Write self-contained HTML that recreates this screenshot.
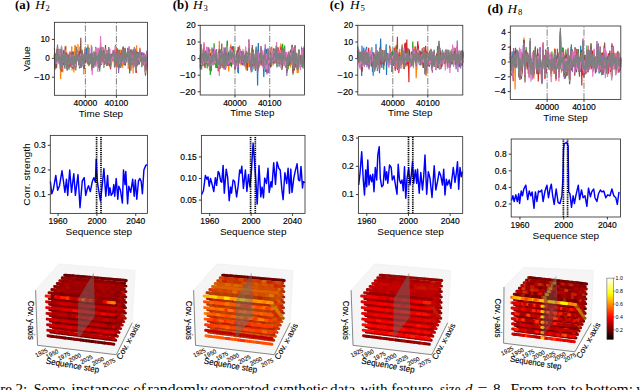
<!DOCTYPE html>
<html><head><meta charset="utf-8"><style>
html,body{margin:0;padding:0;background:#fff;width:640px;height:390px;overflow:hidden}
svg{display:block}
</style></head><body>
<svg width="640" height="390" viewBox="0 0 640 390">
<text x="15" y="9" font-family="Liberation Serif" font-size="12.8" font-weight="bold">(a)</text>
<text x="35.2" y="9" font-family="Liberation Serif" font-size="13.3" font-style="italic">H</text>
<text x="45.6" y="10.7" font-family="Liberation Serif" font-size="8.6">2</text>
<text x="172.8" y="9" font-family="Liberation Serif" font-size="12.8" font-weight="bold">(b)</text>
<text x="193" y="9" font-family="Liberation Serif" font-size="13.3" font-style="italic">H</text>
<text x="203.4" y="10.7" font-family="Liberation Serif" font-size="8.6">3</text>
<text x="329.8" y="9" font-family="Liberation Serif" font-size="12.8" font-weight="bold">(c)</text>
<text x="350" y="9" font-family="Liberation Serif" font-size="13.3" font-style="italic">H</text>
<text x="360.4" y="10.7" font-family="Liberation Serif" font-size="8.6">5</text>
<text x="487.4" y="12.8" font-family="Liberation Serif" font-size="12.8" font-weight="bold">(d)</text>
<text x="507.6" y="12.8" font-family="Liberation Serif" font-size="13.3" font-style="italic">H</text>
<text x="518" y="14.5" font-family="Liberation Serif" font-size="8.6">8</text>
<line x1="51.9" y1="77.2" x2="54.4" y2="77.2" stroke="#222" stroke-width="0.9"/>
<text x="49.8" y="80" font-size="8.2" font-family="Liberation Sans" text-anchor="end" textLength="15.62" lengthAdjust="spacingAndGlyphs" stroke="#000" stroke-width="0.15">−10</text>
<line x1="51.9" y1="58.3" x2="54.4" y2="58.3" stroke="#222" stroke-width="0.9"/>
<text x="49.8" y="61.1" font-size="8.2" font-family="Liberation Sans" text-anchor="end" textLength="4.57" lengthAdjust="spacingAndGlyphs" stroke="#000" stroke-width="0.15">0</text>
<line x1="51.9" y1="39.4" x2="54.4" y2="39.4" stroke="#222" stroke-width="0.9"/>
<text x="49.8" y="42.2" font-size="8.2" font-family="Liberation Sans" text-anchor="end" textLength="9.34" lengthAdjust="spacingAndGlyphs" stroke="#000" stroke-width="0.15">10</text>
<line x1="85.4" y1="95.3" x2="85.4" y2="22.3" stroke="#6a6a6a" stroke-width="0.85" stroke-dasharray="6.4 1.6 1 1.6"/>
<line x1="116.4" y1="95.3" x2="116.4" y2="22.3" stroke="#6a6a6a" stroke-width="0.85" stroke-dasharray="6.4 1.6 1 1.6"/>
<g fill="none" stroke-width="1.2" stroke-linejoin="miter">
<polyline stroke="#1f77b4" points="54.4,56.9 54.7,55.0 55.0,55.0 55.3,65.3 55.6,61.0 55.9,62.9 56.3,53.8 56.6,62.6 56.9,53.6 57.2,55.1 57.5,50.0 57.8,56.4 58.1,57.6 58.4,56.7 58.7,63.4 59.0,51.3 59.4,59.9 59.7,49.6 60.0,55.2 60.3,54.5 60.6,70.0 60.9,70.8 61.2,60.1 61.5,47.2 61.8,70.3 62.1,63.7 62.5,62.1 62.8,64.2 63.1,59.4 63.4,62.2 63.7,50.6 64.0,63.2 64.3,53.5 64.6,61.7 64.9,58.9 65.2,50.7 65.6,57.9 65.9,58.7 66.2,63.4 66.5,53.8 66.8,54.5 67.1,61.6 67.4,69.7 67.7,61.8 68.0,67.1 68.3,66.8 68.7,54.6 69.0,59.9 69.3,61.2 69.6,52.3 69.9,64.1 70.2,57.5 70.5,53.4 70.8,59.5 71.1,65.8 71.5,58.0 71.8,53.7 72.1,66.7 72.4,61.7 72.7,61.2 73.0,52.7 73.3,68.6 73.6,60.4 73.9,63.2 74.2,64.2 74.5,55.8 74.9,61.4 75.2,63.1 75.5,59.4 75.8,66.5 76.1,52.1 76.4,51.8 76.7,58.5 77.0,59.1 77.3,57.1 77.7,57.2 78.0,56.1 78.3,59.6 78.6,61.2 78.9,64.1 79.2,56.5 79.5,68.4 79.8,64.2 80.1,58.3 80.4,54.4 80.8,57.2 81.1,68.0 81.4,58.4 81.7,55.5 82.0,51.9 82.3,52.6 82.6,57.0 82.9,57.7 83.2,64.3 83.5,64.0 83.8,63.8 84.2,64.0 84.5,63.5 84.8,54.6 85.1,49.1 85.4,53.8 85.7,59.4 86.0,58.5 86.3,47.7 86.6,55.5 86.9,57.8 87.3,59.5 87.6,59.3 87.9,51.6 88.2,53.1 88.5,64.4 88.8,52.4 89.1,65.0 89.4,58.5 89.7,60.4 90.0,57.9 90.4,61.3 90.7,60.3 91.0,57.4 91.3,56.3 91.6,63.9 91.9,55.4 92.2,69.2 92.5,62.5 92.8,60.8 93.2,55.6 93.5,62.5 93.8,65.5 94.1,53.7 94.4,62.0 94.7,55.2 95.0,55.2 95.3,61.8 95.6,46.9 95.9,53.6 96.2,59.0 96.6,54.2 96.9,57.7 97.2,56.8 97.5,57.3 97.8,60.3 98.1,62.4 98.4,54.1 98.7,67.7 99.0,61.6 99.3,53.7 99.7,66.7 100.0,56.8 100.3,50.2 100.6,46.5 100.9,50.9 101.2,58.8 101.5,63.8 101.8,52.2 102.1,56.8 102.4,50.0 102.8,52.9 103.1,61.2 103.4,59.3 103.7,67.4 104.0,57.6 104.3,54.5 104.6,59.8 104.9,54.8 105.2,54.6 105.5,48.6 105.9,63.9 106.2,56.7 106.5,58.4 106.8,59.0 107.1,53.2 107.4,51.9 107.7,63.0 108.0,61.1 108.3,62.1 108.7,48.9 109.0,59.5 109.3,59.9 109.6,62.8 109.9,54.0 110.2,63.2 110.5,66.7 110.8,59.9 111.1,53.9 111.4,60.4 111.8,60.1 112.1,57.7 112.4,53.4 112.7,52.8 113.0,54.3 113.3,53.0 113.6,54.2 113.9,60.0 114.2,57.5 114.5,67.1 114.8,64.8 115.2,53.9 115.5,50.7 115.8,60.1 116.1,64.7 116.4,62.0 116.7,59.2 117.0,55.3 117.3,67.2 117.6,51.7 117.9,58.7 118.3,56.6 118.6,65.9 118.9,61.3 119.2,50.1 119.5,56.7 119.8,60.8 120.1,56.9 120.4,59.2 120.7,66.3 121.1,59.3 121.4,50.4 121.7,56.9 122.0,54.0 122.3,55.6 122.6,59.5 122.9,59.9 123.2,46.5 123.5,56.3 123.8,53.1 124.2,65.2 124.5,52.3 124.8,53.2 125.1,49.2 125.4,65.7 125.7,58.3 126.0,57.0 126.3,62.4 126.6,60.5 126.9,60.8 127.2,57.6 127.6,59.9 127.9,47.7 128.2,53.9 128.5,58.5 128.8,60.4 129.1,49.9 129.4,59.8 129.7,73.6 130.0,60.9 130.3,54.2 130.7,60.7 131.0,56.0 131.3,65.0 131.6,59.9 131.9,56.9 132.2,55.3 132.5,57.0 132.8,57.0 133.1,61.5 133.4,50.3 133.8,64.3 134.1,58.6 134.4,48.7 134.7,54.1 135.0,54.4 135.3,51.4 135.6,55.7 135.9,58.4 136.2,67.7 136.6,60.9 136.9,51.7 137.2,58.6 137.5,60.6 137.8,59.1 138.1,60.1 138.4,55.3 138.7,59.2 139.0,56.5 139.3,61.8 139.7,53.6 140.0,58.5 140.3,58.3 140.6,57.1 140.9,57.1 141.2,54.8 141.5,59.3 141.8,67.3 142.1,59.8 142.4,61.5 142.8,57.3 143.1,63.3 143.4,62.5 143.7,56.8 144.0,63.2 144.3,57.6 144.6,54.6 144.9,55.2 145.2,58.1 145.5,72.0 145.8,58.6 146.2,57.9 146.5,63.7 146.8,57.2 147.1,57.9 147.4,63.1"/>
<polyline stroke="#ff7f0e" points="54.4,48.0 54.7,52.3 55.0,70.0 55.3,65.9 55.6,55.2 55.9,63.7 56.3,56.4 56.6,59.9 56.9,49.6 57.2,51.9 57.5,54.0 57.8,57.6 58.1,51.1 58.4,56.6 58.7,57.8 59.0,52.2 59.4,64.2 59.7,59.2 60.0,69.3 60.3,60.3 60.6,78.9 60.9,69.6 61.2,54.0 61.5,49.1 61.8,64.5 62.1,60.1 62.5,56.0 62.8,72.2 63.1,58.5 63.4,56.6 63.7,53.9 64.0,61.8 64.3,61.3 64.6,63.8 64.9,54.7 65.2,57.9 65.6,64.8 65.9,45.7 66.2,62.1 66.5,58.2 66.8,66.4 67.1,68.0 67.4,70.0 67.7,56.2 68.0,54.7 68.3,59.9 68.7,61.3 69.0,59.1 69.3,63.0 69.6,56.8 69.9,67.9 70.2,63.5 70.5,51.4 70.8,59.0 71.1,65.1 71.5,53.7 71.8,46.2 72.1,70.4 72.4,61.6 72.7,60.5 73.0,58.8 73.3,59.5 73.6,60.1 73.9,72.5 74.2,60.7 74.5,59.7 74.9,45.1 75.2,53.0 75.5,66.7 75.8,45.8 76.1,51.8 76.4,58.8 76.7,61.1 77.0,60.5 77.3,56.8 77.7,60.4 78.0,44.0 78.3,58.1 78.6,55.1 78.9,63.2 79.2,55.7 79.5,66.8 79.8,46.4 80.1,60.4 80.4,58.6 80.8,63.9 81.1,64.8 81.4,60.6 81.7,54.4 82.0,49.3 82.3,60.9 82.6,61.2 82.9,57.2 83.2,62.8 83.5,55.6 83.8,74.5 84.2,62.5 84.5,58.2 84.8,55.3 85.1,47.0 85.4,59.7 85.7,60.2 86.0,59.4 86.3,58.9 86.6,58.7 86.9,59.9 87.3,58.6 87.6,60.7 87.9,44.3 88.2,52.7 88.5,66.2 88.8,56.0 89.1,66.1 89.4,57.6 89.7,62.6 90.0,53.7 90.4,61.8 90.7,55.6 91.0,55.1 91.3,55.8 91.6,66.6 91.9,54.9 92.2,66.0 92.5,63.1 92.8,61.6 93.2,58.8 93.5,59.4 93.8,61.4 94.1,54.1 94.4,57.7 94.7,53.5 95.0,53.6 95.3,60.9 95.6,47.6 95.9,52.9 96.2,61.3 96.6,56.5 96.9,59.5 97.2,56.9 97.5,56.6 97.8,59.7 98.1,65.9 98.4,54.6 98.7,65.9 99.0,59.6 99.3,52.9 99.7,62.9 100.0,54.3 100.3,55.0 100.6,47.6 100.9,51.8 101.2,59.3 101.5,63.1 101.8,53.2 102.1,52.2 102.4,52.5 102.8,50.0 103.1,58.6 103.4,60.4 103.7,67.5 104.0,55.9 104.3,53.3 104.6,62.1 104.9,57.5 105.2,54.1 105.5,52.8 105.9,61.6 106.2,59.1 106.5,62.6 106.8,65.6 107.1,56.2 107.4,50.9 107.7,63.1 108.0,60.7 108.3,65.9 108.7,52.2 109.0,57.7 109.3,60.5 109.6,58.9 109.9,54.6 110.2,57.4 110.5,69.2 110.8,58.7 111.1,55.2 111.4,60.9 111.8,63.0 112.1,57.2 112.4,56.3 112.7,52.9 113.0,52.7 113.3,53.1 113.6,57.3 113.9,52.8 114.2,61.2 114.5,58.3 114.8,65.7 115.2,52.7 115.5,48.7 115.8,60.2 116.1,61.3 116.4,62.5 116.7,68.2 117.0,48.0 117.3,62.1 117.6,53.7 117.9,58.4 118.3,52.0 118.6,63.8 118.9,61.0 119.2,50.5 119.5,50.7 119.8,61.8 120.1,49.6 120.4,63.8 120.7,66.5 121.1,51.2 121.4,51.0 121.7,60.8 122.0,49.4 122.3,57.8 122.6,67.7 122.9,59.0 123.2,46.8 123.5,58.1 123.8,53.3 124.2,59.0 124.5,52.6 124.8,49.5 125.1,47.7 125.4,61.1 125.7,60.1 126.0,58.2 126.3,54.0 126.6,58.5 126.9,56.5 127.2,59.8 127.6,54.0 127.9,52.1 128.2,68.9 128.5,62.1 128.8,60.5 129.1,51.3 129.4,49.8 129.7,66.9 130.0,55.0 130.3,50.7 130.7,63.4 131.0,70.7 131.3,67.9 131.6,59.3 131.9,60.5 132.2,64.4 132.5,60.5 132.8,52.3 133.1,73.6 133.4,51.5 133.8,65.2 134.1,61.6 134.4,63.9 134.7,55.3 135.0,55.6 135.3,52.9 135.6,51.2 135.9,58.5 136.2,72.8 136.6,45.3 136.9,60.8 137.2,59.3 137.5,66.1 137.8,56.8 138.1,54.7 138.4,54.4 138.7,58.7 139.0,53.8 139.3,56.8 139.7,49.3 140.0,47.8 140.3,52.8 140.6,60.8 140.9,53.1 141.2,59.2 141.5,52.1 141.8,58.6 142.1,64.1 142.4,63.7 142.8,60.7 143.1,65.9 143.4,61.6 143.7,61.4 144.0,54.3 144.3,57.1 144.6,54.0 144.9,63.4 145.2,55.7 145.5,69.6 145.8,54.3 146.2,61.9 146.5,69.9 146.8,59.3 147.1,54.8 147.4,59.2"/>
<polyline stroke="#2ca02c" points="54.4,57.1 54.7,53.6 55.0,54.2 55.3,67.6 55.6,55.6 55.9,58.2 56.3,58.0 56.6,65.0 56.9,49.1 57.2,55.4 57.5,48.4 57.8,53.5 58.1,55.3 58.4,59.1 58.7,61.6 59.0,49.8 59.4,59.6 59.7,54.4 60.0,59.6 60.3,57.1 60.6,68.2 60.9,69.5 61.2,57.7 61.5,47.3 61.8,67.4 62.1,60.2 62.5,55.7 62.8,61.2 63.1,60.9 63.4,58.5 63.7,50.8 64.0,58.3 64.3,57.0 64.6,64.5 64.9,53.5 65.2,51.3 65.6,57.5 65.9,63.2 66.2,63.4 66.5,57.7 66.8,57.6 67.1,57.1 67.4,67.5 67.7,61.1 68.0,66.3 68.3,64.2 68.7,55.1 69.0,69.8 69.3,58.3 69.6,52.9 69.9,60.1 70.2,59.0 70.5,57.1 70.8,59.8 71.1,66.5 71.5,62.1 71.8,57.9 72.1,67.9 72.4,58.4 72.7,63.1 73.0,57.3 73.3,66.5 73.6,59.6 73.9,64.5 74.2,66.7 74.5,56.1 74.9,60.1 75.2,57.0 75.5,61.9 75.8,70.4 76.1,53.6 76.4,54.9 76.7,56.5 77.0,61.2 77.3,54.4 77.7,55.3 78.0,61.2 78.3,54.3 78.6,62.7 78.9,61.3 79.2,58.6 79.5,61.7 79.8,59.4 80.1,52.2 80.4,53.7 80.8,55.6 81.1,61.8 81.4,56.7 81.7,56.9 82.0,50.2 82.3,54.4 82.6,60.1 82.9,60.7 83.2,67.3 83.5,58.3 83.8,62.7 84.2,69.0 84.5,62.7 84.8,59.0 85.1,51.4 85.4,58.7 85.7,60.5 86.0,57.9 86.3,53.5 86.6,55.7 86.9,60.2 87.3,62.9 87.6,61.2 87.9,46.6 88.2,56.0 88.5,63.6 88.8,58.4 89.1,64.9 89.4,52.4 89.7,63.1 90.0,54.3 90.4,55.4 90.7,62.0 91.0,58.3 91.3,55.7 91.6,64.8 91.9,53.2 92.2,70.2 92.5,66.1 92.8,59.6 93.2,56.2 93.5,58.2 93.8,61.1 94.1,53.6 94.4,62.0 94.7,57.8 95.0,56.0 95.3,61.2 95.6,53.8 95.9,55.3 96.2,53.6 96.6,59.4 96.9,57.8 97.2,51.4 97.5,55.8 97.8,57.5 98.1,64.9 98.4,50.4 98.7,66.6 99.0,57.3 99.3,55.7 99.7,71.6 100.0,57.7 100.3,53.5 100.6,53.4 100.9,53.6 101.2,58.2 101.5,64.2 101.8,51.8 102.1,54.4 102.4,50.6 102.8,47.1 103.1,59.4 103.4,60.1 103.7,62.2 104.0,56.7 104.3,53.0 104.6,61.0 104.9,56.2 105.2,50.0 105.5,48.7 105.9,58.8 106.2,58.1 106.5,61.3 106.8,65.9 107.1,63.7 107.4,55.9 107.7,56.9 108.0,61.7 108.3,60.7 108.7,47.1 109.0,60.7 109.3,64.7 109.6,58.5 109.9,54.8 110.2,61.8 110.5,67.8 110.8,55.7 111.1,58.4 111.4,55.9 111.8,57.5 112.1,59.2 112.4,54.5 112.7,55.9 113.0,60.6 113.3,55.8 113.6,50.3 113.9,53.8 114.2,62.1 114.5,54.0 114.8,63.8 115.2,51.7 115.5,48.8 115.8,59.7 116.1,59.3 116.4,58.2 116.7,58.2 117.0,55.4 117.3,63.8 117.6,48.6 117.9,51.8 118.3,57.0 118.6,67.9 118.9,60.3 119.2,49.9 119.5,58.3 119.8,67.7 120.1,63.6 120.4,58.2 120.7,61.8 121.1,64.0 121.4,55.5 121.7,55.2 122.0,53.7 122.3,54.1 122.6,63.0 122.9,56.0 123.2,48.5 123.5,57.7 123.8,53.4 124.2,60.4 124.5,52.8 124.8,53.1 125.1,48.8 125.4,61.6 125.7,59.7 126.0,58.1 126.3,62.8 126.6,60.8 126.9,57.4 127.2,59.0 127.6,54.7 127.9,51.9 128.2,58.5 128.5,56.3 128.8,64.2 129.1,52.1 129.4,63.4 129.7,70.9 130.0,54.5 130.3,53.9 130.7,62.4 131.0,52.6 131.3,66.0 131.6,64.4 131.9,59.8 132.2,61.2 132.5,57.4 132.8,52.0 133.1,59.3 133.4,49.6 133.8,67.6 134.1,57.7 134.4,48.0 134.7,63.6 135.0,55.1 135.3,54.1 135.6,57.2 135.9,60.0 136.2,72.6 136.6,63.5 136.9,53.6 137.2,54.9 137.5,60.4 137.8,55.4 138.1,61.3 138.4,52.6 138.7,62.0 139.0,57.3 139.3,58.9 139.7,50.5 140.0,60.1 140.3,56.2 140.6,56.6 140.9,58.3 141.2,57.0 141.5,63.5 141.8,55.4 142.1,62.9 142.4,59.8 142.8,56.7 143.1,63.6 143.4,63.8 143.7,52.9 144.0,63.3 144.3,59.8 144.6,56.9 144.9,59.1 145.2,60.7 145.5,75.8 145.8,57.9 146.2,56.0 146.5,65.3 146.8,56.0 147.1,60.3 147.4,61.4"/>
<polyline stroke="#d62728" points="54.4,55.8 54.7,55.0 55.0,54.9 55.3,66.7 55.6,62.5 55.9,64.8 56.3,59.7 56.6,62.0 56.9,52.0 57.2,54.9 57.5,48.9 57.8,54.5 58.1,49.3 58.4,58.2 58.7,61.5 59.0,51.4 59.4,54.1 59.7,57.1 60.0,60.5 60.3,56.7 60.6,63.0 60.9,67.2 61.2,54.3 61.5,50.9 61.8,71.7 62.1,58.6 62.5,57.8 62.8,60.6 63.1,56.9 63.4,64.8 63.7,52.1 64.0,60.0 64.3,60.4 64.6,64.3 64.9,56.4 65.2,50.9 65.6,53.1 65.9,57.4 66.2,59.8 66.5,56.1 66.8,55.0 67.1,60.0 67.4,68.6 67.7,63.3 68.0,65.5 68.3,59.8 68.7,59.2 69.0,61.9 69.3,59.7 69.6,56.1 69.9,61.6 70.2,57.8 70.5,53.4 70.8,62.5 71.1,66.4 71.5,55.5 71.8,52.7 72.1,65.6 72.4,59.9 72.7,64.3 73.0,51.5 73.3,67.9 73.6,59.6 73.9,65.1 74.2,64.5 74.5,58.2 74.9,60.4 75.2,57.4 75.5,64.0 75.8,66.7 76.1,54.3 76.4,51.0 76.7,59.0 77.0,60.8 77.3,51.8 77.7,56.3 78.0,59.3 78.3,56.2 78.6,59.9 78.9,61.9 79.2,51.0 79.5,61.6 79.8,60.6 80.1,55.5 80.4,53.7 80.8,56.4 81.1,64.1 81.4,54.9 81.7,56.3 82.0,51.8 82.3,57.0 82.6,58.9 82.9,60.2 83.2,61.0 83.5,56.8 83.8,60.1 84.2,67.3 84.5,60.2 84.8,52.2 85.1,51.9 85.4,62.3 85.7,60.5 86.0,57.0 86.3,59.5 86.6,61.4 86.9,58.5 87.3,58.4 87.6,58.1 87.9,48.7 88.2,57.2 88.5,63.8 88.8,51.3 89.1,61.7 89.4,58.7 89.7,59.3 90.0,54.9 90.4,63.4 90.7,62.4 91.0,56.3 91.3,54.8 91.6,65.0 91.9,53.0 92.2,70.9 92.5,66.9 92.8,61.5 93.2,58.8 93.5,60.9 93.8,57.0 94.1,54.6 94.4,59.5 94.7,60.8 95.0,56.0 95.3,59.0 95.6,48.8 95.9,51.8 96.2,60.1 96.6,61.5 96.9,56.0 97.2,57.2 97.5,55.7 97.8,63.8 98.1,59.6 98.4,51.5 98.7,60.0 99.0,61.1 99.3,52.7 99.7,66.5 100.0,54.3 100.3,50.7 100.6,49.1 100.9,48.0 101.2,59.2 101.5,63.0 101.8,52.2 102.1,52.1 102.4,50.2 102.8,49.5 103.1,59.5 103.4,61.3 103.7,64.6 104.0,55.2 104.3,56.6 104.6,61.6 104.9,56.1 105.2,55.0 105.5,45.0 105.9,62.1 106.2,56.7 106.5,62.1 106.8,57.9 107.1,50.1 107.4,54.6 107.7,62.6 108.0,58.6 108.3,63.9 108.7,49.7 109.0,63.1 109.3,62.5 109.6,66.1 109.9,54.7 110.2,55.4 110.5,69.2 110.8,59.1 111.1,58.5 111.4,61.3 111.8,60.3 112.1,59.5 112.4,54.4 112.7,51.5 113.0,52.6 113.3,53.7 113.6,57.0 113.9,54.9 114.2,59.5 114.5,55.9 114.8,67.3 115.2,57.7 115.5,48.4 115.8,59.6 116.1,63.1 116.4,56.7 116.7,62.3 117.0,49.4 117.3,65.6 117.6,50.2 117.9,52.2 118.3,53.7 118.6,70.0 118.9,61.4 119.2,53.0 119.5,62.5 119.8,62.2 120.1,53.0 120.4,55.1 120.7,67.7 121.1,55.9 121.4,55.4 121.7,51.3 122.0,51.0 122.3,55.7 122.6,62.8 122.9,61.0 123.2,52.8 123.5,55.5 123.8,51.7 124.2,64.7 124.5,54.7 124.8,58.6 125.1,48.9 125.4,60.5 125.7,62.2 126.0,57.1 126.3,56.2 126.6,59.5 126.9,59.2 127.2,55.8 127.6,55.4 127.9,50.3 128.2,56.4 128.5,52.9 128.8,61.7 129.1,51.0 129.4,61.7 129.7,65.8 130.0,54.3 130.3,55.4 130.7,61.2 131.0,50.8 131.3,68.0 131.6,61.4 131.9,58.4 132.2,58.5 132.5,58.3 132.8,56.2 133.1,55.9 133.4,49.6 133.8,66.5 134.1,55.2 134.4,51.8 134.7,56.5 135.0,51.3 135.3,51.5 135.6,54.8 135.9,61.7 136.2,72.9 136.6,61.0 136.9,54.3 137.2,54.9 137.5,64.6 137.8,56.7 138.1,59.2 138.4,55.6 138.7,62.4 139.0,53.4 139.3,64.5 139.7,50.1 140.0,53.4 140.3,61.7 140.6,55.5 140.9,59.2 141.2,52.7 141.5,62.5 141.8,60.4 142.1,58.8 142.4,63.6 142.8,54.3 143.1,61.4 143.4,58.9 143.7,54.3 144.0,63.1 144.3,58.0 144.6,62.0 144.9,55.5 145.2,58.9 145.5,73.5 145.8,58.7 146.2,54.8 146.5,64.2 146.8,57.8 147.1,59.4 147.4,64.0"/>
<polyline stroke="#9467bd" points="54.4,56.2 54.7,56.5 55.0,56.2 55.3,66.4 55.6,61.0 55.9,64.4 56.3,59.2 56.6,60.0 56.9,53.2 57.2,55.1 57.5,46.9 57.8,53.2 58.1,57.9 58.4,59.8 58.7,58.0 59.0,48.8 59.4,57.9 59.7,53.9 60.0,58.7 60.3,53.6 60.6,62.1 60.9,64.8 61.2,54.7 61.5,47.2 61.8,66.3 62.1,63.1 62.5,60.7 62.8,62.4 63.1,55.9 63.4,62.8 63.7,49.7 64.0,63.2 64.3,59.4 64.6,65.1 64.9,58.4 65.2,50.9 65.6,54.1 65.9,60.3 66.2,64.8 66.5,56.3 66.8,57.1 67.1,58.3 67.4,71.1 67.7,63.3 68.0,59.5 68.3,59.8 68.7,56.4 69.0,67.8 69.3,57.6 69.6,51.7 69.9,62.4 70.2,58.0 70.5,57.8 70.8,61.5 71.1,61.0 71.5,56.7 71.8,53.9 72.1,67.3 72.4,62.3 72.7,59.9 73.0,52.1 73.3,66.5 73.6,59.4 73.9,60.9 74.2,65.6 74.5,56.5 74.9,61.3 75.2,57.6 75.5,63.3 75.8,68.1 76.1,56.1 76.4,53.9 76.7,55.0 77.0,58.2 77.3,50.8 77.7,51.1 78.0,59.8 78.3,55.3 78.6,58.7 78.9,63.1 79.2,60.0 79.5,64.5 79.8,56.3 80.1,55.5 80.4,56.3 80.8,57.8 81.1,67.9 81.4,58.7 81.7,57.6 82.0,52.7 82.3,54.5 82.6,59.5 82.9,60.0 83.2,63.9 83.5,65.6 83.8,64.0 84.2,66.9 84.5,60.7 84.8,55.6 85.1,49.3 85.4,58.8 85.7,60.2 86.0,55.1 86.3,58.0 86.6,56.9 86.9,57.8 87.3,61.2 87.6,58.1 87.9,50.1 88.2,51.9 88.5,64.0 88.8,52.6 89.1,55.8 89.4,52.8 89.7,60.2 90.0,58.7 90.4,59.2 90.7,60.4 91.0,56.1 91.3,56.7 91.6,66.2 91.9,54.0 92.2,69.9 92.5,68.4 92.8,57.3 93.2,59.0 93.5,60.7 93.8,60.1 94.1,56.6 94.4,55.3 94.7,55.1 95.0,52.2 95.3,66.6 95.6,48.7 95.9,54.9 96.2,59.8 96.6,55.1 96.9,56.4 97.2,53.6 97.5,53.7 97.8,63.6 98.1,62.0 98.4,51.8 98.7,65.3 99.0,63.8 99.3,56.5 99.7,68.7 100.0,53.3 100.3,54.1 100.6,45.9 100.9,57.3 101.2,57.7 101.5,61.3 101.8,53.4 102.1,53.5 102.4,52.0 102.8,53.0 103.1,60.7 103.4,59.9 103.7,63.6 104.0,56.2 104.3,56.0 104.6,62.9 104.9,55.2 105.2,55.1 105.5,53.2 105.9,59.0 106.2,58.7 106.5,60.8 106.8,60.7 107.1,55.8 107.4,52.3 107.7,60.0 108.0,60.7 108.3,59.2 108.7,49.0 109.0,61.8 109.3,58.1 109.6,62.8 109.9,59.2 110.2,58.7 110.5,67.8 110.8,61.6 111.1,59.6 111.4,57.2 111.8,59.7 112.1,55.6 112.4,56.5 112.7,54.7 113.0,51.9 113.3,53.8 113.6,53.7 113.9,54.6 114.2,58.3 114.5,60.3 114.8,64.3 115.2,55.2 115.5,44.8 115.8,60.9 116.1,59.9 116.4,54.3 116.7,61.0 117.0,53.1 117.3,66.8 117.6,50.1 117.9,54.8 118.3,54.5 118.6,73.3 118.9,55.0 119.2,50.9 119.5,56.5 119.8,61.4 120.1,55.1 120.4,57.2 120.7,62.2 121.1,57.1 121.4,52.6 121.7,54.2 122.0,52.4 122.3,58.4 122.6,60.0 122.9,60.6 123.2,46.9 123.5,58.3 123.8,58.1 124.2,63.5 124.5,52.3 124.8,57.3 125.1,48.1 125.4,60.6 125.7,60.9 126.0,60.8 126.3,59.8 126.6,59.3 126.9,58.1 127.2,56.9 127.6,57.2 127.9,51.6 128.2,57.2 128.5,54.0 128.8,63.5 129.1,46.5 129.4,64.0 129.7,70.3 130.0,58.4 130.3,54.0 130.7,62.4 131.0,49.4 131.3,66.2 131.6,66.5 131.9,61.0 132.2,57.7 132.5,59.9 132.8,59.7 133.1,60.7 133.4,53.9 133.8,62.3 134.1,56.3 134.4,47.1 134.7,61.7 135.0,55.4 135.3,48.9 135.6,58.2 135.9,59.6 136.2,70.3 136.6,62.2 136.9,51.5 137.2,58.3 137.5,62.9 137.8,58.4 138.1,58.6 138.4,52.1 138.7,64.5 139.0,59.6 139.3,58.9 139.7,49.9 140.0,56.9 140.3,57.0 140.6,53.4 140.9,58.5 141.2,57.7 141.5,60.0 141.8,58.8 142.1,61.4 142.4,62.9 142.8,52.0 143.1,63.0 143.4,62.6 143.7,55.3 144.0,61.7 144.3,56.6 144.6,55.6 144.9,61.2 145.2,58.0 145.5,72.3 145.8,59.5 146.2,57.6 146.5,61.5 146.8,50.5 147.1,56.6 147.4,61.1"/>
<polyline stroke="#8c564b" points="54.4,56.1 54.7,53.2 55.0,55.7 55.3,68.6 55.6,60.6 55.9,61.0 56.3,56.8 56.6,68.3 56.9,53.7 57.2,54.6 57.5,50.1 57.8,54.2 58.1,54.7 58.4,57.8 58.7,60.9 59.0,50.8 59.4,57.0 59.7,56.1 60.0,58.8 60.3,55.3 60.6,66.3 60.9,69.7 61.2,52.3 61.5,49.6 61.8,67.6 62.1,60.3 62.5,57.9 62.8,60.1 63.1,62.7 63.4,64.7 63.7,51.1 64.0,56.8 64.3,56.2 64.6,63.7 64.9,55.1 65.2,46.2 65.6,53.6 65.9,58.3 66.2,65.7 66.5,55.5 66.8,52.6 67.1,59.4 67.4,68.2 67.7,64.2 68.0,63.8 68.3,61.2 68.7,56.1 69.0,66.5 69.3,58.4 69.6,56.4 69.9,58.3 70.2,60.5 70.5,56.0 70.8,62.5 71.1,63.5 71.5,59.3 71.8,53.7 72.1,63.1 72.4,59.5 72.7,59.1 73.0,51.4 73.3,68.9 73.6,58.1 73.9,63.3 74.2,63.2 74.5,57.1 74.9,62.3 75.2,58.8 75.5,62.6 75.8,65.2 76.1,54.8 76.4,54.7 76.7,59.0 77.0,58.2 77.3,52.6 77.7,58.3 78.0,56.6 78.3,58.0 78.6,63.9 78.9,63.6 79.2,57.8 79.5,62.9 79.8,55.8 80.1,56.3 80.4,55.1 80.8,37.8 81.1,65.6 81.4,62.8 81.7,51.8 82.0,53.5 82.3,51.6 82.6,57.2 82.9,58.0 83.2,63.5 83.5,56.8 83.8,63.5 84.2,68.9 84.5,63.7 84.8,55.9 85.1,53.5 85.4,55.7 85.7,60.9 86.0,58.7 86.3,53.1 86.6,58.2 86.9,56.0 87.3,59.1 87.6,57.6 87.9,50.1 88.2,51.8 88.5,59.2 88.8,54.7 89.1,63.6 89.4,58.1 89.7,62.1 90.0,54.1 90.4,58.1 90.7,60.0 91.0,57.8 91.3,55.1 91.6,66.7 91.9,54.6 92.2,66.3 92.5,63.1 92.8,60.4 93.2,56.5 93.5,61.2 93.8,67.9 94.1,54.4 94.4,56.8 94.7,56.1 95.0,54.2 95.3,61.1 95.6,51.2 95.9,51.2 96.2,60.7 96.6,58.9 96.9,57.9 97.2,54.0 97.5,57.9 97.8,59.9 98.1,64.9 98.4,57.8 98.7,68.3 99.0,61.6 99.3,49.2 99.7,65.7 100.0,52.7 100.3,56.6 100.6,43.3 100.9,55.2 101.2,54.7 101.5,65.0 101.8,51.1 102.1,55.8 102.4,50.6 102.8,50.4 103.1,54.4 103.4,58.0 103.7,63.8 104.0,56.8 104.3,52.7 104.6,65.0 104.9,61.2 105.2,51.0 105.5,51.3 105.9,59.0 106.2,57.1 106.5,59.9 106.8,66.0 107.1,55.2 107.4,56.0 107.7,56.6 108.0,60.1 108.3,61.9 108.7,49.7 109.0,62.1 109.3,63.7 109.6,61.4 109.9,57.8 110.2,61.0 110.5,64.6 110.8,56.1 111.1,56.5 111.4,60.4 111.8,58.9 112.1,58.0 112.4,59.1 112.7,56.7 113.0,55.5 113.3,50.4 113.6,58.1 113.9,54.8 114.2,59.4 114.5,58.0 114.8,65.0 115.2,53.2 115.5,49.2 115.8,58.1 116.1,64.3 116.4,57.4 116.7,59.4 117.0,53.4 117.3,64.6 117.6,52.0 117.9,51.5 118.3,53.7 118.6,66.9 118.9,58.2 119.2,52.2 119.5,56.1 119.8,63.4 120.1,58.4 120.4,56.5 120.7,65.9 121.1,58.0 121.4,53.2 121.7,51.6 122.0,54.4 122.3,57.0 122.6,59.4 122.9,55.1 123.2,47.4 123.5,57.0 123.8,53.5 124.2,59.2 124.5,55.0 124.8,56.7 125.1,48.9 125.4,58.2 125.7,55.4 126.0,56.4 126.3,55.8 126.6,61.0 126.9,56.7 127.2,56.9 127.6,54.2 127.9,48.5 128.2,56.2 128.5,52.6 128.8,61.2 129.1,49.1 129.4,62.3 129.7,70.3 130.0,54.3 130.3,55.1 130.7,66.1 131.0,49.2 131.3,65.9 131.6,66.2 131.9,58.9 132.2,61.2 132.5,62.0 132.8,51.1 133.1,63.3 133.4,51.0 133.8,61.7 134.1,56.9 134.4,49.9 134.7,56.8 135.0,51.6 135.3,52.0 135.6,57.5 135.9,62.4 136.2,69.0 136.6,59.8 136.9,51.5 137.2,58.1 137.5,64.9 137.8,59.6 138.1,55.0 138.4,57.5 138.7,61.9 139.0,54.0 139.3,58.1 139.7,50.1 140.0,55.6 140.3,59.8 140.6,52.5 140.9,59.0 141.2,57.2 141.5,60.7 141.8,56.0 142.1,59.8 142.4,61.9 142.8,57.7 143.1,60.6 143.4,58.3 143.7,57.3 144.0,64.4 144.3,58.5 144.6,56.8 144.9,58.0 145.2,59.7 145.5,74.4 145.8,57.6 146.2,60.2 146.5,61.3 146.8,56.0 147.1,64.4 147.4,67.0"/>
<polyline stroke="#e377c2" points="54.4,55.6 54.7,58.1 55.0,55.2 55.3,62.9 55.6,59.6 55.9,62.7 56.3,58.4 56.6,63.7 56.9,54.8 57.2,55.7 57.5,46.5 57.8,56.0 58.1,53.4 58.4,57.9 58.7,62.1 59.0,49.7 59.4,56.8 59.7,56.3 60.0,56.9 60.3,53.1 60.6,64.8 60.9,63.8 61.2,54.3 61.5,45.6 61.8,69.2 62.1,59.9 62.5,55.3 62.8,61.9 63.1,58.1 63.4,62.5 63.7,53.7 64.0,58.0 64.3,58.4 64.6,64.2 64.9,56.4 65.2,49.8 65.6,55.8 65.9,57.8 66.2,63.6 66.5,56.1 66.8,56.0 67.1,59.6 67.4,71.0 67.7,61.9 68.0,61.8 68.3,64.7 68.7,58.7 69.0,64.8 69.3,57.8 69.6,51.5 69.9,61.6 70.2,56.9 70.5,54.0 70.8,62.4 71.1,63.1 71.5,56.0 71.8,55.8 72.1,67.0 72.4,57.3 72.7,60.9 73.0,54.6 73.3,67.0 73.6,58.8 73.9,67.5 74.2,62.3 74.5,57.6 74.9,64.4 75.2,60.5 75.5,63.6 75.8,66.4 76.1,56.3 76.4,51.2 76.7,60.1 77.0,60.1 77.3,50.7 77.7,59.6 78.0,60.4 78.3,57.2 78.6,61.7 78.9,61.4 79.2,58.4 79.5,63.4 79.8,58.3 80.1,58.4 80.4,54.5 80.8,55.1 81.1,64.2 81.4,61.2 81.7,54.9 82.0,54.7 82.3,55.3 82.6,59.5 82.9,59.6 83.2,65.7 83.5,60.4 83.8,62.9 84.2,65.0 84.5,60.7 84.8,55.6 85.1,50.9 85.4,54.6 85.7,56.9 86.0,56.3 86.3,57.8 86.6,58.0 86.9,58.0 87.3,63.8 87.6,50.4 87.9,50.2 88.2,54.4 88.5,62.5 88.8,52.8 89.1,60.9 89.4,47.8 89.7,61.6 90.0,59.8 90.4,55.5 90.7,56.4 91.0,62.5 91.3,44.7 91.6,68.1 91.9,55.0 92.2,74.9 92.5,69.5 92.8,60.5 93.2,55.8 93.5,59.5 93.8,51.3 94.1,60.0 94.4,52.9 94.7,62.0 95.0,58.8 95.3,56.0 95.6,48.3 95.9,65.8 96.2,66.5 96.6,58.7 96.9,47.7 97.2,49.7 97.5,56.9 97.8,72.0 98.1,60.3 98.4,47.8 98.7,62.6 99.0,63.3 99.3,49.6 99.7,59.7 100.0,48.9 100.3,46.8 100.6,36.0 100.9,52.0 101.2,61.4 101.5,64.3 101.8,52.7 102.1,52.6 102.4,48.4 102.8,54.5 103.1,57.7 103.4,60.2 103.7,68.0 104.0,54.5 104.3,55.8 104.6,60.6 104.9,56.6 105.2,52.4 105.5,48.7 105.9,64.2 106.2,58.9 106.5,56.5 106.8,61.8 107.1,49.8 107.4,53.4 107.7,59.9 108.0,51.9 108.3,63.2 108.7,57.4 109.0,62.7 109.3,62.6 109.6,61.1 109.9,48.5 110.2,63.8 110.5,62.0 110.8,58.0 111.1,63.6 111.4,60.9 111.8,60.6 112.1,57.7 112.4,54.6 112.7,50.2 113.0,58.6 113.3,55.9 113.6,54.0 113.9,59.5 114.2,61.8 114.5,55.1 114.8,64.9 115.2,45.9 115.5,49.5 115.8,59.9 116.1,59.5 116.4,54.3 116.7,60.8 117.0,53.7 117.3,64.2 117.6,51.8 117.9,51.0 118.3,55.7 118.6,64.0 118.9,58.6 119.2,53.7 119.5,55.9 119.8,64.3 120.1,59.9 120.4,58.4 120.7,62.6 121.1,57.5 121.4,52.9 121.7,54.8 122.0,51.5 122.3,58.1 122.6,63.5 122.9,57.9 123.2,49.6 123.5,54.0 123.8,56.1 124.2,63.5 124.5,53.0 124.8,58.9 125.1,52.8 125.4,61.2 125.7,56.3 126.0,62.4 126.3,62.2 126.6,61.6 126.9,59.8 127.2,57.0 127.6,59.1 127.9,49.4 128.2,53.9 128.5,58.1 128.8,62.2 129.1,46.2 129.4,62.5 129.7,66.0 130.0,57.2 130.3,57.5 130.7,65.0 131.0,52.3 131.3,67.9 131.6,65.3 131.9,57.7 132.2,60.7 132.5,61.2 132.8,54.8 133.1,59.1 133.4,50.9 133.8,67.6 134.1,55.5 134.4,48.4 134.7,57.7 135.0,53.2 135.3,51.1 135.6,58.3 135.9,59.4 136.2,70.4 136.6,62.4 136.9,54.8 137.2,59.2 137.5,60.8 137.8,57.8 138.1,55.9 138.4,56.3 138.7,59.6 139.0,56.9 139.3,62.0 139.7,47.7 140.0,53.1 140.3,58.0 140.6,57.2 140.9,56.1 141.2,56.8 141.5,60.0 141.8,56.8 142.1,63.7 142.4,58.2 142.8,55.2 143.1,63.0 143.4,61.7 143.7,56.9 144.0,64.9 144.3,60.3 144.6,55.2 144.9,55.4 145.2,59.9 145.5,72.9 145.8,56.3 146.2,58.5 146.5,63.6 146.8,54.2 147.1,59.5 147.4,64.9"/>
<polyline stroke="#7f7f7f" points="54.4,55.4 54.7,58.4 55.0,55.1 55.3,64.3 55.6,58.8 55.9,61.5 56.3,53.5 56.6,62.1 56.9,53.2 57.2,53.7 57.5,44.5 57.8,52.2 58.1,53.2 58.4,61.0 58.7,59.2 59.0,53.5 59.4,58.3 59.7,56.7 60.0,58.2 60.3,56.4 60.6,69.5 60.9,65.3 61.2,52.0 61.5,48.9 61.8,67.8 62.1,62.1 62.5,55.0 62.8,55.6 63.1,61.7 63.4,60.7 63.7,54.0 64.0,58.6 64.3,58.1 64.6,68.4 64.9,54.2 65.2,52.4 65.6,53.9 65.9,56.8 66.2,68.9 66.5,56.3 66.8,57.0 67.1,58.8 67.4,70.0 67.7,59.7 68.0,61.8 68.3,59.4 68.7,57.2 69.0,65.2 69.3,61.8 69.6,52.8 69.9,58.8 70.2,61.2 70.5,58.2 70.8,59.3 71.1,66.2 71.5,57.8 71.8,53.7 72.1,63.3 72.4,58.4 72.7,64.9 73.0,55.5 73.3,63.8 73.6,60.7 73.9,69.4 74.2,63.7 74.5,58.4 74.9,58.5 75.2,61.1 75.5,63.3 75.8,63.3 76.1,57.2 76.4,47.0 76.7,61.2 77.0,59.3 77.3,54.6 77.7,57.0 78.0,58.4 78.3,57.6 78.6,62.2 78.9,65.2 79.2,60.8 79.5,65.4 79.8,56.0 80.1,56.1 80.4,57.3 80.8,56.9 81.1,65.2 81.4,56.7 81.7,53.8 82.0,51.7 82.3,54.8 82.6,61.8 82.9,63.3 83.2,63.2 83.5,64.3 83.8,53.4 84.2,64.7 84.5,61.9 84.8,53.0 85.1,52.2 85.4,53.4 85.7,59.1 86.0,54.7 86.3,54.8 86.6,57.7 86.9,58.9 87.3,59.4 87.6,64.1 87.9,47.6 88.2,53.1 88.5,64.6 88.8,54.5 89.1,59.1 89.4,57.2 89.7,58.5 90.0,53.3 90.4,63.0 90.7,60.6 91.0,56.3 91.3,53.5 91.6,68.4 91.9,46.5 92.2,68.5 92.5,66.5 92.8,61.1 93.2,58.0 93.5,58.5 93.8,63.9 94.1,52.0 94.4,58.3 94.7,56.6 95.0,51.9 95.3,64.4 95.6,52.0 95.9,53.3 96.2,61.0 96.6,60.0 96.9,57.0 97.2,55.7 97.5,58.0 97.8,58.5 98.1,63.7 98.4,53.3 98.7,67.9 99.0,59.5 99.3,49.9 99.7,65.4 100.0,56.0 100.3,50.3 100.6,47.6 100.9,52.7 101.2,58.3 101.5,61.4 101.8,51.5 102.1,50.3 102.4,51.8 102.8,54.7 103.1,56.8 103.4,59.2 103.7,62.3 104.0,58.3 104.3,51.2 104.6,58.9 104.9,56.8 105.2,54.8 105.5,54.0 105.9,63.9 106.2,59.9 106.5,64.3 106.8,65.6 107.1,52.9 107.4,55.6 107.7,57.2 108.0,60.9 108.3,61.2 108.7,47.0 109.0,60.9 109.3,60.8 109.6,60.4 109.9,54.0 110.2,63.0 110.5,66.3 110.8,56.8 111.1,58.9 111.4,56.0 111.8,55.5 112.1,56.3 112.4,55.6 112.7,52.9 113.0,54.8 113.3,55.2 113.6,55.5 113.9,54.2 114.2,58.5 114.5,59.0 114.8,67.6 115.2,54.5 115.5,51.6 115.8,61.4 116.1,59.5 116.4,54.9 116.7,60.0 117.0,54.1 117.3,66.5 117.6,50.5 117.9,51.2 118.3,56.1 118.6,67.9 118.9,61.9 119.2,52.4 119.5,56.5 119.8,58.5 120.1,57.1 120.4,60.7 120.7,67.2 121.1,61.6 121.4,54.1 121.7,52.0 122.0,52.3 122.3,56.5 122.6,61.4 122.9,57.7 123.2,49.0 123.5,59.3 123.8,50.0 124.2,64.4 124.5,56.4 124.8,57.2 125.1,48.7 125.4,58.1 125.7,59.5 126.0,59.3 126.3,61.1 126.6,56.8 126.9,51.8 127.2,57.4 127.6,57.3 127.9,48.7 128.2,50.5 128.5,57.7 128.8,63.3 129.1,51.4 129.4,66.8 129.7,66.7 130.0,55.7 130.3,58.9 130.7,65.2 131.0,51.7 131.3,63.7 131.6,65.5 131.9,58.4 132.2,60.9 132.5,59.4 132.8,57.9 133.1,61.2 133.4,49.2 133.8,65.9 134.1,54.7 134.4,50.4 134.7,57.0 135.0,54.4 135.3,48.5 135.6,59.6 135.9,61.2 136.2,69.7 136.6,66.0 136.9,51.3 137.2,60.0 137.5,63.6 137.8,58.4 138.1,53.8 138.4,57.1 138.7,57.1 139.0,56.3 139.3,57.2 139.7,49.6 140.0,54.6 140.3,60.8 140.6,55.6 140.9,58.3 141.2,61.6 141.5,57.3 141.8,61.4 142.1,58.1 142.4,58.2 142.8,56.4 143.1,64.9 143.4,60.4 143.7,56.7 144.0,62.0 144.3,59.2 144.6,59.1 144.9,55.3 145.2,59.8 145.5,70.6 145.8,58.9 146.2,57.1 146.5,60.9 146.8,56.6 147.1,59.7 147.4,64.2"/>
</g>
<rect x="54.4" y="22.3" width="93" height="73" fill="none" stroke="#333" stroke-width="0.85"/>
<line x1="85.4" y1="95.3" x2="85.4" y2="97.8" stroke="#222" stroke-width="0.9"/>
<text x="85.4" y="106.3" font-size="8.2" font-family="Liberation Sans" text-anchor="middle" textLength="23.65" lengthAdjust="spacingAndGlyphs" stroke="#000" stroke-width="0.15">40000</text>
<line x1="116.4" y1="95.3" x2="116.4" y2="97.8" stroke="#222" stroke-width="0.9"/>
<text x="116.4" y="106.3" font-size="8.2" font-family="Liberation Sans" text-anchor="middle" textLength="23.65" lengthAdjust="spacingAndGlyphs" stroke="#000" stroke-width="0.15">40100</text>
<text x="100.9" y="116.6" font-size="9.1" font-family="Liberation Sans" text-anchor="middle" textLength="44.4" lengthAdjust="spacingAndGlyphs">Time Step</text>
<line x1="197.7" y1="91.8" x2="200.2" y2="91.8" stroke="#222" stroke-width="0.9"/>
<text x="195.6" y="94.6" font-size="8.2" font-family="Liberation Sans" text-anchor="end" textLength="15.62" lengthAdjust="spacingAndGlyphs" stroke="#000" stroke-width="0.15">−20</text>
<line x1="197.7" y1="75.2" x2="200.2" y2="75.2" stroke="#222" stroke-width="0.9"/>
<text x="195.6" y="78" font-size="8.2" font-family="Liberation Sans" text-anchor="end" textLength="15.62" lengthAdjust="spacingAndGlyphs" stroke="#000" stroke-width="0.15">−10</text>
<line x1="197.7" y1="58.6" x2="200.2" y2="58.6" stroke="#222" stroke-width="0.9"/>
<text x="195.6" y="61.4" font-size="8.2" font-family="Liberation Sans" text-anchor="end" textLength="4.57" lengthAdjust="spacingAndGlyphs" stroke="#000" stroke-width="0.15">0</text>
<line x1="197.7" y1="42" x2="200.2" y2="42" stroke="#222" stroke-width="0.9"/>
<text x="195.6" y="44.8" font-size="8.2" font-family="Liberation Sans" text-anchor="end" textLength="9.34" lengthAdjust="spacingAndGlyphs" stroke="#000" stroke-width="0.15">10</text>
<line x1="197.7" y1="25.4" x2="200.2" y2="25.4" stroke="#222" stroke-width="0.9"/>
<text x="195.6" y="28.2" font-size="8.2" font-family="Liberation Sans" text-anchor="end" textLength="9.34" lengthAdjust="spacingAndGlyphs" stroke="#000" stroke-width="0.15">20</text>
<line x1="234.97" y1="95" x2="234.97" y2="25.3" stroke="#6a6a6a" stroke-width="0.85" stroke-dasharray="6.4 1.6 1 1.6"/>
<line x1="269.73" y1="95" x2="269.73" y2="25.3" stroke="#6a6a6a" stroke-width="0.85" stroke-dasharray="6.4 1.6 1 1.6"/>
<g fill="none" stroke-width="1.2" stroke-linejoin="miter">
<polyline stroke="#1f77b4" points="200.2,59.1 200.5,64.8 200.9,47.8 201.2,56.4 201.6,62.5 201.9,58.0 202.3,61.1 202.6,55.2 203.0,66.2 203.3,52.7 203.7,56.2 204.0,51.1 204.4,56.7 204.7,51.9 205.1,57.7 205.4,53.5 205.8,61.0 206.1,53.9 206.5,60.3 206.8,52.2 207.2,59.7 207.5,54.6 207.8,57.5 208.2,57.2 208.5,52.8 208.9,52.8 209.2,55.6 209.6,62.5 209.9,56.6 210.3,60.9 210.6,65.4 211.0,56.3 211.3,66.1 211.7,56.5 212.0,47.6 212.4,54.7 212.7,64.6 213.1,64.7 213.4,49.8 213.8,63.6 214.1,51.1 214.5,61.8 214.8,55.9 215.1,56.0 215.5,57.8 215.8,62.3 216.2,51.4 216.5,54.1 216.9,60.9 217.2,60.5 217.6,65.7 217.9,65.4 218.3,64.0 218.6,55.9 219.0,65.1 219.3,50.1 219.7,62.5 220.0,65.9 220.4,58.3 220.7,61.1 221.1,53.4 221.4,59.9 221.8,52.9 222.1,67.9 222.5,60.6 222.8,62.7 223.1,60.1 223.5,64.6 223.8,57.4 224.2,66.6 224.5,52.2 224.9,54.0 225.2,53.5 225.6,67.3 225.9,53.8 226.3,61.5 226.6,59.7 227.0,58.6 227.3,40.6 227.7,60.0 228.0,61.2 228.4,51.7 228.7,65.7 229.1,60.2 229.4,59.0 229.8,59.6 230.1,60.4 230.4,51.5 230.8,49.2 231.1,53.8 231.5,61.0 231.8,55.9 232.2,46.1 232.5,50.7 232.9,55.1 233.2,62.4 233.6,53.7 233.9,55.1 234.3,63.1 234.6,54.8 235.0,69.8 235.3,62.3 235.7,64.6 236.0,62.3 236.4,62.2 236.7,62.0 237.1,62.3 237.4,51.4 237.7,63.2 238.1,62.0 238.4,73.6 238.8,49.4 239.1,58.4 239.5,58.3 239.8,49.7 240.2,56.4 240.5,61.5 240.9,62.3 241.2,57.5 241.6,59.1 241.9,58.8 242.3,54.5 242.6,60.3 243.0,55.7 243.3,63.3 243.7,64.5 244.0,60.4 244.4,64.5 244.7,61.1 245.0,66.4 245.4,58.9 245.7,50.7 246.1,69.1 246.4,52.6 246.8,55.2 247.1,55.2 247.5,70.8 247.8,55.5 248.2,60.8 248.5,50.6 248.9,47.2 249.2,52.3 249.6,61.7 249.9,56.7 250.3,57.7 250.6,64.7 251.0,59.8 251.3,69.9 251.7,55.7 252.0,71.7 252.3,55.7 252.7,62.8 253.0,57.8 253.4,64.7 253.7,64.2 254.1,55.5 254.4,55.8 254.8,56.5 255.1,55.6 255.5,70.9 255.8,50.4 256.2,46.5 256.5,63.7 256.9,57.5 257.2,59.5 257.6,85.4 257.9,56.8 258.3,43.0 258.6,52.4 259.0,63.2 259.3,60.4 259.7,66.1 260.0,55.4 260.3,55.3 260.7,54.7 261.0,57.4 261.4,54.2 261.7,56.0 262.1,64.3 262.4,58.5 262.8,59.3 263.1,63.4 263.5,67.6 263.8,77.1 264.2,65.7 264.5,56.9 264.9,57.6 265.2,48.2 265.6,56.2 265.9,72.0 266.3,56.6 266.6,48.9 267.0,58.1 267.3,64.8 267.6,60.6 268.0,48.2 268.3,63.3 268.7,51.8 269.0,60.3 269.4,60.6 269.7,56.5 270.1,56.7 270.4,58.8 270.8,65.3 271.1,52.3 271.5,66.4 271.8,53.7 272.2,58.2 272.5,61.7 272.9,61.2 273.2,60.0 273.6,48.2 273.9,63.9 274.3,61.4 274.6,60.3 274.9,49.2 275.3,63.1 275.6,53.5 276.0,55.2 276.3,48.9 276.7,52.7 277.0,64.8 277.4,54.0 277.7,59.6 278.1,55.0 278.4,57.6 278.8,59.6 279.1,66.7 279.5,55.7 279.8,58.3 280.2,60.5 280.5,56.8 280.9,45.6 281.2,63.2 281.6,55.6 281.9,68.5 282.2,57.0 282.6,52.6 282.9,66.0 283.3,53.6 283.6,51.6 284.0,55.8 284.3,58.4 284.7,54.4 285.0,65.6 285.4,59.6 285.7,64.2 286.1,67.4 286.4,58.1 286.8,68.1 287.1,69.1 287.5,66.9 287.8,58.1 288.2,59.6 288.5,61.2 288.9,62.0 289.2,58.8 289.6,61.7 289.9,56.7 290.2,54.8 290.6,53.9 290.9,59.8 291.3,56.6 291.6,64.2 292.0,48.5 292.3,54.9 292.7,52.0 293.0,64.8 293.4,57.0 293.7,51.6 294.1,55.2 294.4,66.4 294.8,53.6 295.1,47.0 295.5,57.3 295.8,64.7 296.2,66.6 296.5,55.4 296.9,56.8 297.2,66.3 297.5,68.1 297.9,59.1 298.2,66.1 298.6,57.2 298.9,51.5 299.3,55.4 299.6,58.2 300.0,60.4 300.3,55.3 300.7,62.4 301.0,60.8 301.4,67.0 301.7,48.2 302.1,48.9 302.4,62.4 302.8,54.0 303.1,60.9 303.5,62.5 303.8,50.0 304.2,58.3 304.5,55.2"/>
<polyline stroke="#ff7f0e" points="200.2,68.2 200.5,65.4 200.9,55.2 201.2,44.4 201.6,66.8 201.9,59.7 202.3,63.5 202.6,53.6 203.0,61.3 203.3,48.0 203.7,55.6 204.0,47.9 204.4,49.9 204.7,67.4 205.1,50.6 205.4,60.4 205.8,57.5 206.1,55.0 206.5,62.9 206.8,52.6 207.2,63.3 207.5,57.4 207.8,55.9 208.2,62.6 208.5,47.3 208.9,57.0 209.2,63.4 209.6,70.4 209.9,57.6 210.3,56.7 210.6,66.6 211.0,49.1 211.3,66.2 211.7,59.4 212.0,50.4 212.4,56.8 212.7,63.8 213.1,55.3 213.4,51.6 213.8,55.6 214.1,48.3 214.5,60.5 214.8,56.2 215.1,58.9 215.5,61.1 215.8,53.1 216.2,62.1 216.5,49.7 216.9,67.7 217.2,59.2 217.6,60.2 217.9,57.8 218.3,65.7 218.6,59.9 219.0,66.8 219.3,40.9 219.7,63.3 220.0,63.4 220.4,52.9 220.7,55.9 221.1,53.8 221.4,63.1 221.8,50.9 222.1,65.6 222.5,55.7 222.8,68.0 223.1,66.4 223.5,68.6 223.8,47.3 224.2,63.5 224.5,58.9 224.9,55.7 225.2,57.7 225.6,64.9 225.9,54.3 226.3,67.2 226.6,53.9 227.0,58.2 227.3,44.5 227.7,58.2 228.0,58.7 228.4,58.7 228.7,71.6 229.1,61.4 229.4,64.4 229.8,58.5 230.1,60.7 230.4,60.0 230.8,44.3 231.1,52.4 231.5,61.0 231.8,57.5 232.2,47.0 232.5,53.4 232.9,59.5 233.2,61.6 233.6,50.0 233.9,57.3 234.3,60.5 234.6,59.9 235.0,62.8 235.3,69.1 235.7,57.3 236.0,58.1 236.4,63.0 236.7,57.7 237.1,64.2 237.4,52.9 237.7,57.8 238.1,51.2 238.4,61.5 238.8,52.1 239.1,59.7 239.5,45.4 239.8,50.6 240.2,61.0 240.5,60.3 240.9,65.2 241.2,52.2 241.6,60.4 241.9,56.5 242.3,54.4 242.6,63.8 243.0,52.5 243.3,62.2 243.7,58.7 244.0,56.6 244.4,61.7 244.7,63.8 245.0,60.1 245.4,56.3 245.7,52.7 246.1,70.6 246.4,59.8 246.8,57.4 247.1,57.9 247.5,53.4 247.8,55.3 248.2,67.5 248.5,58.8 248.9,39.1 249.2,59.1 249.6,55.1 249.9,60.1 250.3,53.6 250.6,53.0 251.0,69.0 251.3,71.7 251.7,57.0 252.0,53.3 252.3,49.8 252.7,58.0 253.0,49.1 253.4,57.6 253.7,69.5 254.1,63.2 254.4,58.7 254.8,56.8 255.1,57.9 255.5,69.9 255.8,54.0 256.2,57.8 256.5,63.3 256.9,54.9 257.2,56.9 257.6,69.3 257.9,56.8 258.3,57.6 258.6,59.8 259.0,68.0 259.3,60.0 259.7,61.4 260.0,59.9 260.3,64.9 260.7,50.6 261.0,57.1 261.4,56.3 261.7,51.1 262.1,56.0 262.4,54.9 262.8,64.8 263.1,61.9 263.5,62.4 263.8,63.0 264.2,59.8 264.5,59.1 264.9,53.3 265.2,50.9 265.6,56.7 265.9,68.2 266.3,56.9 266.6,55.3 267.0,67.6 267.3,61.2 267.6,58.0 268.0,51.8 268.3,49.3 268.7,65.6 269.0,60.6 269.4,59.0 269.7,53.3 270.1,62.3 270.4,61.9 270.8,57.7 271.1,58.0 271.5,51.4 271.8,46.5 272.2,60.2 272.5,59.1 272.9,57.9 273.2,65.4 273.6,53.7 273.9,55.3 274.3,62.7 274.6,60.4 274.9,51.7 275.3,59.1 275.6,56.5 276.0,52.8 276.3,45.6 276.7,53.4 277.0,66.6 277.4,47.4 277.7,64.3 278.1,60.4 278.4,57.5 278.8,50.6 279.1,51.9 279.5,55.7 279.8,58.9 280.2,46.0 280.5,53.8 280.9,43.4 281.2,63.8 281.6,59.9 281.9,64.1 282.2,60.4 282.6,44.6 282.9,53.9 283.3,51.8 283.6,49.5 284.0,64.5 284.3,51.9 284.7,57.9 285.0,59.4 285.4,65.2 285.7,67.6 286.1,64.7 286.4,56.9 286.8,68.1 287.1,69.9 287.5,68.8 287.8,61.9 288.2,59.6 288.5,57.2 288.9,51.1 289.2,62.4 289.6,58.4 289.9,52.4 290.2,61.5 290.6,67.5 290.9,62.1 291.3,55.5 291.6,55.5 292.0,49.7 292.3,47.3 292.7,50.6 293.0,65.2 293.4,56.0 293.7,47.2 294.1,58.0 294.4,59.7 294.8,65.3 295.1,54.2 295.5,50.3 295.8,67.8 296.2,58.7 296.5,56.6 296.9,62.5 297.2,73.1 297.5,69.9 297.9,56.1 298.2,73.1 298.6,51.2 298.9,60.2 299.3,56.8 299.6,67.3 300.0,59.2 300.3,57.2 300.7,62.6 301.0,57.3 301.4,64.0 301.7,51.6 302.1,51.7 302.4,57.6 302.8,63.9 303.1,53.6 303.5,62.2 303.8,46.2 304.2,50.8 304.5,58.8"/>
<polyline stroke="#2ca02c" points="200.2,64.2 200.5,69.4 200.9,45.9 201.2,61.1 201.6,66.6 201.9,58.4 202.3,56.2 202.6,60.8 203.0,58.7 203.3,55.2 203.7,55.1 204.0,50.5 204.4,65.4 204.7,59.7 205.1,51.3 205.4,54.4 205.8,62.3 206.1,53.3 206.5,52.8 206.8,57.6 207.2,68.5 207.5,55.3 207.8,65.8 208.2,54.9 208.5,50.2 208.9,49.3 209.2,66.0 209.6,63.9 209.9,59.2 210.3,74.9 210.6,65.6 211.0,53.0 211.3,71.6 211.7,60.2 212.0,55.2 212.4,52.3 212.7,57.6 213.1,60.1 213.4,49.1 213.8,54.1 214.1,43.3 214.5,54.2 214.8,64.7 215.1,49.8 215.5,59.0 215.8,68.1 216.2,56.9 216.5,54.1 216.9,67.8 217.2,63.8 217.6,68.1 217.9,66.0 218.3,62.6 218.6,59.7 219.0,53.8 219.3,56.1 219.7,57.2 220.0,68.7 220.4,49.7 220.7,62.9 221.1,54.9 221.4,60.2 221.8,51.2 222.1,54.0 222.5,54.4 222.8,60.7 223.1,55.9 223.5,64.3 223.8,53.4 224.2,67.1 224.5,56.7 224.9,55.0 225.2,47.3 225.6,62.9 225.9,62.1 226.3,56.3 226.6,65.6 227.0,63.0 227.3,41.7 227.7,59.3 228.0,63.8 228.4,59.3 228.7,61.8 229.1,59.4 229.4,64.8 229.8,63.4 230.1,66.0 230.4,53.8 230.8,47.8 231.1,56.6 231.5,67.2 231.8,60.2 232.2,54.2 232.5,50.6 232.9,52.9 233.2,64.6 233.6,46.3 233.9,51.4 234.3,52.5 234.6,59.6 235.0,62.9 235.3,60.4 235.7,60.8 236.0,62.4 236.4,58.0 236.7,64.2 237.1,57.4 237.4,51.8 237.7,60.7 238.1,66.8 238.4,59.8 238.8,50.7 239.1,62.0 239.5,54.5 239.8,52.2 240.2,63.4 240.5,55.5 240.9,60.3 241.2,56.7 241.6,51.1 241.9,53.9 242.3,61.0 242.6,61.5 243.0,51.0 243.3,62.5 243.7,63.8 244.0,58.0 244.4,65.8 244.7,60.8 245.0,66.0 245.4,55.7 245.7,54.0 246.1,63.1 246.4,54.3 246.8,60.7 247.1,63.4 247.5,65.1 247.8,56.8 248.2,56.7 248.5,53.0 248.9,50.6 249.2,51.3 249.6,58.1 249.9,65.9 250.3,62.2 250.6,61.9 251.0,56.6 251.3,65.8 251.7,53.9 252.0,61.3 252.3,51.2 252.7,65.1 253.0,50.6 253.4,60.4 253.7,62.1 254.1,53.9 254.4,60.4 254.8,60.8 255.1,59.6 255.5,69.8 255.8,52.9 256.2,55.7 256.5,61.9 256.9,54.7 257.2,64.8 257.6,67.6 257.9,54.0 258.3,60.0 258.6,56.8 259.0,61.2 259.3,61.5 259.7,60.4 260.0,53.0 260.3,58.0 260.7,57.4 261.0,52.2 261.4,56.0 261.7,57.3 262.1,53.6 262.4,55.2 262.8,64.0 263.1,65.7 263.5,61.2 263.8,67.5 264.2,55.0 264.5,52.8 264.9,55.1 265.2,55.8 265.6,61.3 265.9,65.5 266.3,59.1 266.6,59.2 267.0,66.0 267.3,65.6 267.6,65.0 268.0,53.8 268.3,55.5 268.7,60.9 269.0,57.8 269.4,63.4 269.7,58.1 270.1,56.6 270.4,56.9 270.8,57.6 271.1,54.6 271.5,54.1 271.8,54.4 272.2,58.5 272.5,60.2 272.9,50.8 273.2,57.1 273.6,50.5 273.9,55.8 274.3,58.7 274.6,54.8 274.9,55.7 275.3,61.4 275.6,49.0 276.0,54.0 276.3,52.8 276.7,47.4 277.0,67.6 277.4,54.8 277.7,62.4 278.1,60.7 278.4,57.0 278.8,53.1 279.1,58.3 279.5,56.9 279.8,55.9 280.2,53.4 280.5,60.8 280.9,58.0 281.2,55.0 281.6,58.1 281.9,62.3 282.2,53.6 282.6,43.7 282.9,61.5 283.3,56.4 283.6,51.5 284.0,55.8 284.3,54.1 284.7,45.5 285.0,58.5 285.4,59.8 285.7,60.2 286.1,58.1 286.4,51.9 286.8,73.1 287.1,60.6 287.5,66.4 287.8,56.9 288.2,69.2 288.5,59.6 288.9,59.0 289.2,65.9 289.6,62.4 289.9,62.3 290.2,57.2 290.6,49.6 290.9,59.1 291.3,55.0 291.6,59.6 292.0,49.1 292.3,54.2 292.7,57.3 293.0,74.7 293.4,52.5 293.7,51.6 294.1,57.7 294.4,61.3 294.8,51.2 295.1,48.5 295.5,64.7 295.8,67.3 296.2,57.2 296.5,54.2 296.9,59.0 297.2,69.2 297.5,65.8 297.9,56.7 298.2,62.6 298.6,61.3 298.9,57.2 299.3,56.9 299.6,61.4 300.0,64.8 300.3,61.9 300.7,55.0 301.0,64.9 301.4,55.7 301.7,54.9 302.1,55.1 302.4,67.4 302.8,53.4 303.1,64.4 303.5,61.8 303.8,50.4 304.2,56.6 304.5,52.0"/>
<polyline stroke="#d62728" points="200.2,54.9 200.5,63.0 200.9,44.1 201.2,61.2 201.6,66.0 201.9,62.6 202.3,60.9 202.6,57.0 203.0,57.8 203.3,52.5 203.7,64.3 204.0,43.5 204.4,60.2 204.7,57.5 205.1,52.0 205.4,53.9 205.8,64.2 206.1,54.3 206.5,60.0 206.8,50.4 207.2,63.0 207.5,61.0 207.8,63.1 208.2,63.4 208.5,49.5 208.9,50.2 209.2,60.3 209.6,65.4 209.9,55.2 210.3,56.7 210.6,57.4 211.0,53.0 211.3,63.8 211.7,58.1 212.0,55.7 212.4,55.0 212.7,62.3 213.1,59.9 213.4,50.4 213.8,58.8 214.1,53.2 214.5,59.7 214.8,60.3 215.1,60.2 215.5,53.9 215.8,61.2 216.2,56.5 216.5,51.8 216.9,60.0 217.2,61.5 217.6,57.5 217.9,61.0 218.3,71.6 218.6,61.9 219.0,63.7 219.3,49.0 219.7,56.2 220.0,65.7 220.4,56.2 220.7,56.4 221.1,58.3 221.4,58.9 221.8,52.2 222.1,57.8 222.5,56.0 222.8,57.4 223.1,65.1 223.5,62.8 223.8,54.4 224.2,68.3 224.5,58.4 224.9,54.2 225.2,58.6 225.6,67.2 225.9,53.1 226.3,64.2 226.6,60.3 227.0,63.5 227.3,52.3 227.7,65.9 228.0,60.0 228.4,61.2 228.7,65.1 229.1,59.0 229.4,60.8 229.8,57.9 230.1,57.0 230.4,53.0 230.8,47.1 231.1,51.4 231.5,65.3 231.8,59.0 232.2,46.7 232.5,52.2 232.9,54.3 233.2,56.8 233.6,54.4 233.9,57.4 234.3,60.3 234.6,59.8 235.0,62.9 235.3,63.4 235.7,64.0 236.0,57.2 236.4,56.9 236.7,64.1 237.1,52.6 237.4,50.1 237.7,63.8 238.1,46.7 238.4,62.1 238.8,51.6 239.1,61.5 239.5,49.5 239.8,55.4 240.2,58.6 240.5,52.1 240.9,56.0 241.2,59.2 241.6,60.0 241.9,59.3 242.3,54.3 242.6,64.6 243.0,51.0 243.3,63.8 243.7,61.5 244.0,59.7 244.4,65.6 244.7,61.7 245.0,65.1 245.4,49.9 245.7,59.4 246.1,62.1 246.4,51.4 246.8,57.6 247.1,67.3 247.5,58.8 247.8,59.6 248.2,55.7 248.5,56.6 248.9,45.0 249.2,56.2 249.6,57.5 249.9,67.2 250.3,59.2 250.6,57.9 251.0,60.8 251.3,64.7 251.7,55.9 252.0,65.5 252.3,47.4 252.7,56.1 253.0,52.5 253.4,52.1 253.7,65.1 254.1,58.2 254.4,63.9 254.8,63.0 255.1,62.7 255.5,64.6 255.8,53.8 256.2,51.5 256.5,59.7 256.9,52.5 257.2,61.7 257.6,70.5 257.9,60.6 258.3,69.2 258.6,64.7 259.0,59.3 259.3,59.6 259.7,62.0 260.0,55.0 260.3,55.8 260.7,56.4 261.0,46.1 261.4,54.7 261.7,59.1 262.1,61.0 262.4,56.2 262.8,60.0 263.1,64.6 263.5,58.6 263.8,67.7 264.2,58.5 264.5,55.0 264.9,65.5 265.2,54.4 265.6,63.3 265.9,67.0 266.3,60.8 266.6,59.2 267.0,72.9 267.3,64.4 267.6,65.8 268.0,48.9 268.3,59.2 268.7,67.2 269.0,63.1 269.4,55.9 269.7,53.5 270.1,54.7 270.4,62.9 270.8,66.7 271.1,47.6 271.5,57.2 271.8,56.1 272.2,56.5 272.5,55.9 272.9,57.3 273.2,62.6 273.6,53.1 273.9,52.9 274.3,57.3 274.6,58.3 274.9,50.8 275.3,58.6 275.6,55.0 276.0,55.5 276.3,51.5 276.7,49.7 277.0,63.2 277.4,53.6 277.7,62.6 278.1,47.3 278.4,58.1 278.8,56.2 279.1,60.7 279.5,55.5 279.8,58.0 280.2,56.6 280.5,56.4 280.9,47.2 281.2,61.1 281.6,59.6 281.9,68.2 282.2,57.0 282.6,53.6 282.9,64.1 283.3,53.2 283.6,50.1 284.0,54.5 284.3,59.6 284.7,52.9 285.0,58.9 285.4,64.4 285.7,56.9 286.1,60.4 286.4,53.4 286.8,69.1 287.1,70.8 287.5,61.8 287.8,58.9 288.2,56.1 288.5,59.0 288.9,56.7 289.2,61.8 289.6,61.8 289.9,54.7 290.2,62.6 290.6,63.2 290.9,55.6 291.3,53.1 291.6,59.0 292.0,51.0 292.3,48.8 292.7,53.9 293.0,72.9 293.4,56.8 293.7,55.2 294.1,54.3 294.4,70.5 294.8,63.7 295.1,47.0 295.5,58.4 295.8,61.8 296.2,59.4 296.5,53.2 296.9,58.1 297.2,64.8 297.5,68.5 297.9,59.3 298.2,65.4 298.6,56.1 298.9,49.4 299.3,56.5 299.6,56.8 300.0,56.7 300.3,57.7 300.7,60.0 301.0,57.8 301.4,57.7 301.7,48.2 302.1,53.6 302.4,59.6 302.8,57.8 303.1,60.5 303.5,60.9 303.8,52.5 304.2,55.8 304.5,56.6"/>
<polyline stroke="#9467bd" points="200.2,57.2 200.5,64.4 200.9,48.3 201.2,64.7 201.6,69.6 201.9,57.8 202.3,59.2 202.6,54.8 203.0,59.0 203.3,49.5 203.7,53.3 204.0,45.9 204.4,52.9 204.7,55.2 205.1,50.4 205.4,53.0 205.8,62.8 206.1,57.6 206.5,61.8 206.8,55.7 207.2,64.5 207.5,58.4 207.8,62.9 208.2,56.6 208.5,53.4 208.9,47.5 209.2,66.7 209.6,61.3 209.9,55.7 210.3,62.5 210.6,63.5 211.0,56.9 211.3,61.4 211.7,55.2 212.0,56.5 212.4,61.2 212.7,63.7 213.1,60.8 213.4,51.6 213.8,58.8 214.1,57.7 214.5,57.5 214.8,62.1 215.1,57.6 215.5,62.4 215.8,59.1 216.2,51.4 216.5,54.8 216.9,57.3 217.2,60.4 217.6,57.7 217.9,63.5 218.3,66.8 218.6,57.8 219.0,64.9 219.3,48.8 219.7,64.0 220.0,66.1 220.4,57.2 220.7,59.6 221.1,49.1 221.4,55.0 221.8,52.7 222.1,59.0 222.5,62.4 222.8,60.0 223.1,59.1 223.5,67.2 223.8,60.3 224.2,69.7 224.5,48.3 224.9,54.6 225.2,52.2 225.6,69.8 225.9,57.5 226.3,60.4 226.6,61.0 227.0,58.7 227.3,51.2 227.7,60.6 228.0,56.3 228.4,57.5 228.7,65.0 229.1,62.9 229.4,59.2 229.8,57.4 230.1,62.2 230.4,51.9 230.8,50.3 231.1,53.8 231.5,60.7 231.8,51.6 232.2,54.8 232.5,52.9 232.9,54.9 233.2,62.9 233.6,53.0 233.9,55.2 234.3,59.0 234.6,59.8 235.0,62.6 235.3,62.6 235.7,60.2 236.0,58.3 236.4,62.5 236.7,57.1 237.1,58.1 237.4,58.0 237.7,72.2 238.1,57.2 238.4,67.0 238.8,49.4 239.1,58.5 239.5,48.5 239.8,52.5 240.2,57.5 240.5,49.7 240.9,57.9 241.2,52.0 241.6,56.6 241.9,64.8 242.3,60.3 242.6,65.5 243.0,59.3 243.3,61.9 243.7,62.9 244.0,58.8 244.4,54.7 244.7,63.0 245.0,59.2 245.4,55.0 245.7,52.9 246.1,57.8 246.4,54.4 246.8,59.7 247.1,53.9 247.5,63.7 247.8,54.0 248.2,54.7 248.5,51.1 248.9,39.8 249.2,56.8 249.6,55.2 249.9,65.6 250.3,62.9 250.6,68.2 251.0,58.2 251.3,72.5 251.7,59.4 252.0,57.6 252.3,48.1 252.7,63.0 253.0,56.4 253.4,59.7 253.7,66.3 254.1,61.8 254.4,59.3 254.8,58.0 255.1,57.5 255.5,70.2 255.8,59.7 256.2,51.5 256.5,59.4 256.9,49.6 257.2,60.5 257.6,74.0 257.9,62.7 258.3,68.5 258.6,51.5 259.0,57.9 259.3,63.7 259.7,64.4 260.0,62.8 260.3,57.6 260.7,60.5 261.0,49.7 261.4,65.4 261.7,54.4 262.1,65.7 262.4,59.8 262.8,59.4 263.1,64.3 263.5,68.8 263.8,63.5 264.2,50.2 264.5,62.1 264.9,60.2 265.2,44.2 265.6,60.8 265.9,66.9 266.3,57.8 266.6,53.9 267.0,74.6 267.3,65.0 267.6,59.8 268.0,51.9 268.3,73.3 268.7,66.1 269.0,61.2 269.4,64.1 269.7,57.7 270.1,57.9 270.4,59.5 270.8,64.9 271.1,51.3 271.5,55.7 271.8,55.6 272.2,61.6 272.5,57.5 272.9,56.1 273.2,63.8 273.6,51.4 273.9,51.8 274.3,56.8 274.6,57.6 274.9,50.7 275.3,61.8 275.6,55.4 276.0,52.9 276.3,51.9 276.7,55.5 277.0,60.4 277.4,58.6 277.7,60.2 278.1,55.5 278.4,64.0 278.8,52.2 279.1,60.7 279.5,59.0 279.8,56.7 280.2,50.2 280.5,57.1 280.9,49.3 281.2,63.7 281.6,54.1 281.9,63.0 282.2,52.5 282.6,54.8 282.9,52.7 283.3,58.9 283.6,48.2 284.0,58.2 284.3,52.9 284.7,54.7 285.0,63.5 285.4,67.1 285.7,58.0 286.1,63.1 286.4,54.0 286.8,76.1 287.1,67.7 287.5,66.6 287.8,57.3 288.2,52.0 288.5,58.9 288.9,61.6 289.2,60.2 289.6,59.8 289.9,56.7 290.2,60.0 290.6,59.0 290.9,53.0 291.3,53.8 291.6,58.0 292.0,47.8 292.3,44.9 292.7,54.5 293.0,65.5 293.4,55.4 293.7,49.8 294.1,55.4 294.4,59.4 294.8,58.9 295.1,46.1 295.5,63.1 295.8,59.9 296.2,59.6 296.5,57.0 296.9,58.4 297.2,67.5 297.5,67.6 297.9,62.2 298.2,68.3 298.6,53.0 298.9,50.5 299.3,55.8 299.6,53.6 300.0,60.1 300.3,63.1 300.7,60.9 301.0,64.9 301.4,62.8 301.7,53.2 302.1,50.0 302.4,62.0 302.8,52.3 303.1,58.5 303.5,61.3 303.8,48.9 304.2,57.0 304.5,50.6"/>
<polyline stroke="#8c564b" points="200.2,58.7 200.5,57.6 200.9,49.1 201.2,65.7 201.6,63.1 201.9,59.4 202.3,56.9 202.6,54.2 203.0,59.4 203.3,55.0 203.7,53.0 204.0,48.4 204.4,53.5 204.7,56.6 205.1,68.0 205.4,52.8 205.8,63.8 206.1,52.3 206.5,59.0 206.8,46.7 207.2,59.4 207.5,57.5 207.8,61.2 208.2,57.2 208.5,53.4 208.9,60.3 209.2,62.4 209.6,63.4 209.9,61.0 210.3,56.8 210.6,62.2 211.0,53.6 211.3,64.7 211.7,55.1 212.0,53.8 212.4,59.3 212.7,62.6 213.1,60.1 213.4,49.4 213.8,56.6 214.1,49.7 214.5,59.2 214.8,53.2 215.1,55.0 215.5,57.0 215.8,55.9 216.2,54.0 216.5,56.4 216.9,62.5 217.2,60.5 217.6,63.2 217.9,61.7 218.3,66.9 218.6,57.5 219.0,62.7 219.3,51.6 219.7,62.3 220.0,67.5 220.4,55.0 220.7,59.8 221.1,55.5 221.4,59.7 221.8,43.4 222.1,66.0 222.5,59.1 222.8,57.8 223.1,60.0 223.5,66.2 223.8,59.0 224.2,65.3 224.5,60.0 224.9,53.1 225.2,58.1 225.6,63.0 225.9,58.8 226.3,64.9 226.6,53.9 227.0,59.4 227.3,51.5 227.7,55.8 228.0,56.8 228.4,56.8 228.7,61.8 229.1,60.1 229.4,58.5 229.8,57.2 230.1,55.7 230.4,46.8 230.8,52.6 231.1,52.6 231.5,57.9 231.8,50.4 232.2,55.5 232.5,51.2 232.9,63.0 233.2,60.5 233.6,53.3 233.9,57.8 234.3,59.2 234.6,58.8 235.0,68.9 235.3,65.7 235.7,63.2 236.0,57.0 236.4,52.9 236.7,62.8 237.1,65.6 237.4,50.4 237.7,65.7 238.1,62.5 238.4,61.8 238.8,47.1 239.1,58.1 239.5,55.0 239.8,56.0 240.2,62.2 240.5,54.5 240.9,61.7 241.2,58.3 241.6,60.5 241.9,58.8 242.3,62.5 242.6,64.7 243.0,57.8 243.3,58.5 243.7,63.4 244.0,61.0 244.4,64.1 244.7,62.3 245.0,63.6 245.4,56.1 245.7,54.3 246.1,61.9 246.4,50.9 246.8,58.0 247.1,63.6 247.5,62.2 247.8,54.7 248.2,58.6 248.5,58.6 248.9,44.8 249.2,50.9 249.6,55.9 249.9,65.5 250.3,61.2 250.6,65.6 251.0,59.5 251.3,66.9 251.7,58.3 252.0,61.5 252.3,45.1 252.7,56.8 253.0,50.2 253.4,59.1 253.7,58.3 254.1,60.1 254.4,62.1 254.8,59.8 255.1,61.3 255.5,63.9 255.8,55.1 256.2,59.1 256.5,58.1 256.9,55.6 257.2,62.8 257.6,71.3 257.9,64.0 258.3,66.5 258.6,56.5 259.0,60.4 259.3,60.4 259.7,57.4 260.0,58.9 260.3,54.7 260.7,63.7 261.0,52.8 261.4,54.2 261.7,59.5 262.1,59.2 262.4,52.0 262.8,58.3 263.1,63.5 263.5,65.9 263.8,63.3 264.2,59.0 264.5,57.0 264.9,58.0 265.2,54.0 265.6,63.1 265.9,72.1 266.3,58.5 266.6,56.3 267.0,67.1 267.3,61.5 267.6,66.6 268.0,51.9 268.3,52.5 268.7,56.4 269.0,63.5 269.4,59.2 269.7,57.6 270.1,59.2 270.4,67.0 270.8,66.7 271.1,52.0 271.5,59.9 271.8,58.3 272.2,62.2 272.5,60.5 272.9,62.2 273.2,55.8 273.6,55.6 273.9,53.8 274.3,56.3 274.6,57.5 274.9,52.0 275.3,62.4 275.6,58.0 276.0,55.2 276.3,53.5 276.7,54.1 277.0,59.4 277.4,53.8 277.7,59.4 278.1,53.0 278.4,60.3 278.8,58.0 279.1,59.4 279.5,63.1 279.8,53.6 280.2,58.7 280.5,56.5 280.9,51.7 281.2,67.7 281.6,58.6 281.9,70.0 282.2,63.3 282.6,51.0 282.9,61.3 283.3,58.7 283.6,48.7 284.0,59.4 284.3,54.2 284.7,55.2 285.0,63.9 285.4,64.6 285.7,58.8 286.1,63.1 286.4,55.9 286.8,70.4 287.1,66.2 287.5,66.3 287.8,58.4 288.2,58.3 288.5,59.9 288.9,57.7 289.2,60.1 289.6,55.0 289.9,62.0 290.2,56.9 290.6,50.4 290.9,57.6 291.3,57.8 291.6,58.8 292.0,44.7 292.3,54.3 292.7,54.2 293.0,70.3 293.4,58.2 293.7,51.7 294.1,59.3 294.4,67.9 294.8,58.2 295.1,45.1 295.5,56.7 295.8,60.5 296.2,56.8 296.5,57.8 296.9,61.8 297.2,61.7 297.5,66.3 297.9,56.7 298.2,68.6 298.6,52.3 298.9,51.8 299.3,57.1 299.6,57.4 300.0,56.5 300.3,62.6 300.7,62.3 301.0,63.3 301.4,63.3 301.7,49.6 302.1,53.1 302.4,55.7 302.8,58.1 303.1,61.6 303.5,56.7 303.8,55.7 304.2,54.0 304.5,55.9"/>
<polyline stroke="#e377c2" points="200.2,59.4 200.5,58.6 200.9,44.2 201.2,59.7 201.6,65.0 201.9,60.6 202.3,56.6 202.6,54.7 203.0,61.4 203.3,54.3 203.7,64.2 204.0,42.0 204.4,55.1 204.7,52.7 205.1,54.9 205.4,53.7 205.8,63.3 206.1,56.7 206.5,61.9 206.8,47.5 207.2,51.1 207.5,59.8 207.8,63.3 208.2,55.3 208.5,60.1 208.9,51.8 209.2,62.1 209.6,66.2 209.9,57.7 210.3,56.3 210.6,60.0 211.0,57.6 211.3,65.4 211.7,56.2 212.0,51.5 212.4,55.0 212.7,65.1 213.1,61.3 213.4,55.1 213.8,56.4 214.1,55.2 214.5,48.0 214.8,62.2 215.1,63.4 215.5,60.8 215.8,58.6 216.2,55.3 216.5,55.5 216.9,59.0 217.2,55.5 217.6,60.8 217.9,62.8 218.3,66.8 218.6,53.7 219.0,64.9 219.3,76.0 219.7,60.0 220.0,57.7 220.4,59.5 220.7,53.2 221.1,56.6 221.4,62.9 221.8,50.2 222.1,61.3 222.5,56.8 222.8,64.7 223.1,57.3 223.5,64.7 223.8,60.3 224.2,66.0 224.5,56.5 224.9,57.1 225.2,57.5 225.6,67.5 225.9,59.3 226.3,62.0 226.6,55.9 227.0,65.2 227.3,46.3 227.7,60.0 228.0,61.2 228.4,57.2 228.7,63.6 229.1,58.8 229.4,59.1 229.8,62.1 230.1,60.3 230.4,48.5 230.8,48.2 231.1,56.9 231.5,62.8 231.8,52.9 232.2,49.6 232.5,53.8 232.9,58.0 233.2,64.1 233.6,52.4 233.9,55.9 234.3,57.8 234.6,57.7 235.0,66.8 235.3,60.1 235.7,64.3 236.0,57.6 236.4,60.4 236.7,61.2 237.1,68.2 237.4,54.9 237.7,64.5 238.1,53.3 238.4,61.4 238.8,52.1 239.1,60.4 239.5,50.7 239.8,50.0 240.2,63.6 240.5,53.6 240.9,60.3 241.2,56.3 241.6,55.4 241.9,59.6 242.3,54.2 242.6,63.1 243.0,48.9 243.3,60.2 243.7,63.8 244.0,64.8 244.4,64.1 244.7,61.7 245.0,66.7 245.4,61.8 245.7,46.5 246.1,58.1 246.4,60.4 246.8,60.6 247.1,61.2 247.5,62.9 247.8,54.0 248.2,61.2 248.5,58.0 248.9,42.0 249.2,54.3 249.6,60.2 249.9,58.3 250.3,65.4 250.6,54.5 251.0,63.0 251.3,68.1 251.7,53.5 252.0,64.6 252.3,52.2 252.7,58.9 253.0,53.5 253.4,55.3 253.7,58.9 254.1,58.4 254.4,62.7 254.8,54.9 255.1,56.0 255.5,63.9 255.8,53.2 256.2,58.1 256.5,62.4 256.9,54.2 257.2,66.9 257.6,70.2 257.9,51.8 258.3,64.1 258.6,63.0 259.0,61.5 259.3,59.3 259.7,64.4 260.0,57.9 260.3,55.6 260.7,58.5 261.0,47.7 261.4,58.6 261.7,58.1 262.1,49.7 262.4,55.7 262.8,62.1 263.1,68.0 263.5,58.8 263.8,68.1 264.2,64.2 264.5,64.0 264.9,57.5 265.2,52.8 265.6,60.3 265.9,69.5 266.3,66.7 266.6,53.5 267.0,65.9 267.3,69.4 267.6,57.2 268.0,49.1 268.3,52.9 268.7,63.5 269.0,62.2 269.4,61.6 269.7,54.9 270.1,55.2 270.4,62.3 270.8,62.2 271.1,54.6 271.5,54.0 271.8,48.2 272.2,54.2 272.5,61.9 272.9,59.3 273.2,57.7 273.6,57.1 273.9,50.7 274.3,60.9 274.6,49.2 274.9,56.1 275.3,59.3 275.6,50.2 276.0,58.5 276.3,50.5 276.7,42.0 277.0,64.9 277.4,53.2 277.7,64.3 278.1,50.8 278.4,61.5 278.8,54.4 279.1,62.7 279.5,55.6 279.8,58.1 280.2,56.0 280.5,50.0 280.9,55.6 281.2,68.6 281.6,59.9 281.9,61.3 282.2,61.0 282.6,51.8 282.9,63.8 283.3,52.8 283.6,47.9 284.0,56.6 284.3,53.3 284.7,55.9 285.0,65.2 285.4,65.3 285.7,59.4 286.1,60.7 286.4,52.0 286.8,63.5 287.1,63.2 287.5,64.7 287.8,59.0 288.2,60.4 288.5,58.3 288.9,58.1 289.2,55.9 289.6,60.4 289.9,57.1 290.2,61.7 290.6,52.8 290.9,57.0 291.3,63.0 291.6,64.8 292.0,50.4 292.3,47.4 292.7,54.9 293.0,65.8 293.4,53.7 293.7,55.2 294.1,57.4 294.4,63.3 294.8,59.9 295.1,47.5 295.5,53.7 295.8,63.5 296.2,57.7 296.5,55.6 296.9,53.3 297.2,66.8 297.5,69.4 297.9,56.3 298.2,68.0 298.6,54.5 298.9,53.3 299.3,52.4 299.6,58.1 300.0,63.1 300.3,70.1 300.7,61.9 301.0,66.5 301.4,65.0 301.7,52.2 302.1,48.5 302.4,53.3 302.8,60.9 303.1,52.7 303.5,54.7 303.8,56.5 304.2,53.4 304.5,51.9"/>
<polyline stroke="#7f7f7f" points="200.2,59.3 200.5,55.8 200.9,44.6 201.2,55.8 201.6,60.6 201.9,63.3 202.3,53.6 202.6,57.1 203.0,58.3 203.3,49.4 203.7,61.7 204.0,51.9 204.4,58.3 204.7,61.7 205.1,55.0 205.4,50.9 205.8,55.0 206.1,51.7 206.5,64.0 206.8,53.3 207.2,59.2 207.5,56.6 207.8,61.1 208.2,56.7 208.5,53.2 208.9,55.2 209.2,57.9 209.6,63.3 209.9,60.0 210.3,67.6 210.6,63.7 211.0,56.6 211.3,63.9 211.7,56.4 212.0,55.4 212.4,58.2 212.7,62.3 213.1,54.8 213.4,52.6 213.8,56.0 214.1,55.1 214.5,58.7 214.8,53.7 215.1,61.4 215.5,60.4 215.8,54.3 216.2,51.5 216.5,49.1 216.9,61.5 217.2,63.7 217.6,63.7 217.9,58.7 218.3,64.9 218.6,63.9 219.0,64.0 219.3,53.0 219.7,58.9 220.0,69.3 220.4,56.4 220.7,54.3 221.1,58.0 221.4,58.1 221.8,51.1 222.1,63.2 222.5,55.0 222.8,61.0 223.1,60.2 223.5,67.5 223.8,53.3 224.2,68.1 224.5,60.3 224.9,52.6 225.2,56.4 225.6,66.0 225.9,55.7 226.3,64.9 226.6,57.9 227.0,62.5 227.3,53.2 227.7,60.0 228.0,55.8 228.4,58.2 228.7,62.0 229.1,60.4 229.4,59.9 229.8,54.8 230.1,59.0 230.4,50.3 230.8,56.4 231.1,52.7 231.5,60.3 231.8,56.5 232.2,51.6 232.5,54.3 232.9,57.1 233.2,57.3 233.6,53.9 233.9,57.1 234.3,60.9 234.6,56.8 235.0,63.5 235.3,65.6 235.7,64.9 236.0,60.6 236.4,60.5 236.7,63.8 237.1,53.9 237.4,53.1 237.7,62.6 238.1,61.5 238.4,60.2 238.8,53.6 239.1,63.5 239.5,51.8 239.8,55.6 240.2,57.8 240.5,57.4 240.9,59.9 241.2,57.8 241.6,56.0 241.9,53.4 242.3,60.8 242.6,62.2 243.0,51.8 243.3,59.3 243.7,64.1 244.0,63.4 244.4,63.8 244.7,60.4 245.0,62.8 245.4,52.8 245.7,58.1 246.1,63.0 246.4,51.6 246.8,57.4 247.1,56.4 247.5,62.9 247.8,61.9 248.2,57.7 248.5,53.9 248.9,48.0 249.2,52.1 249.6,54.3 249.9,59.6 250.3,66.0 250.6,59.9 251.0,61.5 251.3,70.4 251.7,54.5 252.0,63.3 252.3,51.7 252.7,61.2 253.0,52.2 253.4,51.0 253.7,62.0 254.1,56.3 254.4,63.0 254.8,57.1 255.1,59.5 255.5,66.8 255.8,51.3 256.2,53.8 256.5,62.6 256.9,49.4 257.2,58.3 257.6,70.5 257.9,60.6 258.3,64.6 258.6,61.1 259.0,63.0 259.3,62.0 259.7,63.5 260.0,53.7 260.3,60.0 260.7,59.5 261.0,47.9 261.4,57.1 261.7,56.5 262.1,54.9 262.4,58.8 262.8,58.3 263.1,64.9 263.5,65.7 263.8,66.8 264.2,57.4 264.5,58.5 264.9,56.6 265.2,50.1 265.6,54.4 265.9,64.9 266.3,62.2 266.6,59.4 267.0,64.6 267.3,61.6 267.6,60.0 268.0,49.4 268.3,53.7 268.7,59.5 269.0,59.4 269.4,57.4 269.7,59.0 270.1,61.5 270.4,62.8 270.8,60.8 271.1,53.3 271.5,66.1 271.8,59.1 272.2,57.8 272.5,60.2 272.9,57.2 273.2,59.9 273.6,55.4 273.9,54.0 274.3,55.1 274.6,56.2 274.9,48.5 275.3,63.4 275.6,60.3 276.0,55.2 276.3,45.9 276.7,48.5 277.0,66.1 277.4,51.8 277.7,58.4 278.1,58.7 278.4,57.1 278.8,53.4 279.1,63.5 279.5,53.7 279.8,59.4 280.2,56.1 280.5,53.6 280.9,53.3 281.2,65.0 281.6,55.8 281.9,65.2 282.2,61.6 282.6,52.6 282.9,60.9 283.3,54.2 283.6,48.9 284.0,56.5 284.3,58.8 284.7,55.2 285.0,57.7 285.4,60.8 285.7,58.0 286.1,60.3 286.4,56.9 286.8,69.9 287.1,62.8 287.5,69.2 287.8,54.4 288.2,57.1 288.5,63.3 288.9,59.9 289.2,54.3 289.6,61.5 289.9,54.9 290.2,55.8 290.6,57.4 290.9,63.6 291.3,60.6 291.6,59.9 292.0,52.6 292.3,51.9 292.7,53.3 293.0,69.2 293.4,54.7 293.7,53.1 294.1,57.7 294.4,68.8 294.8,58.2 295.1,49.1 295.5,59.8 295.8,63.8 296.2,56.9 296.5,52.7 296.9,58.5 297.2,58.9 297.5,70.6 297.9,62.0 298.2,69.5 298.6,50.1 298.9,54.1 299.3,58.6 299.6,59.3 300.0,59.6 300.3,62.4 300.7,63.5 301.0,62.7 301.4,64.7 301.7,56.3 302.1,55.7 302.4,63.2 302.8,55.7 303.1,68.6 303.5,61.2 303.8,48.1 304.2,53.9 304.5,55.5"/>
</g>
<rect x="200.2" y="25.3" width="104.3" height="69.7" fill="none" stroke="#333" stroke-width="0.85"/>
<line x1="234.97" y1="95" x2="234.97" y2="97.5" stroke="#222" stroke-width="0.9"/>
<text x="234.97" y="106" font-size="8.2" font-family="Liberation Sans" text-anchor="middle" textLength="23.65" lengthAdjust="spacingAndGlyphs" stroke="#000" stroke-width="0.15">40000</text>
<line x1="269.73" y1="95" x2="269.73" y2="97.5" stroke="#222" stroke-width="0.9"/>
<text x="269.73" y="106" font-size="8.2" font-family="Liberation Sans" text-anchor="middle" textLength="23.65" lengthAdjust="spacingAndGlyphs" stroke="#000" stroke-width="0.15">40100</text>
<text x="252.35" y="116.3" font-size="9.1" font-family="Liberation Sans" text-anchor="middle" textLength="44.4" lengthAdjust="spacingAndGlyphs">Time Step</text>
<line x1="355.3" y1="91.8" x2="357.8" y2="91.8" stroke="#222" stroke-width="0.9"/>
<text x="353.2" y="94.6" font-size="8.2" font-family="Liberation Sans" text-anchor="end" textLength="15.62" lengthAdjust="spacingAndGlyphs" stroke="#000" stroke-width="0.15">−20</text>
<line x1="355.3" y1="75.2" x2="357.8" y2="75.2" stroke="#222" stroke-width="0.9"/>
<text x="353.2" y="78" font-size="8.2" font-family="Liberation Sans" text-anchor="end" textLength="15.62" lengthAdjust="spacingAndGlyphs" stroke="#000" stroke-width="0.15">−10</text>
<line x1="355.3" y1="58.6" x2="357.8" y2="58.6" stroke="#222" stroke-width="0.9"/>
<text x="353.2" y="61.4" font-size="8.2" font-family="Liberation Sans" text-anchor="end" textLength="4.57" lengthAdjust="spacingAndGlyphs" stroke="#000" stroke-width="0.15">0</text>
<line x1="355.3" y1="42" x2="357.8" y2="42" stroke="#222" stroke-width="0.9"/>
<text x="353.2" y="44.8" font-size="8.2" font-family="Liberation Sans" text-anchor="end" textLength="9.34" lengthAdjust="spacingAndGlyphs" stroke="#000" stroke-width="0.15">10</text>
<line x1="355.3" y1="25.4" x2="357.8" y2="25.4" stroke="#222" stroke-width="0.9"/>
<text x="353.2" y="28.2" font-size="8.2" font-family="Liberation Sans" text-anchor="end" textLength="9.34" lengthAdjust="spacingAndGlyphs" stroke="#000" stroke-width="0.15">20</text>
<line x1="392.8" y1="95" x2="392.8" y2="25.3" stroke="#6a6a6a" stroke-width="0.85" stroke-dasharray="6.4 1.6 1 1.6"/>
<line x1="427.8" y1="95" x2="427.8" y2="25.3" stroke="#6a6a6a" stroke-width="0.85" stroke-dasharray="6.4 1.6 1 1.6"/>
<g fill="none" stroke-width="1.2" stroke-linejoin="miter">
<polyline stroke="#1f77b4" points="357.8,46.2 358.2,51.3 358.5,50.8 358.9,54.2 359.2,59.1 359.6,56.1 359.9,67.5 360.2,54.9 360.6,58.9 360.9,53.8 361.3,63.5 361.7,75.9 362.0,45.7 362.4,59.3 362.7,54.4 363.1,55.4 363.4,59.4 363.8,47.6 364.1,52.1 364.4,60.8 364.8,64.9 365.2,61.9 365.5,56.3 365.9,48.7 366.2,49.9 366.6,46.8 366.9,57.3 367.2,65.2 367.6,56.9 367.9,52.5 368.3,53.4 368.7,52.3 369.0,59.3 369.4,61.6 369.7,52.3 370.1,63.0 370.4,62.1 370.8,53.0 371.1,66.3 371.4,56.1 371.8,47.2 372.2,64.6 372.5,71.6 372.9,52.3 373.2,75.7 373.6,59.7 373.9,58.4 374.2,54.3 374.6,58.6 374.9,69.6 375.3,55.4 375.7,66.6 376.0,44.1 376.4,55.8 376.7,58.3 377.1,51.5 377.4,63.9 377.8,58.3 378.1,56.3 378.4,58.2 378.8,52.5 379.2,53.8 379.5,73.3 379.9,61.7 380.2,56.5 380.6,38.5 380.9,49.8 381.2,59.6 381.6,62.8 381.9,67.9 382.3,55.4 382.7,62.3 383.0,55.1 383.4,59.4 383.7,64.0 384.1,62.5 384.4,61.0 384.8,56.1 385.1,58.4 385.4,61.5 385.8,52.3 386.2,44.3 386.5,75.0 386.9,57.8 387.2,57.8 387.6,58.8 387.9,55.0 388.2,61.0 388.6,66.3 388.9,55.0 389.3,61.6 389.7,45.6 390.0,64.9 390.4,50.9 390.7,51.9 391.1,59.7 391.4,51.8 391.8,72.0 392.1,67.4 392.4,55.2 392.8,61.9 393.2,61.3 393.5,59.1 393.9,60.2 394.2,58.9 394.6,65.1 394.9,51.7 395.2,64.9 395.6,53.1 395.9,60.9 396.3,53.6 396.7,58.6 397.0,56.6 397.4,52.9 397.7,60.0 398.1,70.2 398.4,60.9 398.8,70.9 399.1,59.3 399.4,64.9 399.8,55.7 400.2,62.7 400.5,57.3 400.9,62.9 401.2,57.6 401.6,59.4 401.9,56.5 402.2,51.1 402.6,56.7 402.9,56.5 403.3,60.2 403.7,59.5 404.0,54.0 404.4,66.9 404.7,58.3 405.1,53.2 405.4,56.5 405.8,60.1 406.1,61.2 406.4,53.5 406.8,52.8 407.2,57.1 407.5,62.7 407.9,51.4 408.2,64.5 408.6,57.8 408.9,55.8 409.2,59.3 409.6,56.6 409.9,67.4 410.3,58.3 410.7,54.8 411.0,62.4 411.4,56.9 411.7,65.9 412.1,63.3 412.4,59.6 412.8,49.2 413.1,56.1 413.4,61.4 413.8,50.5 414.2,56.2 414.5,54.9 414.9,55.8 415.2,56.5 415.6,52.7 415.9,58.7 416.2,61.4 416.6,60.1 416.9,59.5 417.3,55.4 417.7,49.6 418.0,55.4 418.4,48.1 418.7,58.9 419.1,53.0 419.4,64.8 419.8,58.1 420.1,57.7 420.4,60.2 420.8,63.0 421.2,58.0 421.5,51.8 421.9,53.8 422.2,64.8 422.6,56.1 422.9,59.4 423.2,61.5 423.6,52.5 424.0,55.8 424.3,59.7 424.6,62.2 425.0,71.3 425.4,59.1 425.7,50.9 426.1,74.7 426.4,72.4 426.8,59.2 427.1,55.1 427.5,56.5 427.8,55.7 428.1,61.0 428.5,63.5 428.9,56.9 429.2,63.1 429.6,52.8 429.9,55.1 430.2,64.3 430.6,62.6 431.0,55.4 431.3,58.3 431.6,65.2 432.0,63.1 432.4,62.9 432.7,53.9 433.1,62.9 433.4,58.6 433.8,61.6 434.1,49.7 434.5,63.8 434.8,56.7 435.1,60.0 435.5,59.8 435.9,65.9 436.2,55.5 436.6,58.9 436.9,56.6 437.2,56.2 437.6,63.1 438.0,63.0 438.3,52.4 438.6,66.1 439.0,45.6 439.4,56.6 439.7,64.1 440.1,54.7 440.4,59.8 440.8,57.9 441.1,63.1 441.5,60.7 441.8,64.0 442.1,58.2 442.5,54.6 442.9,59.3 443.2,58.0 443.6,56.8 443.9,57.9 444.2,59.5 444.6,55.1 445.0,56.3 445.3,62.9 445.6,55.1 446.0,51.1 446.4,55.8 446.7,55.0 447.1,56.6 447.4,63.1 447.8,50.7 448.1,54.5 448.5,63.7 448.8,59.1 449.1,57.4 449.5,56.4 449.9,63.5 450.2,59.7 450.6,64.0 450.9,57.9 451.2,54.6 451.6,51.0 452.0,64.8 452.3,60.8 452.6,59.4 453.0,53.7 453.4,64.2 453.7,59.3 454.1,54.6 454.4,60.2 454.8,60.0 455.1,61.7 455.5,59.4 455.8,47.9 456.1,69.3 456.5,58.3 456.9,60.3 457.2,63.4 457.6,54.6 457.9,66.6 458.2,61.4 458.6,60.3 459.0,52.4 459.3,55.5 459.6,67.2 460.0,59.6 460.4,59.3 460.7,56.2 461.1,59.1 461.4,51.3 461.8,57.6 462.1,62.6 462.5,50.3 462.8,54.0"/>
<polyline stroke="#ff7f0e" points="357.8,55.5 358.2,53.3 358.5,57.2 358.9,51.8 359.2,61.6 359.6,59.6 359.9,64.4 360.2,63.2 360.6,55.5 360.9,52.9 361.3,59.3 361.7,61.3 362.0,56.3 362.4,64.4 362.7,58.5 363.1,54.6 363.4,52.9 363.8,52.1 364.1,60.8 364.4,64.6 364.8,62.7 365.2,55.5 365.5,60.2 365.9,53.3 366.2,54.6 366.6,54.4 366.9,60.5 367.2,58.7 367.6,61.8 367.9,54.1 368.3,59.8 368.7,56.0 369.0,67.6 369.4,60.2 369.7,64.5 370.1,56.8 370.4,59.4 370.8,61.0 371.1,55.4 371.4,48.4 371.8,61.2 372.2,62.0 372.5,64.5 372.9,58.2 373.2,64.2 373.6,67.1 373.9,56.5 374.2,63.6 374.6,66.9 374.9,57.6 375.3,63.8 375.7,57.7 376.0,56.2 376.4,63.8 376.7,66.2 377.1,57.2 377.4,66.2 377.8,60.9 378.1,62.6 378.4,64.0 378.8,53.1 379.2,59.6 379.5,67.1 379.9,56.1 380.2,57.5 380.6,58.4 380.9,52.9 381.2,52.3 381.6,59.9 381.9,60.5 382.3,58.1 382.7,52.4 383.0,59.1 383.4,61.9 383.7,65.4 384.1,54.8 384.4,59.7 384.8,55.9 385.1,54.7 385.4,58.7 385.8,60.8 386.2,59.0 386.5,61.5 386.9,57.2 387.2,57.0 387.6,53.4 387.9,61.3 388.2,55.6 388.6,59.4 388.9,63.7 389.3,58.5 389.7,54.4 390.0,58.0 390.4,47.0 390.7,55.4 391.1,52.9 391.4,56.0 391.8,64.2 392.1,64.1 392.4,52.2 392.8,62.2 393.2,61.7 393.5,55.3 393.9,63.7 394.2,56.3 394.6,65.9 394.9,46.6 395.2,65.6 395.6,46.7 395.9,61.3 396.3,57.2 396.7,51.3 397.0,60.7 397.4,55.3 397.7,66.6 398.1,60.6 398.4,71.8 398.8,70.0 399.1,64.6 399.4,56.2 399.8,48.9 400.2,63.2 400.5,53.5 400.9,64.0 401.2,52.5 401.6,60.5 401.9,58.8 402.2,44.2 402.6,54.1 402.9,53.9 403.3,67.8 403.7,68.9 404.0,51.3 404.4,68.5 404.7,59.7 405.1,60.1 405.4,53.5 405.8,66.9 406.1,59.1 406.4,56.1 406.8,56.9 407.2,65.9 407.5,63.4 407.9,56.0 408.2,54.7 408.6,70.1 408.9,49.7 409.2,64.5 409.6,61.9 409.9,64.4 410.3,58.3 410.7,57.9 411.0,61.1 411.4,58.5 411.7,55.3 412.1,56.1 412.4,52.6 412.8,54.2 413.1,51.3 413.4,68.3 413.8,57.0 414.2,58.3 414.5,46.4 414.9,59.7 415.2,53.5 415.6,57.8 415.9,65.5 416.2,78.3 416.6,65.5 416.9,70.1 417.3,49.7 417.7,44.7 418.0,48.9 418.4,57.4 418.7,55.2 419.1,50.5 419.4,62.9 419.8,58.8 420.1,53.2 420.4,62.4 420.8,57.0 421.2,58.9 421.5,55.5 421.9,58.5 422.2,59.3 422.6,51.1 422.9,47.8 423.2,63.2 423.6,60.4 424.0,56.8 424.3,54.1 424.6,51.4 425.0,68.8 425.4,54.7 425.7,56.5 426.1,75.9 426.4,69.7 426.8,60.6 427.1,50.3 427.5,49.8 427.8,55.3 428.1,61.8 428.5,65.5 428.9,52.8 429.2,66.1 429.6,55.4 429.9,52.9 430.2,61.9 430.6,59.7 431.0,49.5 431.3,60.3 431.6,65.7 432.0,62.4 432.4,64.6 432.7,51.4 433.1,61.3 433.4,63.5 433.8,55.3 434.1,52.4 434.5,66.7 434.8,58.3 435.1,59.1 435.5,56.4 435.9,63.4 436.2,61.0 436.6,59.5 436.9,57.1 437.2,58.0 437.6,61.1 438.0,65.5 438.3,55.5 438.6,66.0 439.0,48.2 439.4,62.2 439.7,66.9 440.1,51.7 440.4,58.3 440.8,62.5 441.1,63.3 441.5,58.9 441.8,66.0 442.1,55.5 442.5,55.2 442.9,64.1 443.2,62.2 443.6,55.9 443.9,54.8 444.2,53.8 444.6,61.5 445.0,57.3 445.3,66.4 445.6,54.3 446.0,54.0 446.4,51.7 446.7,51.9 447.1,57.5 447.4,63.4 447.8,52.0 448.1,56.0 448.5,61.9 448.8,62.1 449.1,50.1 449.5,57.4 449.9,63.7 450.2,65.5 450.6,63.5 450.9,57.5 451.2,53.9 451.6,55.4 452.0,57.1 452.3,55.4 452.6,62.3 453.0,52.2 453.4,57.2 453.7,59.6 454.1,51.8 454.4,59.5 454.8,59.6 455.1,62.2 455.5,59.9 455.8,51.4 456.1,60.9 456.5,53.6 456.9,61.3 457.2,63.4 457.6,53.4 457.9,61.9 458.2,59.8 458.6,58.4 459.0,53.9 459.3,56.2 459.6,64.3 460.0,60.3 460.4,56.6 460.7,60.5 461.1,55.8 461.4,55.8 461.8,52.3 462.1,65.6 462.5,53.0 462.8,57.4"/>
<polyline stroke="#2ca02c" points="357.8,57.4 358.2,52.9 358.5,54.4 358.9,53.8 359.2,62.6 359.6,65.1 359.9,60.5 360.2,63.9 360.6,53.0 360.9,59.2 361.3,63.0 361.7,63.2 362.0,56.5 362.4,62.0 362.7,58.9 363.1,56.2 363.4,54.1 363.8,52.9 364.1,54.1 364.4,62.0 364.8,62.1 365.2,55.7 365.5,57.0 365.9,53.1 366.2,55.0 366.6,54.0 366.9,61.6 367.2,64.4 367.6,61.3 367.9,58.6 368.3,63.5 368.7,54.4 369.0,64.8 369.4,57.8 369.7,62.3 370.1,55.1 370.4,55.2 370.8,59.7 371.1,54.5 371.4,54.0 371.8,60.0 372.2,60.5 372.5,60.8 372.9,64.8 373.2,65.0 373.6,65.4 373.9,56.1 374.2,62.5 374.6,71.6 374.9,57.5 375.3,61.4 375.7,56.2 376.0,54.5 376.4,66.1 376.7,66.7 377.1,56.1 377.4,71.1 377.8,63.3 378.1,63.5 378.4,59.3 378.8,54.6 379.2,58.1 379.5,64.4 379.9,51.8 380.2,53.3 380.6,60.2 380.9,49.9 381.2,58.2 381.6,59.2 381.9,63.0 382.3,64.1 382.7,50.1 383.0,55.9 383.4,56.3 383.7,69.8 384.1,57.3 384.4,61.0 384.8,56.0 385.1,56.7 385.4,54.4 385.8,58.5 386.2,56.5 386.5,60.0 386.9,56.3 387.2,59.7 387.6,53.1 387.9,60.9 388.2,59.3 388.6,62.3 388.9,61.6 389.3,54.8 389.7,54.5 390.0,62.8 390.4,53.1 390.7,61.9 391.1,57.2 391.4,58.8 391.8,66.5 392.1,68.6 392.4,50.8 392.8,62.4 393.2,59.3 393.5,52.9 393.9,60.6 394.2,57.7 394.6,64.7 394.9,54.3 395.2,68.5 395.6,57.8 395.9,59.1 396.3,45.1 396.7,56.9 397.0,53.4 397.4,55.6 397.7,61.9 398.1,69.9 398.4,61.2 398.8,55.1 399.1,58.6 399.4,64.8 399.8,55.3 400.2,61.5 400.5,62.0 400.9,64.9 401.2,55.8 401.6,56.1 401.9,53.9 402.2,48.2 402.6,55.3 402.9,53.0 403.3,58.7 403.7,63.0 404.0,50.7 404.4,63.6 404.7,56.2 405.1,57.3 405.4,52.6 405.8,56.6 406.1,57.9 406.4,63.1 406.8,56.9 407.2,57.2 407.5,58.7 407.9,50.8 408.2,54.0 408.6,61.0 408.9,58.5 409.2,60.9 409.6,58.2 409.9,66.3 410.3,59.1 410.7,64.1 411.0,63.1 411.4,62.5 411.7,59.8 412.1,59.4 412.4,58.1 412.8,41.6 413.1,56.0 413.4,64.9 413.8,56.2 414.2,59.1 414.5,55.5 414.9,58.6 415.2,51.5 415.6,54.7 415.9,62.5 416.2,59.1 416.6,56.7 416.9,55.6 417.3,54.4 417.7,49.3 418.0,56.9 418.4,52.4 418.7,62.3 419.1,54.7 419.4,64.3 419.8,63.0 420.1,50.6 420.4,60.3 420.8,61.4 421.2,56.2 421.5,53.3 421.9,52.9 422.2,60.7 422.6,53.1 422.9,57.3 423.2,67.7 423.6,50.7 424.0,53.6 424.3,56.7 424.6,59.4 425.0,69.2 425.4,58.3 425.7,52.5 426.1,68.6 426.4,69.9 426.8,61.9 427.1,55.2 427.5,59.1 427.8,57.0 428.1,66.0 428.5,64.8 428.9,53.4 429.2,62.1 429.6,51.2 429.9,54.6 430.2,62.1 430.6,61.9 431.0,52.4 431.3,56.0 431.6,64.7 432.0,60.9 432.4,68.8 432.7,53.6 433.1,66.2 433.4,60.7 433.8,57.2 434.1,51.8 434.5,63.4 434.8,56.3 435.1,60.9 435.5,60.7 435.9,64.8 436.2,56.7 436.6,53.5 436.9,59.3 437.2,55.1 437.6,46.0 438.0,65.3 438.3,57.6 438.6,66.5 439.0,43.9 439.4,56.7 439.7,59.9 440.1,54.5 440.4,61.4 440.8,57.5 441.1,68.9 441.5,56.3 441.8,65.5 442.1,55.4 442.5,49.7 442.9,55.5 443.2,61.3 443.6,56.6 443.9,54.6 444.2,57.8 444.6,56.6 445.0,54.9 445.3,63.8 445.6,52.0 446.0,52.0 446.4,56.3 446.7,54.0 447.1,54.5 447.4,61.2 447.8,50.9 448.1,49.7 448.5,63.3 448.8,61.0 449.1,58.3 449.5,56.0 449.9,65.7 450.2,64.7 450.6,63.7 450.9,50.5 451.2,55.7 451.6,60.1 452.0,60.1 452.3,58.1 452.6,59.3 453.0,54.0 453.4,53.6 453.7,60.3 454.1,51.1 454.4,59.8 454.8,60.3 455.1,61.9 455.5,58.7 455.8,54.4 456.1,60.4 456.5,58.2 456.9,66.0 457.2,57.3 457.6,51.7 457.9,61.7 458.2,57.3 458.6,63.6 459.0,52.0 459.3,55.6 459.6,62.5 460.0,64.6 460.4,59.8 460.7,61.1 461.1,52.4 461.4,51.5 461.8,57.3 462.1,62.7 462.5,51.3 462.8,57.5"/>
<polyline stroke="#d62728" points="357.8,51.7 358.2,56.6 358.5,55.8 358.9,52.7 359.2,62.4 359.6,60.2 359.9,66.8 360.2,60.9 360.6,54.4 360.9,56.5 361.3,64.3 361.7,62.8 362.0,53.5 362.4,59.7 362.7,58.1 363.1,59.0 363.4,53.8 363.8,50.6 364.1,59.0 364.4,59.5 364.8,64.7 365.2,55.8 365.5,57.2 365.9,54.8 366.2,57.7 366.6,55.1 366.9,62.2 367.2,64.4 367.6,55.9 367.9,57.4 368.3,62.5 368.7,47.8 369.0,68.1 369.4,57.9 369.7,62.0 370.1,57.4 370.4,55.8 370.8,60.6 371.1,54.8 371.4,52.1 371.8,57.5 372.2,58.3 372.5,61.5 372.9,62.7 373.2,61.3 373.6,68.5 373.9,57.7 374.2,70.5 374.6,69.5 374.9,57.0 375.3,66.7 375.7,57.9 376.0,51.9 376.4,62.8 376.7,65.9 377.1,54.1 377.4,67.6 377.8,63.3 378.1,59.7 378.4,62.0 378.8,54.3 379.2,63.0 379.5,68.7 379.9,51.2 380.2,56.9 380.6,64.5 380.9,52.2 381.2,57.3 381.6,53.3 381.9,62.7 382.3,59.8 382.7,50.4 383.0,56.7 383.4,59.9 383.7,64.5 384.1,56.3 384.4,57.2 384.8,58.8 385.1,53.0 385.4,53.9 385.8,59.7 386.2,59.7 386.5,58.5 386.9,61.1 387.2,54.5 387.6,57.6 387.9,59.3 388.2,56.8 388.6,62.6 388.9,62.3 389.3,57.7 389.7,55.6 390.0,62.3 390.4,49.6 390.7,58.0 391.1,54.6 391.4,55.6 391.8,62.4 392.1,67.0 392.4,58.4 392.8,60.6 393.2,66.0 393.5,59.5 393.9,59.5 394.2,48.0 394.6,64.9 394.9,56.4 395.2,70.8 395.6,55.1 395.9,68.9 396.3,59.3 396.7,50.1 397.0,55.3 397.4,36.7 397.7,65.6 398.1,70.0 398.4,64.3 398.8,73.1 399.1,52.6 399.4,65.6 399.8,58.4 400.2,59.2 400.5,63.2 400.9,64.9 401.2,58.8 401.6,56.0 401.9,55.0 402.2,46.9 402.6,53.6 402.9,52.4 403.3,64.4 403.7,60.3 404.0,54.7 404.4,66.2 404.7,43.2 405.1,57.3 405.4,49.8 405.8,42.5 406.1,58.1 406.4,64.0 406.8,39.6 407.2,60.5 407.5,64.5 407.9,51.3 408.2,48.2 408.6,69.4 408.9,82.2 409.2,49.3 409.6,52.3 409.9,63.7 410.3,64.1 410.7,57.4 411.0,63.3 411.4,63.3 411.7,55.1 412.1,55.2 412.4,55.5 412.8,48.9 413.1,58.0 413.4,58.5 413.8,51.1 414.2,60.1 414.5,54.8 414.9,51.7 415.2,58.5 415.6,51.8 415.9,63.2 416.2,55.1 416.6,59.1 416.9,49.4 417.3,54.4 417.7,41.2 418.0,44.5 418.4,46.4 418.7,59.8 419.1,57.3 419.4,56.6 419.8,59.7 420.1,51.0 420.4,65.2 420.8,58.0 421.2,59.4 421.5,52.5 421.9,63.0 422.2,48.6 422.6,56.6 422.9,55.7 423.2,68.0 423.6,48.7 424.0,47.1 424.3,57.1 424.6,61.5 425.0,72.4 425.4,50.2 425.7,45.7 426.1,64.5 426.4,60.1 426.8,66.8 427.1,55.4 427.5,59.2 427.8,56.8 428.1,58.3 428.5,61.2 428.9,54.3 429.2,67.1 429.6,55.4 429.9,55.8 430.2,56.5 430.6,61.2 431.0,50.8 431.3,56.4 431.6,68.3 432.0,59.9 432.4,67.7 432.7,57.4 433.1,63.5 433.4,59.6 433.8,54.3 434.1,53.8 434.5,64.6 434.8,60.3 435.1,60.1 435.5,57.4 435.9,65.7 436.2,56.4 436.6,66.6 436.9,57.2 437.2,53.6 437.6,61.0 438.0,67.2 438.3,56.3 438.6,65.7 439.0,47.4 439.4,59.2 439.7,68.9 440.1,51.9 440.4,60.0 440.8,60.3 441.1,63.0 441.5,60.4 441.8,65.5 442.1,53.0 442.5,55.4 442.9,58.9 443.2,61.2 443.6,56.0 443.9,55.1 444.2,58.8 444.6,59.9 445.0,53.6 445.3,64.1 445.6,55.2 446.0,50.4 446.4,53.0 446.7,58.4 447.1,56.8 447.4,63.2 447.8,52.9 448.1,54.2 448.5,62.1 448.8,60.8 449.1,52.6 449.5,57.8 449.9,63.2 450.2,66.6 450.6,63.0 450.9,57.6 451.2,54.9 451.6,55.4 452.0,58.7 452.3,59.7 452.6,58.7 453.0,53.9 453.4,56.1 453.7,59.7 454.1,54.2 454.4,58.9 454.8,58.8 455.1,64.7 455.5,57.1 455.8,54.7 456.1,62.8 456.5,50.2 456.9,63.9 457.2,59.2 457.6,54.9 457.9,66.4 458.2,56.6 458.6,58.9 459.0,52.0 459.3,55.5 459.6,60.5 460.0,63.2 460.4,54.0 460.7,63.3 461.1,57.0 461.4,55.3 461.8,54.1 462.1,61.2 462.5,52.3 462.8,56.1"/>
<polyline stroke="#9467bd" points="357.8,56.7 358.2,49.5 358.5,53.5 358.9,52.3 359.2,60.1 359.6,59.9 359.9,63.7 360.2,60.6 360.6,55.9 360.9,58.6 361.3,63.5 361.7,62.8 362.0,53.4 362.4,67.7 362.7,59.9 363.1,57.6 363.4,53.1 363.8,51.9 364.1,58.0 364.4,65.9 364.8,60.7 365.2,55.2 365.5,58.0 365.9,51.6 366.2,60.9 366.6,53.7 366.9,67.3 367.2,64.6 367.6,58.6 367.9,59.5 368.3,61.8 368.7,51.4 369.0,69.7 369.4,60.3 369.7,57.7 370.1,58.7 370.4,55.8 370.8,62.8 371.1,55.9 371.4,54.2 371.8,61.8 372.2,56.0 372.5,60.7 372.9,63.3 373.2,61.9 373.6,62.2 373.9,57.4 374.2,63.3 374.6,70.2 374.9,58.4 375.3,66.8 375.7,57.9 376.0,56.4 376.4,65.6 376.7,62.1 377.1,56.0 377.4,67.7 377.8,65.2 378.1,62.5 378.4,63.0 378.8,53.6 379.2,59.1 379.5,69.6 379.9,55.0 380.2,51.5 380.6,57.2 380.9,51.2 381.2,58.3 381.6,55.4 381.9,62.5 382.3,58.2 382.7,62.4 383.0,56.3 383.4,64.3 383.7,66.3 384.1,51.1 384.4,54.9 384.8,56.4 385.1,57.0 385.4,54.5 385.8,54.4 386.2,59.0 386.5,61.5 386.9,59.7 387.2,54.6 387.6,53.3 387.9,62.2 388.2,57.0 388.6,56.1 388.9,61.8 389.3,59.7 389.7,58.6 390.0,59.2 390.4,52.5 390.7,55.9 391.1,54.1 391.4,52.8 391.8,64.8 392.1,66.2 392.4,58.6 392.8,61.5 393.2,61.8 393.5,58.4 393.9,57.9 394.2,57.4 394.6,58.1 394.9,52.5 395.2,67.4 395.6,52.4 395.9,61.0 396.3,55.7 396.7,58.1 397.0,56.7 397.4,54.9 397.7,59.2 398.1,67.5 398.4,62.1 398.8,69.7 399.1,64.6 399.4,62.9 399.8,58.5 400.2,62.5 400.5,55.8 400.9,68.7 401.2,60.2 401.6,63.4 401.9,57.9 402.2,50.7 402.6,61.5 402.9,54.1 403.3,59.0 403.7,57.1 404.0,51.6 404.4,62.7 404.7,56.5 405.1,57.5 405.4,56.4 405.8,64.3 406.1,60.3 406.4,56.9 406.8,55.1 407.2,59.2 407.5,60.7 407.9,52.8 408.2,54.5 408.6,60.1 408.9,55.2 409.2,57.6 409.6,59.9 409.9,67.3 410.3,58.2 410.7,60.1 411.0,61.2 411.4,54.6 411.7,62.9 412.1,58.8 412.4,59.1 412.8,49.5 413.1,58.1 413.4,61.8 413.8,51.4 414.2,61.3 414.5,49.7 414.9,52.6 415.2,50.3 415.6,56.6 415.9,58.0 416.2,66.6 416.6,56.8 416.9,62.3 417.3,54.8 417.7,52.3 418.0,57.3 418.4,48.5 418.7,54.2 419.1,55.6 419.4,63.4 419.8,60.8 420.1,57.6 420.4,58.1 420.8,58.2 421.2,59.1 421.5,54.1 421.9,55.2 422.2,61.7 422.6,48.7 422.9,62.3 423.2,59.0 423.6,52.6 424.0,58.3 424.3,57.3 424.6,58.5 425.0,74.2 425.4,53.7 425.7,51.2 426.1,67.9 426.4,71.5 426.8,60.0 427.1,53.8 427.5,56.5 427.8,62.5 428.1,64.5 428.5,59.6 428.9,63.4 429.2,60.9 429.6,50.6 429.9,52.5 430.2,60.8 430.6,55.2 431.0,49.5 431.3,60.9 431.6,69.4 432.0,66.0 432.4,72.8 432.7,51.8 433.1,57.0 433.4,57.6 433.8,63.8 434.1,53.3 434.5,62.4 434.8,57.2 435.1,58.9 435.5,55.8 435.9,63.7 436.2,63.3 436.6,62.9 436.9,59.1 437.2,54.9 437.6,60.4 438.0,67.3 438.3,52.8 438.6,68.0 439.0,41.2 439.4,63.0 439.7,69.8 440.1,47.7 440.4,62.2 440.8,61.2 441.1,57.8 441.5,60.4 441.8,64.7 442.1,56.4 442.5,53.4 442.9,58.1 443.2,61.3 443.6,57.0 443.9,52.3 444.2,61.0 444.6,56.4 445.0,53.2 445.3,61.6 445.6,58.2 446.0,51.6 446.4,56.1 446.7,51.7 447.1,59.0 447.4,57.3 447.8,55.6 448.1,50.4 448.5,65.4 448.8,53.7 449.1,57.9 449.5,52.2 449.9,62.2 450.2,64.3 450.6,61.4 450.9,59.0 451.2,53.6 451.6,57.6 452.0,62.3 452.3,59.4 452.6,51.7 453.0,56.5 453.4,55.5 453.7,62.2 454.1,53.1 454.4,59.9 454.8,60.5 455.1,60.5 455.5,58.0 455.8,50.1 456.1,63.2 456.5,48.8 456.9,62.2 457.2,40.5 457.6,54.4 457.9,72.1 458.2,55.1 458.6,61.2 459.0,50.7 459.3,62.0 459.6,60.0 460.0,55.1 460.4,56.6 460.7,68.5 461.1,54.6 461.4,56.3 461.8,57.7 462.1,66.0 462.5,51.9 462.8,55.1"/>
<polyline stroke="#8c564b" points="357.8,57.9 358.2,55.6 358.5,50.2 358.9,53.8 359.2,62.1 359.6,63.8 359.9,63.2 360.2,62.0 360.6,52.1 360.9,54.5 361.3,64.8 361.7,62.7 362.0,51.7 362.4,71.6 362.7,59.1 363.1,59.9 363.4,57.2 363.8,55.9 364.1,60.4 364.4,63.9 364.8,61.7 365.2,55.3 365.5,60.5 365.9,53.3 366.2,57.7 366.6,55.1 366.9,62.1 367.2,62.9 367.6,57.8 367.9,54.4 368.3,63.4 368.7,58.3 369.0,63.8 369.4,59.0 369.7,56.7 370.1,55.4 370.4,53.2 370.8,56.9 371.1,58.9 371.4,56.4 371.8,65.3 372.2,66.8 372.5,61.9 372.9,60.9 373.2,59.2 373.6,63.7 373.9,52.3 374.2,64.3 374.6,66.0 374.9,56.4 375.3,66.5 375.7,60.6 376.0,53.2 376.4,61.5 376.7,65.5 377.1,57.6 377.4,66.4 377.8,65.1 378.1,62.8 378.4,61.7 378.8,52.9 379.2,58.8 379.5,68.2 379.9,47.4 380.2,59.1 380.6,57.3 380.9,49.8 381.2,59.2 381.6,60.9 381.9,56.5 382.3,53.2 382.7,53.5 383.0,55.7 383.4,55.6 383.7,65.7 384.1,59.5 384.4,55.3 384.8,54.7 385.1,50.2 385.4,54.7 385.8,52.9 386.2,57.2 386.5,60.3 386.9,55.0 387.2,53.5 387.6,56.4 387.9,59.6 388.2,55.1 388.6,56.7 388.9,59.6 389.3,61.2 389.7,53.4 390.0,62.0 390.4,50.9 390.7,58.6 391.1,52.8 391.4,54.9 391.8,69.2 392.1,65.9 392.4,55.9 392.8,56.7 393.2,60.2 393.5,56.8 393.9,58.2 394.2,54.9 394.6,61.8 394.9,54.2 395.2,64.7 395.6,59.8 395.9,57.4 396.3,54.2 396.7,59.8 397.0,55.4 397.4,54.8 397.7,61.7 398.1,67.1 398.4,62.0 398.8,67.8 399.1,60.9 399.4,63.7 399.8,59.1 400.2,60.0 400.5,57.9 400.9,64.6 401.2,62.4 401.6,57.1 401.9,52.7 402.2,49.7 402.6,60.0 402.9,53.0 403.3,63.4 403.7,65.0 404.0,49.9 404.4,69.2 404.7,57.7 405.1,54.8 405.4,56.8 405.8,65.3 406.1,56.3 406.4,52.5 406.8,50.7 407.2,57.0 407.5,58.3 407.9,56.2 408.2,56.3 408.6,59.9 408.9,54.8 409.2,58.9 409.6,55.6 409.9,64.1 410.3,58.8 410.7,59.9 411.0,62.4 411.4,51.5 411.7,63.0 412.1,59.1 412.4,61.1 412.8,49.7 413.1,56.5 413.4,63.9 413.8,53.2 414.2,58.2 414.5,53.8 414.9,56.7 415.2,52.4 415.6,58.4 415.9,61.1 416.2,59.7 416.6,57.1 416.9,56.5 417.3,50.4 417.7,48.0 418.0,55.9 418.4,54.3 418.7,55.6 419.1,57.3 419.4,60.3 419.8,58.8 420.1,59.2 420.4,59.0 420.8,57.7 421.2,61.9 421.5,55.3 421.9,55.3 422.2,60.8 422.6,54.4 422.9,56.9 423.2,58.7 423.6,53.5 424.0,53.9 424.3,60.9 424.6,56.4 425.0,72.3 425.4,53.1 425.7,51.6 426.1,70.1 426.4,69.0 426.8,65.3 427.1,51.8 427.5,57.3 427.8,55.9 428.1,59.1 428.5,63.5 428.9,53.5 429.2,64.1 429.6,58.5 429.9,56.4 430.2,58.9 430.6,60.2 431.0,51.6 431.3,58.4 431.6,67.5 432.0,61.5 432.4,70.7 432.7,54.0 433.1,61.3 433.4,57.3 433.8,58.0 434.1,53.1 434.5,67.1 434.8,57.5 435.1,59.8 435.5,58.0 435.9,70.0 436.2,60.1 436.6,56.9 436.9,60.3 437.2,54.3 437.6,67.5 438.0,67.8 438.3,55.2 438.6,64.7 439.0,47.0 439.4,62.5 439.7,68.7 440.1,50.0 440.4,62.1 440.8,61.1 441.1,63.6 441.5,59.6 441.8,67.2 442.1,54.3 442.5,50.7 442.9,58.7 443.2,59.3 443.6,56.8 443.9,56.0 444.2,59.2 444.6,63.4 445.0,58.4 445.3,64.0 445.6,55.5 446.0,54.1 446.4,50.2 446.7,59.0 447.1,52.9 447.4,63.8 447.8,52.0 448.1,51.0 448.5,61.5 448.8,62.2 449.1,56.2 449.5,55.8 449.9,62.1 450.2,63.2 450.6,63.8 450.9,57.1 451.2,57.4 451.6,59.2 452.0,56.5 452.3,55.0 452.6,62.8 453.0,55.5 453.4,56.6 453.7,60.7 454.1,47.5 454.4,60.2 454.8,60.2 455.1,61.6 455.5,62.3 455.8,50.4 456.1,61.8 456.5,49.9 456.9,63.2 457.2,60.9 457.6,54.0 457.9,64.6 458.2,59.8 458.6,59.5 459.0,54.5 459.3,55.7 459.6,63.3 460.0,63.1 460.4,55.4 460.7,58.0 461.1,50.7 461.4,51.7 461.8,55.0 462.1,64.6 462.5,52.1 462.8,63.0"/>
<polyline stroke="#e377c2" points="357.8,54.2 358.2,55.4 358.5,50.6 358.9,49.3 359.2,66.2 359.6,61.0 359.9,61.1 360.2,69.4 360.6,51.8 360.9,53.8 361.3,63.0 361.7,63.7 362.0,57.8 362.4,66.9 362.7,63.9 363.1,58.8 363.4,51.3 363.8,52.4 364.1,60.9 364.4,67.3 364.8,61.0 365.2,60.3 365.5,58.8 365.9,53.5 366.2,55.2 366.6,49.0 366.9,63.0 367.2,59.5 367.6,57.5 367.9,62.0 368.3,64.0 368.7,51.8 369.0,62.3 369.4,60.1 369.7,64.8 370.1,50.4 370.4,52.3 370.8,62.5 371.1,60.3 371.4,51.1 371.8,61.3 372.2,53.9 372.5,60.8 372.9,59.8 373.2,63.2 373.6,71.5 373.9,58.9 374.2,65.0 374.6,70.0 374.9,55.6 375.3,64.3 375.7,59.1 376.0,48.6 376.4,62.1 376.7,64.1 377.1,57.1 377.4,67.8 377.8,60.0 378.1,69.6 378.4,60.5 378.8,55.3 379.2,57.2 379.5,60.9 379.9,51.2 380.2,58.4 380.6,52.4 380.9,49.6 381.2,50.5 381.6,53.4 381.9,60.6 382.3,52.2 382.7,52.7 383.0,59.5 383.4,57.3 383.7,57.1 384.1,52.9 384.4,56.7 384.8,50.1 385.1,58.5 385.4,55.9 385.8,58.4 386.2,58.6 386.5,55.4 386.9,59.1 387.2,60.0 387.6,63.7 387.9,64.6 388.2,53.0 388.6,59.6 388.9,67.9 389.3,56.8 389.7,47.8 390.0,64.5 390.4,50.9 390.7,59.4 391.1,55.4 391.4,62.2 391.8,70.1 392.1,62.8 392.4,56.0 392.8,59.0 393.2,57.2 393.5,54.3 393.9,56.4 394.2,58.5 394.6,66.5 394.9,51.4 395.2,67.2 395.6,52.0 395.9,63.3 396.3,55.4 396.7,55.6 397.0,61.3 397.4,49.0 397.7,54.6 398.1,68.1 398.4,60.3 398.8,71.4 399.1,61.9 399.4,61.0 399.8,57.6 400.2,60.2 400.5,62.7 400.9,68.0 401.2,60.6 401.6,62.5 401.9,56.5 402.2,51.9 402.6,56.4 402.9,53.6 403.3,58.3 403.7,59.0 404.0,47.7 404.4,65.8 404.7,63.1 405.1,54.2 405.4,54.0 405.8,62.9 406.1,56.1 406.4,56.0 406.8,58.5 407.2,55.5 407.5,56.0 407.9,58.2 408.2,53.2 408.6,60.3 408.9,58.8 409.2,58.2 409.6,59.4 409.9,66.9 410.3,58.5 410.7,54.8 411.0,64.8 411.4,54.6 411.7,59.7 412.1,63.7 412.4,60.7 412.8,47.4 413.1,56.4 413.4,61.4 413.8,52.1 414.2,60.4 414.5,50.8 414.9,51.9 415.2,53.1 415.6,54.1 415.9,56.9 416.2,61.0 416.6,62.0 416.9,60.3 417.3,52.7 417.7,49.9 418.0,53.7 418.4,49.8 418.7,56.7 419.1,55.3 419.4,63.6 419.8,59.7 420.1,57.9 420.4,59.4 420.8,64.1 421.2,55.6 421.5,54.6 421.9,59.9 422.2,61.2 422.6,55.7 422.9,58.8 423.2,63.1 423.6,47.6 424.0,57.5 424.3,57.8 424.6,58.8 425.0,72.4 425.4,57.0 425.7,56.6 426.1,67.2 426.4,65.1 426.8,63.3 427.1,56.3 427.5,56.9 427.8,58.5 428.1,60.2 428.5,55.3 428.9,53.8 429.2,65.2 429.6,53.3 429.9,55.5 430.2,63.4 430.6,62.3 431.0,49.5 431.3,59.4 431.6,51.5 432.0,62.2 432.4,70.3 432.7,53.3 433.1,57.1 433.4,61.9 433.8,61.9 434.1,53.6 434.5,60.1 434.8,56.7 435.1,61.6 435.5,62.1 435.9,70.3 436.2,56.9 436.6,61.8 436.9,57.0 437.2,56.7 437.6,64.7 438.0,65.4 438.3,56.0 438.6,64.3 439.0,49.3 439.4,56.2 439.7,69.9 440.1,58.4 440.4,57.8 440.8,61.6 441.1,62.3 441.5,64.3 441.8,54.6 442.1,51.1 442.5,62.1 442.9,59.1 443.2,64.3 443.6,57.0 443.9,55.4 444.2,61.0 444.6,57.2 445.0,50.9 445.3,70.5 445.6,53.7 446.0,49.1 446.4,56.1 446.7,53.7 447.1,55.2 447.4,68.8 447.8,51.0 448.1,49.7 448.5,67.8 448.8,59.8 449.1,52.7 449.5,57.2 449.9,72.9 450.2,66.1 450.6,62.3 450.9,57.6 451.2,56.4 451.6,49.0 452.0,58.9 452.3,58.4 452.6,44.5 453.0,51.0 453.4,58.2 453.7,67.1 454.1,55.3 454.4,60.2 454.8,59.8 455.1,62.0 455.5,56.5 455.8,54.7 456.1,61.2 456.5,46.3 456.9,63.1 457.2,69.2 457.6,54.1 457.9,64.1 458.2,61.0 458.6,60.8 459.0,55.2 459.3,50.1 459.6,60.7 460.0,61.5 460.4,59.5 460.7,60.6 461.1,63.5 461.4,60.2 461.8,52.4 462.1,63.2 462.5,51.7 462.8,62.7"/>
<polyline stroke="#7f7f7f" points="357.8,51.7 358.2,51.8 358.5,61.4 358.9,51.9 359.2,62.4 359.6,60.3 359.9,59.6 360.2,60.5 360.6,51.7 360.9,54.3 361.3,61.2 361.7,58.6 362.0,54.5 362.4,65.2 362.7,61.1 363.1,53.2 363.4,50.4 363.8,55.0 364.1,62.2 364.4,64.7 364.8,63.8 365.2,53.8 365.5,51.3 365.9,58.4 366.2,54.6 366.6,52.6 366.9,64.5 367.2,62.2 367.6,59.3 367.9,54.4 368.3,63.0 368.7,52.5 369.0,65.0 369.4,61.8 369.7,59.4 370.1,59.7 370.4,56.2 370.8,57.6 371.1,58.7 371.4,54.3 371.8,61.5 372.2,61.3 372.5,62.8 372.9,64.1 373.2,61.1 373.6,66.8 373.9,56.0 374.2,63.9 374.6,71.1 374.9,54.6 375.3,65.7 375.7,58.0 376.0,55.5 376.4,67.3 376.7,64.4 377.1,49.9 377.4,63.9 377.8,62.4 378.1,65.1 378.4,61.7 378.8,51.5 379.2,60.6 379.5,67.8 379.9,51.1 380.2,55.0 380.6,57.3 380.9,49.2 381.2,51.5 381.6,58.3 381.9,61.8 382.3,58.3 382.7,51.8 383.0,58.0 383.4,61.8 383.7,60.7 384.1,56.8 384.4,60.2 384.8,50.0 385.1,57.9 385.4,53.3 385.8,58.1 386.2,55.2 386.5,61.9 386.9,52.7 387.2,54.0 387.6,59.1 387.9,58.7 388.2,57.8 388.6,62.6 388.9,62.7 389.3,54.0 389.7,58.2 390.0,59.9 390.4,52.5 390.7,55.5 391.1,52.5 391.4,56.3 391.8,66.8 392.1,71.7 392.4,59.0 392.8,63.0 393.2,63.0 393.5,58.3 393.9,55.4 394.2,58.4 394.6,64.3 394.9,49.9 395.2,67.1 395.6,51.0 395.9,58.6 396.3,56.5 396.7,60.8 397.0,54.0 397.4,51.3 397.7,61.6 398.1,68.5 398.4,59.1 398.8,67.9 399.1,59.1 399.4,57.9 399.8,56.2 400.2,61.0 400.5,55.4 400.9,65.5 401.2,57.1 401.6,59.8 401.9,55.8 402.2,45.3 402.6,54.8 402.9,53.7 403.3,61.3 403.7,61.2 404.0,51.4 404.4,67.2 404.7,59.2 405.1,57.4 405.4,57.6 405.8,60.7 406.1,59.0 406.4,53.6 406.8,53.6 407.2,62.2 407.5,58.9 407.9,53.4 408.2,48.9 408.6,61.9 408.9,58.0 409.2,59.5 409.6,55.9 409.9,62.8 410.3,58.2 410.7,60.0 411.0,64.1 411.4,62.5 411.7,66.5 412.1,60.2 412.4,57.1 412.8,51.4 413.1,56.5 413.4,65.7 413.8,54.5 414.2,59.6 414.5,54.4 414.9,56.2 415.2,56.6 415.6,46.3 415.9,59.6 416.2,60.6 416.6,61.4 416.9,55.4 417.3,55.1 417.7,53.2 418.0,59.2 418.4,52.8 418.7,57.8 419.1,52.4 419.4,61.5 419.8,55.9 420.1,57.7 420.4,60.2 420.8,65.4 421.2,59.8 421.5,57.4 421.9,55.5 422.2,60.2 422.6,49.4 422.9,57.7 423.2,58.9 423.6,50.5 424.0,56.7 424.3,57.3 424.6,57.0 425.0,74.6 425.4,52.1 425.7,55.4 426.1,70.9 426.4,63.3 426.8,54.6 427.1,53.2 427.5,57.8 427.8,53.5 428.1,57.1 428.5,60.5 428.9,55.7 429.2,61.2 429.6,51.7 429.9,54.1 430.2,58.8 430.6,59.5 431.0,48.8 431.3,56.5 431.6,63.8 432.0,60.3 432.4,68.1 432.7,53.5 433.1,63.0 433.4,57.2 433.8,54.8 434.1,54.5 434.5,67.0 434.8,58.0 435.1,59.6 435.5,57.9 435.9,63.3 436.2,57.1 436.6,56.9 436.9,55.6 437.2,57.3 437.6,59.8 438.0,66.7 438.3,50.9 438.6,66.9 439.0,40.8 439.4,59.6 439.7,64.1 440.1,54.6 440.4,56.2 440.8,60.5 441.1,57.9 441.5,62.6 441.8,62.8 442.1,52.4 442.5,54.8 442.9,59.4 443.2,59.8 443.6,58.1 443.9,52.9 444.2,54.7 444.6,58.7 445.0,55.2 445.3,63.7 445.6,55.2 446.0,49.5 446.4,54.1 446.7,58.3 447.1,57.0 447.4,66.4 447.8,55.2 448.1,50.2 448.5,57.5 448.8,62.9 449.1,53.2 449.5,57.3 449.9,67.4 450.2,66.3 450.6,60.5 450.9,58.3 451.2,54.7 451.6,51.4 452.0,59.8 452.3,56.1 452.6,61.8 453.0,53.9 453.4,59.6 453.7,59.4 454.1,53.1 454.4,60.3 454.8,59.4 455.1,60.9 455.5,58.6 455.8,53.7 456.1,65.9 456.5,53.6 456.9,62.2 457.2,62.5 457.6,54.1 457.9,64.4 458.2,58.6 458.6,60.3 459.0,53.5 459.3,57.0 459.6,58.2 460.0,63.9 460.4,59.4 460.7,55.8 461.1,56.6 461.4,52.8 461.8,58.1 462.1,60.7 462.5,50.4 462.8,58.6"/>
</g>
<rect x="357.8" y="25.3" width="105" height="69.7" fill="none" stroke="#333" stroke-width="0.85"/>
<line x1="392.8" y1="95" x2="392.8" y2="97.5" stroke="#222" stroke-width="0.9"/>
<text x="392.8" y="106" font-size="8.2" font-family="Liberation Sans" text-anchor="middle" textLength="23.65" lengthAdjust="spacingAndGlyphs" stroke="#000" stroke-width="0.15">40000</text>
<line x1="427.8" y1="95" x2="427.8" y2="97.5" stroke="#222" stroke-width="0.9"/>
<text x="427.8" y="106" font-size="8.2" font-family="Liberation Sans" text-anchor="middle" textLength="23.65" lengthAdjust="spacingAndGlyphs" stroke="#000" stroke-width="0.15">40100</text>
<text x="410.3" y="116.3" font-size="9.1" font-family="Liberation Sans" text-anchor="middle" textLength="44.4" lengthAdjust="spacingAndGlyphs">Time Step</text>
<line x1="507.8" y1="91.6" x2="510.3" y2="91.6" stroke="#222" stroke-width="0.9"/>
<text x="505.7" y="94.4" font-size="8.2" font-family="Liberation Sans" text-anchor="end" textLength="10.86" lengthAdjust="spacingAndGlyphs" stroke="#000" stroke-width="0.15">−4</text>
<line x1="507.8" y1="76.8" x2="510.3" y2="76.8" stroke="#222" stroke-width="0.9"/>
<text x="505.7" y="79.6" font-size="8.2" font-family="Liberation Sans" text-anchor="end" textLength="10.86" lengthAdjust="spacingAndGlyphs" stroke="#000" stroke-width="0.15">−2</text>
<line x1="507.8" y1="62" x2="510.3" y2="62" stroke="#222" stroke-width="0.9"/>
<text x="505.7" y="64.8" font-size="8.2" font-family="Liberation Sans" text-anchor="end" textLength="4.57" lengthAdjust="spacingAndGlyphs" stroke="#000" stroke-width="0.15">0</text>
<line x1="507.8" y1="47.2" x2="510.3" y2="47.2" stroke="#222" stroke-width="0.9"/>
<text x="505.7" y="50" font-size="8.2" font-family="Liberation Sans" text-anchor="end" textLength="4.57" lengthAdjust="spacingAndGlyphs" stroke="#000" stroke-width="0.15">2</text>
<line x1="507.8" y1="32.4" x2="510.3" y2="32.4" stroke="#222" stroke-width="0.9"/>
<text x="505.7" y="35.2" font-size="8.2" font-family="Liberation Sans" text-anchor="end" textLength="4.57" lengthAdjust="spacingAndGlyphs" stroke="#000" stroke-width="0.15">4</text>
<line x1="547.13" y1="99.4" x2="547.13" y2="26" stroke="#6a6a6a" stroke-width="0.85" stroke-dasharray="6.4 1.6 1 1.6"/>
<line x1="583.97" y1="99.4" x2="583.97" y2="26" stroke="#6a6a6a" stroke-width="0.85" stroke-dasharray="6.4 1.6 1 1.6"/>
<g fill="none" stroke-width="1.2" stroke-linejoin="miter">
<polyline stroke="#1f77b4" points="510.3,56.7 510.7,61.3 511.0,64.2 511.4,73.9 511.8,59.4 512.1,51.4 512.5,59.9 512.9,67.1 513.2,73.0 513.6,55.7 514.0,56.0 514.4,64.7 514.7,65.1 515.1,60.0 515.5,63.2 515.8,62.4 516.2,59.6 516.6,58.0 516.9,49.6 517.3,60.1 517.7,63.7 518.0,53.5 518.4,66.1 518.8,73.9 519.1,77.7 519.5,56.1 519.9,75.6 520.2,68.4 520.6,62.4 521.0,55.5 521.4,79.1 521.7,73.6 522.1,72.0 522.5,66.5 522.8,60.7 523.2,56.2 523.6,58.8 523.9,43.4 524.3,51.0 524.7,76.3 525.0,65.7 525.4,62.5 525.8,60.8 526.1,50.7 526.5,58.3 526.9,55.5 527.2,63.3 527.6,56.7 528.0,55.7 528.3,62.7 528.7,57.3 529.1,71.6 529.5,62.5 529.8,64.0 530.2,46.1 530.6,63.0 530.9,73.2 531.3,69.6 531.7,58.8 532.0,73.5 532.4,72.8 532.8,64.7 533.1,74.4 533.5,54.2 533.9,74.1 534.2,60.3 534.6,54.5 535.0,53.2 535.3,50.6 535.7,58.5 536.1,57.7 536.5,69.8 536.8,70.7 537.2,67.5 537.6,61.6 537.9,57.0 538.3,67.2 538.7,70.6 539.0,66.5 539.4,58.5 539.8,66.8 540.1,47.6 540.5,69.2 540.9,69.2 541.2,65.7 541.6,68.2 542.0,83.3 542.3,65.2 542.7,68.8 543.1,44.7 543.5,55.2 543.8,61.5 544.2,61.5 544.6,67.4 544.9,71.9 545.3,70.2 545.7,53.8 546.0,64.4 546.4,65.8 546.8,56.1 547.1,58.4 547.5,59.4 547.9,47.0 548.2,60.3 548.6,66.1 549.0,67.6 549.3,62.3 549.7,61.2 550.1,63.0 550.4,70.5 550.8,63.0 551.2,73.5 551.6,63.2 551.9,59.9 552.3,69.3 552.7,63.6 553.0,71.1 553.4,67.0 553.8,61.4 554.1,67.7 554.5,52.5 554.9,51.8 555.2,55.8 555.6,64.5 556.0,79.6 556.3,64.4 556.7,58.6 557.1,55.1 557.4,60.0 557.8,59.5 558.2,62.2 558.6,59.1 558.9,68.0 559.3,56.9 559.7,60.8 560.0,66.2 560.4,41.0 560.8,60.4 561.1,61.0 561.5,70.3 561.9,60.8 562.2,58.9 562.6,47.4 563.0,64.5 563.3,54.8 563.7,71.7 564.1,65.4 564.4,74.4 564.8,65.8 565.2,57.5 565.5,78.4 565.9,61.5 566.3,62.2 566.7,72.0 567.0,71.0 567.4,64.5 567.8,64.5 568.1,49.9 568.5,67.7 568.9,68.6 569.2,64.7 569.6,55.7 570.0,58.5 570.3,65.6 570.7,64.3 571.1,46.8 571.4,64.1 571.8,67.1 572.2,56.7 572.5,66.4 572.9,63.0 573.3,66.7 573.7,62.9 574.0,62.1 574.4,58.5 574.8,67.4 575.1,56.5 575.5,64.4 575.9,60.3 576.2,56.5 576.6,72.2 577.0,58.4 577.3,58.0 577.7,59.1 578.1,66.0 578.4,60.7 578.8,62.7 579.2,64.8 579.5,69.4 579.9,57.6 580.3,71.8 580.7,45.8 581.0,59.5 581.4,52.9 581.8,49.8 582.1,55.2 582.5,69.8 582.9,44.9 583.2,73.0 583.6,70.7 584.0,74.6 584.3,62.0 584.7,59.8 585.1,67.8 585.4,54.9 585.8,65.8 586.2,60.1 586.5,66.6 586.9,50.6 587.3,59.4 587.6,71.1 588.0,67.9 588.4,49.5 588.8,64.0 589.1,57.8 589.5,59.7 589.9,56.9 590.2,61.8 590.6,56.4 591.0,51.7 591.3,63.7 591.7,59.2 592.1,54.8 592.4,61.6 592.8,71.3 593.2,61.7 593.5,55.0 593.9,59.7 594.3,51.4 594.6,66.6 595.0,57.3 595.4,71.2 595.8,61.0 596.1,66.6 596.5,67.1 596.9,50.0 597.2,54.6 597.6,54.5 598.0,60.4 598.3,45.7 598.7,66.4 599.1,73.4 599.4,57.9 599.8,69.9 600.2,52.7 600.5,69.4 600.9,68.3 601.3,61.0 601.6,69.4 602.0,62.3 602.4,61.4 602.8,75.0 603.1,61.5 603.5,69.9 603.9,67.4 604.2,46.1 604.6,50.5 605.0,64.3 605.3,63.3 605.7,64.5 606.1,56.0 606.4,59.7 606.8,72.5 607.2,70.8 607.5,73.2 607.9,60.5 608.3,63.4 608.6,62.7 609.0,56.1 609.4,56.9 609.8,65.6 610.1,55.7 610.5,61.0 610.9,57.8 611.2,59.7 611.6,79.4 612.0,45.3 612.3,58.4 612.7,60.6 613.1,64.1 613.4,52.4 613.8,59.3 614.2,54.3 614.5,68.0 614.9,58.5 615.3,61.1 615.6,65.7 616.0,58.2 616.4,65.1 616.7,63.0 617.1,57.1 617.5,58.8 617.9,52.5 618.2,64.9 618.6,68.0 619.0,68.8 619.3,64.5 619.7,57.3 620.1,66.0 620.4,66.2 620.8,59.4"/>
<polyline stroke="#ff7f0e" points="510.3,57.1 510.7,65.5 511.0,64.1 511.4,74.3 511.8,62.8 512.1,60.4 512.5,67.1 512.9,68.3 513.2,77.7 513.6,59.4 514.0,59.8 514.4,66.1 514.7,55.6 515.1,89.5 515.5,59.9 515.8,61.6 516.2,62.9 516.6,55.0 516.9,53.6 517.3,55.5 517.7,60.7 518.0,57.3 518.4,66.0 518.8,72.9 519.1,72.9 519.5,58.0 519.9,74.5 520.2,66.5 520.6,68.6 521.0,57.5 521.4,73.6 521.7,68.6 522.1,73.6 522.5,67.7 522.8,63.5 523.2,52.1 523.6,58.6 523.9,37.6 524.3,45.7 524.7,69.3 525.0,73.7 525.4,60.8 525.8,59.7 526.1,58.0 526.5,62.0 526.9,57.5 527.2,56.6 527.6,56.9 528.0,60.3 528.3,63.8 528.7,54.9 529.1,69.8 529.5,55.6 529.8,63.8 530.2,40.8 530.6,59.0 530.9,73.4 531.3,66.2 531.7,62.8 532.0,65.6 532.4,72.3 532.8,62.6 533.1,75.1 533.5,58.5 533.9,78.7 534.2,58.3 534.6,58.1 535.0,59.3 535.3,55.0 535.7,62.0 536.1,57.3 536.5,66.3 536.8,69.4 537.2,67.4 537.6,57.9 537.9,58.6 538.3,71.3 538.7,63.1 539.0,67.7 539.4,60.4 539.8,64.7 540.1,58.2 540.5,62.2 540.9,66.8 541.2,72.2 541.6,73.1 542.0,80.1 542.3,63.5 542.7,64.3 543.1,44.1 543.5,60.6 543.8,58.8 544.2,59.8 544.6,68.3 544.9,73.2 545.3,68.5 545.7,55.5 546.0,64.4 546.4,64.7 546.8,52.0 547.1,58.7 547.5,67.5 547.9,53.3 548.2,61.6 548.6,65.7 549.0,68.6 549.3,69.4 549.7,62.7 550.1,53.9 550.4,63.8 550.8,64.2 551.2,73.5 551.6,76.4 551.9,54.0 552.3,70.9 552.7,63.3 553.0,62.7 553.4,68.0 553.8,60.9 554.1,68.9 554.5,53.6 554.9,48.4 555.2,53.9 555.6,65.6 556.0,81.0 556.3,66.9 556.7,59.9 557.1,57.5 557.4,59.4 557.8,59.9 558.2,60.2 558.6,52.5 558.9,74.4 559.3,58.7 559.7,60.3 560.0,63.9 560.4,32.3 560.8,58.2 561.1,58.8 561.5,72.8 561.9,59.4 562.2,56.0 562.6,50.5 563.0,66.2 563.3,49.2 563.7,76.8 564.1,65.4 564.4,70.7 564.8,61.0 565.2,51.9 565.5,72.8 565.9,57.9 566.3,58.1 566.7,71.0 567.0,68.8 567.4,62.4 567.8,64.2 568.1,52.1 568.5,62.1 568.9,71.2 569.2,67.4 569.6,81.2 570.0,55.1 570.3,62.0 570.7,62.2 571.1,52.7 571.4,60.4 571.8,65.0 572.2,56.2 572.5,65.2 572.9,60.4 573.3,60.1 573.7,57.5 574.0,64.5 574.4,59.5 574.8,64.5 575.1,53.6 575.5,67.8 575.9,65.2 576.2,56.4 576.6,68.6 577.0,57.8 577.3,56.7 577.7,50.1 578.1,66.0 578.4,58.1 578.8,62.0 579.2,66.6 579.5,70.9 579.9,56.7 580.3,66.4 580.7,54.8 581.0,58.3 581.4,56.4 581.8,53.3 582.1,60.0 582.5,66.2 582.9,44.3 583.2,70.2 583.6,62.0 584.0,73.1 584.3,65.4 584.7,60.1 585.1,73.2 585.4,60.7 585.8,61.7 586.2,65.6 586.5,71.1 586.9,51.0 587.3,62.0 587.6,57.5 588.0,69.0 588.4,49.4 588.8,59.9 589.1,51.9 589.5,62.8 589.9,65.3 590.2,58.9 590.6,62.4 591.0,52.5 591.3,58.9 591.7,69.4 592.1,61.1 592.4,64.3 592.8,68.9 593.2,60.2 593.5,53.7 593.9,63.5 594.3,53.0 594.6,68.0 595.0,61.1 595.4,67.2 595.8,66.8 596.1,71.9 596.5,64.1 596.9,46.8 597.2,66.9 597.6,59.4 598.0,54.3 598.3,52.3 598.7,60.9 599.1,63.3 599.4,59.0 599.8,66.0 600.2,46.3 600.5,67.2 600.9,65.9 601.3,58.4 601.6,69.4 602.0,72.8 602.4,56.3 602.8,68.5 603.1,63.8 603.5,69.5 603.9,65.9 604.2,50.5 604.6,43.4 605.0,59.8 605.3,57.9 605.7,64.8 606.1,55.1 606.4,55.9 606.8,69.3 607.2,68.7 607.5,73.2 607.9,62.6 608.3,56.4 608.6,61.4 609.0,58.7 609.4,57.4 609.8,55.2 610.1,57.7 610.5,64.6 610.9,61.5 611.2,58.2 611.6,77.4 612.0,47.2 612.3,61.4 612.7,55.4 613.1,65.3 613.4,51.0 613.8,65.6 614.2,52.6 614.5,68.6 614.9,62.4 615.3,52.9 615.6,70.8 616.0,62.4 616.4,61.9 616.7,59.8 617.1,52.9 617.5,61.1 617.9,52.0 618.2,68.2 618.6,62.1 619.0,66.0 619.3,69.5 619.7,63.5 620.1,64.0 620.4,57.7 620.8,67.2"/>
<polyline stroke="#2ca02c" points="510.3,56.1 510.7,60.6 511.0,69.1 511.4,75.7 511.8,58.6 512.1,58.7 512.5,67.1 512.9,67.2 513.2,72.1 513.6,52.1 514.0,54.4 514.4,67.2 514.7,51.3 515.1,60.7 515.5,61.3 515.8,59.3 516.2,68.0 516.6,55.1 516.9,61.0 517.3,57.9 517.7,56.8 518.0,55.6 518.4,62.1 518.8,77.0 519.1,62.9 519.5,54.5 519.9,77.8 520.2,62.5 520.6,56.5 521.0,53.9 521.4,77.0 521.7,71.7 522.1,70.3 522.5,65.5 522.8,61.4 523.2,54.6 523.6,54.3 523.9,40.0 524.3,48.2 524.7,71.4 525.0,76.7 525.4,62.4 525.8,65.8 526.1,46.9 526.5,56.9 526.9,53.5 527.2,58.0 527.6,55.4 528.0,57.7 528.3,61.7 528.7,57.5 529.1,67.3 529.5,59.5 529.8,59.0 530.2,41.6 530.6,66.1 530.9,70.8 531.3,68.2 531.7,67.3 532.0,73.4 532.4,70.4 532.8,60.1 533.1,73.3 533.5,50.2 533.9,73.6 534.2,59.3 534.6,61.1 535.0,65.8 535.3,47.9 535.7,63.1 536.1,55.1 536.5,70.6 536.8,65.5 537.2,67.8 537.6,59.7 537.9,52.8 538.3,67.8 538.7,62.4 539.0,70.6 539.4,55.4 539.8,67.1 540.1,59.1 540.5,65.0 540.9,59.8 541.2,69.1 541.6,72.1 542.0,77.2 542.3,65.9 542.7,69.3 543.1,48.4 543.5,61.1 543.8,59.6 544.2,63.8 544.6,66.2 544.9,69.2 545.3,76.2 545.7,51.0 546.0,64.8 546.4,64.3 546.8,63.3 547.1,59.7 547.5,64.8 547.9,47.0 548.2,58.9 548.6,68.2 549.0,69.0 549.3,61.3 549.7,58.6 550.1,57.7 550.4,60.1 550.8,65.5 551.2,76.5 551.6,67.9 551.9,51.4 552.3,67.1 552.7,65.9 553.0,64.0 553.4,67.9 553.8,60.8 554.1,67.5 554.5,59.0 554.9,52.7 555.2,52.4 555.6,73.4 556.0,77.3 556.3,63.9 556.7,63.6 557.1,69.3 557.4,66.6 557.8,65.5 558.2,68.0 558.6,55.3 558.9,72.4 559.3,58.0 559.7,53.6 560.0,69.1 560.4,31.6 560.8,53.8 561.1,62.4 561.5,65.4 561.9,58.0 562.2,59.0 562.6,48.3 563.0,70.3 563.3,47.8 563.7,73.1 564.1,62.3 564.4,74.0 564.8,63.5 565.2,55.1 565.5,76.7 565.9,49.5 566.3,58.3 566.7,76.3 567.0,67.8 567.4,72.0 567.8,57.5 568.1,48.6 568.5,68.9 568.9,66.8 569.2,66.4 569.6,82.4 570.0,59.2 570.3,64.9 570.7,60.1 571.1,53.4 571.4,44.2 571.8,62.0 572.2,56.6 572.5,67.3 572.9,63.4 573.3,60.7 573.7,59.8 574.0,60.8 574.4,59.7 574.8,67.6 575.1,52.7 575.5,66.7 575.9,67.7 576.2,55.6 576.6,66.2 577.0,59.9 577.3,54.5 577.7,57.2 578.1,62.8 578.4,49.0 578.8,58.5 579.2,71.6 579.5,67.2 579.9,60.1 580.3,63.8 580.7,53.4 581.0,53.5 581.4,58.1 581.8,52.4 582.1,59.4 582.5,60.5 582.9,43.0 583.2,71.6 583.6,63.7 584.0,74.2 584.3,68.4 584.7,63.2 585.1,67.6 585.4,58.2 585.8,62.4 586.2,63.8 586.5,71.8 586.9,45.6 587.3,64.8 587.6,56.8 588.0,71.6 588.4,57.2 588.8,64.0 589.1,60.1 589.5,59.9 589.9,66.2 590.2,60.6 590.6,63.9 591.0,43.0 591.3,64.5 591.7,64.0 592.1,58.7 592.4,59.7 592.8,64.9 593.2,62.8 593.5,57.1 593.9,59.2 594.3,54.1 594.6,68.8 595.0,62.6 595.4,65.7 595.8,61.5 596.1,67.9 596.5,63.4 596.9,41.0 597.2,63.6 597.6,54.6 598.0,60.4 598.3,43.6 598.7,61.4 599.1,69.8 599.4,58.9 599.8,72.7 600.2,54.4 600.5,67.1 600.9,56.6 601.3,64.3 601.6,75.1 602.0,69.3 602.4,58.9 602.8,69.1 603.1,62.3 603.5,72.6 603.9,67.0 604.2,54.1 604.6,48.6 605.0,67.8 605.3,67.0 605.7,68.1 606.1,55.3 606.4,60.4 606.8,70.6 607.2,64.1 607.5,67.8 607.9,61.6 608.3,63.1 608.6,59.4 609.0,53.7 609.4,58.9 609.8,57.9 610.1,57.2 610.5,66.1 610.9,53.8 611.2,53.3 611.6,75.6 612.0,48.5 612.3,61.0 612.7,53.6 613.1,61.5 613.4,53.9 613.8,60.4 614.2,57.4 614.5,61.3 614.9,58.0 615.3,58.8 615.6,75.0 616.0,64.8 616.4,66.1 616.7,68.7 617.1,57.8 617.5,66.2 617.9,56.3 618.2,63.6 618.6,67.8 619.0,62.0 619.3,63.7 619.7,61.7 620.1,64.9 620.4,62.4 620.8,63.8"/>
<polyline stroke="#d62728" points="510.3,45.7 510.7,62.0 511.0,61.0 511.4,72.9 511.8,59.7 512.1,56.6 512.5,60.3 512.9,61.2 513.2,81.3 513.6,53.4 514.0,51.3 514.4,61.9 514.7,53.9 515.1,57.4 515.5,47.7 515.8,63.6 516.2,63.1 516.6,61.3 516.9,54.2 517.3,57.3 517.7,61.4 518.0,56.0 518.4,64.8 518.8,71.5 519.1,75.1 519.5,54.6 519.9,79.8 520.2,62.5 520.6,63.6 521.0,60.5 521.4,76.7 521.7,70.4 522.1,71.4 522.5,63.8 522.8,58.5 523.2,54.3 523.6,50.6 523.9,39.8 524.3,50.4 524.7,71.4 525.0,75.1 525.4,67.4 525.8,57.3 526.1,53.3 526.5,59.9 526.9,56.8 527.2,69.6 527.6,61.9 528.0,58.8 528.3,60.6 528.7,54.5 529.1,66.1 529.5,53.4 529.8,53.3 530.2,43.5 530.6,60.4 530.9,67.4 531.3,64.1 531.7,64.8 532.0,68.9 532.4,62.9 532.8,62.1 533.1,74.5 533.5,59.4 533.9,73.4 534.2,53.4 534.6,55.0 535.0,53.2 535.3,51.8 535.7,61.8 536.1,60.0 536.5,62.6 536.8,74.1 537.2,64.9 537.6,48.4 537.9,59.9 538.3,81.6 538.7,63.1 539.0,74.6 539.4,54.2 539.8,70.7 540.1,55.7 540.5,65.5 540.9,62.2 541.2,66.8 541.6,81.3 542.0,80.5 542.3,68.1 542.7,67.9 543.1,42.8 543.5,57.4 543.8,55.9 544.2,55.7 544.6,56.9 544.9,78.9 545.3,72.7 545.7,50.0 546.0,59.3 546.4,70.6 546.8,59.5 547.1,66.9 547.5,64.2 547.9,50.0 548.2,60.8 548.6,67.8 549.0,64.6 549.3,67.7 549.7,64.6 550.1,58.8 550.4,65.4 550.8,69.4 551.2,71.1 551.6,64.6 551.9,57.1 552.3,67.2 552.7,67.3 553.0,70.1 553.4,64.3 553.8,64.0 554.1,74.0 554.5,51.7 554.9,49.0 555.2,54.0 555.6,69.1 556.0,78.7 556.3,64.4 556.7,57.8 557.1,65.7 557.4,65.7 557.8,56.2 558.2,66.1 558.6,64.3 558.9,76.7 559.3,53.5 559.7,64.5 560.0,63.1 560.4,34.7 560.8,55.2 561.1,61.0 561.5,66.8 561.9,57.5 562.2,60.6 562.6,59.4 563.0,67.3 563.3,53.1 563.7,72.5 564.1,58.6 564.4,67.1 564.8,66.4 565.2,57.0 565.5,71.4 565.9,59.2 566.3,56.3 566.7,66.9 567.0,69.9 567.4,61.9 567.8,61.4 568.1,49.3 568.5,67.4 568.9,67.0 569.2,60.2 569.6,80.0 570.0,60.5 570.3,62.7 570.7,63.2 571.1,55.1 571.4,58.6 571.8,63.6 572.2,56.0 572.5,64.9 572.9,60.2 573.3,61.4 573.7,66.3 574.0,51.5 574.4,56.6 574.8,75.7 575.1,51.1 575.5,59.6 575.9,71.4 576.2,48.8 576.6,58.7 577.0,53.2 577.3,53.7 577.7,59.1 578.1,60.5 578.4,61.3 578.8,61.9 579.2,72.3 579.5,66.1 579.9,58.9 580.3,67.8 580.7,55.9 581.0,56.6 581.4,54.7 581.8,85.6 582.1,55.8 582.5,67.2 582.9,41.7 583.2,75.5 583.6,66.8 584.0,65.1 584.3,67.8 584.7,59.2 585.1,74.4 585.4,63.3 585.8,58.7 586.2,67.3 586.5,68.7 586.9,53.8 587.3,59.1 587.6,53.6 588.0,67.9 588.4,56.4 588.8,67.4 589.1,58.4 589.5,58.3 589.9,69.6 590.2,50.0 590.6,64.5 591.0,48.9 591.3,63.7 591.7,68.4 592.1,56.7 592.4,50.6 592.8,69.4 593.2,56.1 593.5,54.2 593.9,60.5 594.3,52.2 594.6,61.0 595.0,56.5 595.4,65.4 595.8,65.9 596.1,67.9 596.5,68.3 596.9,49.5 597.2,59.0 597.6,57.0 598.0,58.6 598.3,48.3 598.7,63.1 599.1,69.4 599.4,54.5 599.8,66.4 600.2,67.6 600.5,71.6 600.9,62.9 601.3,52.7 601.6,68.5 602.0,57.0 602.4,52.6 602.8,73.0 603.1,59.9 603.5,71.6 603.9,52.7 604.2,52.9 604.6,52.9 605.0,64.7 605.3,63.5 605.7,65.6 606.1,53.6 606.4,60.5 606.8,66.2 607.2,72.7 607.5,68.4 607.9,61.9 608.3,53.3 608.6,73.7 609.0,54.3 609.4,64.8 609.8,50.6 610.1,63.2 610.5,71.9 610.9,60.2 611.2,58.7 611.6,76.6 612.0,43.2 612.3,57.1 612.7,52.1 613.1,65.8 613.4,52.9 613.8,64.5 614.2,57.7 614.5,65.5 614.9,58.7 615.3,60.8 615.6,67.1 616.0,65.8 616.4,62.3 616.7,65.2 617.1,52.6 617.5,62.7 617.9,51.5 618.2,72.8 618.6,58.5 619.0,63.5 619.3,64.9 619.7,63.3 620.1,70.7 620.4,57.8 620.8,61.6"/>
<polyline stroke="#9467bd" points="510.3,52.5 510.7,64.8 511.0,68.5 511.4,64.4 511.8,57.4 512.1,57.3 512.5,66.2 512.9,63.3 513.2,77.2 513.6,48.1 514.0,60.9 514.4,60.0 514.7,57.9 515.1,57.2 515.5,54.7 515.8,67.6 516.2,64.7 516.6,59.5 516.9,52.2 517.3,58.7 517.7,58.5 518.0,55.1 518.4,66.0 518.8,73.8 519.1,76.9 519.5,58.3 519.9,75.7 520.2,68.8 520.6,60.0 521.0,57.5 521.4,75.1 521.7,68.6 522.1,71.6 522.5,63.9 522.8,59.4 523.2,45.3 523.6,55.5 523.9,42.1 524.3,50.9 524.7,73.0 525.0,73.9 525.4,64.9 525.8,62.6 526.1,50.5 526.5,54.6 526.9,56.7 527.2,56.4 527.6,61.1 528.0,54.7 528.3,65.2 528.7,54.1 529.1,70.1 529.5,55.2 529.8,54.9 530.2,42.1 530.6,65.0 530.9,73.4 531.3,67.5 531.7,67.8 532.0,69.4 532.4,67.1 532.8,63.1 533.1,67.2 533.5,55.2 533.9,69.9 534.2,54.9 534.6,62.6 535.0,64.1 535.3,55.0 535.7,57.4 536.1,57.5 536.5,63.8 536.8,70.7 537.2,67.5 537.6,67.5 537.9,60.0 538.3,73.3 538.7,69.6 539.0,66.5 539.4,56.3 539.8,70.7 540.1,46.9 540.5,60.7 540.9,65.6 541.2,67.0 541.6,80.6 542.0,84.1 542.3,67.9 542.7,63.4 543.1,47.9 543.5,60.7 543.8,58.0 544.2,60.2 544.6,68.0 544.9,73.1 545.3,72.9 545.7,52.4 546.0,69.2 546.4,67.5 546.8,57.4 547.1,59.4 547.5,66.4 547.9,50.3 548.2,56.2 548.6,64.9 549.0,64.9 549.3,68.1 549.7,63.3 550.1,55.0 550.4,70.0 550.8,62.3 551.2,71.0 551.6,60.2 551.9,55.4 552.3,68.5 552.7,60.7 553.0,71.3 553.4,62.5 553.8,61.0 554.1,67.0 554.5,54.1 554.9,55.6 555.2,56.9 555.6,70.4 556.0,78.2 556.3,62.6 556.7,61.6 557.1,62.9 557.4,64.9 557.8,58.3 558.2,63.5 558.6,54.2 558.9,69.6 559.3,62.1 559.7,62.4 560.0,67.7 560.4,33.1 560.8,62.5 561.1,56.3 561.5,70.7 561.9,57.2 562.2,61.7 562.6,56.9 563.0,62.4 563.3,55.5 563.7,76.3 564.1,59.8 564.4,78.9 564.8,61.6 565.2,54.8 565.5,71.6 565.9,58.3 566.3,59.5 566.7,75.5 567.0,65.6 567.4,65.7 567.8,57.0 568.1,54.3 568.5,58.4 568.9,65.3 569.2,62.8 569.6,79.9 570.0,57.9 570.3,61.4 570.7,62.0 571.1,49.3 571.4,63.2 571.8,70.6 572.2,49.9 572.5,72.3 572.9,55.6 573.3,63.4 573.7,63.7 574.0,65.0 574.4,63.0 574.8,73.3 575.1,46.9 575.5,70.0 575.9,65.6 576.2,54.6 576.6,60.0 577.0,60.4 577.3,61.3 577.7,57.4 578.1,68.9 578.4,54.6 578.8,58.7 579.2,62.5 579.5,72.1 579.9,62.6 580.3,62.2 580.7,56.3 581.0,63.1 581.4,54.3 581.8,59.5 582.1,58.7 582.5,69.3 582.9,38.7 583.2,70.0 583.6,60.7 584.0,74.3 584.3,67.4 584.7,67.6 585.1,74.3 585.4,54.9 585.8,59.9 586.2,63.7 586.5,70.7 586.9,53.2 587.3,67.6 587.6,57.9 588.0,72.4 588.4,52.5 588.8,64.6 589.1,55.1 589.5,61.8 589.9,60.3 590.2,56.4 590.6,66.2 591.0,47.1 591.3,64.3 591.7,59.9 592.1,53.8 592.4,59.1 592.8,67.2 593.2,65.5 593.5,55.0 593.9,65.1 594.3,55.4 594.6,68.0 595.0,60.1 595.4,64.7 595.8,62.8 596.1,72.3 596.5,69.5 596.9,44.8 597.2,63.0 597.6,51.5 598.0,56.2 598.3,43.5 598.7,69.1 599.1,70.1 599.4,51.7 599.8,71.3 600.2,52.1 600.5,65.0 600.9,58.9 601.3,53.9 601.6,75.3 602.0,64.8 602.4,55.0 602.8,67.6 603.1,59.8 603.5,74.5 603.9,68.1 604.2,50.6 604.6,52.7 605.0,64.7 605.3,68.0 605.7,65.6 606.1,63.9 606.4,58.6 606.8,71.9 607.2,68.2 607.5,69.1 607.9,61.3 608.3,55.3 608.6,56.7 609.0,61.4 609.4,64.9 609.8,62.5 610.1,56.7 610.5,63.8 610.9,56.4 611.2,58.1 611.6,77.2 612.0,48.4 612.3,61.1 612.7,52.9 613.1,62.9 613.4,55.2 613.8,54.6 614.2,59.3 614.5,65.4 614.9,62.3 615.3,55.6 615.6,66.0 616.0,59.0 616.4,64.7 616.7,59.5 617.1,55.9 617.5,62.9 617.9,55.0 618.2,67.0 618.6,59.7 619.0,64.3 619.3,72.6 619.7,58.8 620.1,67.1 620.4,69.0 620.8,64.9"/>
<polyline stroke="#8c564b" points="510.3,52.3 510.7,67.0 511.0,64.4 511.4,69.3 511.8,57.7 512.1,58.7 512.5,64.9 512.9,66.4 513.2,71.8 513.6,53.9 514.0,57.3 514.4,66.4 514.7,58.2 515.1,53.8 515.5,63.8 515.8,63.4 516.2,65.8 516.6,58.2 516.9,57.8 517.3,58.4 517.7,50.6 518.0,53.2 518.4,58.4 518.8,75.1 519.1,70.2 519.5,55.1 519.9,73.4 520.2,61.8 520.6,58.6 521.0,51.8 521.4,76.3 521.7,67.8 522.1,72.7 522.5,69.0 522.8,60.7 523.2,57.7 523.6,53.1 523.9,39.9 524.3,50.8 524.7,69.3 525.0,82.6 525.4,66.5 525.8,67.4 526.1,50.0 526.5,57.8 526.9,51.5 527.2,62.8 527.6,52.8 528.0,57.5 528.3,73.7 528.7,58.9 529.1,76.9 529.5,59.9 529.8,57.6 530.2,41.0 530.6,58.9 530.9,73.9 531.3,60.8 531.7,60.8 532.0,67.8 532.4,73.8 532.8,62.8 533.1,67.4 533.5,57.2 533.9,65.3 534.2,61.3 534.6,55.7 535.0,60.5 535.3,46.4 535.7,55.6 536.1,58.8 536.5,67.6 536.8,67.7 537.2,63.8 537.6,63.2 537.9,55.5 538.3,73.5 538.7,67.6 539.0,70.6 539.4,54.0 539.8,70.6 540.1,56.8 540.5,65.2 540.9,73.9 541.2,68.8 541.6,71.1 542.0,76.2 542.3,65.9 542.7,67.4 543.1,47.2 543.5,65.9 543.8,57.0 544.2,66.2 544.6,63.4 544.9,77.1 545.3,69.3 545.7,49.4 546.0,71.5 546.4,73.5 546.8,55.4 547.1,63.3 547.5,67.0 547.9,51.9 548.2,63.8 548.6,66.7 549.0,60.5 549.3,69.6 549.7,59.4 550.1,60.0 550.4,66.6 550.8,61.6 551.2,70.5 551.6,62.1 551.9,62.5 552.3,65.7 552.7,59.2 553.0,66.4 553.4,63.4 553.8,58.1 554.1,68.0 554.5,59.7 554.9,55.3 555.2,56.7 555.6,62.5 556.0,75.3 556.3,65.8 556.7,57.2 557.1,65.6 557.4,48.8 557.8,59.6 558.2,62.3 558.6,56.8 558.9,78.1 559.3,62.4 559.7,61.0 560.0,64.3 560.4,30.7 560.8,64.4 561.1,61.8 561.5,64.7 561.9,61.1 562.2,61.7 562.6,56.8 563.0,71.2 563.3,55.0 563.7,70.0 564.1,64.6 564.4,75.1 564.8,63.3 565.2,56.2 565.5,72.0 565.9,56.1 566.3,54.1 566.7,75.7 567.0,75.0 567.4,62.2 567.8,62.1 568.1,52.4 568.5,67.1 568.9,69.3 569.2,65.0 569.6,84.2 570.0,59.3 570.3,63.9 570.7,63.5 571.1,54.4 571.4,66.8 571.8,70.3 572.2,49.2 572.5,65.1 572.9,63.4 573.3,65.9 573.7,58.6 574.0,59.0 574.4,56.3 574.8,65.9 575.1,47.7 575.5,70.1 575.9,58.4 576.2,54.9 576.6,69.6 577.0,59.6 577.3,58.0 577.7,50.0 578.1,66.3 578.4,55.8 578.8,61.9 579.2,71.1 579.5,76.8 579.9,56.9 580.3,63.4 580.7,55.7 581.0,51.8 581.4,55.9 581.8,54.4 582.1,54.3 582.5,69.3 582.9,41.6 583.2,69.4 583.6,62.9 584.0,77.8 584.3,54.8 584.7,68.0 585.1,67.6 585.4,59.3 585.8,60.7 586.2,63.2 586.5,73.4 586.9,56.9 587.3,63.0 587.6,56.0 588.0,71.7 588.4,53.9 588.8,64.7 589.1,53.8 589.5,66.2 589.9,63.0 590.2,60.3 590.6,65.6 591.0,44.2 591.3,63.1 591.7,59.1 592.1,56.0 592.4,56.7 592.8,72.1 593.2,58.4 593.5,52.3 593.9,60.2 594.3,50.2 594.6,68.9 595.0,56.5 595.4,73.6 595.8,62.4 596.1,58.1 596.5,60.5 596.9,47.1 597.2,61.9 597.6,54.7 598.0,58.0 598.3,48.8 598.7,67.5 599.1,68.9 599.4,61.0 599.8,68.8 600.2,49.8 600.5,66.8 600.9,65.7 601.3,55.2 601.6,64.8 602.0,61.2 602.4,63.6 602.8,67.0 603.1,61.0 603.5,72.3 603.9,64.3 604.2,54.0 604.6,42.6 605.0,67.9 605.3,63.6 605.7,68.1 606.1,58.2 606.4,63.4 606.8,71.5 607.2,72.8 607.5,67.8 607.9,57.0 608.3,57.4 608.6,63.0 609.0,63.6 609.4,55.4 609.8,57.7 610.1,55.6 610.5,61.0 610.9,59.0 611.2,56.2 611.6,77.0 612.0,46.1 612.3,61.0 612.7,54.9 613.1,62.5 613.4,53.8 613.8,64.6 614.2,62.5 614.5,63.4 614.9,69.5 615.3,58.1 615.6,69.1 616.0,65.6 616.4,62.9 616.7,60.8 617.1,56.5 617.5,61.8 617.9,52.5 618.2,67.9 618.6,68.2 619.0,54.2 619.3,66.6 619.7,64.2 620.1,68.6 620.4,63.8 620.8,57.5"/>
<polyline stroke="#e377c2" points="510.3,53.5 510.7,64.7 511.0,71.3 511.4,73.5 511.8,58.9 512.1,62.2 512.5,73.5 512.9,63.3 513.2,78.7 513.6,57.3 514.0,65.9 514.4,66.6 514.7,60.8 515.1,56.5 515.5,56.6 515.8,62.8 516.2,64.0 516.6,58.5 516.9,54.0 517.3,58.2 517.7,64.7 518.0,58.3 518.4,60.3 518.8,69.9 519.1,67.4 519.5,47.4 519.9,72.9 520.2,73.7 520.6,59.9 521.0,48.8 521.4,76.2 521.7,64.4 522.1,65.7 522.5,64.8 522.8,62.0 523.2,58.8 523.6,56.4 523.9,43.7 524.3,48.6 524.7,63.7 525.0,76.1 525.4,65.3 525.8,62.1 526.1,55.3 526.5,53.9 526.9,56.1 527.2,60.0 527.6,59.6 528.0,58.9 528.3,55.0 528.7,53.7 529.1,78.4 529.5,52.1 529.8,56.2 530.2,42.3 530.6,62.3 530.9,81.4 531.3,66.2 531.7,68.4 532.0,60.3 532.4,79.7 532.8,52.0 533.1,73.0 533.5,53.1 533.9,71.9 534.2,64.1 534.6,59.3 535.0,69.1 535.3,55.8 535.7,60.7 536.1,63.0 536.5,66.6 536.8,66.2 537.2,58.9 537.6,60.3 537.9,55.7 538.3,69.3 538.7,66.6 539.0,66.0 539.4,50.3 539.8,70.5 540.1,52.2 540.5,60.2 540.9,74.0 541.2,69.1 541.6,74.7 542.0,79.3 542.3,66.3 542.7,69.5 543.1,42.0 543.5,60.1 543.8,55.7 544.2,68.6 544.6,61.9 544.9,76.6 545.3,73.1 545.7,57.0 546.0,51.2 546.4,68.7 546.8,57.5 547.1,62.6 547.5,59.4 547.9,48.6 548.2,59.3 548.6,63.9 549.0,65.0 549.3,69.9 549.7,57.9 550.1,52.3 550.4,64.1 550.8,65.4 551.2,82.2 551.6,63.0 551.9,56.8 552.3,64.7 552.7,61.5 553.0,67.8 553.4,71.1 553.8,63.0 554.1,65.8 554.5,53.9 554.9,52.5 555.2,60.5 555.6,65.0 556.0,71.4 556.3,69.0 556.7,62.5 557.1,63.7 557.4,58.2 557.8,62.6 558.2,67.9 558.6,60.2 558.9,81.6 559.3,55.9 559.7,53.3 560.0,63.3 560.4,40.7 560.8,58.3 561.1,62.3 561.5,68.7 561.9,60.1 562.2,55.5 562.6,52.0 563.0,70.9 563.3,55.2 563.7,72.3 564.1,62.3 564.4,71.6 564.8,63.4 565.2,58.5 565.5,71.2 565.9,59.8 566.3,58.3 566.7,71.9 567.0,63.9 567.4,66.7 567.8,55.9 568.1,47.7 568.5,68.9 568.9,64.2 569.2,67.8 569.6,81.1 570.0,65.0 570.3,63.1 570.7,60.7 571.1,55.3 571.4,61.7 571.8,67.1 572.2,51.1 572.5,64.5 572.9,59.0 573.3,63.3 573.7,58.9 574.0,61.1 574.4,52.6 574.8,71.9 575.1,49.4 575.5,67.1 575.9,65.9 576.2,58.0 576.6,69.7 577.0,61.4 577.3,56.4 577.7,52.2 578.1,63.5 578.4,59.0 578.8,58.4 579.2,69.6 579.5,70.9 579.9,60.1 580.3,69.5 580.7,56.6 581.0,56.3 581.4,56.8 581.8,53.6 582.1,53.1 582.5,68.2 582.9,38.8 583.2,70.9 583.6,65.3 584.0,73.3 584.3,60.2 584.7,66.1 585.1,70.8 585.4,60.4 585.8,70.4 586.2,62.2 586.5,72.5 586.9,49.5 587.3,59.3 587.6,55.0 588.0,70.7 588.4,45.4 588.8,66.0 589.1,58.4 589.5,70.1 589.9,58.5 590.2,55.5 590.6,62.5 591.0,55.0 591.3,58.1 591.7,57.4 592.1,56.5 592.4,61.7 592.8,76.7 593.2,56.0 593.5,64.0 593.9,48.8 594.3,50.1 594.6,68.8 595.0,64.9 595.4,68.3 595.8,61.6 596.1,57.9 596.5,62.0 596.9,41.0 597.2,59.2 597.6,56.6 598.0,60.3 598.3,48.8 598.7,68.4 599.1,71.7 599.4,57.2 599.8,68.8 600.2,46.7 600.5,69.5 600.9,66.7 601.3,57.2 601.6,65.6 602.0,68.4 602.4,63.2 602.8,70.0 603.1,59.8 603.5,65.7 603.9,65.4 604.2,48.1 604.6,50.0 605.0,59.1 605.3,78.2 605.7,65.6 606.1,50.8 606.4,54.2 606.8,68.3 607.2,65.9 607.5,76.9 607.9,63.6 608.3,60.9 608.6,61.1 609.0,58.0 609.4,60.3 609.8,60.9 610.1,57.0 610.5,69.8 610.9,52.9 611.2,55.4 611.6,80.4 612.0,47.0 612.3,58.6 612.7,51.6 613.1,64.4 613.4,45.7 613.8,69.7 614.2,56.9 614.5,55.8 614.9,60.6 615.3,61.9 615.6,75.4 616.0,66.8 616.4,74.2 616.7,64.0 617.1,53.2 617.5,64.1 617.9,54.3 618.2,69.5 618.6,66.7 619.0,65.3 619.3,63.7 619.7,52.5 620.1,68.9 620.4,63.9 620.8,60.3"/>
<polyline stroke="#7f7f7f" points="510.3,57.8 510.7,61.9 511.0,68.9 511.4,70.4 511.8,58.6 512.1,59.0 512.5,58.0 512.9,62.7 513.2,73.1 513.6,54.6 514.0,57.9 514.4,67.0 514.7,54.6 515.1,53.2 515.5,59.3 515.8,65.6 516.2,62.3 516.6,56.8 516.9,55.8 517.3,51.3 517.7,54.3 518.0,51.2 518.4,63.5 518.8,74.2 519.1,73.3 519.5,57.5 519.9,79.7 520.2,67.8 520.6,63.1 521.0,58.6 521.4,70.7 521.7,66.3 522.1,66.6 522.5,62.7 522.8,60.0 523.2,58.6 523.6,58.6 523.9,43.5 524.3,54.4 524.7,67.8 525.0,70.2 525.4,67.4 525.8,60.2 526.1,53.4 526.5,54.7 526.9,52.7 527.2,62.0 527.6,58.8 528.0,62.6 528.3,57.2 528.7,54.9 529.1,67.2 529.5,59.2 529.8,59.4 530.2,37.9 530.6,60.6 530.9,74.8 531.3,67.8 531.7,66.8 532.0,61.9 532.4,68.2 532.8,69.0 533.1,77.8 533.5,51.9 533.9,75.4 534.2,55.5 534.6,57.2 535.0,55.4 535.3,51.6 535.7,55.2 536.1,56.7 536.5,69.0 536.8,69.1 537.2,68.9 537.6,58.7 537.9,60.7 538.3,71.4 538.7,67.7 539.0,69.9 539.4,57.5 539.8,66.9 540.1,53.7 540.5,64.8 540.9,67.1 541.2,67.4 541.6,74.4 542.0,82.4 542.3,64.5 542.7,65.2 543.1,49.5 543.5,60.8 543.8,56.4 544.2,66.3 544.6,62.5 544.9,74.3 545.3,71.8 545.7,51.4 546.0,64.8 546.4,67.5 546.8,56.3 547.1,64.2 547.5,64.2 547.9,51.2 548.2,61.6 548.6,68.8 549.0,61.9 549.3,60.4 549.7,60.9 550.1,60.4 550.4,67.3 550.8,62.9 551.2,73.5 551.6,64.8 551.9,58.1 552.3,69.6 552.7,64.2 553.0,67.6 553.4,62.3 553.8,58.4 554.1,69.9 554.5,56.9 554.9,52.2 555.2,50.4 555.6,68.1 556.0,76.6 556.3,68.9 556.7,67.8 557.1,65.1 557.4,63.4 557.8,65.6 558.2,60.1 558.6,56.2 558.9,72.2 559.3,63.3 559.7,58.8 560.0,66.9 560.4,27.7 560.8,64.7 561.1,58.2 561.5,63.2 561.9,57.4 562.2,61.9 562.6,57.4 563.0,64.8 563.3,53.7 563.7,73.9 564.1,65.5 564.4,73.2 564.8,64.3 565.2,60.7 565.5,75.6 565.9,62.3 566.3,60.9 566.7,69.6 567.0,69.5 567.4,64.4 567.8,61.0 568.1,52.7 568.5,64.0 568.9,68.1 569.2,70.0 569.6,79.7 570.0,61.1 570.3,58.8 570.7,60.0 571.1,54.5 571.4,62.8 571.8,68.9 572.2,61.5 572.5,64.4 572.9,59.5 573.3,65.6 573.7,58.9 574.0,59.3 574.4,59.5 574.8,67.4 575.1,54.9 575.5,64.4 575.9,67.2 576.2,55.2 576.6,63.0 577.0,60.4 577.3,49.1 577.7,60.5 578.1,65.6 578.4,56.4 578.8,63.7 579.2,71.1 579.5,64.9 579.9,57.3 580.3,62.0 580.7,55.9 581.0,58.8 581.4,58.3 581.8,56.1 582.1,52.9 582.5,67.4 582.9,40.7 583.2,68.9 583.6,60.2 584.0,69.7 584.3,67.0 584.7,67.9 585.1,71.3 585.4,59.6 585.8,63.4 586.2,63.4 586.5,69.6 586.9,50.1 587.3,66.9 587.6,58.3 588.0,69.9 588.4,48.9 588.8,67.4 589.1,49.8 589.5,68.2 589.9,56.0 590.2,59.1 590.6,64.7 591.0,48.9 591.3,61.2 591.7,66.6 592.1,54.2 592.4,57.3 592.8,67.9 593.2,62.2 593.5,57.6 593.9,62.8 594.3,54.6 594.6,68.3 595.0,58.7 595.4,66.7 595.8,66.9 596.1,66.2 596.5,71.8 596.9,45.1 597.2,68.6 597.6,59.8 598.0,58.0 598.3,49.2 598.7,62.7 599.1,65.2 599.4,57.6 599.8,70.3 600.2,46.7 600.5,65.0 600.9,61.8 601.3,53.7 601.6,70.8 602.0,63.6 602.4,61.2 602.8,67.6 603.1,59.5 603.5,72.6 603.9,62.9 604.2,53.4 604.6,55.0 605.0,60.5 605.3,59.4 605.7,68.9 606.1,56.9 606.4,58.3 606.8,74.2 607.2,69.3 607.5,69.1 607.9,61.0 608.3,59.6 608.6,62.0 609.0,55.2 609.4,57.9 609.8,61.0 610.1,58.2 610.5,67.4 610.9,54.9 611.2,51.2 611.6,70.7 612.0,53.1 612.3,60.2 612.7,55.2 613.1,65.5 613.4,46.4 613.8,58.5 614.2,61.5 614.5,64.0 614.9,60.2 615.3,56.7 615.6,68.0 616.0,68.8 616.4,70.7 616.7,59.2 617.1,57.3 617.5,58.8 617.9,50.7 618.2,65.3 618.6,63.3 619.0,59.7 619.3,66.9 619.7,57.8 620.1,65.7 620.4,64.6 620.8,63.1"/>
</g>
<rect x="510.3" y="26" width="110.5" height="73.4" fill="none" stroke="#333" stroke-width="0.85"/>
<line x1="547.13" y1="99.4" x2="547.13" y2="101.9" stroke="#222" stroke-width="0.9"/>
<text x="547.13" y="110.4" font-size="8.2" font-family="Liberation Sans" text-anchor="middle" textLength="23.65" lengthAdjust="spacingAndGlyphs" stroke="#000" stroke-width="0.15">40000</text>
<line x1="583.97" y1="99.4" x2="583.97" y2="101.9" stroke="#222" stroke-width="0.9"/>
<text x="583.97" y="110.4" font-size="8.2" font-family="Liberation Sans" text-anchor="middle" textLength="23.65" lengthAdjust="spacingAndGlyphs" stroke="#000" stroke-width="0.15">40100</text>
<text x="565.55" y="120.7" font-size="9.1" font-family="Liberation Sans" text-anchor="middle" textLength="44.4" lengthAdjust="spacingAndGlyphs">Time Step</text>
<text x="30" y="58.8" font-size="9.1" font-family="Liberation Sans" text-anchor="middle" textLength="25" lengthAdjust="spacingAndGlyphs" transform="rotate(-90 30 58.8)">Value</text>
<polyline fill="none" stroke="#0000ff" stroke-width="1.45" stroke-linejoin="round" points="50.4,181.5 51.8,193.8 53.4,189.2 55.8,175.4 57.7,190.3 59.5,185.7 62.0,170.8 63.5,181.5 64.9,192.3 66.5,179.2 67.7,195.4 69.7,170.0 71.5,192.3 73.8,173.8 75.4,195.4 78.0,174.6 80.0,207.7 82.3,180.8 84.2,177.7 85.7,195.4 87.4,188.5 88.5,185.7 90.3,191.5 92.3,181.5 93.8,177.7 95.4,182.3 96.2,159.2 97.3,180.8 98.4,188.5 100.4,200.8 101.9,188.5 103.9,168.5 105.8,196.2 107.6,175.4 108.8,195.4 109.9,187.7 111.2,195.4 112.7,193.1 113.8,184.6 114.7,196.2 116.2,178.5 117.8,199.2 118.8,186.2 120.4,190.0 122.4,203.1 123.5,170.0 125.0,184.6 125.8,171.5 127.6,203.8 128.8,186.2 130.7,192.3 132.7,179.2 134.2,196.2 135.3,180.0 136.8,199.2 138.5,180.8 139.9,178.5 141.2,181.5 142.4,193.8 143.9,170.0 145.8,165.4 147.3,164.6"/>
<line x1="96.6" y1="213.4" x2="96.6" y2="135.4" stroke="#000" stroke-width="1.7" stroke-dasharray="1.25 0.9"/>
<line x1="101" y1="213.4" x2="101" y2="135.4" stroke="#000" stroke-width="1.7" stroke-dasharray="1.25 0.9"/>
<rect x="50.3" y="135.4" width="97.1" height="78" fill="none" stroke="#333" stroke-width="0.85"/>
<line x1="47.8" y1="194.6" x2="50.3" y2="194.6" stroke="#222" stroke-width="0.9"/>
<text x="45.7" y="197.4" font-size="8.2" font-family="Liberation Sans" text-anchor="end" textLength="11.73" lengthAdjust="spacingAndGlyphs" stroke="#000" stroke-width="0.15">0.1</text>
<line x1="47.8" y1="169.95" x2="50.3" y2="169.95" stroke="#222" stroke-width="0.9"/>
<text x="45.7" y="172.75" font-size="8.2" font-family="Liberation Sans" text-anchor="end" textLength="11.73" lengthAdjust="spacingAndGlyphs" stroke="#000" stroke-width="0.15">0.2</text>
<line x1="47.8" y1="145.3" x2="50.3" y2="145.3" stroke="#222" stroke-width="0.9"/>
<text x="45.7" y="148.1" font-size="8.2" font-family="Liberation Sans" text-anchor="end" textLength="11.73" lengthAdjust="spacingAndGlyphs" stroke="#000" stroke-width="0.15">0.3</text>
<line x1="58.07" y1="213.4" x2="58.07" y2="215.9" stroke="#222" stroke-width="0.9"/>
<text x="58.07" y="224.4" font-size="8.2" font-family="Liberation Sans" text-anchor="middle" textLength="18.88" lengthAdjust="spacingAndGlyphs" stroke="#000" stroke-width="0.15">1960</text>
<line x1="96.91" y1="213.4" x2="96.91" y2="215.9" stroke="#222" stroke-width="0.9"/>
<text x="96.91" y="224.4" font-size="8.2" font-family="Liberation Sans" text-anchor="middle" textLength="18.88" lengthAdjust="spacingAndGlyphs" stroke="#000" stroke-width="0.15">2000</text>
<line x1="135.75" y1="213.4" x2="135.75" y2="215.9" stroke="#222" stroke-width="0.9"/>
<text x="135.75" y="224.4" font-size="8.2" font-family="Liberation Sans" text-anchor="middle" textLength="18.88" lengthAdjust="spacingAndGlyphs" stroke="#000" stroke-width="0.15">2040</text>
<text x="98.85" y="235.4" font-size="9.1" font-family="Liberation Sans" text-anchor="middle" textLength="66.6" lengthAdjust="spacingAndGlyphs">Sequence step</text>
<polyline fill="none" stroke="#0000ff" stroke-width="1.45" stroke-linejoin="round" points="201.5,194.6 203.4,190.8 205.4,175.4 206.9,179.2 208.0,176.9 209.2,186.2 210.5,178.5 212.0,183.8 213.8,191.5 215.4,177.7 216.6,185.4 218.2,171.5 219.2,173.1 220.8,181.5 221.8,182.3 223.1,165.4 224.3,193.1 226.2,169.2 227.7,177.7 229.2,200.8 230.5,186.9 231.5,193.1 233.1,180.0 234.6,181.5 236.6,196.9 238.2,185.4 239.7,170.0 240.8,173.1 241.8,166.2 243.4,188.5 245.4,170.0 246.9,191.5 248.5,174.6 250.0,186.9 251.5,170.0 253.1,143.1 254.3,158.3 255.8,179.9 257.2,204.1 259.0,165.5 260.8,196.9 262.1,187.1 263.5,197.8 264.7,178.1 266.5,183.5 268.0,168.2 269.2,192.5 271.0,181.7 271.9,187.1 273.7,162.8 275.5,184.4 277.0,161.9 278.8,168.2 280.2,170.0 281.8,188.9 283.1,199.6 284.9,172.7 286.7,183.5 288.1,168.2 289.5,193.3 290.8,169.1 292.0,192.5 293.8,178.1 295.3,170.9 297.1,163.7 298.5,179.9 299.8,180.8 301.0,166.4 302.5,188.0 303.3,181.7 305.0,182.6"/>
<line x1="250.6" y1="213.4" x2="250.6" y2="135.4" stroke="#000" stroke-width="1.7" stroke-dasharray="1.25 0.9"/>
<line x1="255.3" y1="213.4" x2="255.3" y2="135.4" stroke="#000" stroke-width="1.7" stroke-dasharray="1.25 0.9"/>
<rect x="201.4" y="135.4" width="103.6" height="78" fill="none" stroke="#333" stroke-width="0.85"/>
<line x1="198.9" y1="200.1" x2="201.4" y2="200.1" stroke="#222" stroke-width="0.9"/>
<text x="196.8" y="202.9" font-size="8.2" font-family="Liberation Sans" text-anchor="end" textLength="16.5" lengthAdjust="spacingAndGlyphs" stroke="#000" stroke-width="0.15">0.05</text>
<line x1="198.9" y1="178.5" x2="201.4" y2="178.5" stroke="#222" stroke-width="0.9"/>
<text x="196.8" y="181.3" font-size="8.2" font-family="Liberation Sans" text-anchor="end" textLength="16.5" lengthAdjust="spacingAndGlyphs" stroke="#000" stroke-width="0.15">0.10</text>
<line x1="198.9" y1="156.9" x2="201.4" y2="156.9" stroke="#222" stroke-width="0.9"/>
<text x="196.8" y="159.7" font-size="8.2" font-family="Liberation Sans" text-anchor="end" textLength="16.5" lengthAdjust="spacingAndGlyphs" stroke="#000" stroke-width="0.15">0.15</text>
<line x1="209.69" y1="213.4" x2="209.69" y2="215.9" stroke="#222" stroke-width="0.9"/>
<text x="209.69" y="224.4" font-size="8.2" font-family="Liberation Sans" text-anchor="middle" textLength="18.88" lengthAdjust="spacingAndGlyphs" stroke="#000" stroke-width="0.15">1960</text>
<line x1="251.13" y1="213.4" x2="251.13" y2="215.9" stroke="#222" stroke-width="0.9"/>
<text x="251.13" y="224.4" font-size="8.2" font-family="Liberation Sans" text-anchor="middle" textLength="18.88" lengthAdjust="spacingAndGlyphs" stroke="#000" stroke-width="0.15">2000</text>
<line x1="292.57" y1="213.4" x2="292.57" y2="215.9" stroke="#222" stroke-width="0.9"/>
<text x="292.57" y="224.4" font-size="8.2" font-family="Liberation Sans" text-anchor="middle" textLength="18.88" lengthAdjust="spacingAndGlyphs" stroke="#000" stroke-width="0.15">2040</text>
<text x="253.2" y="235.4" font-size="9.1" font-family="Liberation Sans" text-anchor="middle" textLength="66.6" lengthAdjust="spacingAndGlyphs">Sequence step</text>
<polyline fill="none" stroke="#0000ff" stroke-width="1.45" stroke-linejoin="round" points="358.7,185.0 360.0,173.3 361.7,151.7 363.3,180.0 364.5,195.0 365.7,170.0 366.7,186.7 367.8,160.0 369.0,185.0 370.3,175.0 371.7,181.7 372.8,174.2 374.0,191.7 375.3,167.5 376.7,180.0 377.8,155.0 379.2,146.7 380.3,178.3 381.7,186.7 383.2,185.0 384.5,166.7 385.7,180.0 386.7,171.7 387.8,183.3 389.5,165.0 391.2,167.5 392.3,180.0 394.0,175.8 395.3,184.2 397.0,194.2 398.2,164.2 399.5,180.0 400.7,183.3 402.0,180.0 403.3,190.8 404.5,166.7 405.7,197.5 407.0,178.3 405.8,198.3 407.0,178.3 408.7,168.3 410.0,185.0 411.3,175.0 412.5,161.7 413.7,183.3 415.3,170.0 416.7,183.3 417.5,169.2 419.2,193.3 420.8,172.5 422.5,190.0 423.7,176.7 425.0,155.0 426.7,194.2 428.3,171.7 430.0,178.3 432.0,197.5 434.2,165.8 435.8,190.0 437.5,181.7 439.2,171.7 440.8,175.8 442.5,185.0 443.7,169.2 445.0,195.0 446.3,179.2 447.5,185.0 449.2,180.0 450.8,188.3 453.3,167.5 455.0,182.5 456.3,173.3 457.5,161.7 458.7,189.2 460.0,167.5 461.3,176.7 462.5,171.7"/>
<line x1="408.5" y1="213.4" x2="408.5" y2="136.6" stroke="#000" stroke-width="1.7" stroke-dasharray="1.25 0.9"/>
<line x1="412.8" y1="213.4" x2="412.8" y2="136.6" stroke="#000" stroke-width="1.7" stroke-dasharray="1.25 0.9"/>
<rect x="358.4" y="136.6" width="104.3" height="76.8" fill="none" stroke="#333" stroke-width="0.85"/>
<line x1="355.9" y1="194.6" x2="358.4" y2="194.6" stroke="#222" stroke-width="0.9"/>
<text x="353.8" y="197.4" font-size="8.2" font-family="Liberation Sans" text-anchor="end" textLength="11.73" lengthAdjust="spacingAndGlyphs" stroke="#000" stroke-width="0.15">0.1</text>
<line x1="355.9" y1="166.35" x2="358.4" y2="166.35" stroke="#222" stroke-width="0.9"/>
<text x="353.8" y="169.15" font-size="8.2" font-family="Liberation Sans" text-anchor="end" textLength="11.73" lengthAdjust="spacingAndGlyphs" stroke="#000" stroke-width="0.15">0.2</text>
<line x1="355.9" y1="138.1" x2="358.4" y2="138.1" stroke="#222" stroke-width="0.9"/>
<text x="353.8" y="140.9" font-size="8.2" font-family="Liberation Sans" text-anchor="end" textLength="11.73" lengthAdjust="spacingAndGlyphs" stroke="#000" stroke-width="0.15">0.3</text>
<line x1="366.74" y1="213.4" x2="366.74" y2="215.9" stroke="#222" stroke-width="0.9"/>
<text x="366.74" y="224.4" font-size="8.2" font-family="Liberation Sans" text-anchor="middle" textLength="18.88" lengthAdjust="spacingAndGlyphs" stroke="#000" stroke-width="0.15">1960</text>
<line x1="408.46" y1="213.4" x2="408.46" y2="215.9" stroke="#222" stroke-width="0.9"/>
<text x="408.46" y="224.4" font-size="8.2" font-family="Liberation Sans" text-anchor="middle" textLength="18.88" lengthAdjust="spacingAndGlyphs" stroke="#000" stroke-width="0.15">2000</text>
<line x1="450.18" y1="213.4" x2="450.18" y2="215.9" stroke="#222" stroke-width="0.9"/>
<text x="450.18" y="224.4" font-size="8.2" font-family="Liberation Sans" text-anchor="middle" textLength="18.88" lengthAdjust="spacingAndGlyphs" stroke="#000" stroke-width="0.15">2040</text>
<text x="410.55" y="235.4" font-size="9.1" font-family="Liberation Sans" text-anchor="middle" textLength="66.6" lengthAdjust="spacingAndGlyphs">Sequence step</text>
<polyline fill="none" stroke="#0000ff" stroke-width="1.45" stroke-linejoin="round" points="511.5,200.6 512.9,195.8 514.2,201.5 515.8,194.8 517.3,201.5 518.7,193.8 519.6,203.5 521.2,191.0 522.5,195.8 523.8,189.0 525.8,185.2 527.7,199.6 529.2,191.0 530.8,195.8 532.1,191.9 534.0,208.3 535.4,191.9 536.9,201.5 538.5,191.0 539.8,191.9 541.7,190.0 543.1,201.5 545.0,191.0 546.9,185.2 548.5,197.7 550.0,189.0 551.3,184.2 552.7,195.8 554.2,204.4 556.2,189.0 558.1,202.5 560.0,203.5 561.9,195.8 562.9,178.5 563.5,149.6 564.2,143.8 566.7,142.3 568.1,145.8 568.7,191.9 570.0,193.8 571.5,207.3 573.1,195.8 574.4,203.5 575.8,195.8 578.3,185.2 579.6,199.6 581.5,190.0 583.1,197.7 585.0,195.8 586.9,206.3 588.5,188.1 590.4,196.7 591.7,191.9 593.7,189.0 595.0,197.7 596.9,201.5 598.5,193.8 600.4,190.0 601.9,191.9 603.8,191.0 605.8,197.7 607.7,194.8 610.0,195.8 611.9,189.0 613.8,195.8 615.8,197.7 617.3,204.4 619.0,191.9"/>
<line x1="563.4" y1="217" x2="563.4" y2="139" stroke="#000" stroke-width="1.7" stroke-dasharray="1.25 0.9"/>
<line x1="567.6" y1="217" x2="567.6" y2="139" stroke="#000" stroke-width="1.7" stroke-dasharray="1.25 0.9"/>
<rect x="511.2" y="139" width="109.3" height="78" fill="none" stroke="#333" stroke-width="0.85"/>
<line x1="508.7" y1="204" x2="511.2" y2="204" stroke="#222" stroke-width="0.9"/>
<text x="506.6" y="206.8" font-size="8.2" font-family="Liberation Sans" text-anchor="end" textLength="11.73" lengthAdjust="spacingAndGlyphs" stroke="#000" stroke-width="0.15">0.2</text>
<line x1="508.7" y1="187.4" x2="511.2" y2="187.4" stroke="#222" stroke-width="0.9"/>
<text x="506.6" y="190.2" font-size="8.2" font-family="Liberation Sans" text-anchor="end" textLength="11.73" lengthAdjust="spacingAndGlyphs" stroke="#000" stroke-width="0.15">0.4</text>
<line x1="508.7" y1="170.8" x2="511.2" y2="170.8" stroke="#222" stroke-width="0.9"/>
<text x="506.6" y="173.6" font-size="8.2" font-family="Liberation Sans" text-anchor="end" textLength="11.73" lengthAdjust="spacingAndGlyphs" stroke="#000" stroke-width="0.15">0.6</text>
<line x1="508.7" y1="154.2" x2="511.2" y2="154.2" stroke="#222" stroke-width="0.9"/>
<text x="506.6" y="157" font-size="8.2" font-family="Liberation Sans" text-anchor="end" textLength="11.73" lengthAdjust="spacingAndGlyphs" stroke="#000" stroke-width="0.15">0.8</text>
<line x1="519.94" y1="217" x2="519.94" y2="219.5" stroke="#222" stroke-width="0.9"/>
<text x="519.94" y="228" font-size="8.2" font-family="Liberation Sans" text-anchor="middle" textLength="18.88" lengthAdjust="spacingAndGlyphs" stroke="#000" stroke-width="0.15">1960</text>
<line x1="563.66" y1="217" x2="563.66" y2="219.5" stroke="#222" stroke-width="0.9"/>
<text x="563.66" y="228" font-size="8.2" font-family="Liberation Sans" text-anchor="middle" textLength="18.88" lengthAdjust="spacingAndGlyphs" stroke="#000" stroke-width="0.15">2000</text>
<line x1="607.38" y1="217" x2="607.38" y2="219.5" stroke="#222" stroke-width="0.9"/>
<text x="607.38" y="228" font-size="8.2" font-family="Liberation Sans" text-anchor="middle" textLength="18.88" lengthAdjust="spacingAndGlyphs" stroke="#000" stroke-width="0.15">2040</text>
<text x="565.85" y="239" font-size="9.1" font-family="Liberation Sans" text-anchor="middle" textLength="66.6" lengthAdjust="spacingAndGlyphs">Sequence step</text>
<text x="29.6" y="174.5" font-size="9.1" font-family="Liberation Sans" text-anchor="middle" textLength="62.6" lengthAdjust="spacingAndGlyphs" transform="rotate(-90 29.6 174.5)">Corr. strength</text>
<text x="0.2" y="393.6" font-size="15.2" font-family="Liberation Serif">re</text>
<text x="15.4" y="393.6" font-size="15.2" font-family="Liberation Serif">2:</text>
<text x="33.7" y="393.6" font-size="15.2" font-family="Liberation Serif" textLength="31.5" lengthAdjust="spacingAndGlyphs">Some</text>
<text x="71.3" y="393.6" font-size="15.2" font-family="Liberation Serif" textLength="58.6" lengthAdjust="spacingAndGlyphs">instances</text>
<text x="133.2" y="393.6" font-size="15.2" font-family="Liberation Serif">of</text>
<text x="147.5" y="393.6" font-size="15.2" font-family="Liberation Serif" textLength="60.5" lengthAdjust="spacingAndGlyphs">randomly</text>
<text x="210" y="393.6" font-size="15.2" font-family="Liberation Serif">generated</text>
<text x="273" y="393.6" font-size="15.2" font-family="Liberation Serif">synthetic</text>
<text x="330" y="393.6" font-size="15.2" font-family="Liberation Serif">data</text>
<text x="360.5" y="393.6" font-size="15.2" font-family="Liberation Serif">with</text>
<text x="391.2" y="393.6" font-size="15.2" font-family="Liberation Serif">feature</text>
<text x="440" y="393.6" font-size="15.2" font-family="Liberation Serif" textLength="20.5" lengthAdjust="spacingAndGlyphs">size</text>
<text x="493" y="393.6" font-size="15.2" font-family="Liberation Serif">8.</text>
<text x="510.5" y="393.6" font-size="15.2" font-family="Liberation Serif">From</text>
<text x="546.8" y="393.6" font-size="15.2" font-family="Liberation Serif">top</text>
<text x="570.8" y="393.6" font-size="15.2" font-family="Liberation Serif">to</text>
<text x="585.6" y="393.6" font-size="15.2" font-family="Liberation Serif">bottom:</text>
<text x="636.3" y="393.6" font-size="15.2" font-family="Liberation Serif">w</text>
<text x="464.7" y="393.6" font-size="15.2" font-family="Liberation Serif" font-style="italic">d</text>
<text x="477.5" y="393.6" font-size="15.2" font-family="Liberation Serif" textLength="10" lengthAdjust="spacingAndGlyphs">=</text>
<polygon points="37.5,345.3 116.3,354.7 132.2,322.8 135.2,270.6 59.0,263.8 35.6,290.2" fill="#f5f5f5" stroke="#eaeaea" stroke-width="0.5"/>
<polyline points="35.6,290.2 37.5,345.3 116.3,354.7 132.2,322.8" fill="none" stroke="#5a5a5a" stroke-width="0.7"/>
<g stroke-linecap="round" fill="none" stroke-width="2.95">
<path stroke="#8a0000" d="M65.7 311.6L67.9 311.8M79.0 313.1L81.2 313.3M84.3 313.7L86.5 313.9M95.2 314.9L97.4 315.1M103.4 315.8L105.7 316.0M114.5 317.0L116.8 317.3M117.3 317.3L119.6 317.6"/>
<path stroke="#790000" d="M68.3 311.9L70.5 312.1M76.3 312.8L78.5 313.0M81.6 313.4L83.9 313.6M92.4 314.6L94.7 314.8M97.9 315.2L100.2 315.4"/>
<path stroke="#820000" d="M71.0 312.2L73.2 312.4M87.0 314.0L89.2 314.2M89.7 314.3L92.0 314.5M106.2 316.1L108.4 316.3M108.9 316.4L111.2 316.6M111.7 316.7L114.0 316.9"/>
<path stroke="#930000" d="M73.6 312.5L75.8 312.7M100.6 315.5L102.9 315.7"/>
<path stroke="#710000" d="M120.1 317.6L122.5 317.9"/>
<path stroke="#931000" d="M123.0 317.9L125.3 318.2"/>
<path stroke="#710000" d="M65.6 306.5L67.7 306.8M84.3 308.5L86.5 308.8M89.7 309.1L91.9 309.4M97.9 310.0L100.2 310.3M100.7 310.3L102.9 310.5M106.2 310.9L108.5 311.1M117.4 312.1L119.7 312.4M120.2 312.4L122.6 312.7"/>
<path stroke="#790000" d="M68.2 306.8L70.4 307.1M70.9 307.1L73.1 307.3M73.5 307.4L75.7 307.6M76.2 307.7L78.4 307.9M95.2 309.7L97.4 310.0M109.0 311.2L111.3 311.4M114.6 311.8L116.9 312.0"/>
<path stroke="#680000" d="M78.9 308.0L81.1 308.2M103.4 310.6L105.7 310.8M111.8 311.5L114.1 311.7M123.1 312.7L125.4 313.0"/>
<path stroke="#820000" d="M81.6 308.3L83.8 308.5M87.0 308.8L89.2 309.1"/>
<path stroke="#5f0000" d="M92.4 309.4L94.7 309.7"/>
<path stroke="#790000" d="M65.4 301.4L67.6 301.7M123.2 307.4L125.5 307.7"/>
<path stroke="#680000" d="M68.1 301.7L70.3 301.9M73.4 302.3L75.6 302.5M78.8 302.8L81.0 303.1M86.9 303.7L89.2 303.9M89.6 304.0L91.9 304.2M92.4 304.2L94.7 304.5M100.7 305.1L103.0 305.3M106.2 305.7L108.5 305.9M109.0 306.0L111.3 306.2M111.8 306.3L114.2 306.5"/>
<path stroke="#710000" d="M70.7 302.0L72.9 302.2M76.1 302.5L78.3 302.8M84.2 303.4L86.4 303.6M95.1 304.5L97.4 304.8M97.9 304.8L100.2 305.0M103.4 305.4L105.7 305.6M114.7 306.6L117.0 306.8M117.5 306.8L119.8 307.1M120.3 307.1L122.7 307.4"/>
<path stroke="#820000" d="M81.5 303.1L83.7 303.3"/>
<path stroke="#680000" d="M65.3 296.3L67.5 296.5M76.0 297.4L78.2 297.6M81.4 297.9L83.7 298.1M84.1 298.2L86.4 298.4M97.9 299.6L100.2 299.8M103.5 300.1L105.8 300.4M109.1 300.7L111.4 300.9M117.6 301.5L119.9 301.8M123.3 302.1L125.7 302.4"/>
<path stroke="#710000" d="M67.9 296.6L70.1 296.8M70.6 296.8L72.8 297.0M86.9 298.5L89.1 298.7M89.6 298.7L91.9 299.0M95.1 299.3L97.4 299.5M100.7 299.8L103.0 300.1M106.3 300.4L108.6 300.6M114.7 301.3L117.1 301.5M120.4 301.8L122.8 302.1"/>
<path stroke="#790000" d="M73.3 297.1L75.5 297.3M78.7 297.6L80.9 297.9M92.4 299.0L94.6 299.2M111.9 301.0L114.2 301.2"/>
<path stroke="#710000" d="M65.1 291.1L67.3 291.3M73.2 291.9L75.4 292.1M95.1 294.0L97.4 294.2M97.9 294.3L100.2 294.5"/>
<path stroke="#820000" d="M67.8 291.3L70.0 291.6M70.5 291.6L72.7 291.8M92.3 293.7L94.6 294.0M114.8 295.9L117.2 296.1M123.4 296.8L125.8 297.0"/>
<path stroke="#790000" d="M75.9 292.1L78.1 292.4M84.1 292.9L86.3 293.1M89.6 293.5L91.8 293.7M100.7 294.5L103.0 294.8M103.5 294.8L105.8 295.0M106.3 295.1L108.6 295.3M109.1 295.4L111.5 295.6M117.7 296.2L120.0 296.4"/>
<path stroke="#8a0000" d="M78.6 292.4L80.9 292.6M81.3 292.7L83.6 292.9M86.8 293.2L89.1 293.4"/>
<path stroke="#930000" d="M112.0 295.6L114.3 295.9"/>
<path stroke="#680000" d="M120.5 296.5L122.9 296.7"/>
<path stroke="#930000" d="M65.0 285.8L67.2 286.1"/>
<path stroke="#790000" d="M67.7 286.1L69.9 286.3M86.8 287.9L89.0 288.1M103.5 289.5L105.8 289.7M109.2 290.0L111.5 290.2M114.9 290.5L117.2 290.7M123.5 291.3L125.9 291.6"/>
<path stroke="#820000" d="M70.4 286.3L72.6 286.6M84.0 287.6L86.3 287.8M92.3 288.4L94.6 288.6M95.1 288.7L97.4 288.9M100.7 289.2L103.0 289.4M106.3 289.7L108.7 289.9M112.0 290.3L114.4 290.5"/>
<path stroke="#8a0000" d="M73.1 286.6L75.3 286.8M75.8 286.9L78.0 287.1M81.3 287.4L83.5 287.6M89.5 288.1L91.8 288.4M120.6 291.1L123.0 291.3"/>
<path stroke="#710000" d="M78.5 287.1L80.8 287.3M97.9 288.9L100.2 289.1M117.7 290.8L120.1 291.0"/>
<path stroke="#790000" d="M64.8 280.6L67.1 280.8M73.0 281.3L75.2 281.5M78.4 281.8L80.7 282.0M83.9 282.3L86.2 282.5M106.4 284.3L108.7 284.5M120.7 285.6L123.1 285.8"/>
<path stroke="#710000" d="M67.5 280.8L69.8 281.0M75.7 281.5L77.9 281.7M81.2 282.0L83.5 282.2M89.5 282.8L91.8 283.0M95.1 283.3L97.4 283.5M97.9 283.5L100.2 283.7M100.7 283.8L103.0 284.0M117.8 285.3L120.2 285.6M123.6 285.9L126.0 286.1"/>
<path stroke="#8a0000" d="M70.2 281.0L72.5 281.2"/>
<path stroke="#820000" d="M86.7 282.5L89.0 282.7M92.3 283.0L94.6 283.2M103.5 284.1L105.9 284.3M109.2 284.6L111.6 284.8M112.1 284.8L114.4 285.0"/>
<path stroke="#680000" d="M115.0 285.1L117.3 285.3"/>
<path stroke="#5f0000" stroke-width="3.1" d="M64.7 275.2L66.9 275.4M100.7 278.3L103.1 278.6M117.9 279.8L120.3 280.0"/>
<path stroke="#680000" stroke-width="3.1" d="M67.4 275.5L69.6 275.6M81.1 276.6L83.4 276.8M89.4 277.4L91.8 277.6M109.3 279.1L111.6 279.3M112.1 279.3L114.5 279.5"/>
<path stroke="#790000" stroke-width="3.1" d="M70.1 275.7L72.4 275.9M78.3 276.4L80.6 276.6M86.7 277.1L89.0 277.3M97.9 278.1L100.2 278.3"/>
<path stroke="#710000" stroke-width="3.1" d="M72.8 275.9L75.1 276.1M75.6 276.2L77.9 276.4M83.9 276.9L86.2 277.1M92.2 277.6L94.6 277.8M95.1 277.9L97.4 278.1M103.6 278.6L105.9 278.8M106.4 278.8L108.8 279.0M115.0 279.6L117.4 279.8M120.8 280.1L123.2 280.3M123.7 280.3L126.2 280.6"/>
<path stroke="#960000" d="M63.4 314.7L65.6 315.0M79.5 316.6L81.8 316.8M93.3 318.1L95.5 318.4M101.6 319.1L103.9 319.3M104.4 319.4L106.7 319.6M112.9 320.3L115.2 320.6M115.7 320.7L118.1 320.9"/>
<path stroke="#ac0000" d="M66.1 315.0L68.3 315.3M71.4 315.7L73.6 315.9M74.1 316.0L76.4 316.2M96.0 318.4L98.3 318.7M121.4 321.3L123.8 321.6"/>
<path stroke="#a10000" d="M68.7 315.4L71.0 315.6M76.8 316.3L79.1 316.5M87.7 317.5L90.0 317.8M90.5 317.8L92.8 318.1M98.8 318.7L101.1 319.0M107.2 319.7L109.5 320.0M110.0 320.0L112.4 320.3"/>
<path stroke="#b60000" d="M82.3 316.9L84.5 317.1"/>
<path stroke="#8c0000" d="M85.0 317.2L87.3 317.4M118.6 321.0L120.9 321.2"/>
<path stroke="#810000" d="M63.2 309.6L65.5 309.9"/>
<path stroke="#960000" d="M65.9 309.9L68.1 310.2M93.2 312.9L95.5 313.2M107.3 314.4L109.6 314.7M118.7 315.7L121.0 316.0"/>
<path stroke="#a10000" d="M68.6 310.2L70.8 310.5M71.3 310.5L73.5 310.8M79.5 311.4L81.7 311.6M90.5 312.6L92.7 312.9M98.8 313.5L101.1 313.8M101.6 313.8L103.9 314.1M104.4 314.1L106.8 314.4M110.1 314.8L112.4 315.0M115.8 315.4L118.2 315.6"/>
<path stroke="#ac0000" d="M74.0 310.8L76.3 311.1M76.7 311.1L79.0 311.3M84.9 312.0L87.2 312.3M87.7 312.3L90.0 312.6M96.0 313.2L98.3 313.5"/>
<path stroke="#8c0000" d="M82.2 311.7L84.5 311.9M112.9 315.1L115.3 315.3"/>
<path stroke="#b71400" d="M121.5 316.0L123.9 316.3"/>
<path stroke="#ac0000" d="M63.1 304.5L65.3 304.7M68.5 305.0L70.7 305.3M73.9 305.6L76.2 305.8M79.4 306.2L81.6 306.4M96.0 308.0L98.3 308.2"/>
<path stroke="#960000" d="M65.8 304.7L68.0 305.0M90.4 307.4L92.7 307.6M93.2 307.7L95.5 307.9M101.6 308.5L104.0 308.8M107.3 309.2L109.6 309.4M113.0 309.8L115.4 310.0"/>
<path stroke="#a10000" d="M71.2 305.3L73.4 305.6M76.6 305.9L78.9 306.1M82.1 306.5L84.4 306.7M84.9 306.8L87.2 307.0M110.2 309.5L112.5 309.7M115.9 310.1L118.3 310.3M121.7 310.7L124.0 310.9"/>
<path stroke="#b60000" d="M87.6 307.1L89.9 307.3"/>
<path stroke="#8c0000" d="M98.8 308.3L101.1 308.5M104.5 308.8L106.8 309.1M118.8 310.4L121.1 310.6"/>
<path stroke="#a10000" d="M62.9 299.2L65.2 299.5M96.0 302.6L98.3 302.9"/>
<path stroke="#8c0000" d="M65.6 299.5L67.9 299.7M73.8 300.4L76.1 300.6M79.3 300.9L81.6 301.2M84.8 301.5L87.1 301.7M87.6 301.8L89.9 302.0M90.4 302.1L92.7 302.3"/>
<path stroke="#810000" d="M68.3 299.8L70.6 300.0M76.5 300.6L78.8 300.9M82.0 301.2L84.3 301.4M93.2 302.4L95.5 302.6M101.6 303.2L104.0 303.5M104.5 303.5L106.8 303.8M116.0 304.7L118.3 304.9"/>
<path stroke="#960000" d="M71.1 300.1L73.3 300.3M98.8 302.9L101.2 303.2M110.2 304.1L112.6 304.3M113.1 304.4L115.5 304.6M118.9 305.0L121.2 305.2"/>
<path stroke="#760000" d="M107.3 303.8L109.7 304.0M121.8 305.3L124.2 305.5"/>
<path stroke="#810000" d="M62.8 294.0L65.0 294.2"/>
<path stroke="#ac0000" d="M65.5 294.3L67.7 294.5"/>
<path stroke="#960000" d="M68.2 294.5L70.5 294.7M70.9 294.8L73.2 295.0M93.2 297.0L95.5 297.2M96.0 297.3L98.3 297.5M98.8 297.6L101.2 297.8M118.9 299.6L121.4 299.8"/>
<path stroke="#a10000" d="M73.7 295.1L76.0 295.3M104.5 298.1L106.9 298.4M110.3 298.7L112.6 298.9M113.1 299.0L115.5 299.2"/>
<path stroke="#8c0000" d="M76.4 295.3L78.7 295.6M79.2 295.6L81.5 295.8M82.0 295.9L84.3 296.1M84.8 296.2L87.1 296.4M87.5 296.4L89.9 296.7M90.3 296.7L92.7 296.9M101.7 297.8L104.0 298.1M107.4 298.4L109.8 298.6M116.0 299.3L118.4 299.5M121.9 299.8L124.3 300.1"/>
<path stroke="#a10000" d="M62.6 288.7L64.9 288.9M73.6 289.7L75.8 289.9M76.3 290.0L78.6 290.2M104.5 292.7L106.9 292.9M122.0 294.4L124.4 294.6"/>
<path stroke="#960000" d="M65.3 288.9L67.6 289.1M68.1 289.2L70.3 289.4M84.7 290.8L87.0 291.0M93.1 291.6L95.5 291.8M101.7 292.4L104.0 292.6M107.4 293.0L109.8 293.2M113.2 293.5L115.6 293.7M119.0 294.1L121.5 294.3"/>
<path stroke="#810000" d="M70.8 289.5L73.1 289.7M87.5 291.1L89.8 291.3"/>
<path stroke="#8c0000" d="M79.1 290.3L81.4 290.5M81.9 290.5L84.2 290.7M90.3 291.3L92.6 291.5M96.0 291.9L98.3 292.1M98.8 292.1L101.2 292.4M110.3 293.2L112.7 293.5M116.1 293.8L118.5 294.0"/>
<path stroke="#ac0000" d="M62.4 283.3L64.7 283.5M79.0 284.8L81.3 285.1M98.8 286.7L101.2 286.9"/>
<path stroke="#b70900" d="M65.2 283.6L67.4 283.8"/>
<path stroke="#a10000" d="M67.9 283.8L70.2 284.0M76.2 284.6L78.5 284.8M81.8 285.1L84.1 285.3M96.0 286.4L98.3 286.6M116.2 288.3L118.6 288.5"/>
<path stroke="#960000" d="M70.7 284.1L73.0 284.3M73.5 284.3L75.7 284.5M84.6 285.4L86.9 285.6M87.4 285.6L89.8 285.8M93.1 286.1L95.5 286.4M104.6 287.2L107.0 287.4M110.4 287.7L112.8 288.0M113.3 288.0L115.7 288.2M122.1 288.8L124.5 289.0"/>
<path stroke="#8c0000" d="M90.3 285.9L92.6 286.1M101.7 286.9L104.1 287.2M107.5 287.5L109.9 287.7M119.1 288.5L121.6 288.8"/>
<path stroke="#810000" stroke-width="3.1" d="M62.3 277.9L64.5 278.1M67.8 278.4L70.1 278.6M78.9 279.4L81.2 279.6M95.9 280.9L98.3 281.1M110.4 282.2L112.8 282.4M113.4 282.4L115.8 282.7M116.3 282.7L118.7 282.9"/>
<path stroke="#960000" stroke-width="3.1" d="M65.0 278.2L67.3 278.4M70.6 278.6L72.9 278.8M73.3 278.9L75.6 279.1M81.7 279.6L84.1 279.8M101.7 281.4L104.1 281.6M104.6 281.7L107.0 281.9M119.2 283.0L121.7 283.2"/>
<path stroke="#8c0000" stroke-width="3.1" d="M76.1 279.1L78.4 279.3M84.6 279.9L86.9 280.1M87.4 280.1L89.7 280.3M93.1 280.6L95.4 280.9M98.8 281.2L101.2 281.4M107.5 281.9L109.9 282.1"/>
<path stroke="#a10000" stroke-width="3.1" d="M90.2 280.4L92.6 280.6"/>
<path stroke="#760000" stroke-width="3.1" d="M122.2 283.2L124.6 283.4"/>
<path stroke="#9f0000" d="M61.0 318.0L63.3 318.2M69.2 318.9L71.4 319.2M71.9 319.2L74.2 319.5M85.7 320.8L88.0 321.1M88.5 321.2L90.8 321.4M94.1 321.8L96.4 322.1M96.9 322.1L99.3 322.4M111.2 323.8L113.6 324.0"/>
<path stroke="#aa0000" d="M63.7 318.3L66.0 318.6M74.6 319.6L76.9 319.8M77.4 319.9L79.7 320.1M80.1 320.2L82.4 320.5M91.3 321.5L93.6 321.7M102.6 322.8L105.0 323.1M108.3 323.4L110.7 323.7M117.0 324.4L119.4 324.7M119.9 324.8L122.3 325.1"/>
<path stroke="#b50000" d="M66.4 318.6L68.7 318.9M82.9 320.5L85.2 320.8M99.8 322.5L102.1 322.7"/>
<path stroke="#940000" d="M105.5 323.1L107.8 323.4"/>
<path stroke="#7d0000" d="M114.1 324.1L116.5 324.4"/>
<path stroke="#aa0000" d="M60.9 312.8L63.1 313.1M63.6 313.1L65.8 313.4M85.6 315.6L88.0 315.8M96.9 316.8L99.3 317.1M99.8 317.2L102.1 317.4M102.6 317.5L105.0 317.7M114.2 318.8L116.5 319.0M117.1 319.1L119.5 319.4"/>
<path stroke="#b50000" d="M66.3 313.4L68.5 313.7M71.8 314.0L74.0 314.3M82.8 315.3L85.1 315.5M94.1 316.5L96.4 316.8M108.4 318.1L110.7 318.4M111.3 318.4L113.6 318.7"/>
<path stroke="#9f0000" d="M69.0 313.7L71.3 314.0M74.5 314.3L76.8 314.6M77.3 314.6L79.6 314.9M80.1 315.0L82.4 315.2M88.4 315.9L90.8 316.2M105.5 317.8L107.9 318.1M120.0 319.4L122.4 319.7"/>
<path stroke="#c10000" d="M91.3 316.2L93.6 316.5"/>
<path stroke="#9f0000" d="M60.7 307.6L62.9 307.8M96.9 311.5L99.3 311.8M105.5 312.4L107.9 312.7"/>
<path stroke="#880000" d="M63.4 307.9L65.7 308.1M66.1 308.2L68.4 308.4M68.9 308.5L71.2 308.7M82.8 310.0L85.1 310.2M85.6 310.3L87.9 310.5M88.4 310.6L90.7 310.8M114.2 313.4L116.6 313.6M117.1 313.7L119.6 314.0"/>
<path stroke="#940000" d="M71.7 308.8L73.9 309.0M77.2 309.4L79.5 309.6M80.0 309.7L82.3 309.9M91.2 310.9L93.6 311.1M94.1 311.2L96.4 311.4M99.8 311.8L102.1 312.1M102.6 312.1L105.0 312.4M111.3 313.1L113.7 313.3"/>
<path stroke="#aa0000" d="M74.4 309.1L76.7 309.3"/>
<path stroke="#7d0000" d="M108.4 312.7L110.8 313.0"/>
<path stroke="#c11500" d="M120.1 314.0L122.5 314.3"/>
<path stroke="#aa0000" d="M60.5 302.3L62.8 302.5M66.0 302.9L68.3 303.1M68.8 303.2L71.0 303.4M85.5 304.9L87.9 305.2M88.4 305.2L90.7 305.5M96.9 306.1L99.3 306.4M102.7 306.7L105.0 307.0M108.5 307.3L110.9 307.6M114.3 307.9L116.7 308.2"/>
<path stroke="#b50000" d="M63.3 302.6L65.5 302.8M74.3 303.7L76.6 304.0M77.1 304.0L79.4 304.3M82.7 304.6L85.0 304.9M91.2 305.5L93.5 305.8M105.6 307.0L107.9 307.3M117.2 308.2L119.7 308.5M120.2 308.6L122.6 308.8"/>
<path stroke="#c10000" d="M71.5 303.4L73.8 303.7"/>
<path stroke="#9f0000" d="M79.9 304.3L82.2 304.6M99.8 306.4L102.2 306.7M111.4 307.6L113.8 307.9"/>
<path stroke="#c10a00" d="M94.0 305.8L96.4 306.1"/>
<path stroke="#9f0000" d="M60.3 297.0L62.6 297.2M63.1 297.2L65.4 297.5M71.4 298.1L73.7 298.3M74.2 298.4L76.5 298.6M79.8 298.9L82.1 299.2M91.2 300.1L93.5 300.3M96.9 300.7L99.3 300.9M105.6 301.6L108.0 301.8M111.4 302.1L113.9 302.4M117.3 302.7L119.8 303.0M120.3 303.0L122.7 303.3"/>
<path stroke="#940000" d="M65.9 297.5L68.1 297.8M68.6 297.8L70.9 298.0M94.0 300.4L96.4 300.6M99.8 301.0L102.2 301.2M102.7 301.3L105.1 301.5M108.5 301.9L110.9 302.1M114.4 302.4L116.8 302.7"/>
<path stroke="#880000" d="M77.0 298.7L79.3 298.9"/>
<path stroke="#aa0000" d="M82.6 299.2L85.0 299.5M88.3 299.8L90.7 300.0"/>
<path stroke="#7d0000" d="M85.5 299.5L87.8 299.8"/>
<path stroke="#880000" d="M60.2 291.6L62.4 291.8M68.5 292.4L70.8 292.6M71.3 292.7L73.6 292.9M76.9 293.2L79.2 293.5M79.7 293.5L82.1 293.7M82.6 293.8L84.9 294.0M88.3 294.3L90.6 294.6M99.8 295.5L102.2 295.7M108.6 296.3L111.0 296.6"/>
<path stroke="#940000" d="M62.9 291.9L65.2 292.1M74.1 293.0L76.4 293.2M85.4 294.1L87.8 294.3M94.0 294.9L96.4 295.1M102.7 295.8L105.1 296.0M114.4 296.9L116.9 297.1M120.4 297.5L122.9 297.7"/>
<path stroke="#9f0000" d="M65.7 292.1L68.0 292.4M91.1 294.6L93.5 294.9M96.9 295.2L99.3 295.4M111.5 296.6L113.9 296.9M117.4 297.2L119.9 297.4"/>
<path stroke="#7d0000" d="M105.6 296.0L108.0 296.3"/>
<path stroke="#aa0000" d="M60.0 286.2L62.3 286.4M71.2 287.2L73.5 287.4M79.6 288.0L82.0 288.2M82.5 288.3L84.8 288.5M91.1 289.1L93.5 289.3M94.0 289.4L96.4 289.6M111.6 291.0L114.0 291.3M117.5 291.6L120.0 291.8"/>
<path stroke="#9f0000" d="M62.8 286.4L65.1 286.6M68.3 287.0L70.7 287.2M76.8 287.7L79.1 288.0M105.7 290.5L108.1 290.7M108.6 290.7L111.0 291.0M114.5 291.3L117.0 291.5"/>
<path stroke="#b50000" d="M65.5 286.7L67.9 286.9M74.0 287.5L76.3 287.7M85.3 288.6L87.7 288.8M96.9 289.6L99.3 289.9M102.7 290.2L105.1 290.4"/>
<path stroke="#c10a00" d="M88.2 288.8L90.6 289.0M99.8 289.9L102.2 290.1M120.5 291.9L123.0 292.1"/>
<path stroke="#b50000" stroke-width="3.1" d="M59.8 280.7L62.1 280.9M68.2 281.4L70.5 281.7"/>
<path stroke="#940000" stroke-width="3.1" d="M62.6 280.9L64.9 281.1M65.4 281.2L67.7 281.4M114.6 285.7L117.1 285.9"/>
<path stroke="#9f0000" stroke-width="3.1" d="M71.0 281.7L73.4 281.9M73.9 282.0L76.2 282.2M79.5 282.5L81.9 282.7M82.4 282.7L84.8 282.9M94.0 283.8L96.4 284.0M108.6 285.1L111.1 285.3M117.6 285.9L120.1 286.2M120.6 286.2L123.1 286.4"/>
<path stroke="#aa0000" stroke-width="3.1" d="M76.7 282.2L79.0 282.4M85.3 283.0L87.7 283.2M88.2 283.3L90.5 283.5M91.1 283.5L93.4 283.7M96.9 284.0L99.3 284.3M99.8 284.3L102.2 284.5M102.7 284.6L105.2 284.8M105.7 284.8L108.1 285.1M111.6 285.4L114.1 285.6"/>
<path stroke="#8c0000" d="M58.6 321.3L60.8 321.6M61.3 321.7L63.6 321.9M112.4 327.7L114.8 328.0"/>
<path stroke="#970000" d="M64.1 322.0L66.3 322.3M72.4 323.0L74.7 323.2M80.8 323.9L83.1 324.2M83.6 324.3L85.9 324.6M92.1 325.3L94.5 325.6M97.9 326.0L100.2 326.2M106.5 327.0L108.9 327.3"/>
<path stroke="#a30000" d="M66.8 322.3L69.1 322.6M69.6 322.6L71.9 322.9M75.2 323.3L77.5 323.6M95.0 325.6L97.3 325.9M115.3 328.0L117.8 328.3"/>
<path stroke="#af0000" d="M78.0 323.6L80.3 323.9M89.3 324.9L91.6 325.2M100.7 326.3L103.1 326.6M103.6 326.6L106.0 326.9M118.3 328.4L120.7 328.6"/>
<path stroke="#ba0000" d="M86.4 324.6L88.8 324.9"/>
<path stroke="#750000" d="M109.5 327.3L111.9 327.6"/>
<path stroke="#8c0000" d="M58.4 316.1L60.7 316.3M75.1 318.0L77.4 318.3M97.9 320.6L100.2 320.9"/>
<path stroke="#af0000" d="M61.1 316.4L63.4 316.7M63.9 316.7L66.2 317.0M109.5 321.9L111.9 322.2"/>
<path stroke="#970000" d="M66.7 317.0L69.0 317.3M72.3 317.7L74.6 317.9M77.9 318.3L80.2 318.6M83.5 319.0L85.9 319.2M89.2 319.6L91.6 319.9M103.7 321.3L106.1 321.5M115.4 322.6L117.8 322.9M118.4 322.9L120.8 323.2"/>
<path stroke="#a30000" d="M69.5 317.4L71.8 317.6M80.7 318.6L83.0 318.9M86.4 319.3L88.7 319.5M92.1 319.9L94.5 320.2M95.0 320.3L97.3 320.5M100.8 320.9L103.1 321.2M106.6 321.6L109.0 321.9M112.5 322.3L114.9 322.5"/>
<path stroke="#a30000" d="M58.2 310.8L60.5 311.0M94.9 314.9L97.3 315.1M100.8 315.5L103.2 315.8M103.7 315.8L106.1 316.1M109.6 316.5L112.0 316.7"/>
<path stroke="#af0000" d="M61.0 311.1L63.3 311.3M63.7 311.4L66.0 311.7M72.1 312.3L74.4 312.6M80.6 313.3L83.0 313.5M86.3 313.9L88.7 314.2M89.2 314.2L91.6 314.5M92.1 314.5L94.4 314.8M97.8 315.2L100.2 315.4M112.5 316.8L115.0 317.1"/>
<path stroke="#ba0000" d="M66.5 311.7L68.8 312.0M69.3 312.0L71.6 312.3M74.9 312.6L77.3 312.9M83.5 313.6L85.8 313.8M106.6 316.1L109.0 316.4"/>
<path stroke="#c60000" d="M77.8 313.0L80.1 313.2M115.5 317.1L117.9 317.4M118.5 317.5L120.9 317.7"/>
<path stroke="#af0000" d="M58.0 305.4L60.3 305.7M69.2 306.6L71.5 306.9M100.8 310.0L103.2 310.3"/>
<path stroke="#8c0000" d="M60.8 305.7L63.1 306.0M72.0 306.9L74.3 307.2M77.7 307.5L80.0 307.8M83.4 308.2L85.7 308.4M97.8 309.7L100.3 310.0M118.6 311.9L121.0 312.2"/>
<path stroke="#970000" d="M63.6 306.0L65.9 306.3M66.4 306.3L68.7 306.6M86.3 308.5L88.6 308.7M92.0 309.1L94.4 309.3M94.9 309.4L97.3 309.7M103.7 310.3L106.1 310.6M106.7 310.7L109.1 310.9"/>
<path stroke="#ba0000" d="M74.8 307.2L77.2 307.5"/>
<path stroke="#a30000" d="M80.5 307.9L82.9 308.1M112.6 311.3L115.0 311.6"/>
<path stroke="#800000" d="M89.1 308.8L91.5 309.0M109.6 311.0L112.1 311.2M115.6 311.6L118.0 311.9"/>
<path stroke="#970000" d="M57.8 300.0L60.1 300.3M60.6 300.3L62.9 300.6M63.4 300.6L65.7 300.9M66.2 300.9L68.6 301.2M80.4 302.4L82.8 302.6M83.3 302.7L85.7 302.9M94.9 303.9L97.3 304.1M106.7 305.1L109.1 305.4M109.7 305.4L112.1 305.7M115.6 306.0L118.1 306.3M118.7 306.3L121.1 306.6"/>
<path stroke="#800000" d="M69.1 301.2L71.4 301.4M103.7 304.8L106.2 305.1"/>
<path stroke="#a30000" d="M71.9 301.5L74.2 301.7M86.2 303.0L88.6 303.2M89.1 303.3L91.5 303.5M92.0 303.6L94.4 303.8M112.6 305.7L115.1 306.0"/>
<path stroke="#8c0000" d="M74.7 301.8L77.1 302.0M77.6 302.1L79.9 302.3M97.8 304.2L100.3 304.4M100.8 304.5L103.2 304.7"/>
<path stroke="#a30000" d="M57.6 294.6L60.0 294.8M60.4 294.9L62.8 295.1M63.3 295.2L65.6 295.4M77.5 296.6L79.8 296.8M89.0 297.7L91.5 298.0M94.9 298.3L97.3 298.6M97.8 298.6L100.3 298.9M103.8 299.2L106.2 299.5M109.7 299.8L112.2 300.1M112.7 300.1L115.2 300.4M118.7 300.7L121.2 301.0"/>
<path stroke="#8c0000" d="M66.1 295.4L68.4 295.7M68.9 295.7L71.3 296.0M80.4 296.9L82.7 297.1M83.2 297.2L85.6 297.4M106.7 299.5L109.2 299.8"/>
<path stroke="#970000" d="M71.8 296.0L74.1 296.2M74.6 296.3L77.0 296.5M92.0 298.0L94.4 298.3M115.7 300.4L118.2 300.7"/>
<path stroke="#800000" d="M86.1 297.4L88.5 297.7M100.8 298.9L103.2 299.2"/>
<path stroke="#a30000" d="M57.5 289.1L59.8 289.3M60.3 289.4L62.6 289.6M63.1 289.6L65.4 289.9M71.6 290.5L74.0 290.7M80.3 291.3L82.7 291.5M86.1 291.9L88.5 292.1M100.8 293.3L103.3 293.5M112.8 294.4L115.3 294.7"/>
<path stroke="#970000" d="M65.9 289.9L68.3 290.1M68.8 290.2L71.1 290.4M77.4 291.0L79.8 291.2M83.2 291.6L85.6 291.8M89.0 292.1L91.4 292.4M91.9 292.4L94.4 292.7M94.9 292.7L97.3 292.9M97.8 293.0L100.3 293.2M106.8 293.9L109.2 294.1"/>
<path stroke="#8c0000" d="M74.5 290.7L76.9 291.0M103.8 293.6L106.2 293.8M115.8 294.7L118.3 295.0"/>
<path stroke="#800000" d="M109.8 294.1L112.3 294.4"/>
<path stroke="#af0000" d="M118.8 295.0L121.4 295.3"/>
<path stroke="#8c0000" stroke-width="3.1" d="M57.3 283.5L59.6 283.8M118.9 289.3L121.5 289.5"/>
<path stroke="#970000" stroke-width="3.1" d="M60.1 283.8L62.4 284.0M62.9 284.1L65.3 284.3M68.6 284.6L71.0 284.8M71.5 284.9L73.9 285.1M77.3 285.4L79.7 285.6M83.1 285.9L85.5 286.2M86.0 286.2L88.4 286.4M91.9 286.8L94.3 287.0M103.8 287.9L106.3 288.1M109.8 288.4L112.3 288.7M112.9 288.7L115.4 288.9"/>
<path stroke="#af0000" stroke-width="3.1" d="M65.8 284.3L68.1 284.6M97.8 287.3L100.3 287.5M100.8 287.6L103.3 287.8M106.8 288.1L109.3 288.4"/>
<path stroke="#a30000" stroke-width="3.1" d="M74.4 285.1L76.8 285.4M80.2 285.7L82.6 285.9M89.0 286.5L91.4 286.7M94.9 287.0L97.3 287.3M115.9 289.0L118.4 289.2"/>
<path stroke="#bf0000" d="M56.0 324.8L58.3 325.1M58.8 325.1L61.1 325.4M87.2 328.5L89.6 328.8M95.9 329.6L98.3 329.9M98.8 329.9L101.2 330.2M113.6 331.7L116.1 332.0"/>
<path stroke="#b30000" d="M61.6 325.5L63.9 325.7M67.2 326.1L69.5 326.4M70.0 326.5L72.4 326.7M75.7 327.1L78.1 327.4M78.6 327.5L80.9 327.8M84.3 328.2L86.7 328.5M104.7 330.6L107.1 330.9M107.7 331.0L110.1 331.3M110.6 331.3L113.1 331.6"/>
<path stroke="#9b0000" d="M64.4 325.8L66.7 326.1M116.6 332.1L119.1 332.4"/>
<path stroke="#cb0000" d="M72.9 326.8L75.2 327.1M93.0 329.2L95.4 329.5"/>
<path stroke="#a70000" d="M81.4 327.8L83.8 328.1M90.1 328.9L92.5 329.2M101.8 330.3L104.2 330.6"/>
<path stroke="#9b0000" d="M55.8 319.5L58.1 319.7M58.6 319.8L60.9 320.1M67.1 320.8L69.4 321.0M75.6 321.8L78.0 322.0M87.1 323.1L89.5 323.4M98.8 324.5L101.2 324.8M104.7 325.2L107.2 325.5M107.7 325.5L110.2 325.8"/>
<path stroke="#b30000" d="M61.4 320.1L63.8 320.4M92.9 323.8L95.4 324.1M95.9 324.1L98.3 324.4M113.7 326.2L116.2 326.5"/>
<path stroke="#900000" d="M64.3 320.4L66.6 320.7M78.5 322.1L80.8 322.4"/>
<path stroke="#a70000" d="M69.9 321.1L72.2 321.4M72.7 321.4L75.1 321.7M81.3 322.4L83.7 322.7M84.2 322.8L86.6 323.1M90.0 323.5L92.4 323.7M101.8 324.8L104.2 325.1M110.7 325.9L113.2 326.2M116.7 326.6L119.2 326.9"/>
<path stroke="#cb0000" d="M55.6 314.1L58.0 314.4M64.1 315.1L66.4 315.3M72.6 316.0L75.0 316.3"/>
<path stroke="#b30000" d="M58.5 314.4L60.8 314.7M61.3 314.7L63.6 315.0M66.9 315.4L69.3 315.6M69.8 315.7L72.1 316.0M78.4 316.7L80.7 316.9M87.1 317.7L89.5 317.9M95.9 318.7L98.3 318.9M98.8 319.0L101.3 319.3M113.8 320.7L116.3 321.0"/>
<path stroke="#bf0000" d="M75.5 316.3L77.9 316.6M81.3 317.0L83.6 317.3M90.0 318.0L92.4 318.3M92.9 318.3L95.3 318.6M101.8 319.3L104.2 319.6"/>
<path stroke="#a70000" d="M84.2 317.3L86.6 317.6M104.8 319.7L107.2 319.9M107.8 320.0L110.2 320.3M110.8 320.3L113.2 320.6"/>
<path stroke="#9b0000" d="M116.8 321.0L119.3 321.3"/>
<path stroke="#9b0000" d="M55.4 308.7L57.8 308.9M61.1 309.3L63.4 309.6M78.3 311.2L80.7 311.4M84.1 311.8L86.5 312.1M89.9 312.5L92.4 312.7M95.9 313.1L98.3 313.4M104.8 314.1L107.3 314.4M110.8 314.7L113.3 315.0"/>
<path stroke="#a70000" d="M58.3 309.0L60.6 309.2M66.8 309.9L69.1 310.2M69.6 310.2L72.0 310.5M72.5 310.6L74.9 310.8M87.0 312.1L89.4 312.4M92.9 312.8L95.3 313.1M101.8 313.8L104.3 314.0M107.8 314.4L110.3 314.7M113.8 315.1L116.3 315.4M116.9 315.4L119.4 315.7"/>
<path stroke="#b30000" d="M63.9 309.6L66.3 309.9M75.4 310.9L77.8 311.1M98.8 313.4L101.3 313.7"/>
<path stroke="#900000" d="M81.2 311.5L83.6 311.8"/>
<path stroke="#a70000" d="M55.2 303.2L57.6 303.5M60.9 303.8L63.3 304.1M81.1 306.0L83.5 306.2M87.0 306.6L89.4 306.8M101.8 308.2L104.3 308.4M104.8 308.5L107.3 308.7"/>
<path stroke="#b30000" d="M58.1 303.5L60.4 303.8M69.5 304.7L71.9 305.0M72.4 305.0L74.8 305.3M84.0 306.3L86.4 306.5M89.9 306.9L92.3 307.1M92.9 307.2L95.3 307.5M95.8 307.5L98.3 307.8M98.8 307.8L101.3 308.1M110.9 309.1L113.4 309.4M113.9 309.4L116.4 309.7"/>
<path stroke="#bf0000" d="M63.8 304.1L66.1 304.4M66.6 304.4L69.0 304.7M75.3 305.3L77.7 305.6M78.2 305.6L80.6 305.9M117.0 309.8L119.5 310.0"/>
<path stroke="#cb0000" d="M107.8 308.8L110.3 309.1"/>
<path stroke="#b30000" d="M55.0 297.7L57.4 297.9M57.9 298.0L60.2 298.2M60.7 298.3L63.1 298.5M69.4 299.2L71.7 299.4M78.1 300.1L80.5 300.3M83.9 300.7L86.4 300.9M95.8 301.9L98.3 302.1M98.8 302.2L101.3 302.4M104.9 302.8L107.4 303.0M110.9 303.4L113.4 303.7M114.0 303.7L116.5 304.0"/>
<path stroke="#bf0000" d="M63.6 298.6L66.0 298.8M66.5 298.9L68.8 299.1M117.1 304.0L119.6 304.3"/>
<path stroke="#a70000" d="M72.3 299.5L74.6 299.7M81.0 300.4L83.4 300.6M86.9 301.0L89.3 301.2M89.9 301.3L92.3 301.5M92.8 301.6L95.3 301.8M101.8 302.5L104.3 302.7M107.9 303.1L110.4 303.4"/>
<path stroke="#9b0000" d="M75.2 299.8L77.6 300.0"/>
<path stroke="#b30000" d="M54.8 292.1L57.2 292.4M57.7 292.4L60.1 292.6M60.6 292.7L62.9 292.9M63.4 293.0L65.8 293.2M72.1 293.8L74.5 294.1M75.0 294.1L77.5 294.4M86.8 295.3L89.3 295.5M95.8 296.2L98.3 296.4M114.1 298.0L116.6 298.2M117.1 298.3L119.7 298.5"/>
<path stroke="#bf0000" d="M66.3 293.3L68.7 293.5M69.2 293.5L71.6 293.8M80.9 294.7L83.4 294.9M89.8 295.6L92.3 295.8M92.8 295.9L95.3 296.1M98.8 296.5L101.3 296.7M101.8 296.8L104.3 297.0M104.9 297.1L107.4 297.3"/>
<path stroke="#a70000" d="M78.0 294.4L80.4 294.6M83.9 295.0L86.3 295.2M107.9 297.4L110.5 297.6"/>
<path stroke="#cc0a00" d="M111.0 297.7L113.5 297.9"/>
<path stroke="#900000" stroke-width="3.1" d="M54.6 286.5L57.0 286.7M63.3 287.3L65.7 287.6M72.0 288.2L74.4 288.4M77.9 288.7L80.3 288.9M95.8 290.4L98.3 290.6M98.8 290.7L101.3 290.9M108.0 291.6L110.5 291.8M114.1 292.1L116.7 292.4M117.2 292.4L119.8 292.7"/>
<path stroke="#9b0000" stroke-width="3.1" d="M57.5 286.8L59.9 287.0M60.4 287.1L62.8 287.3M69.1 287.9L71.5 288.1M74.9 288.4L77.4 288.7M80.8 289.0L83.3 289.2M83.8 289.3L86.3 289.5M86.8 289.6L89.3 289.8M89.8 289.8L92.3 290.1M104.9 291.3L107.4 291.5"/>
<path stroke="#b30000" stroke-width="3.1" d="M66.2 287.6L68.6 287.8"/>
<path stroke="#a70000" stroke-width="3.1" d="M92.8 290.1L95.3 290.4M101.9 291.0L104.4 291.2M111.1 291.9L113.6 292.1"/>
<path stroke="#cb0000" d="M53.4 328.3L55.8 328.6M96.8 333.7L99.3 334.0"/>
<path stroke="#bf0000" d="M56.3 328.7L58.6 329.0M59.1 329.0L61.4 329.3M61.9 329.4L64.3 329.7M67.6 330.1L70.0 330.4M93.9 333.3L96.3 333.6M99.8 334.0L102.3 334.3M108.8 335.1L111.3 335.4"/>
<path stroke="#b30000" d="M64.8 329.7L67.1 330.0M82.1 331.9L84.5 332.2M88.0 332.6L90.4 332.9"/>
<path stroke="#a70000" d="M70.5 330.4L72.9 330.7M73.4 330.8L75.8 331.1M76.3 331.1L78.7 331.4M79.2 331.5L81.6 331.8M85.0 332.2L87.4 332.5M102.8 334.4L105.3 334.7M105.8 334.8L108.3 335.1M111.9 335.5L114.4 335.8M114.9 335.9L117.4 336.2"/>
<path stroke="#9b0000" d="M90.9 332.9L93.3 333.2"/>
<path stroke="#a70000" d="M53.2 323.0L55.6 323.2M58.9 323.6L61.2 323.9M64.6 324.3L67.0 324.6M79.1 326.0L81.5 326.3M87.9 327.1L90.3 327.4M93.8 327.8L96.3 328.1M96.8 328.2L99.3 328.4M111.9 330.0L114.4 330.3"/>
<path stroke="#9b0000" d="M56.1 323.3L58.4 323.6M67.5 324.7L69.9 324.9M70.4 325.0L72.8 325.3M85.0 326.7L87.4 327.0M102.8 328.9L105.3 329.2M105.8 329.2L108.3 329.5"/>
<path stroke="#b30000" d="M61.7 324.0L64.1 324.3M73.3 325.3L75.7 325.6M82.0 326.4L84.4 326.7M90.9 327.4L93.3 327.7M99.8 328.5L102.3 328.8"/>
<path stroke="#bf0000" d="M76.2 325.7L78.6 326.0M108.9 329.6L111.4 329.9M115.0 330.3L117.5 330.6"/>
<path stroke="#840000" d="M53.0 317.5L55.4 317.8M73.1 319.8L75.5 320.1M81.9 320.9L84.4 321.1M108.9 324.0L111.4 324.3"/>
<path stroke="#900000" d="M55.9 317.9L58.2 318.1M58.7 318.2L61.1 318.5M102.8 323.3L105.3 323.6M105.9 323.6L108.4 323.9"/>
<path stroke="#9b0000" d="M61.6 318.5L63.9 318.8M67.3 319.2L69.7 319.5M70.2 319.5L72.6 319.8M76.1 320.2L78.5 320.5M90.8 321.9L93.3 322.2M93.8 322.2L96.3 322.5M112.0 324.3L114.5 324.6"/>
<path stroke="#a70000" d="M64.4 318.8L66.8 319.1M87.9 321.5L90.3 321.8M96.8 322.6L99.3 322.9M99.8 322.9L102.3 323.2M115.1 324.7L117.6 325.0"/>
<path stroke="#b30000" d="M79.0 320.5L81.4 320.8M84.9 321.2L87.3 321.5"/>
<path stroke="#bf0000" d="M52.8 312.0L55.1 312.3M64.3 313.3L66.7 313.6M90.8 316.3L93.3 316.6"/>
<path stroke="#b30000" d="M55.7 312.4L58.0 312.6M61.4 313.0L63.8 313.3M70.1 314.0L72.5 314.2M96.8 317.0L99.3 317.2M105.9 318.0L108.4 318.3"/>
<path stroke="#a70000" d="M58.5 312.7L60.9 312.9M67.2 313.6L69.6 313.9M76.0 314.6L78.4 314.9M78.9 315.0L81.3 315.2M84.8 315.6L87.3 315.9M99.8 317.3L102.3 317.6M109.0 318.3L111.5 318.6M112.1 318.7L114.6 319.0M115.1 319.0L117.7 319.3"/>
<path stroke="#cb0000" d="M73.0 314.3L75.4 314.6"/>
<path stroke="#900000" d="M81.9 315.3L84.3 315.6"/>
<path stroke="#9b0000" d="M87.8 316.0L90.3 316.2M93.8 316.6L96.3 316.9M102.9 317.6L105.4 317.9"/>
<path stroke="#a70000" d="M52.6 306.5L54.9 306.8M67.0 308.1L69.4 308.3M75.8 309.0L78.3 309.3M93.8 311.0L96.3 311.2M112.1 312.9L114.7 313.2"/>
<path stroke="#900000" d="M55.4 306.8L57.8 307.1"/>
<path stroke="#b30000" d="M58.3 307.1L60.7 307.4M61.2 307.4L63.6 307.7M78.8 309.3L81.2 309.6M81.8 309.7L84.2 309.9M87.7 310.3L90.2 310.6M115.2 313.3L117.8 313.6"/>
<path stroke="#9b0000" d="M64.1 307.7L66.5 308.0M70.0 308.4L72.4 308.6M84.8 310.0L87.2 310.2M90.8 310.6L93.2 310.9M106.0 312.3L108.5 312.5M109.0 312.6L111.6 312.9"/>
<path stroke="#bf0000" d="M72.9 308.7L75.3 309.0M96.8 311.3L99.3 311.6"/>
<path stroke="#840000" d="M99.8 311.6L102.4 311.9M102.9 311.9L105.4 312.2"/>
<path stroke="#bf0000" d="M52.4 300.9L54.7 301.2M61.0 301.8L63.4 302.1M66.9 302.4L69.3 302.7M96.8 305.6L99.3 305.8M109.1 306.8L111.6 307.1M115.3 307.5L117.9 307.8"/>
<path stroke="#b30000" d="M55.2 301.2L57.6 301.5M69.8 302.7L72.2 303.0M81.7 304.0L84.2 304.2M87.7 304.6L90.2 304.9M93.7 305.2L96.3 305.5M99.8 305.9L102.4 306.1M102.9 306.2L105.4 306.5M106.0 306.5L108.5 306.8"/>
<path stroke="#a70000" d="M58.1 301.5L60.5 301.8M64.0 302.1L66.4 302.4M75.7 303.3L78.2 303.6M78.7 303.7L81.2 303.9M90.7 304.9L93.2 305.2"/>
<path stroke="#9b0000" d="M72.8 303.0L75.2 303.3M84.7 304.3L87.2 304.5"/>
<path stroke="#cb0000" d="M112.2 307.2L114.8 307.4"/>
<path stroke="#a70000" d="M52.1 295.3L54.5 295.5M55.0 295.6L57.4 295.8M75.6 297.6L78.1 297.9M84.6 298.5L87.1 298.8"/>
<path stroke="#900000" d="M57.9 295.8L60.3 296.1M60.9 296.1L63.3 296.4M66.7 296.7L69.2 297.0M69.7 297.0L72.1 297.3M72.6 297.3L75.1 297.6M99.8 300.1L102.4 300.3M109.1 301.0L111.7 301.3M115.4 301.6L118.0 301.9"/>
<path stroke="#840000" d="M63.8 296.4L66.2 296.7M106.0 300.7L108.6 301.0"/>
<path stroke="#780000" d="M78.6 297.9L81.1 298.2"/>
<path stroke="#b30000" d="M81.6 298.2L84.1 298.5"/>
<path stroke="#9b0000" d="M87.6 298.8L90.1 299.1M90.7 299.1L93.2 299.4M93.7 299.5L96.2 299.7M96.8 299.8L99.3 300.0M102.9 300.4L105.5 300.6M112.3 301.3L114.8 301.6"/>
<path stroke="#900000" stroke-width="3.1" d="M51.9 289.6L54.3 289.8M60.7 290.4L63.1 290.6M87.6 293.0L90.1 293.3"/>
<path stroke="#9b0000" stroke-width="3.1" d="M54.8 289.8L57.2 290.1M66.6 291.0L69.0 291.2M69.5 291.3L72.0 291.5M72.5 291.6L75.0 291.8M75.5 291.8L78.0 292.1M78.5 292.1L81.0 292.4M81.5 292.4L84.0 292.7M90.6 293.3L93.2 293.6M93.7 293.6L96.2 293.9M99.9 294.2L102.4 294.5M103.0 294.5L105.5 294.8M109.2 295.1L111.8 295.4M112.3 295.4L114.9 295.7"/>
<path stroke="#b30000" stroke-width="3.1" d="M57.7 290.1L60.2 290.4M84.5 292.7L87.0 293.0"/>
<path stroke="#a70000" stroke-width="3.1" d="M63.6 290.7L66.0 290.9M96.8 293.9L99.3 294.2M106.1 294.8L108.6 295.1"/>
<path stroke="#840000" stroke-width="3.1" d="M115.5 295.7L118.1 296.0"/>
<path stroke="#780000" d="M50.7 332.0L53.1 332.3M53.6 332.4L56.0 332.7M62.2 333.5L64.6 333.8M65.1 333.8L67.5 334.1M85.8 336.4L88.2 336.7M97.8 337.9L100.3 338.2M100.8 338.3L103.4 338.6M103.9 338.7L106.4 339.0M110.0 339.4L112.6 339.8"/>
<path stroke="#660000" d="M56.5 332.7L58.8 333.0"/>
<path stroke="#6f0000" d="M59.4 333.1L61.7 333.4M79.8 335.7L82.3 336.0M82.8 336.0L85.2 336.3M88.8 336.8L91.2 337.1M91.8 337.2L94.2 337.5"/>
<path stroke="#810000" d="M68.1 334.2L70.5 334.5M71.0 334.6L73.4 334.9M73.9 334.9L76.3 335.2M76.9 335.3L79.3 335.6M94.8 337.5L97.3 337.8M107.0 339.1L109.5 339.4"/>
<path stroke="#8b0000" d="M113.1 339.8L115.7 340.2"/>
<path stroke="#810000" d="M50.5 326.6L52.9 326.8M53.4 326.9L55.8 327.2M56.3 327.3L58.7 327.6M59.2 327.6L61.6 327.9M62.1 328.0L64.5 328.3M67.9 328.7L70.3 329.0M70.8 329.0L73.3 329.3M79.7 330.1L82.2 330.4M94.8 331.9L97.3 332.3M103.9 333.1L106.5 333.4"/>
<path stroke="#8b0000" d="M65.0 328.3L67.4 328.6M73.8 329.4L76.2 329.7M76.8 329.8L79.2 330.1M85.7 330.8L88.2 331.1M97.8 332.3L100.3 332.6M107.0 333.4L109.5 333.7"/>
<path stroke="#780000" d="M82.7 330.5L85.2 330.8M88.7 331.2L91.2 331.5M91.7 331.6L94.2 331.9M113.2 334.2L115.8 334.5"/>
<path stroke="#9d0000" d="M100.9 332.7L103.4 333.0"/>
<path stroke="#940000" d="M110.1 333.8L112.6 334.1"/>
<path stroke="#780000" d="M50.3 321.1L52.7 321.3M59.0 322.1L61.4 322.4M61.9 322.4L64.3 322.7M64.8 322.8L67.2 323.1M88.7 325.6L91.2 325.9M91.7 325.9L94.2 326.2M107.0 327.8L109.6 328.1M113.3 328.5L115.8 328.8"/>
<path stroke="#810000" d="M53.2 321.4L55.6 321.7M70.7 323.5L73.2 323.8M85.6 325.2L88.1 325.5M94.7 326.3L97.3 326.6M97.8 326.7L100.3 327.0M110.1 328.1L112.7 328.4"/>
<path stroke="#6f0000" d="M56.1 321.7L58.5 322.0M67.8 323.1L70.2 323.4M73.7 323.8L76.1 324.1M76.6 324.2L79.1 324.5M79.6 324.5L82.1 324.8M82.6 324.9L85.1 325.2"/>
<path stroke="#660000" d="M100.9 327.0L103.4 327.3M103.9 327.4L106.5 327.7"/>
<path stroke="#8b0000" d="M50.1 315.5L52.4 315.8M53.0 315.8L55.3 316.1M55.9 316.2L58.3 316.4M61.7 316.8L64.1 317.1M85.6 319.6L88.1 319.8M88.6 319.9L91.1 320.2M91.7 320.3L94.2 320.5M94.7 320.6L97.3 320.9M97.8 321.0L100.3 321.2M110.2 322.4L112.8 322.7M113.3 322.7L115.9 323.0"/>
<path stroke="#780000" d="M58.8 316.5L61.2 316.8M67.6 317.5L70.1 317.8M73.6 318.2L76.0 318.5M76.5 318.5L79.0 318.8M100.9 321.3L103.4 321.6"/>
<path stroke="#810000" d="M64.7 317.2L67.1 317.4M79.5 318.9L82.0 319.2M82.6 319.2L85.0 319.5M104.0 321.7L106.5 322.0"/>
<path stroke="#6f0000" d="M70.6 317.8L73.0 318.1"/>
<path stroke="#660000" d="M107.1 322.0L109.7 322.3"/>
<path stroke="#6f0000" d="M49.8 309.9L52.2 310.1M58.6 310.9L61.0 311.1M67.5 311.8L69.9 312.1M73.4 312.5L75.9 312.8M82.5 313.5L85.0 313.8M88.6 314.2L91.1 314.5M104.0 315.9L106.6 316.2M113.4 316.9L116.0 317.2"/>
<path stroke="#810000" d="M52.7 310.2L55.1 310.5M76.4 312.8L78.9 313.1M85.5 313.8L88.0 314.1M91.6 314.5L94.2 314.8M97.8 315.2L100.3 315.5M110.3 316.6L112.9 316.9"/>
<path stroke="#780000" d="M55.7 310.5L58.1 310.8M64.5 311.5L66.9 311.8M70.4 312.2L72.9 312.4M100.9 315.5L103.5 315.8M107.1 316.2L109.7 316.5"/>
<path stroke="#940000" d="M61.5 311.2L64.0 311.4"/>
<path stroke="#8b0000" d="M79.4 313.2L81.9 313.4M94.7 314.9L97.2 315.1"/>
<path stroke="#810000" d="M49.6 304.2L52.0 304.5M61.3 305.5L63.8 305.7M73.3 306.8L75.8 307.0M88.5 308.4L91.1 308.6M91.6 308.7L94.1 309.0"/>
<path stroke="#8b0000" d="M52.5 304.5L54.9 304.8M58.4 305.2L60.8 305.4M67.3 306.1L69.8 306.4M70.3 306.4L72.8 306.7M79.4 307.4L81.9 307.7M82.4 307.7L84.9 308.0M100.9 309.7L103.5 310.0M104.0 310.0L106.6 310.3M113.5 311.0L116.1 311.3"/>
<path stroke="#940000" d="M55.4 304.8L57.9 305.1M64.3 305.8L66.8 306.1M76.3 307.1L78.8 307.3M85.4 308.1L88.0 308.3M94.7 309.0L97.2 309.3M97.8 309.4L100.4 309.6"/>
<path stroke="#9d0000" d="M107.2 310.4L109.8 310.7M110.3 310.7L112.9 311.0"/>
<path stroke="#8b0000" d="M49.3 298.5L51.8 298.7M61.2 299.7L63.6 300.0M94.7 303.2L97.2 303.4"/>
<path stroke="#780000" d="M52.3 298.8L54.7 299.0M55.2 299.1L57.7 299.3M58.2 299.4L60.6 299.7M67.1 300.3L69.6 300.6M76.2 301.3L78.7 301.5M79.3 301.6L81.8 301.8M88.5 302.5L91.0 302.8M91.6 302.8L94.1 303.1M104.1 304.1L106.7 304.4M110.4 304.8L113.0 305.1"/>
<path stroke="#810000" d="M64.2 300.0L66.6 300.3M70.2 300.6L72.6 300.9M73.2 300.9L75.7 301.2M82.3 301.9L84.8 302.2M97.8 303.5L100.4 303.8M100.9 303.8L103.5 304.1M107.2 304.5L109.8 304.7M113.6 305.1L116.2 305.4"/>
<path stroke="#6f0000" d="M85.4 302.2L87.9 302.5"/>
<path stroke="#940000" stroke-width="3.1" d="M49.1 292.7L51.5 293.0M52.1 293.0L54.5 293.2M58.0 293.6L60.5 293.8M67.0 294.5L69.5 294.7M73.1 295.1L75.6 295.3M82.2 296.0L84.8 296.3M97.8 297.5L100.4 297.8M100.9 297.9L103.5 298.1M107.3 298.5L109.9 298.7M110.4 298.8L113.1 299.1"/>
<path stroke="#810000" stroke-width="3.1" d="M55.0 293.3L57.5 293.5M64.0 294.2L66.5 294.4M70.0 294.8L72.5 295.0M76.1 295.4L78.6 295.6M104.1 298.2L106.7 298.4"/>
<path stroke="#780000" stroke-width="3.1" d="M61.0 293.9L63.5 294.1"/>
<path stroke="#8b0000" stroke-width="3.1" d="M79.2 295.7L81.7 295.9M88.4 296.6L91.0 296.9M91.5 296.9L94.1 297.2M113.6 299.1L116.3 299.4"/>
<path stroke="#9d0000" stroke-width="3.1" d="M85.3 296.3L87.9 296.6M94.6 297.2L97.2 297.5"/>
<path stroke="#960000" d="M48.0 335.8L50.4 336.1M53.8 336.6L56.2 336.9M74.5 339.2L76.9 339.5"/>
<path stroke="#780000" d="M50.9 336.2L53.3 336.5M56.7 336.9L59.1 337.2M59.6 337.3L62.1 337.6M65.5 338.1L68.0 338.4M68.5 338.4L71.0 338.8M71.5 338.8L73.9 339.1M77.5 339.6L80.0 339.9M83.5 340.4L86.0 340.7M105.0 343.1L107.6 343.4M111.3 343.9L113.9 344.3"/>
<path stroke="#690000" d="M62.6 337.7L65.0 338.0M80.5 340.0L83.0 340.3M86.5 340.7L89.1 341.1M92.7 341.5L95.2 341.9M98.8 342.3L101.4 342.6M101.9 342.7L104.5 343.0"/>
<path stroke="#5b0000" d="M89.6 341.1L92.1 341.5"/>
<path stroke="#870000" d="M95.7 341.9L98.3 342.3M108.2 343.5L110.7 343.8"/>
<path stroke="#d10000" d="M47.7 330.3L50.1 330.6M62.4 332.1L64.8 332.4M68.4 332.8L70.8 333.2M80.4 334.3L82.9 334.7"/>
<path stroke="#c20000" d="M50.6 330.6L53.0 330.9M53.6 331.0L56.0 331.3M71.3 333.2L73.8 333.5M74.3 333.6L76.8 333.9M77.4 334.0L79.9 334.3M89.6 335.5L92.1 335.8M98.8 336.6L101.4 337.0M101.9 337.0L104.5 337.3M105.1 337.4L107.6 337.7M111.4 338.2L114.0 338.5"/>
<path stroke="#e00000" d="M56.5 331.4L58.9 331.7"/>
<path stroke="#b40000" d="M59.4 331.7L61.9 332.0M65.4 332.5L67.8 332.8M86.5 335.1L89.0 335.4M92.6 335.9L95.2 336.2M95.7 336.3L98.3 336.6"/>
<path stroke="#a50000" d="M83.4 334.7L85.9 335.0M108.2 337.8L110.8 338.1"/>
<path stroke="#c20000" d="M47.5 324.7L49.9 325.0M92.6 330.2L95.2 330.5M98.8 330.9L101.4 331.2"/>
<path stroke="#d10000" d="M50.4 325.1L52.8 325.3M53.3 325.4L55.8 325.7M56.3 325.8L58.7 326.1M59.2 326.1L61.7 326.4M62.2 326.5L64.7 326.8M65.2 326.8L67.7 327.1M71.2 327.6L73.7 327.9M74.2 327.9L76.7 328.2M77.3 328.3L79.8 328.6M80.3 328.7L82.8 329.0M89.5 329.8L92.1 330.1M102.0 331.3L104.5 331.6M108.2 332.0L110.9 332.4"/>
<path stroke="#e00000" d="M68.2 327.2L70.7 327.5M83.4 329.0L85.9 329.3M86.4 329.4L89.0 329.7M95.7 330.5L98.3 330.8M105.1 331.7L107.7 332.0M111.4 332.4L114.0 332.7"/>
<path stroke="#b40000" d="M47.2 319.1L49.6 319.4M98.8 325.1L101.4 325.4"/>
<path stroke="#d10000" d="M50.2 319.4L52.6 319.7M53.1 319.8L55.6 320.0M62.0 320.8L64.5 321.1M65.0 321.2L67.5 321.4M74.1 322.2L76.6 322.5M80.2 322.9L82.7 323.2M83.3 323.3L85.8 323.6M95.7 324.7L98.3 325.0"/>
<path stroke="#e00000" d="M56.1 320.1L58.5 320.4M111.5 326.6L114.1 326.9"/>
<path stroke="#c20000" d="M59.1 320.5L61.5 320.7M68.0 321.5L70.5 321.8M71.1 321.9L73.6 322.2M77.2 322.6L79.7 322.9M86.4 323.6L88.9 323.9M89.5 324.0L92.0 324.3M92.6 324.4L95.1 324.7M102.0 325.5L104.6 325.8M105.1 325.8L107.7 326.2"/>
<path stroke="#a50000" d="M108.3 326.2L110.9 326.5"/>
<path stroke="#c20000" d="M47.0 313.4L49.4 313.7M49.9 313.7L52.4 314.0M55.9 314.4L58.3 314.7M58.9 314.7L61.3 315.0M61.9 315.1L64.3 315.3M64.9 315.4L67.4 315.7M70.9 316.1L73.4 316.4M80.1 317.1L82.7 317.4M86.3 317.8L88.9 318.1M92.5 318.5L95.1 318.8M102.0 319.6L104.6 319.9"/>
<path stroke="#a50000" d="M52.9 314.1L55.3 314.3M67.9 315.8L70.4 316.0"/>
<path stroke="#b40000" d="M74.0 316.4L76.5 316.7M95.7 318.9L98.3 319.2M98.8 319.3L101.4 319.5M108.3 320.3L111.0 320.6M111.5 320.7L114.2 321.0"/>
<path stroke="#e00000" d="M77.0 316.8L79.6 317.1M89.4 318.2L92.0 318.5"/>
<path stroke="#d10000" d="M83.2 317.5L85.8 317.8M105.2 320.0L107.8 320.3"/>
<path stroke="#ef0000" d="M46.7 307.6L49.2 307.9M64.7 309.6L67.2 309.9M67.7 309.9L70.3 310.2M76.9 310.9L79.5 311.2M83.1 311.6L85.7 311.9M86.2 312.0L88.8 312.2"/>
<path stroke="#e00000" d="M49.7 308.0L52.1 308.2M55.7 308.6L58.1 308.9M61.7 309.3L64.2 309.5M70.8 310.3L73.3 310.5M80.0 311.3L82.6 311.6M89.4 312.3L92.0 312.6M92.5 312.6L95.1 312.9M95.7 313.0L98.3 313.3M105.2 314.0L107.8 314.3M108.4 314.4L111.0 314.7M111.6 314.7L114.3 315.0"/>
<path stroke="#d10000" d="M52.7 308.3L55.1 308.6M58.7 308.9L61.1 309.2M98.8 313.3L101.4 313.6"/>
<path stroke="#ff0d00" d="M73.9 310.6L76.4 310.9"/>
<path stroke="#fe0000" d="M102.0 313.7L104.6 314.0"/>
<path stroke="#e00000" d="M46.5 301.8L48.9 302.1"/>
<path stroke="#b40000" d="M49.4 302.1L51.9 302.4M55.4 302.8L57.9 303.0M64.5 303.7L67.0 304.0M73.7 304.7L76.3 305.0M83.0 305.7L85.6 306.0M95.6 307.0L98.3 307.3M108.5 308.4L111.1 308.7"/>
<path stroke="#a50000" d="M52.4 302.5L54.9 302.7"/>
<path stroke="#c20000" d="M58.5 303.1L61.0 303.4M70.7 304.4L73.2 304.7M76.8 305.0L79.4 305.3M79.9 305.4L82.5 305.6M86.2 306.0L88.8 306.3M98.8 307.4L101.5 307.6M102.0 307.7L104.7 308.0M105.2 308.0L107.9 308.3"/>
<path stroke="#d10000" d="M61.5 303.4L64.0 303.7M67.6 304.1L70.1 304.3M89.3 306.4L91.9 306.6M92.5 306.7L95.1 307.0M111.7 308.7L114.4 309.0"/>
<path stroke="#ff0d00" stroke-width="3.1" d="M46.2 296.0L48.7 296.2M76.7 299.1L79.3 299.3M79.8 299.4L82.4 299.7"/>
<path stroke="#ff2a00" stroke-width="3.1" d="M49.2 296.3L51.7 296.5"/>
<path stroke="#690000" stroke-width="3.1" d="M52.2 296.6L54.7 296.8"/>
<path stroke="#fe0000" stroke-width="3.1" d="M55.2 296.9L57.7 297.1"/>
<path stroke="#e00000" stroke-width="3.1" d="M58.3 297.2L60.8 297.5"/>
<path stroke="#ff1b00" stroke-width="3.1" d="M61.3 297.5L63.8 297.8M64.4 297.8L66.9 298.1M105.3 302.0L107.9 302.2"/>
<path stroke="#ff3800" stroke-width="3.1" d="M67.4 298.1L70.0 298.4M89.3 300.4L91.9 300.6"/>
<path stroke="#d10000" stroke-width="3.1" d="M70.5 298.4L73.1 298.7"/>
<path stroke="#c20000" stroke-width="3.1" d="M73.6 298.8L76.2 299.0"/>
<path stroke="#ff7200" stroke-width="3.1" d="M83.0 299.7L85.6 300.0"/>
<path stroke="#ef0000" stroke-width="3.1" d="M86.1 300.0L88.7 300.3M92.4 300.7L95.1 300.9M102.0 301.7L104.7 301.9"/>
<path stroke="#a50000" stroke-width="3.1" d="M95.6 301.0L98.3 301.3"/>
<path stroke="#960000" stroke-width="3.1" d="M98.8 301.3L101.5 301.6"/>
<path stroke="#ff6300" stroke-width="3.1" d="M108.5 302.3L111.2 302.6"/>
<path stroke="#ff8000" stroke-width="3.1" d="M111.8 302.6L114.4 302.9"/>
</g>
<polygon points="93.8,272.5 95.0,316.0 77.5,339.5 78.3,298.5" fill="#6c6c6c" fill-opacity="0.48"/>
<polygon points="195.5,345.3 274.3,354.7 290.2,322.8 293.2,270.6 217.0,263.8 193.6,290.2" fill="#f5f5f5" stroke="#eaeaea" stroke-width="0.5"/>
<polyline points="193.6,290.2 195.5,345.3 274.3,354.7 290.2,322.8" fill="none" stroke="#5a5a5a" stroke-width="0.7"/>
<g stroke-linecap="round" fill="none" stroke-width="2.95">
<path stroke="#9e2c00" d="M223.7 311.6L225.9 311.8M226.3 311.9L228.5 312.1M231.6 312.5L233.8 312.7M245.0 314.0L247.2 314.2M261.4 315.8L263.7 316.0M269.7 316.7L272.0 316.9M272.5 317.0L274.8 317.3"/>
<path stroke="#9e3400" d="M229.0 312.2L231.2 312.4M247.7 314.3L250.0 314.5M253.2 314.9L255.4 315.1M255.9 315.2L258.2 315.4M275.3 317.3L277.6 317.6M278.1 317.6L280.5 317.9"/>
<path stroke="#9e2300" d="M234.3 312.8L236.5 313.0M239.6 313.4L241.9 313.6M264.2 316.1L266.4 316.3"/>
<path stroke="#9e3d00" d="M237.0 313.1L239.2 313.3M258.6 315.5L260.9 315.7M266.9 316.4L269.2 316.6"/>
<path stroke="#9e4600" d="M242.3 313.7L244.5 313.9M250.4 314.6L252.7 314.8"/>
<path stroke="#9e5800" d="M281.0 317.9L283.3 318.2"/>
<path stroke="#9e3d00" d="M223.6 306.5L225.7 306.8M228.9 307.1L231.1 307.3M231.5 307.4L233.7 307.6M250.4 309.4L252.7 309.7M255.9 310.0L258.2 310.3M261.4 310.6L263.7 310.8M267.0 311.2L269.3 311.4M278.2 312.4L280.6 312.7"/>
<path stroke="#9e3400" d="M226.2 306.8L228.4 307.1M236.9 308.0L239.1 308.2M247.7 309.1L249.9 309.4M272.6 311.8L274.9 312.0M275.4 312.1L277.7 312.4"/>
<path stroke="#9e4600" d="M234.2 307.7L236.4 307.9M239.6 308.3L241.8 308.5M253.2 309.7L255.4 310.0"/>
<path stroke="#9e2300" d="M242.3 308.5L244.5 308.8M281.1 312.7L283.4 313.0"/>
<path stroke="#9e1a00" d="M245.0 308.8L247.2 309.1"/>
<path stroke="#9e2c00" d="M258.7 310.3L260.9 310.5M264.2 310.9L266.5 311.1M269.8 311.5L272.1 311.7"/>
<path stroke="#9e2300" d="M223.4 301.4L225.6 301.7M228.7 302.0L230.9 302.2M242.2 303.4L244.4 303.6M250.4 304.2L252.7 304.5M264.2 305.7L266.5 305.9M269.8 306.3L272.2 306.5M272.7 306.6L275.0 306.8M278.3 307.1L280.7 307.4"/>
<path stroke="#9e1100" d="M226.1 301.7L228.3 301.9"/>
<path stroke="#9e3400" d="M231.4 302.3L233.6 302.5M234.1 302.5L236.3 302.8M239.5 303.1L241.7 303.3M253.1 304.5L255.4 304.8M258.7 305.1L261.0 305.3M261.4 305.4L263.7 305.6"/>
<path stroke="#9e2c00" d="M236.8 302.8L239.0 303.1M244.9 303.7L247.2 303.9M247.6 304.0L249.9 304.2M267.0 306.0L269.3 306.2M281.2 307.4L283.5 307.7"/>
<path stroke="#9e3d00" d="M255.9 304.8L258.2 305.0M275.5 306.8L277.8 307.1"/>
<path stroke="#9e4f00" d="M223.3 296.3L225.5 296.5"/>
<path stroke="#9e3d00" d="M225.9 296.6L228.1 296.8M239.4 297.9L241.7 298.1M242.1 298.2L244.4 298.4M247.6 298.7L249.9 299.0M250.4 299.0L252.6 299.2M261.5 300.1L263.8 300.4M267.1 300.7L269.4 300.9M272.7 301.3L275.1 301.5M278.4 301.8L280.8 302.1"/>
<path stroke="#9e4600" d="M228.6 296.8L230.8 297.0M236.7 297.6L238.9 297.9M258.7 299.8L261.0 300.1M275.6 301.5L277.9 301.8"/>
<path stroke="#9e3400" d="M231.3 297.1L233.5 297.3M244.9 298.5L247.1 298.7M255.9 299.6L258.2 299.8M264.3 300.4L266.6 300.6"/>
<path stroke="#9e2c00" d="M234.0 297.4L236.2 297.6M253.1 299.3L255.4 299.5M269.9 301.0L272.2 301.2M281.3 302.1L283.7 302.4"/>
<path stroke="#9e4600" d="M223.1 291.1L225.3 291.3M236.6 292.4L238.9 292.6M255.9 294.3L258.2 294.5M275.7 296.2L278.0 296.4"/>
<path stroke="#9e3400" d="M225.8 291.3L228.0 291.6M231.2 291.9L233.4 292.1M239.3 292.7L241.6 292.9M244.8 293.2L247.1 293.4M253.1 294.0L255.4 294.2M264.3 295.1L266.6 295.3M270.0 295.6L272.3 295.9"/>
<path stroke="#9e3d00" d="M228.5 291.6L230.7 291.8M247.6 293.5L249.8 293.7M250.3 293.7L252.6 294.0M261.5 294.8L263.8 295.0"/>
<path stroke="#9e2300" d="M233.9 292.1L236.1 292.4M267.1 295.4L269.5 295.6M272.8 295.9L275.2 296.1M281.4 296.8L283.8 297.0"/>
<path stroke="#9e2c00" d="M242.1 292.9L244.3 293.1M258.7 294.5L261.0 294.8M278.5 296.5L280.9 296.7"/>
<path stroke="#9e2300" d="M223.0 285.8L225.2 286.1M233.8 286.9L236.0 287.1M258.7 289.2L261.0 289.4M261.5 289.5L263.8 289.7M267.2 290.0L269.5 290.2M270.0 290.3L272.4 290.5"/>
<path stroke="#9e1a00" d="M225.7 286.1L227.9 286.3M228.4 286.3L230.6 286.6M236.5 287.1L238.8 287.3M244.8 287.9L247.0 288.1M247.5 288.1L249.8 288.4M250.3 288.4L252.6 288.6M253.1 288.7L255.4 288.9M272.9 290.5L275.2 290.7"/>
<path stroke="#9e2c00" d="M231.1 286.6L233.3 286.8M242.0 287.6L244.3 287.8M255.9 288.9L258.2 289.1M264.3 289.7L266.7 289.9M278.6 291.1L281.0 291.3M281.5 291.3L283.9 291.6"/>
<path stroke="#9e0800" d="M239.3 287.4L241.5 287.6"/>
<path stroke="#9e1100" d="M275.7 290.8L278.1 291.0"/>
<path stroke="#9e3400" d="M222.8 280.6L225.1 280.8M239.2 282.0L241.5 282.2M241.9 282.3L244.2 282.5M253.1 283.3L255.4 283.5"/>
<path stroke="#9e2c00" d="M225.5 280.8L227.8 281.0M247.5 282.8L249.8 283.0M255.9 283.5L258.2 283.7M261.5 284.1L263.9 284.3M264.4 284.3L266.7 284.5M270.1 284.8L272.4 285.0M281.6 285.9L284.0 286.1"/>
<path stroke="#9e3d00" d="M228.2 281.0L230.5 281.2M231.0 281.3L233.2 281.5M236.4 281.8L238.7 282.0M244.7 282.5L247.0 282.7M258.7 283.8L261.0 284.0M273.0 285.1L275.3 285.3M275.8 285.3L278.2 285.6"/>
<path stroke="#9e4f00" d="M233.7 281.5L235.9 281.7"/>
<path stroke="#9e4600" d="M250.3 283.0L252.6 283.2M278.7 285.6L281.1 285.8"/>
<path stroke="#9e2300" d="M267.2 284.6L269.6 284.8"/>
<path stroke="#6f0000" stroke-width="3.1" d="M222.7 275.2L224.9 275.4M225.4 275.5L227.6 275.6M228.1 275.7L230.4 275.9M230.8 275.9L233.1 276.1M233.6 276.2L235.9 276.4M236.3 276.4L238.6 276.6M239.1 276.6L241.4 276.8M241.9 276.9L244.2 277.1M244.7 277.1L247.0 277.3M247.4 277.4L249.8 277.6M250.2 277.6L252.6 277.8M253.1 277.9L255.4 278.1M255.9 278.1L258.2 278.3M258.7 278.3L261.1 278.6M261.6 278.6L263.9 278.8M264.4 278.8L266.8 279.0M267.3 279.1L269.6 279.3M270.1 279.3L272.5 279.5M273.0 279.6L275.4 279.8M275.9 279.8L278.3 280.0M278.8 280.1L281.2 280.3M281.7 280.3L284.2 280.6"/>
<path stroke="#cc5b00" d="M221.4 314.7L223.6 315.0M243.0 317.2L245.3 317.4M245.7 317.5L248.0 317.8M251.3 318.1L253.5 318.4"/>
<path stroke="#cc4400" d="M224.1 315.0L226.3 315.3M226.7 315.4L229.0 315.6M232.1 316.0L234.4 316.2M234.8 316.3L237.1 316.5M254.0 318.4L256.3 318.7M265.2 319.7L267.5 320.0"/>
<path stroke="#cc2d00" d="M229.4 315.7L231.7 315.9"/>
<path stroke="#cc6600" d="M237.5 316.6L239.8 316.8"/>
<path stroke="#cc4f00" d="M240.3 316.9L242.5 317.1M256.8 318.7L259.1 319.0M270.9 320.3L273.2 320.6M276.6 321.0L278.9 321.2M279.4 321.3L281.8 321.6"/>
<path stroke="#cc3800" d="M248.5 317.8L250.8 318.1M259.6 319.1L261.9 319.3M262.4 319.4L264.7 319.6M268.0 320.0L270.4 320.3M273.7 320.7L276.1 320.9"/>
<path stroke="#cc3800" d="M221.2 309.6L223.5 309.9M223.9 309.9L226.1 310.2M234.7 311.1L237.0 311.3M240.2 311.7L242.5 311.9M256.8 313.5L259.1 313.8M265.3 314.4L267.6 314.7"/>
<path stroke="#cc2d00" d="M226.6 310.2L228.8 310.5M229.3 310.5L231.5 310.8M232.0 310.8L234.3 311.1M237.5 311.4L239.7 311.6M248.5 312.6L250.7 312.9M251.2 312.9L253.5 313.2M254.0 313.2L256.3 313.5M262.4 314.1L264.8 314.4M273.8 315.4L276.2 315.6M276.7 315.7L279.0 316.0"/>
<path stroke="#cc4400" d="M242.9 312.0L245.2 312.3"/>
<path stroke="#cc1600" d="M245.7 312.3L248.0 312.6"/>
<path stroke="#cc2100" d="M259.6 313.8L261.9 314.1M270.9 315.1L273.3 315.3"/>
<path stroke="#cc4f00" d="M268.1 314.8L270.4 315.0"/>
<path stroke="#cc7200" d="M279.5 316.0L281.9 316.3"/>
<path stroke="#cc4400" d="M221.1 304.5L223.3 304.7M223.8 304.7L226.0 305.0M226.5 305.0L228.7 305.3M231.9 305.6L234.2 305.8M240.1 306.5L242.4 306.7M254.0 308.0L256.3 308.2M265.3 309.2L267.6 309.4M276.8 310.4L279.1 310.6"/>
<path stroke="#cc4f00" d="M229.2 305.3L231.4 305.6M237.4 306.2L239.6 306.4M242.9 306.8L245.2 307.0M245.6 307.1L247.9 307.3M248.4 307.4L250.7 307.6M259.6 308.5L262.0 308.8M262.5 308.8L264.8 309.1M273.9 310.1L276.3 310.3"/>
<path stroke="#cc3800" d="M234.6 305.9L236.9 306.1M268.2 309.5L270.5 309.7M271.0 309.8L273.4 310.0"/>
<path stroke="#cc5b00" d="M251.2 307.7L253.5 307.9"/>
<path stroke="#cc2d00" d="M256.8 308.3L259.1 308.5"/>
<path stroke="#cc2100" d="M279.7 310.7L282.0 310.9"/>
<path stroke="#cc2d00" d="M220.9 299.2L223.2 299.5M223.6 299.5L225.9 299.7M229.1 300.1L231.3 300.3M231.8 300.4L234.1 300.6M242.8 301.5L245.1 301.7M245.6 301.8L247.9 302.0M251.2 302.4L253.5 302.6M256.8 302.9L259.2 303.2M276.9 305.0L279.2 305.2"/>
<path stroke="#cc3800" d="M226.3 299.8L228.6 300.0M234.5 300.6L236.8 300.9M254.0 302.6L256.3 302.9M259.6 303.2L262.0 303.5M262.5 303.5L264.8 303.8M268.2 304.1L270.6 304.3M271.1 304.4L273.5 304.6"/>
<path stroke="#cc1600" d="M237.3 300.9L239.6 301.2M240.0 301.2L242.3 301.4"/>
<path stroke="#cc2100" d="M248.4 302.1L250.7 302.3M279.8 305.3L282.2 305.5"/>
<path stroke="#cc4f00" d="M265.3 303.8L267.7 304.0"/>
<path stroke="#cc4400" d="M274.0 304.7L276.3 304.9"/>
<path stroke="#cc3800" d="M220.8 294.0L223.0 294.2M226.2 294.5L228.5 294.7M231.7 295.1L234.0 295.3M237.2 295.6L239.5 295.8M248.3 296.7L250.7 296.9M254.0 297.3L256.3 297.5M265.4 298.4L267.8 298.6M276.9 299.6L279.4 299.8"/>
<path stroke="#cc2100" d="M223.5 294.3L225.7 294.5M242.8 296.2L245.1 296.4"/>
<path stroke="#cc4400" d="M228.9 294.8L231.2 295.0M245.5 296.4L247.9 296.7M262.5 298.1L264.9 298.4M268.3 298.7L270.6 298.9M271.1 299.0L273.5 299.2M274.0 299.3L276.4 299.5"/>
<path stroke="#cc4f00" d="M234.4 295.3L236.7 295.6M251.2 297.0L253.5 297.2M256.8 297.6L259.2 297.8"/>
<path stroke="#cc5b00" d="M240.0 295.9L242.3 296.1"/>
<path stroke="#cc2d00" d="M259.7 297.8L262.0 298.1M279.9 299.8L282.3 300.1"/>
<path stroke="#cc4400" d="M220.6 288.7L222.9 288.9M226.1 289.2L228.3 289.4M239.9 290.5L242.2 290.7M251.1 291.6L253.5 291.8M262.5 292.7L264.9 292.9M274.1 293.8L276.5 294.0M280.0 294.4L282.4 294.6"/>
<path stroke="#cc2d00" d="M223.3 288.9L225.6 289.1M231.6 289.7L233.8 289.9M234.3 290.0L236.6 290.2M271.2 293.5L273.6 293.7"/>
<path stroke="#cc4f00" d="M228.8 289.5L231.1 289.7M237.1 290.3L239.4 290.5M245.5 291.1L247.8 291.3M256.8 292.1L259.2 292.4M259.7 292.4L262.0 292.6M268.3 293.2L270.7 293.5"/>
<path stroke="#cc2100" d="M242.7 290.8L245.0 291.0"/>
<path stroke="#cc3800" d="M248.3 291.3L250.6 291.5M265.4 293.0L267.8 293.2M277.0 294.1L279.5 294.3"/>
<path stroke="#cc5b00" d="M254.0 291.9L256.3 292.1"/>
<path stroke="#cc2100" d="M220.4 283.3L222.7 283.5M228.7 284.1L231.0 284.3M265.5 287.5L267.9 287.7"/>
<path stroke="#cc3800" d="M223.2 283.6L225.4 283.8M231.5 284.3L233.7 284.5M234.2 284.6L236.5 284.8M239.8 285.1L242.1 285.3M256.8 286.7L259.2 286.9M268.4 287.7L270.8 288.0M280.1 288.8L282.5 289.0"/>
<path stroke="#cc1600" d="M225.9 283.8L228.2 284.0M254.0 286.4L256.3 286.6"/>
<path stroke="#cc4f00" d="M237.0 284.8L239.3 285.1"/>
<path stroke="#cc4400" d="M242.6 285.4L244.9 285.6"/>
<path stroke="#cc2d00" d="M245.4 285.6L247.8 285.8M248.3 285.9L250.6 286.1M251.1 286.1L253.5 286.4M259.7 286.9L262.1 287.2M262.6 287.2L265.0 287.4M271.3 288.0L273.7 288.2M274.2 288.3L276.6 288.5M277.1 288.5L279.6 288.8"/>
<path stroke="#cc4400" stroke-width="3.1" d="M220.3 277.9L222.5 278.1M223.0 278.2L225.3 278.4M251.1 280.6L253.4 280.9M253.9 280.9L256.3 281.1"/>
<path stroke="#cc2d00" stroke-width="3.1" d="M225.8 278.4L228.1 278.6M234.1 279.1L236.4 279.3M236.9 279.4L239.2 279.6M242.6 279.9L244.9 280.1M245.4 280.1L247.7 280.3M259.7 281.4L262.1 281.6M265.5 281.9L267.9 282.1M271.4 282.4L273.8 282.7M280.2 283.2L282.6 283.4"/>
<path stroke="#cc3800" stroke-width="3.1" d="M228.6 278.6L230.9 278.8M231.3 278.9L233.6 279.1M256.8 281.2L259.2 281.4M274.3 282.7L276.7 282.9"/>
<path stroke="#cc4f00" stroke-width="3.1" d="M239.7 279.6L242.1 279.8M277.2 283.0L279.7 283.2"/>
<path stroke="#cc2100" stroke-width="3.1" d="M248.2 280.4L250.6 280.6M268.4 282.2L270.8 282.4"/>
<path stroke="#cc6600" stroke-width="3.1" d="M262.6 281.7L265.0 281.9"/>
<path stroke="#d15d00" d="M219.0 318.0L221.3 318.2M229.9 319.2L232.2 319.5M260.6 322.8L263.0 323.1"/>
<path stroke="#d14600" d="M221.7 318.3L224.0 318.6M227.2 318.9L229.4 319.2M240.9 320.5L243.2 320.8M249.3 321.5L251.6 321.7M254.9 322.1L257.3 322.4M263.5 323.1L265.8 323.4M269.2 323.8L271.6 324.0M272.1 324.1L274.5 324.4M275.0 324.4L277.4 324.7"/>
<path stroke="#d13a00" d="M224.4 318.6L226.7 318.9M238.1 320.2L240.4 320.5M257.8 322.5L260.1 322.7M266.3 323.4L268.7 323.7"/>
<path stroke="#d12e00" d="M232.6 319.6L234.9 319.8M252.1 321.8L254.4 322.1M277.9 324.8L280.3 325.1"/>
<path stroke="#d15100" d="M235.4 319.9L237.7 320.1M243.7 320.8L246.0 321.1"/>
<path stroke="#d16900" d="M246.5 321.2L248.8 321.4"/>
<path stroke="#d12200" d="M218.9 312.8L221.1 313.1M232.5 314.3L234.8 314.6"/>
<path stroke="#d12e00" d="M221.6 313.1L223.8 313.4M224.3 313.4L226.5 313.7M227.0 313.7L229.3 314.0M249.3 316.2L251.6 316.5M275.1 319.1L277.5 319.4M278.0 319.4L280.4 319.7"/>
<path stroke="#d15100" d="M229.8 314.0L232.0 314.3"/>
<path stroke="#d13a00" d="M235.3 314.6L237.6 314.9M238.1 315.0L240.4 315.2M240.8 315.3L243.1 315.5M243.6 315.6L246.0 315.8M254.9 316.8L257.3 317.1M257.8 317.2L260.1 317.4M263.5 317.8L265.9 318.1M266.4 318.1L268.7 318.4M269.3 318.4L271.6 318.7"/>
<path stroke="#d14600" d="M246.4 315.9L248.8 316.2M252.1 316.5L254.4 316.8M260.6 317.5L263.0 317.7"/>
<path stroke="#d15d00" d="M272.2 318.8L274.5 319.0"/>
<path stroke="#d13a00" d="M218.7 307.6L220.9 307.8M229.7 308.8L231.9 309.0M235.2 309.4L237.5 309.6M260.6 312.1L263.0 312.4M275.1 313.7L277.6 314.0"/>
<path stroke="#d14600" d="M221.4 307.9L223.7 308.1M224.1 308.2L226.4 308.4M232.4 309.1L234.7 309.3M238.0 309.7L240.3 309.9M243.6 310.3L245.9 310.5M246.4 310.6L248.7 310.8M249.2 310.9L251.6 311.1M254.9 311.5L257.3 311.8M257.8 311.8L260.1 312.1M272.2 313.4L274.6 313.6"/>
<path stroke="#d12200" d="M226.9 308.5L229.2 308.7"/>
<path stroke="#d12e00" d="M240.8 310.0L243.1 310.2M252.1 311.2L254.4 311.4M263.5 312.4L265.9 312.7M266.4 312.7L268.8 313.0"/>
<path stroke="#d15100" d="M269.3 313.1L271.7 313.3"/>
<path stroke="#d17500" d="M278.1 314.0L280.5 314.3"/>
<path stroke="#d13a00" d="M218.5 302.3L220.8 302.5M257.8 306.4L260.2 306.7M266.5 307.3L268.9 307.6"/>
<path stroke="#d12200" d="M221.3 302.6L223.5 302.8M224.0 302.9L226.3 303.1M229.5 303.4L231.8 303.7M235.1 304.0L237.4 304.3M240.7 304.6L243.0 304.9M243.5 304.9L245.9 305.2M246.4 305.2L248.7 305.5M263.6 307.0L265.9 307.3"/>
<path stroke="#d15100" d="M226.8 303.2L229.0 303.4"/>
<path stroke="#d12e00" d="M232.3 303.7L234.6 304.0M252.0 305.8L254.4 306.1M254.9 306.1L257.3 306.4M275.2 308.2L277.7 308.5M278.2 308.6L280.6 308.8"/>
<path stroke="#d11600" d="M237.9 304.3L240.2 304.6M269.4 307.6L271.8 307.9"/>
<path stroke="#d14600" d="M249.2 305.5L251.5 305.8M260.7 306.7L263.0 307.0M272.3 307.9L274.7 308.2"/>
<path stroke="#d15d00" d="M218.3 297.0L220.6 297.2M221.1 297.2L223.4 297.5M229.4 298.1L231.7 298.3M269.4 302.1L271.9 302.4M275.3 302.7L277.8 303.0"/>
<path stroke="#d14600" d="M223.9 297.5L226.1 297.8M232.2 298.4L234.5 298.6M246.3 299.8L248.7 300.0M249.2 300.1L251.5 300.3M260.7 301.3L263.1 301.5M263.6 301.6L266.0 301.8M266.5 301.9L268.9 302.1"/>
<path stroke="#d16900" d="M226.6 297.8L228.9 298.0M254.9 300.7L257.3 300.9"/>
<path stroke="#d15100" d="M235.0 298.7L237.3 298.9M237.8 298.9L240.1 299.2M240.6 299.2L243.0 299.5M243.5 299.5L245.8 299.8M252.0 300.4L254.4 300.6M272.4 302.4L274.8 302.7M278.3 303.0L280.7 303.3"/>
<path stroke="#d12e00" d="M257.8 301.0L260.2 301.2"/>
<path stroke="#d15100" d="M218.2 291.6L220.4 291.8M240.6 293.8L242.9 294.0M254.9 295.2L257.3 295.4M257.8 295.5L260.2 295.7"/>
<path stroke="#d14600" d="M220.9 291.9L223.2 292.1M234.9 293.2L237.2 293.5M237.7 293.5L240.1 293.7M243.4 294.1L245.8 294.3M249.1 294.6L251.5 294.9M272.4 296.9L274.9 297.1M278.4 297.5L280.9 297.7"/>
<path stroke="#d13a00" d="M223.7 292.1L226.0 292.4M229.3 292.7L231.6 292.9M252.0 294.9L254.4 295.1M263.6 296.0L266.0 296.3"/>
<path stroke="#d15d00" d="M226.5 292.4L228.8 292.6M260.7 295.8L263.1 296.0M266.6 296.3L269.0 296.6M269.5 296.6L271.9 296.9"/>
<path stroke="#d12e00" d="M232.1 293.0L234.4 293.2M246.3 294.3L248.6 294.6M275.4 297.2L277.9 297.4"/>
<path stroke="#d12200" d="M218.0 286.2L220.3 286.4M237.6 288.0L240.0 288.2M240.5 288.3L242.8 288.5M249.1 289.1L251.5 289.3M252.0 289.4L254.4 289.6M254.9 289.6L257.3 289.9M263.7 290.5L266.1 290.7M269.6 291.0L272.0 291.3M272.5 291.3L275.0 291.5M275.5 291.6L278.0 291.8"/>
<path stroke="#d13a00" d="M220.8 286.4L223.1 286.6M223.5 286.7L225.9 286.9M226.3 287.0L228.7 287.2M229.2 287.2L231.5 287.4M232.0 287.5L234.3 287.7M243.3 288.6L245.7 288.8M246.2 288.8L248.6 289.0M278.5 291.9L281.0 292.1"/>
<path stroke="#d12e00" d="M234.8 287.7L237.1 288.0M260.7 290.2L263.1 290.4M266.6 290.7L269.0 291.0"/>
<path stroke="#d11600" d="M257.8 289.9L260.2 290.1"/>
<path stroke="#d13a00" stroke-width="3.1" d="M217.8 280.7L220.1 280.9M226.2 281.4L228.5 281.7M229.0 281.7L231.4 281.9M231.9 282.0L234.2 282.2M240.4 282.7L242.8 282.9M246.2 283.3L248.5 283.5M257.8 284.3L260.2 284.5M272.6 285.7L275.1 285.9"/>
<path stroke="#d15100" stroke-width="3.1" d="M220.6 280.9L222.9 281.1M243.3 283.0L245.7 283.2M269.6 285.4L272.1 285.6"/>
<path stroke="#d12200" stroke-width="3.1" d="M223.4 281.2L225.7 281.4M275.6 285.9L278.1 286.2"/>
<path stroke="#d12e00" stroke-width="3.1" d="M234.7 282.2L237.0 282.4M237.5 282.5L239.9 282.7M278.6 286.2L281.1 286.4"/>
<path stroke="#d14600" stroke-width="3.1" d="M249.1 283.5L251.4 283.7M252.0 283.8L254.4 284.0M260.7 284.6L263.2 284.8M266.6 285.1L269.1 285.3"/>
<path stroke="#d15d00" stroke-width="3.1" d="M254.9 284.0L257.3 284.3M263.7 284.8L266.1 285.1"/>
<path stroke="#d65300" d="M216.6 321.3L218.8 321.6M219.3 321.7L221.6 321.9M222.1 322.0L224.3 322.3M233.2 323.3L235.5 323.6M236.0 323.6L238.3 323.9M241.6 324.3L243.9 324.6"/>
<path stroke="#d63b00" d="M224.8 322.3L227.1 322.6M227.6 322.6L229.9 322.9M267.5 327.3L269.9 327.6M270.4 327.7L272.8 328.0"/>
<path stroke="#d64700" d="M230.4 323.0L232.7 323.2M244.4 324.6L246.8 324.9M253.0 325.6L255.3 325.9M255.9 326.0L258.2 326.2M264.5 327.0L266.9 327.3M273.3 328.0L275.8 328.3"/>
<path stroke="#d62f00" d="M238.8 323.9L241.1 324.2M247.3 324.9L249.6 325.2M276.3 328.4L278.7 328.6"/>
<path stroke="#d66c00" d="M250.1 325.3L252.5 325.6M261.6 326.6L264.0 326.9"/>
<path stroke="#d65f00" d="M258.7 326.3L261.1 326.6"/>
<path stroke="#d65300" d="M216.4 316.1L218.7 316.3"/>
<path stroke="#d63b00" d="M219.1 316.4L221.4 316.7M227.5 317.4L229.8 317.6M230.3 317.7L232.6 317.9M235.9 318.3L238.2 318.6M238.7 318.6L241.0 318.9M241.5 319.0L243.9 319.2M247.2 319.6L249.6 319.9M253.0 320.3L255.3 320.5M264.6 321.6L267.0 321.9M267.5 321.9L269.9 322.2"/>
<path stroke="#d64700" d="M221.9 316.7L224.2 317.0M224.7 317.0L227.0 317.3M233.1 318.0L235.4 318.3M244.4 319.3L246.7 319.5M255.9 320.6L258.2 320.9M258.8 320.9L261.1 321.2M276.4 322.9L278.8 323.2"/>
<path stroke="#d61700" d="M250.1 319.9L252.5 320.2"/>
<path stroke="#d62f00" d="M261.7 321.3L264.1 321.5M270.5 322.3L272.9 322.5M273.4 322.6L275.8 322.9"/>
<path stroke="#d61700" d="M216.2 310.8L218.5 311.0M219.0 311.1L221.3 311.3M244.3 313.9L246.7 314.2"/>
<path stroke="#d64700" d="M221.7 311.4L224.0 311.7M258.8 315.5L261.2 315.8M264.6 316.1L267.0 316.4"/>
<path stroke="#d65300" d="M224.5 311.7L226.8 312.0M230.1 312.3L232.4 312.6M238.6 313.3L241.0 313.5"/>
<path stroke="#d62f00" d="M227.3 312.0L229.6 312.3M232.9 312.6L235.3 312.9M250.1 314.5L252.4 314.8M252.9 314.9L255.3 315.1M261.7 315.8L264.1 316.1M267.6 316.5L270.0 316.7M273.5 317.1L275.9 317.4M276.5 317.5L278.9 317.7"/>
<path stroke="#d63b00" d="M235.8 313.0L238.1 313.2M241.5 313.6L243.8 313.8M247.2 314.2L249.6 314.5M255.8 315.2L258.2 315.4"/>
<path stroke="#d62300" d="M270.5 316.8L273.0 317.1"/>
<path stroke="#d63b00" d="M216.0 305.4L218.3 305.7M230.0 306.9L232.3 307.2M235.7 307.5L238.0 307.8M264.7 310.7L267.1 310.9"/>
<path stroke="#d65f00" d="M218.8 305.7L221.1 306.0M241.4 308.2L243.7 308.4M244.3 308.5L246.6 308.7M252.9 309.4L255.3 309.7M267.6 311.0L270.1 311.2"/>
<path stroke="#d65300" d="M221.6 306.0L223.9 306.3M250.0 309.1L252.4 309.3M258.8 310.0L261.2 310.3M261.7 310.3L264.1 310.6"/>
<path stroke="#d62f00" d="M224.4 306.3L226.7 306.6M255.8 309.7L258.3 310.0M273.6 311.6L276.0 311.9"/>
<path stroke="#d64700" d="M227.2 306.6L229.5 306.9M232.8 307.2L235.2 307.5M238.5 307.9L240.9 308.1M247.1 308.8L249.5 309.0M270.6 311.3L273.0 311.6"/>
<path stroke="#d67800" d="M276.6 311.9L279.0 312.2"/>
<path stroke="#d63b00" d="M215.8 300.0L218.1 300.3M227.1 301.2L229.4 301.4M232.7 301.8L235.1 302.0M235.6 302.1L237.9 302.3M241.3 302.7L243.7 302.9M250.0 303.6L252.4 303.8M252.9 303.9L255.3 304.1"/>
<path stroke="#d62f00" d="M218.6 300.3L220.9 300.6M224.2 300.9L226.6 301.2M247.1 303.3L249.5 303.5M261.7 304.8L264.2 305.1M264.7 305.1L267.1 305.4M276.7 306.3L279.1 306.6"/>
<path stroke="#d64700" d="M221.4 300.6L223.7 300.9M244.2 303.0L246.6 303.2M258.8 304.5L261.2 304.7M270.6 305.7L273.1 306.0"/>
<path stroke="#d62300" d="M229.9 301.5L232.2 301.7M267.7 305.4L270.1 305.7"/>
<path stroke="#d60b00" d="M238.4 302.4L240.8 302.6"/>
<path stroke="#d61700" d="M255.8 304.2L258.3 304.4"/>
<path stroke="#d65300" d="M273.6 306.0L276.1 306.3"/>
<path stroke="#d63b00" d="M215.6 294.6L218.0 294.8M218.4 294.9L220.8 295.1M224.1 295.4L226.4 295.7M226.9 295.7L229.3 296.0M235.5 296.6L237.8 296.8M247.0 297.7L249.5 298.0"/>
<path stroke="#d62f00" d="M221.3 295.2L223.6 295.4M244.1 297.4L246.5 297.7M252.9 298.3L255.3 298.6"/>
<path stroke="#d62300" d="M229.8 296.0L232.1 296.2M273.7 300.4L276.2 300.7"/>
<path stroke="#d64700" d="M232.6 296.3L235.0 296.5M241.2 297.2L243.6 297.4M250.0 298.0L252.4 298.3M258.8 298.9L261.2 299.2"/>
<path stroke="#d65f00" d="M238.4 296.9L240.7 297.1M261.8 299.2L264.2 299.5M267.7 299.8L270.2 300.1M276.7 300.7L279.2 301.0"/>
<path stroke="#d65300" d="M255.8 298.6L258.3 298.9M264.7 299.5L267.2 299.8M270.7 300.1L273.2 300.4"/>
<path stroke="#d64700" d="M215.5 289.1L217.8 289.3M223.9 289.9L226.3 290.1M229.6 290.5L232.0 290.7M235.4 291.0L237.8 291.2M244.1 291.9L246.5 292.1M264.8 293.9L267.2 294.1"/>
<path stroke="#d63b00" d="M218.3 289.4L220.6 289.6M226.8 290.2L229.1 290.4M232.5 290.7L234.9 291.0M249.9 292.4L252.4 292.7M255.8 293.0L258.3 293.2M267.8 294.1L270.3 294.4M270.8 294.4L273.3 294.7M273.8 294.7L276.3 295.0"/>
<path stroke="#d62f00" d="M221.1 289.6L223.4 289.9M247.0 292.1L249.4 292.4"/>
<path stroke="#d65300" d="M238.3 291.3L240.7 291.5M241.2 291.6L243.6 291.8M252.9 292.7L255.3 292.9M258.8 293.3L261.3 293.5M261.8 293.6L264.2 293.8M276.8 295.0L279.4 295.3"/>
<path stroke="#d65f00" stroke-width="3.1" d="M215.3 283.5L217.6 283.8M223.8 284.3L226.1 284.6M229.5 284.9L231.9 285.1M238.2 285.7L240.6 285.9M241.1 285.9L243.5 286.2M255.8 287.3L258.3 287.5"/>
<path stroke="#d65300" stroke-width="3.1" d="M218.1 283.8L220.4 284.0M220.9 284.1L223.3 284.3M232.4 285.1L234.8 285.4M247.0 286.5L249.4 286.7M249.9 286.8L252.3 287.0M252.9 287.0L255.3 287.3"/>
<path stroke="#d66c00" stroke-width="3.1" d="M226.6 284.6L229.0 284.8M235.3 285.4L237.7 285.6M276.9 289.3L279.5 289.5"/>
<path stroke="#d63b00" stroke-width="3.1" d="M244.0 286.2L246.4 286.4M261.8 287.9L264.3 288.1M273.9 289.0L276.4 289.2"/>
<path stroke="#d64700" stroke-width="3.1" d="M258.8 287.6L261.3 287.8M264.8 288.1L267.3 288.4M267.8 288.4L270.3 288.7M270.9 288.7L273.4 288.9"/>
<path stroke="#d82300" d="M214.0 324.8L216.3 325.1M216.8 325.1L219.1 325.4M253.9 329.6L256.3 329.9M271.6 331.7L274.1 332.0"/>
<path stroke="#d83c00" d="M219.6 325.5L221.9 325.7M222.4 325.8L224.7 326.1M230.9 326.8L233.2 327.1M259.8 330.3L262.2 330.6M274.6 332.1L277.1 332.4"/>
<path stroke="#d83000" d="M225.2 326.1L227.5 326.4M228.0 326.5L230.4 326.7M233.7 327.1L236.1 327.4M239.4 327.8L241.8 328.1M242.3 328.2L244.7 328.5M245.2 328.5L247.6 328.8M248.1 328.9L250.5 329.2M265.7 331.0L268.1 331.3M268.6 331.3L271.1 331.6"/>
<path stroke="#d70000" d="M236.6 327.5L238.9 327.8"/>
<path stroke="#d81700" d="M251.0 329.2L253.4 329.5M256.8 329.9L259.2 330.2"/>
<path stroke="#d84800" d="M262.7 330.6L265.1 330.9"/>
<path stroke="#d83c00" d="M213.8 319.5L216.1 319.7M219.4 320.1L221.8 320.4M222.3 320.4L224.6 320.7M225.1 320.8L227.4 321.0M227.9 321.1L230.2 321.4M233.6 321.8L236.0 322.0M239.3 322.4L241.7 322.7M248.0 323.5L250.4 323.7M271.7 326.2L274.2 326.5"/>
<path stroke="#d83000" d="M216.6 319.8L218.9 320.1M236.5 322.1L238.8 322.4M253.9 324.1L256.3 324.4M256.8 324.5L259.2 324.8M259.8 324.8L262.2 325.1M265.7 325.5L268.2 325.8M274.7 326.6L277.2 326.9"/>
<path stroke="#d81700" d="M230.7 321.4L233.1 321.7"/>
<path stroke="#d82300" d="M242.2 322.8L244.6 323.1M245.1 323.1L247.5 323.4M262.7 325.2L265.2 325.5M268.7 325.9L271.2 326.2"/>
<path stroke="#d84800" d="M250.9 323.8L253.4 324.1"/>
<path stroke="#d83000" d="M213.6 314.1L216.0 314.4M224.9 315.4L227.3 315.6M227.8 315.7L230.1 316.0M233.5 316.3L235.9 316.6M236.4 316.7L238.7 316.9M239.3 317.0L241.6 317.3M248.0 318.0L250.4 318.3M259.8 319.3L262.2 319.6M262.8 319.7L265.2 319.9M271.8 320.7L274.3 321.0"/>
<path stroke="#d82300" d="M216.5 314.4L218.8 314.7M256.8 319.0L259.3 319.3M268.8 320.3L271.2 320.6"/>
<path stroke="#d85400" d="M219.3 314.7L221.6 315.0M245.1 317.7L247.5 317.9"/>
<path stroke="#d83c00" d="M222.1 315.1L224.4 315.3M230.6 316.0L233.0 316.3M242.2 317.3L244.6 317.6M250.9 318.3L253.3 318.6M274.8 321.0L277.3 321.3"/>
<path stroke="#d84800" d="M253.9 318.7L256.3 318.9"/>
<path stroke="#d81700" d="M265.8 320.0L268.2 320.3"/>
<path stroke="#d83000" d="M213.4 308.7L215.8 308.9M216.3 309.0L218.6 309.2M230.5 310.6L232.9 310.8M233.4 310.9L235.8 311.1M247.9 312.5L250.4 312.7M250.9 312.8L253.3 313.1M253.9 313.1L256.3 313.4M262.8 314.1L265.3 314.4M271.8 315.1L274.3 315.4"/>
<path stroke="#d85400" d="M219.1 309.3L221.4 309.6M259.8 313.8L262.3 314.0"/>
<path stroke="#d83c00" d="M221.9 309.6L224.3 309.9M224.8 309.9L227.1 310.2M239.2 311.5L241.6 311.8M245.0 312.1L247.4 312.4"/>
<path stroke="#d84800" d="M227.6 310.2L230.0 310.5M236.3 311.2L238.7 311.4M242.1 311.8L244.5 312.1M256.8 313.4L259.3 313.7"/>
<path stroke="#d82300" d="M265.8 314.4L268.3 314.7M274.9 315.4L277.4 315.7"/>
<path stroke="#d81700" d="M268.8 314.7L271.3 315.0"/>
<path stroke="#d83000" d="M213.2 303.2L215.6 303.5M224.6 304.4L227.0 304.7M239.1 306.0L241.5 306.2M253.8 307.5L256.3 307.8M256.8 307.8L259.3 308.1M268.9 309.1L271.4 309.4"/>
<path stroke="#d83c00" d="M216.1 303.5L218.4 303.8M218.9 303.8L221.3 304.1M227.5 304.7L229.9 305.0M233.3 305.3L235.7 305.6M242.0 306.3L244.4 306.5M247.9 306.9L250.3 307.1M259.8 308.2L262.3 308.4"/>
<path stroke="#d81700" d="M221.8 304.1L224.1 304.4"/>
<path stroke="#d84800" d="M230.4 305.0L232.8 305.3"/>
<path stroke="#d82300" d="M236.2 305.6L238.6 305.9M245.0 306.6L247.4 306.8M262.8 308.5L265.3 308.7M265.8 308.8L268.3 309.1M271.9 309.4L274.4 309.7"/>
<path stroke="#d85400" d="M250.9 307.2L253.3 307.5"/>
<path stroke="#d87900" d="M275.0 309.8L277.5 310.0"/>
<path stroke="#d84800" d="M213.0 297.7L215.4 297.9M221.6 298.6L224.0 298.8M233.2 299.8L235.6 300.0M236.1 300.1L238.5 300.3M244.9 301.0L247.3 301.2M265.9 303.1L268.4 303.4"/>
<path stroke="#d83000" d="M215.9 298.0L218.2 298.2M218.7 298.3L221.1 298.5M262.9 302.8L265.4 303.0"/>
<path stroke="#d83c00" d="M224.5 298.9L226.8 299.1M227.4 299.2L229.7 299.4M239.0 300.4L241.4 300.6M247.9 301.3L250.3 301.5M253.8 301.9L256.3 302.1M256.8 302.2L259.3 302.4M272.0 303.7L274.5 304.0M275.1 304.0L277.6 304.3"/>
<path stroke="#d86d00" d="M230.3 299.5L232.6 299.7"/>
<path stroke="#d85400" d="M241.9 300.7L244.4 300.9M250.8 301.6L253.3 301.8M268.9 303.4L271.4 303.7"/>
<path stroke="#d82300" d="M259.8 302.5L262.3 302.7"/>
<path stroke="#d84800" d="M212.8 292.1L215.2 292.4M215.7 292.4L218.1 292.6M233.0 294.1L235.5 294.4M253.8 296.2L256.3 296.4M256.8 296.5L259.3 296.7M262.9 297.1L265.4 297.3M269.0 297.7L271.5 297.9M275.1 298.3L277.7 298.5"/>
<path stroke="#d86100" d="M218.6 292.7L220.9 292.9M227.2 293.5L229.6 293.8M230.1 293.8L232.5 294.1M238.9 294.7L241.4 294.9M241.9 295.0L244.3 295.2M247.8 295.6L250.3 295.8M265.9 297.4L268.5 297.6"/>
<path stroke="#d85400" d="M221.4 293.0L223.8 293.2M224.3 293.3L226.7 293.5M244.8 295.3L247.3 295.5M259.8 296.8L262.3 297.0"/>
<path stroke="#d83c00" d="M236.0 294.4L238.4 294.6M250.8 295.9L253.3 296.1M272.1 298.0L274.6 298.2"/>
<path stroke="#d86100" stroke-width="3.1" d="M212.6 286.5L215.0 286.7M215.5 286.8L217.9 287.0M218.4 287.0L220.8 287.3M221.3 287.3L223.7 287.6M224.2 287.6L226.6 287.8M227.1 287.9L229.5 288.1M230.0 288.2L232.4 288.4M232.9 288.4L235.4 288.7M235.9 288.7L238.3 288.9M238.8 289.0L241.3 289.2M241.8 289.3L244.3 289.5M244.8 289.6L247.3 289.8M247.8 289.8L250.3 290.1M250.8 290.1L253.3 290.4M253.8 290.4L256.3 290.6M256.8 290.7L259.3 290.9M259.9 291.0L262.4 291.2M262.9 291.3L265.4 291.5M266.0 291.6L268.5 291.8M269.1 291.9L271.6 292.1M272.1 292.2L274.7 292.4M275.2 292.4L277.8 292.7"/>
<path stroke="#db4900" d="M211.4 328.3L213.8 328.6M217.1 329.0L219.4 329.3M225.6 330.1L228.0 330.4M248.9 332.9L251.3 333.2M263.8 334.8L266.3 335.1M266.8 335.1L269.3 335.4M269.9 335.5L272.4 335.8M272.9 335.9L275.4 336.2"/>
<path stroke="#db3000" d="M214.3 328.7L216.6 329.0M243.0 332.2L245.4 332.5"/>
<path stroke="#db6200" d="M219.9 329.4L222.3 329.7M222.8 329.7L225.1 330.0M231.4 330.8L233.8 331.1M234.3 331.1L236.7 331.4M237.2 331.5L239.6 331.8M240.1 331.9L242.5 332.2M246.0 332.6L248.4 332.9"/>
<path stroke="#db5500" d="M228.5 330.4L230.9 330.7M251.9 333.3L254.3 333.6M254.8 333.7L257.3 334.0M260.8 334.4L263.3 334.7"/>
<path stroke="#db6e00" d="M257.8 334.0L260.3 334.3"/>
<path stroke="#db3d00" d="M211.2 323.0L213.6 323.2M216.9 323.6L219.2 323.9M219.7 324.0L222.1 324.3M228.4 325.0L230.8 325.3M234.2 325.7L236.6 326.0M240.0 326.4L242.4 326.7M257.8 328.5L260.3 328.8M263.8 329.2L266.3 329.5"/>
<path stroke="#db1800" d="M214.1 323.3L216.4 323.6"/>
<path stroke="#db3000" d="M222.6 324.3L225.0 324.6M231.3 325.3L233.7 325.6M245.9 327.1L248.3 327.4M254.8 328.2L257.3 328.4"/>
<path stroke="#db4900" d="M225.5 324.7L227.9 324.9M237.1 326.0L239.5 326.3M248.9 327.4L251.3 327.7M260.8 328.9L263.3 329.2M266.9 329.6L269.4 329.9M273.0 330.3L275.5 330.6"/>
<path stroke="#db2400" d="M243.0 326.7L245.4 327.0M251.8 327.8L254.3 328.1"/>
<path stroke="#db5500" d="M269.9 330.0L272.4 330.3"/>
<path stroke="#db5500" d="M211.0 317.5L213.4 317.8M216.7 318.2L219.1 318.5M231.1 319.8L233.5 320.1M234.1 320.2L236.5 320.5M239.9 320.9L242.4 321.1M242.9 321.2L245.3 321.5M251.8 322.2L254.3 322.5M263.9 323.6L266.4 323.9"/>
<path stroke="#db3000" d="M213.9 317.9L216.2 318.1M254.8 322.6L257.3 322.9M260.8 323.3L263.3 323.6"/>
<path stroke="#db3d00" d="M219.6 318.5L221.9 318.8M222.4 318.8L224.8 319.1M228.2 319.5L230.6 319.8M237.0 320.5L239.4 320.8M245.9 321.5L248.3 321.8"/>
<path stroke="#db4900" d="M225.3 319.2L227.7 319.5M248.8 321.9L251.3 322.2M266.9 324.0L269.4 324.3M273.1 324.7L275.6 325.0"/>
<path stroke="#db6200" d="M257.8 322.9L260.3 323.2M270.0 324.3L272.5 324.6"/>
<path stroke="#db2400" d="M210.8 312.0L213.1 312.3M236.9 315.0L239.3 315.2M239.9 315.3L242.3 315.6M248.8 316.3L251.3 316.6M254.8 317.0L257.3 317.2M267.0 318.3L269.5 318.6M270.1 318.7L272.6 319.0"/>
<path stroke="#db4900" d="M213.7 312.4L216.0 312.6M222.3 313.3L224.7 313.6M231.0 314.3L233.4 314.6M242.8 315.6L245.3 315.9M257.8 317.3L260.3 317.6"/>
<path stroke="#db3000" d="M216.5 312.7L218.9 312.9M225.2 313.6L227.6 313.9M228.1 314.0L230.5 314.2M234.0 314.6L236.4 314.9"/>
<path stroke="#db3d00" d="M219.4 313.0L221.8 313.3M245.8 316.0L248.3 316.2M260.9 317.6L263.4 317.9"/>
<path stroke="#db6e00" d="M251.8 316.6L254.3 316.9"/>
<path stroke="#db1800" d="M263.9 318.0L266.4 318.3"/>
<path stroke="#db5500" d="M273.1 319.0L275.7 319.3"/>
<path stroke="#db3d00" d="M210.6 306.5L212.9 306.8M219.2 307.4L221.6 307.7M222.1 307.7L224.5 308.0M242.8 310.0L245.2 310.2M245.7 310.3L248.2 310.6M254.8 311.3L257.3 311.6M257.8 311.6L260.4 311.9M267.0 312.6L269.6 312.9"/>
<path stroke="#db4900" d="M213.4 306.8L215.8 307.1"/>
<path stroke="#db3000" d="M216.3 307.1L218.7 307.4M228.0 308.4L230.4 308.6M236.8 309.3L239.2 309.6M248.8 310.6L251.2 310.9M260.9 311.9L263.4 312.2"/>
<path stroke="#db5500" d="M225.0 308.1L227.4 308.3M251.8 311.0L254.3 311.2M264.0 312.3L266.5 312.5M270.1 312.9L272.7 313.2"/>
<path stroke="#db1800" d="M230.9 308.7L233.3 309.0"/>
<path stroke="#db2400" d="M233.8 309.0L236.3 309.3M239.8 309.7L242.2 309.9M273.2 313.3L275.8 313.6"/>
<path stroke="#db6200" d="M210.4 300.9L212.7 301.2M219.0 301.8L221.4 302.1"/>
<path stroke="#db5500" d="M213.2 301.2L215.6 301.5M216.1 301.5L218.5 301.8M224.9 302.4L227.3 302.7M236.7 303.7L239.2 303.9M260.9 306.2L263.4 306.5M270.2 307.2L272.8 307.4"/>
<path stroke="#db4900" d="M222.0 302.1L224.4 302.4M233.7 303.3L236.2 303.6M239.7 304.0L242.2 304.2M242.7 304.3L245.2 304.5M251.7 305.2L254.3 305.5M254.8 305.6L257.3 305.8M267.1 306.8L269.6 307.1"/>
<path stroke="#db6e00" d="M227.8 302.7L230.2 303.0M230.8 303.0L233.2 303.3M264.0 306.5L266.5 306.8"/>
<path stroke="#db3d00" d="M245.7 304.6L248.2 304.9M257.8 305.9L260.4 306.1"/>
<path stroke="#db3000" d="M248.7 304.9L251.2 305.2"/>
<path stroke="#db7a00" d="M273.3 307.5L275.9 307.8"/>
<path stroke="#db6200" d="M210.1 295.3L212.5 295.5M218.9 296.1L221.3 296.4M251.7 299.5L254.2 299.7M254.8 299.8L257.3 300.0"/>
<path stroke="#db3d00" d="M213.0 295.6L215.4 295.8M221.8 296.4L224.2 296.7M230.6 297.3L233.1 297.6M264.0 300.7L266.6 301.0M270.3 301.3L272.8 301.6"/>
<path stroke="#db5500" d="M215.9 295.8L218.3 296.1M224.7 296.7L227.2 297.0M227.7 297.0L230.1 297.3M233.6 297.6L236.1 297.9M236.6 297.9L239.1 298.2M257.8 300.1L260.4 300.3M267.1 301.0L269.7 301.3"/>
<path stroke="#db3000" d="M239.6 298.2L242.1 298.5"/>
<path stroke="#db4900" d="M242.6 298.5L245.1 298.8M245.6 298.8L248.1 299.1M248.7 299.1L251.2 299.4"/>
<path stroke="#db6e00" d="M260.9 300.4L263.5 300.6"/>
<path stroke="#db2400" d="M273.4 301.6L276.0 301.9"/>
<path stroke="#db3000" stroke-width="3.1" d="M209.9 289.6L212.3 289.8M224.6 291.0L227.0 291.2M248.6 293.3L251.2 293.6M257.9 294.2L260.4 294.5"/>
<path stroke="#db3d00" stroke-width="3.1" d="M212.8 289.8L215.2 290.1M215.7 290.1L218.2 290.4M221.6 290.7L224.0 290.9M230.5 291.6L233.0 291.8M236.5 292.1L239.0 292.4M239.5 292.4L242.0 292.7M251.7 293.6L254.2 293.9M273.5 295.7L276.1 296.0"/>
<path stroke="#db4900" stroke-width="3.1" d="M218.7 290.4L221.1 290.6M227.5 291.3L230.0 291.5M242.5 292.7L245.0 293.0M261.0 294.5L263.5 294.8M264.1 294.8L266.6 295.1"/>
<path stroke="#db6e00" stroke-width="3.1" d="M233.5 291.8L236.0 292.1"/>
<path stroke="#db5500" stroke-width="3.1" d="M245.6 293.0L248.1 293.3M254.8 293.9L257.3 294.2M267.2 295.1L269.8 295.4"/>
<path stroke="#db7a00" stroke-width="3.1" d="M270.3 295.4L272.9 295.7"/>
<path stroke="#b23100" d="M208.7 332.0L211.1 332.3M214.5 332.7L216.8 333.0M220.2 333.5L222.6 333.8M229.0 334.6L231.4 334.9M237.8 335.7L240.3 336.0M249.8 337.2L252.2 337.5M261.9 338.7L264.4 339.0"/>
<path stroke="#b23b00" d="M211.6 332.4L214.0 332.7M243.8 336.4L246.2 336.7"/>
<path stroke="#b21d00" d="M217.4 333.1L219.7 333.4M223.1 333.8L225.5 334.1M240.8 336.0L243.2 336.3M252.8 337.5L255.3 337.8M265.0 339.1L267.5 339.4M268.0 339.4L270.6 339.8"/>
<path stroke="#b24500" d="M226.1 334.2L228.5 334.5M231.9 334.9L234.3 335.2"/>
<path stroke="#b22700" d="M234.9 335.3L237.3 335.6M246.8 336.8L249.2 337.1M255.8 337.9L258.3 338.2M258.8 338.3L261.4 338.6M271.1 339.8L273.7 340.2"/>
<path stroke="#b23100" d="M208.5 326.6L210.9 326.8M214.3 327.3L216.7 327.6M217.2 327.6L219.6 327.9M223.0 328.3L225.4 328.6M231.8 329.4L234.2 329.7M234.8 329.8L237.2 330.1M237.7 330.1L240.2 330.4M243.7 330.8L246.2 331.1M246.7 331.2L249.2 331.5M252.8 331.9L255.3 332.3M261.9 333.1L264.5 333.4M265.0 333.4L267.5 333.7"/>
<path stroke="#b24f00" d="M211.4 326.9L213.8 327.2"/>
<path stroke="#b23b00" d="M220.1 328.0L222.5 328.3M228.8 329.0L231.3 329.3M249.7 331.6L252.2 331.9M255.8 332.3L258.3 332.6M268.1 333.8L270.6 334.1"/>
<path stroke="#b24500" d="M225.9 328.7L228.3 329.0"/>
<path stroke="#b22700" d="M240.7 330.5L243.2 330.8M258.9 332.7L261.4 333.0M271.2 334.2L273.8 334.5"/>
<path stroke="#b22700" d="M208.3 321.1L210.7 321.3M234.6 324.2L237.1 324.5M255.8 326.7L258.3 327.0M271.3 328.5L273.8 328.8"/>
<path stroke="#b21d00" d="M211.2 321.4L213.6 321.7M237.6 324.5L240.1 324.8M240.6 324.9L243.1 325.2M249.7 325.9L252.2 326.2M258.9 327.0L261.4 327.3M268.1 328.1L270.7 328.4"/>
<path stroke="#b23100" d="M214.1 321.7L216.5 322.0M217.0 322.1L219.4 322.4M219.9 322.4L222.3 322.7M228.7 323.5L231.2 323.8M231.7 323.8L234.1 324.1M252.7 326.3L255.3 326.6M261.9 327.4L264.5 327.7M265.0 327.8L267.6 328.1"/>
<path stroke="#b21300" d="M222.8 322.8L225.2 323.1M225.8 323.1L228.2 323.4"/>
<path stroke="#b23b00" d="M243.6 325.2L246.1 325.5"/>
<path stroke="#b20900" d="M246.7 325.6L249.2 325.9"/>
<path stroke="#b23b00" d="M208.1 315.5L210.4 315.8M216.8 316.5L219.2 316.8M219.7 316.8L222.1 317.1M222.7 317.2L225.1 317.4M231.6 318.2L234.0 318.5M234.5 318.5L237.0 318.8M237.5 318.9L240.0 319.2M246.6 319.9L249.1 320.2M252.7 320.6L255.3 320.9M255.8 321.0L258.3 321.2M258.9 321.3L261.4 321.6"/>
<path stroke="#b23100" d="M211.0 315.8L213.3 316.1"/>
<path stroke="#b22700" d="M213.9 316.2L216.3 316.4M243.6 319.6L246.1 319.8M249.7 320.3L252.2 320.5M268.2 322.4L270.8 322.7"/>
<path stroke="#b24500" d="M225.6 317.5L228.1 317.8M228.6 317.8L231.0 318.1M240.6 319.2L243.0 319.5M265.1 322.0L267.7 322.3M271.3 322.7L273.9 323.0"/>
<path stroke="#b21d00" d="M262.0 321.7L264.5 322.0"/>
<path stroke="#b23b00" d="M207.8 309.9L210.2 310.1M216.6 310.9L219.0 311.1M219.5 311.2L222.0 311.4M237.4 313.2L239.9 313.4M243.5 313.8L246.0 314.1M252.7 314.9L255.2 315.1M262.0 315.9L264.6 316.2M265.1 316.2L267.7 316.5"/>
<path stroke="#b23100" d="M210.7 310.2L213.1 310.5M228.4 312.2L230.9 312.4M249.6 314.5L252.2 314.8"/>
<path stroke="#b24500" d="M213.7 310.5L216.1 310.8M225.5 311.8L227.9 312.1M231.4 312.5L233.9 312.8M234.4 312.8L236.9 313.1M240.5 313.5L243.0 313.8M255.8 315.2L258.3 315.5M268.3 316.6L270.9 316.9M271.4 316.9L274.0 317.2"/>
<path stroke="#b24f00" d="M222.5 311.5L224.9 311.8M246.6 314.2L249.1 314.5"/>
<path stroke="#b22700" d="M258.9 315.5L261.5 315.8"/>
<path stroke="#b23b00" d="M207.6 304.2L210.0 304.5M231.3 306.8L233.8 307.0M234.3 307.1L236.8 307.3M240.4 307.7L242.9 308.0M243.4 308.1L246.0 308.3M246.5 308.4L249.1 308.6M249.6 308.7L252.1 309.0M255.8 309.4L258.4 309.6M265.2 310.4L267.8 310.7M268.3 310.7L270.9 311.0M271.5 311.0L274.1 311.3"/>
<path stroke="#b24f00" d="M210.5 304.5L212.9 304.8M225.3 306.1L227.8 306.4"/>
<path stroke="#b22700" d="M213.4 304.8L215.9 305.1"/>
<path stroke="#b24500" d="M216.4 305.2L218.8 305.4M228.3 306.4L230.8 306.7M252.7 309.0L255.2 309.3M258.9 309.7L261.5 310.0M262.0 310.0L264.6 310.3"/>
<path stroke="#b23100" d="M219.3 305.5L221.8 305.7M222.3 305.8L224.8 306.1M237.4 307.4L239.9 307.7"/>
<path stroke="#b21d00" d="M207.3 298.5L209.8 298.7M216.2 299.4L218.6 299.7M240.3 301.9L242.8 302.2M262.1 304.1L264.7 304.4"/>
<path stroke="#b20900" d="M210.3 298.8L212.7 299.0M231.2 300.9L233.7 301.2M249.6 302.8L252.1 303.1"/>
<path stroke="#b22700" d="M213.2 299.1L215.7 299.3M219.2 299.7L221.6 300.0M222.2 300.0L224.6 300.3M237.3 301.6L239.8 301.8M243.4 302.2L245.9 302.5M246.5 302.5L249.0 302.8M252.7 303.2L255.2 303.4M258.9 303.8L261.5 304.1M265.2 304.5L267.8 304.7M268.4 304.8L271.0 305.1"/>
<path stroke="#b23100" d="M225.1 300.3L227.6 300.6M228.2 300.6L230.6 300.9M255.8 303.5L258.4 303.8"/>
<path stroke="#b23b00" d="M234.2 301.3L236.7 301.5"/>
<path stroke="#b26400" d="M271.6 305.1L274.2 305.4"/>
<path stroke="#b23100" stroke-width="3.1" d="M207.1 292.7L209.5 293.0M231.1 295.1L233.6 295.3M240.2 296.0L242.8 296.3M249.5 296.9L252.1 297.2"/>
<path stroke="#b24500" stroke-width="3.1" d="M210.1 293.0L212.5 293.2M213.0 293.3L215.5 293.5M219.0 293.9L221.5 294.1M222.0 294.2L224.5 294.4M228.0 294.8L230.5 295.0M234.1 295.4L236.6 295.6M243.3 296.3L245.9 296.6M255.8 297.5L258.4 297.8M262.1 298.2L264.7 298.4M268.4 298.8L271.1 299.1"/>
<path stroke="#b23b00" stroke-width="3.1" d="M216.0 293.6L218.5 293.8M225.0 294.5L227.5 294.7M237.2 295.7L239.7 295.9M252.6 297.2L255.2 297.5M265.3 298.5L267.9 298.7"/>
<path stroke="#b22700" stroke-width="3.1" d="M246.4 296.6L249.0 296.9M258.9 297.9L261.5 298.1"/>
<path stroke="#b24f00" stroke-width="3.1" d="M271.6 299.1L274.3 299.4"/>
<path stroke="#ff6300" d="M206.0 335.8L208.4 336.1M232.5 339.2L234.9 339.5M253.7 341.9L256.3 342.3M259.9 342.7L262.5 343.0M266.2 343.5L268.7 343.8"/>
<path stroke="#ff5500" d="M208.9 336.2L211.3 336.5M211.8 336.6L214.2 336.9M214.7 336.9L217.1 337.2M217.6 337.3L220.1 337.6M220.6 337.7L223.0 338.0M223.5 338.1L226.0 338.4M229.5 338.8L231.9 339.1M235.5 339.6L238.0 339.9M244.5 340.7L247.1 341.1M250.7 341.5L253.2 341.9"/>
<path stroke="#ff3800" d="M226.5 338.4L229.0 338.8M238.5 340.0L241.0 340.3"/>
<path stroke="#ff2a00" d="M241.5 340.4L244.0 340.7"/>
<path stroke="#ff4700" d="M247.6 341.1L250.1 341.5M256.8 342.3L259.4 342.6M263.0 343.1L265.6 343.4M269.3 343.9L271.9 344.3"/>
<path stroke="#c20000" d="M205.7 330.3L208.1 330.6M208.6 330.6L211.0 330.9M211.6 331.0L214.0 331.3M214.5 331.4L216.9 331.7M217.4 331.7L219.9 332.0M220.4 332.1L222.8 332.4M223.4 332.5L225.8 332.8M226.4 332.8L228.8 333.2M229.3 333.2L231.8 333.5M232.3 333.6L234.8 333.9M235.4 334.0L237.9 334.3M238.4 334.3L240.9 334.7M241.4 334.7L243.9 335.0M244.5 335.1L247.0 335.4M247.6 335.5L250.1 335.8M250.6 335.9L253.2 336.2M253.7 336.3L256.3 336.6M256.8 336.6L259.4 337.0M259.9 337.0L262.5 337.3M263.1 337.4L265.6 337.7M266.2 337.8L268.8 338.1M269.4 338.2L272.0 338.5"/>
<path stroke="#ff3800" d="M205.5 324.7L207.9 325.0M208.4 325.1L210.8 325.3M211.3 325.4L213.8 325.7M217.2 326.1L219.7 326.4M229.2 327.6L231.7 327.9M241.4 329.0L243.9 329.3M247.5 329.8L250.1 330.1M253.7 330.5L256.3 330.8M256.8 330.9L259.4 331.2M260.0 331.3L262.5 331.6M266.2 332.0L268.9 332.4M269.4 332.4L272.0 332.7"/>
<path stroke="#ff4700" d="M214.3 325.8L216.7 326.1M220.2 326.5L222.7 326.8M232.2 327.9L234.7 328.2M235.3 328.3L237.8 328.6M238.3 328.7L240.8 329.0M244.4 329.4L247.0 329.7M250.6 330.2L253.2 330.5"/>
<path stroke="#ff5500" d="M223.2 326.8L225.7 327.1"/>
<path stroke="#ff6300" d="M226.2 327.2L228.7 327.5M263.1 331.7L265.7 332.0"/>
<path stroke="#ff5500" d="M205.2 319.1L207.6 319.4M238.2 322.9L240.7 323.2"/>
<path stroke="#ff4700" d="M208.2 319.4L210.6 319.7M211.1 319.8L213.6 320.0M226.0 321.5L228.5 321.8M229.1 321.9L231.6 322.2M232.1 322.2L234.6 322.5M250.6 324.4L253.1 324.7M256.8 325.1L259.4 325.4M263.1 325.8L265.7 326.2"/>
<path stroke="#ff2a00" d="M214.1 320.1L216.5 320.4M223.0 321.2L225.5 321.4M235.2 322.6L237.7 322.9M241.3 323.3L243.8 323.6M247.5 324.0L250.0 324.3"/>
<path stroke="#ff3800" d="M217.1 320.5L219.5 320.7M244.4 323.6L246.9 323.9M253.7 324.7L256.3 325.0M260.0 325.5L262.6 325.8M266.3 326.2L268.9 326.5M269.5 326.6L272.1 326.9"/>
<path stroke="#ff6300" d="M220.0 320.8L222.5 321.1"/>
<path stroke="#ff8000" d="M205.0 313.4L207.4 313.7"/>
<path stroke="#ff6300" d="M207.9 313.7L210.4 314.0M210.9 314.1L213.3 314.3M222.9 315.4L225.4 315.7M232.0 316.4L234.5 316.7M235.0 316.8L237.6 317.1M238.1 317.1L240.7 317.4M250.5 318.5L253.1 318.8M263.2 320.0L265.8 320.3"/>
<path stroke="#ff5500" d="M213.9 314.4L216.3 314.7M219.9 315.1L222.3 315.3M228.9 316.1L231.4 316.4M266.3 320.3L269.0 320.6"/>
<path stroke="#ff7200" d="M216.9 314.7L219.3 315.0M241.2 317.5L243.8 317.8M247.4 318.2L250.0 318.5M256.8 319.3L259.4 319.5"/>
<path stroke="#ff4700" d="M225.9 315.8L228.4 316.0M244.3 317.8L246.9 318.1"/>
<path stroke="#ff3800" d="M253.7 318.9L256.3 319.2M269.5 320.7L272.2 321.0"/>
<path stroke="#ff8e00" d="M260.0 319.6L262.6 319.9"/>
<path stroke="#ff6300" d="M204.7 307.6L207.2 307.9M207.7 308.0L210.1 308.2M213.7 308.6L216.1 308.9M216.7 308.9L219.1 309.2M241.1 311.6L243.7 311.9"/>
<path stroke="#ff7200" d="M210.7 308.3L213.1 308.6M219.7 309.3L222.2 309.5M222.7 309.6L225.2 309.9M231.9 310.6L234.4 310.9M238.0 311.3L240.6 311.6M250.5 312.6L253.1 312.9"/>
<path stroke="#ff2a00" d="M225.7 309.9L228.3 310.2"/>
<path stroke="#ff8000" d="M228.8 310.3L231.3 310.5M244.2 312.0L246.8 312.2M260.0 313.7L262.6 314.0"/>
<path stroke="#ff4700" d="M234.9 310.9L237.5 311.2"/>
<path stroke="#ff5500" d="M247.4 312.3L250.0 312.6M253.7 313.0L256.3 313.3M256.8 313.3L259.4 313.6M263.2 314.0L265.8 314.3M266.4 314.4L269.0 314.7M269.6 314.7L272.3 315.0"/>
<path stroke="#ff4700" d="M204.5 301.8L206.9 302.1M207.4 302.1L209.9 302.4M213.4 302.8L215.9 303.0M234.8 305.0L237.4 305.3M256.8 307.4L259.5 307.6"/>
<path stroke="#ff6300" d="M210.4 302.5L212.9 302.7M269.7 308.7L272.4 309.0"/>
<path stroke="#ff5500" d="M216.5 303.1L219.0 303.4M219.5 303.4L222.0 303.7M222.5 303.7L225.0 304.0M228.7 304.4L231.2 304.7M231.7 304.7L234.3 305.0M253.6 307.0L256.3 307.3M260.0 307.7L262.7 308.0"/>
<path stroke="#ff7200" d="M225.6 304.1L228.1 304.3M237.9 305.4L240.5 305.6M250.5 306.7L253.1 307.0M263.2 308.0L265.9 308.3"/>
<path stroke="#ff3800" d="M241.0 305.7L243.6 306.0M247.3 306.4L249.9 306.6M266.5 308.4L269.1 308.7"/>
<path stroke="#ff2a00" d="M244.2 306.0L246.8 306.3"/>
<path stroke="#ffab00" stroke-width="3.1" d="M204.2 296.0L206.7 296.2M216.3 297.2L218.8 297.5M222.4 297.8L224.9 298.1M247.3 300.4L249.9 300.6M266.5 302.3L269.2 302.6"/>
<path stroke="#ffba00" stroke-width="3.1" d="M207.2 296.3L209.7 296.5M228.5 298.4L231.1 298.7M234.7 299.1L237.3 299.3M237.8 299.4L240.4 299.7M244.1 300.0L246.7 300.3"/>
<path stroke="#ffc800" stroke-width="3.1" d="M210.2 296.6L212.7 296.8"/>
<path stroke="#ffd600" stroke-width="3.1" d="M213.2 296.9L215.7 297.1"/>
<path stroke="#ff9d00" stroke-width="3.1" d="M219.3 297.5L221.8 297.8M231.6 298.8L234.2 299.0M250.4 300.7L253.1 300.9M256.8 301.3L259.5 301.6M260.0 301.7L262.7 301.9"/>
<path stroke="#ffe500" stroke-width="3.1" d="M225.4 298.1L228.0 298.4"/>
<path stroke="#fff300" stroke-width="3.1" d="M241.0 299.7L243.6 300.0"/>
<path stroke="#ff8e00" stroke-width="3.1" d="M253.6 301.0L256.3 301.3M269.8 302.6L272.4 302.9"/>
<path stroke="#ff8000" stroke-width="3.1" d="M263.3 302.0L265.9 302.2"/>
</g>
<polygon points="251.8,272.5 253.0,316.0 235.5,339.5 236.3,298.5" fill="#6c6c6c" fill-opacity="0.48"/>
<polygon points="353.0,345.3 431.8,354.7 447.7,322.8 450.7,270.6 374.5,263.8 351.1,290.2" fill="#f5f5f5" stroke="#eaeaea" stroke-width="0.5"/>
<polyline points="351.1,290.2 353.0,345.3 431.8,354.7 447.7,322.8" fill="none" stroke="#5a5a5a" stroke-width="0.7"/>
<g stroke-linecap="round" fill="none" stroke-width="2.95">
<path stroke="#930000" d="M381.2 311.6L383.4 311.8M383.8 311.9L386.0 312.1M386.5 312.2L388.7 312.4M391.8 312.8L394.0 313.0M397.1 313.4L399.4 313.6M407.9 314.6L410.2 314.8M410.7 314.9L412.9 315.1M424.4 316.4L426.7 316.6"/>
<path stroke="#820000" d="M389.1 312.5L391.3 312.7"/>
<path stroke="#930700" d="M394.5 313.1L396.7 313.3M421.7 316.1L423.9 316.3M427.2 316.7L429.5 316.9"/>
<path stroke="#8a0000" d="M399.8 313.7L402.0 313.9M402.5 314.0L404.7 314.2M405.2 314.3L407.5 314.5M413.4 315.2L415.7 315.4M416.1 315.5L418.4 315.7M418.9 315.8L421.2 316.0M430.0 317.0L432.3 317.3M432.8 317.3L435.1 317.6"/>
<path stroke="#931000" d="M435.6 317.6L438.0 317.9M438.5 317.9L440.8 318.2"/>
<path stroke="#930000" d="M381.1 306.5L383.2 306.8M394.4 308.0L396.6 308.2M397.1 308.3L399.3 308.5M399.8 308.5L402.0 308.8M407.9 309.4L410.2 309.7M410.7 309.7L412.9 310.0M421.7 310.9L424.0 311.1M430.1 311.8L432.4 312.0M438.6 312.7L440.9 313.0"/>
<path stroke="#930700" d="M383.7 306.8L385.9 307.1M386.4 307.1L388.6 307.3M402.5 308.8L404.7 309.1M432.9 312.1L435.2 312.4"/>
<path stroke="#8a0000" d="M389.0 307.4L391.2 307.6M391.7 307.7L393.9 307.9M405.2 309.1L407.4 309.4M416.2 310.3L418.4 310.5M418.9 310.6L421.2 310.8M427.3 311.5L429.6 311.7M435.7 312.4L438.1 312.7"/>
<path stroke="#931000" d="M413.4 310.0L415.7 310.3"/>
<path stroke="#820000" d="M424.5 311.2L426.8 311.4"/>
<path stroke="#930700" d="M380.9 301.4L383.1 301.7M386.2 302.0L388.4 302.2M388.9 302.3L391.1 302.5M391.6 302.5L393.8 302.8M397.0 303.1L399.2 303.3M407.9 304.2L410.2 304.5M410.6 304.5L412.9 304.8M413.4 304.8L415.7 305.0M416.2 305.1L418.5 305.3M418.9 305.4L421.2 305.6M435.8 307.1L438.2 307.4"/>
<path stroke="#930000" d="M383.6 301.7L385.8 301.9M394.3 302.8L396.5 303.1M399.7 303.4L401.9 303.6M402.4 303.7L404.7 303.9M405.1 304.0L407.4 304.2M421.7 305.7L424.0 305.9M424.5 306.0L426.8 306.2M433.0 306.8L435.3 307.1M438.7 307.4L441.0 307.7"/>
<path stroke="#931000" d="M427.3 306.3L429.7 306.5"/>
<path stroke="#8a0000" d="M430.2 306.6L432.5 306.8"/>
<path stroke="#930000" d="M380.8 296.3L383.0 296.5M399.6 298.2L401.9 298.4M407.9 299.0L410.1 299.2M410.6 299.3L412.9 299.5M419.0 300.1L421.3 300.4M421.8 300.4L424.1 300.6M424.6 300.7L426.9 300.9M430.2 301.3L432.6 301.5"/>
<path stroke="#8a0000" d="M383.4 296.5L385.6 296.8M386.1 296.8L388.3 297.0M388.8 297.1L391.0 297.3M394.2 297.6L396.4 297.9M396.9 297.9L399.2 298.1M402.4 298.5L404.6 298.7M413.4 299.6L415.7 299.8M416.2 299.8L418.5 300.1M433.1 301.5L435.4 301.8M438.8 302.1L441.2 302.4"/>
<path stroke="#930700" d="M391.5 297.4L393.7 297.6M405.1 298.7L407.4 299.0M427.4 301.0L429.7 301.2M435.9 301.8L438.3 302.1"/>
<path stroke="#790000" d="M380.6 291.1L382.8 291.3M430.3 295.9L432.7 296.1"/>
<path stroke="#8a0000" d="M383.3 291.3L385.5 291.6M386.0 291.6L388.2 291.8M391.4 292.1L393.6 292.4M394.1 292.4L396.4 292.6M402.3 293.2L404.6 293.4M405.1 293.5L407.3 293.7M407.8 293.7L410.1 294.0M410.6 294.0L412.9 294.2M413.4 294.3L415.7 294.5M421.8 295.1L424.1 295.3M424.6 295.4L427.0 295.6M427.5 295.6L429.8 295.9"/>
<path stroke="#820000" d="M388.7 291.9L390.9 292.1M396.8 292.7L399.1 292.9M399.6 292.9L401.8 293.1M416.2 294.5L418.5 294.8M419.0 294.8L421.3 295.0M433.2 296.2L435.5 296.4M438.9 296.8L441.3 297.0"/>
<path stroke="#930000" d="M436.0 296.5L438.4 296.7"/>
<path stroke="#8a0000" d="M380.5 285.8L382.7 286.1M421.8 289.7L424.2 289.9M439.0 291.3L441.4 291.6"/>
<path stroke="#930000" d="M383.2 286.1L385.4 286.3M385.9 286.3L388.1 286.6M394.0 287.1L396.3 287.3M402.3 287.9L404.5 288.1M405.0 288.1L407.3 288.4M407.8 288.4L410.1 288.6M413.4 288.9L415.7 289.1M416.2 289.2L418.5 289.4M433.2 290.8L435.6 291.0"/>
<path stroke="#931000" d="M388.6 286.6L390.8 286.8"/>
<path stroke="#930700" d="M391.3 286.9L393.5 287.1M396.8 287.4L399.0 287.6M399.5 287.6L401.8 287.8M410.6 288.7L412.9 288.9M419.0 289.5L421.3 289.7M424.7 290.0L427.0 290.2M427.5 290.3L429.9 290.5M430.4 290.5L432.7 290.7M436.1 291.1L438.5 291.3"/>
<path stroke="#930000" d="M380.3 280.6L382.6 280.8M385.7 281.0L388.0 281.2M391.2 281.5L393.4 281.7M393.9 281.8L396.2 282.0M396.7 282.0L399.0 282.2M402.2 282.5L404.5 282.7M407.8 283.0L410.1 283.2M413.4 283.5L415.7 283.7M416.2 283.8L418.5 284.0M421.9 284.3L424.2 284.5M424.7 284.6L427.1 284.8M427.6 284.8L429.9 285.0M430.5 285.1L432.8 285.3M439.1 285.9L441.5 286.1"/>
<path stroke="#8a0000" d="M383.0 280.8L385.3 281.0M399.4 282.3L401.7 282.5M410.6 283.3L412.9 283.5M433.3 285.3L435.7 285.6M436.2 285.6L438.6 285.8"/>
<path stroke="#930700" d="M388.5 281.3L390.7 281.5M419.0 284.1L421.4 284.3"/>
<path stroke="#931000" d="M405.0 282.8L407.3 283.0"/>
<path stroke="#930700" stroke-width="3.1" d="M380.2 275.2L382.4 275.4M388.3 275.9L390.6 276.1M404.9 277.4L407.3 277.6M407.7 277.6L410.1 277.8M410.6 277.9L412.9 278.1M413.4 278.1L415.7 278.3M421.9 278.8L424.3 279.0M433.4 279.8L435.8 280.0M439.2 280.3L441.7 280.6"/>
<path stroke="#930000" stroke-width="3.1" d="M382.9 275.5L385.1 275.6M391.1 276.2L393.4 276.4M399.4 276.9L401.7 277.1M416.2 278.3L418.6 278.6M424.8 279.1L427.1 279.3M427.6 279.3L430.0 279.5M430.5 279.6L432.9 279.8"/>
<path stroke="#931000" stroke-width="3.1" d="M385.6 275.7L387.9 275.9M393.8 276.4L396.1 276.6M396.6 276.6L398.9 276.8M419.1 278.6L421.4 278.8"/>
<path stroke="#8a0000" stroke-width="3.1" d="M402.2 277.1L404.5 277.3M436.3 280.1L438.7 280.3"/>
<path stroke="#ac0000" d="M378.9 314.7L381.1 315.0M386.9 315.7L389.2 315.9M389.6 316.0L391.9 316.2M395.0 316.6L397.3 316.8M397.8 316.9L400.0 317.1M403.2 317.5L405.5 317.8M414.3 318.7L416.6 319.0M419.9 319.4L422.2 319.6M422.7 319.7L425.0 320.0M428.4 320.3L430.7 320.6M434.1 321.0L436.4 321.2"/>
<path stroke="#b60000" d="M381.6 315.0L383.8 315.3M384.2 315.4L386.5 315.6M392.3 316.3L394.6 316.5M400.5 317.2L402.8 317.4M408.8 318.1L411.0 318.4M411.5 318.4L413.8 318.7M417.1 319.1L419.4 319.3M425.5 320.0L427.9 320.3M431.2 320.7L433.6 320.9M436.9 321.3L439.3 321.6"/>
<path stroke="#b70900" d="M406.0 317.8L408.3 318.1"/>
<path stroke="#b60000" d="M378.7 309.6L381.0 309.9M389.5 310.8L391.8 311.1M395.0 311.4L397.2 311.6M397.7 311.7L400.0 311.9M414.3 313.5L416.6 313.8M419.9 314.1L422.3 314.4M428.4 315.1L430.8 315.3M431.3 315.4L433.7 315.6"/>
<path stroke="#ac0000" d="M381.4 309.9L383.6 310.2M384.1 310.2L386.3 310.5M386.8 310.5L389.0 310.8M392.2 311.1L394.5 311.3M400.4 312.0L402.7 312.3M406.0 312.6L408.2 312.9M411.5 313.2L413.8 313.5M417.1 313.8L419.4 314.1M422.8 314.4L425.1 314.7M425.6 314.8L427.9 315.0"/>
<path stroke="#a10000" d="M403.2 312.3L405.5 312.6"/>
<path stroke="#960000" d="M408.7 312.9L411.0 313.2"/>
<path stroke="#b71400" d="M434.2 315.7L436.5 316.0M437.0 316.0L439.4 316.3"/>
<path stroke="#ac0000" d="M378.6 304.5L380.8 304.7M384.0 305.0L386.2 305.3M386.7 305.3L388.9 305.6M397.6 306.5L399.9 306.7M400.4 306.8L402.7 307.0M420.0 308.8L422.3 309.1M422.8 309.2L425.1 309.4"/>
<path stroke="#a10000" d="M381.3 304.7L383.5 305.0M389.4 305.6L391.7 305.8M403.1 307.1L405.4 307.3M405.9 307.4L408.2 307.6M425.7 309.5L428.0 309.7M428.5 309.8L430.9 310.0"/>
<path stroke="#b60000" d="M392.1 305.9L394.4 306.1M408.7 307.7L411.0 307.9M411.5 308.0L413.8 308.2M414.3 308.3L416.6 308.5M417.1 308.5L419.5 308.8M431.4 310.1L433.8 310.3M434.3 310.4L436.6 310.6"/>
<path stroke="#960000" d="M394.9 306.2L397.1 306.4M437.2 310.7L439.5 310.9"/>
<path stroke="#b71400" d="M378.4 299.2L380.7 299.5"/>
<path stroke="#b60000" d="M381.1 299.5L383.4 299.7M383.8 299.8L386.1 300.0M386.6 300.1L388.8 300.3M392.0 300.6L394.3 300.9M394.8 300.9L397.1 301.2M397.5 301.2L399.8 301.4M403.1 301.8L405.4 302.0M405.9 302.1L408.2 302.3M411.5 302.6L413.8 302.9M417.1 303.2L419.5 303.5M425.7 304.1L428.1 304.3M431.5 304.7L433.8 304.9"/>
<path stroke="#b70900" d="M389.3 300.4L391.6 300.6M400.3 301.5L402.6 301.7M414.3 302.9L416.7 303.2M420.0 303.5L422.3 303.8M422.8 303.8L425.2 304.0M428.6 304.4L431.0 304.6M437.3 305.3L439.7 305.5"/>
<path stroke="#ac0000" d="M408.7 302.4L411.0 302.6M434.4 305.0L436.7 305.2"/>
<path stroke="#ac0000" d="M378.3 294.0L380.5 294.2M386.4 294.8L388.7 295.0M391.9 295.3L394.2 295.6M394.7 295.6L397.0 295.8M397.5 295.9L399.8 296.1M400.3 296.2L402.6 296.4M403.0 296.4L405.4 296.7M405.8 296.7L408.2 296.9M422.9 298.4L425.3 298.6M437.4 299.8L439.8 300.1"/>
<path stroke="#a10000" d="M381.0 294.3L383.2 294.5M411.5 297.3L413.8 297.5M414.3 297.6L416.7 297.8M420.0 298.1L422.4 298.4M428.6 299.0L431.0 299.2"/>
<path stroke="#b60000" d="M383.7 294.5L386.0 294.7M389.2 295.1L391.5 295.3M417.2 297.8L419.5 298.1M425.8 298.7L428.1 298.9M434.4 299.6L436.9 299.8"/>
<path stroke="#b70900" d="M408.7 297.0L411.0 297.2M431.5 299.3L433.9 299.5"/>
<path stroke="#ac0000" d="M378.1 288.7L380.4 288.9M389.1 289.7L391.3 289.9M394.6 290.3L396.9 290.5M397.4 290.5L399.7 290.7M408.6 291.6L411.0 291.8M411.5 291.9L413.8 292.1M414.3 292.1L416.7 292.4M420.0 292.7L422.4 292.9M425.8 293.2L428.2 293.5M431.6 293.8L434.0 294.0M437.5 294.4L439.9 294.6"/>
<path stroke="#a10000" d="M380.8 288.9L383.1 289.1M417.2 292.4L419.5 292.6"/>
<path stroke="#b60000" d="M383.6 289.2L385.8 289.4M391.8 290.0L394.1 290.2M400.2 290.8L402.5 291.0M403.0 291.1L405.3 291.3M405.8 291.3L408.1 291.5M422.9 293.0L425.3 293.2M428.7 293.5L431.1 293.7M434.5 294.1L437.0 294.3"/>
<path stroke="#b70900" d="M386.3 289.5L388.6 289.7"/>
<path stroke="#b70900" d="M377.9 283.3L380.2 283.5M383.4 283.8L385.7 284.0M397.3 285.1L399.6 285.3M400.1 285.4L402.4 285.6M402.9 285.6L405.3 285.8M408.6 286.1L411.0 286.4M414.3 286.7L416.7 286.9M417.2 286.9L419.6 287.2M425.9 287.7L428.3 288.0M428.8 288.0L431.2 288.2M431.7 288.3L434.1 288.5M434.6 288.5L437.1 288.8"/>
<path stroke="#b71400" d="M380.7 283.6L382.9 283.8"/>
<path stroke="#b60000" d="M386.2 284.1L388.5 284.3M389.0 284.3L391.2 284.5M391.7 284.6L394.0 284.8M420.1 287.2L422.5 287.4M423.0 287.5L425.4 287.7M437.6 288.8L440.0 289.0"/>
<path stroke="#ac0000" d="M394.5 284.8L396.8 285.1M405.8 285.9L408.1 286.1M411.5 286.4L413.8 286.6"/>
<path stroke="#ac0000" stroke-width="3.1" d="M377.8 277.9L380.0 278.1M380.5 278.2L382.8 278.4M394.4 279.4L396.7 279.6M400.1 279.9L402.4 280.1M402.9 280.1L405.2 280.3M405.7 280.4L408.1 280.6M411.4 280.9L413.8 281.1M417.2 281.4L419.6 281.6M420.1 281.7L422.5 281.9M423.0 281.9L425.4 282.1M425.9 282.2L428.3 282.4"/>
<path stroke="#a10000" stroke-width="3.1" d="M383.3 278.4L385.6 278.6M388.8 278.9L391.1 279.1M391.6 279.1L393.9 279.3M414.3 281.2L416.7 281.4"/>
<path stroke="#b60000" stroke-width="3.1" d="M386.1 278.6L388.4 278.8M397.2 279.6L399.6 279.8M408.6 280.6L410.9 280.9M428.9 282.4L431.3 282.7M434.7 283.0L437.2 283.2M437.7 283.2L440.1 283.4"/>
<path stroke="#b71400" stroke-width="3.1" d="M431.8 282.7L434.2 282.9"/>
<path stroke="#aa0000" d="M376.5 318.0L378.8 318.2M381.9 318.6L384.2 318.9M392.9 319.9L395.2 320.1M395.6 320.2L397.9 320.5M398.4 320.5L400.7 320.8M401.2 320.8L403.5 321.1M412.4 322.1L414.8 322.4M418.1 322.8L420.5 323.1M421.0 323.1L423.3 323.4M423.8 323.4L426.2 323.7M426.7 323.8L429.1 324.0"/>
<path stroke="#9f0000" d="M379.2 318.3L381.5 318.6M384.7 318.9L386.9 319.2M404.0 321.2L406.3 321.4"/>
<path stroke="#b50000" d="M387.4 319.2L389.7 319.5M406.8 321.5L409.1 321.7M409.6 321.8L411.9 322.1M415.3 322.5L417.6 322.7M429.6 324.1L432.0 324.4M432.5 324.4L434.9 324.7M435.4 324.8L437.8 325.1"/>
<path stroke="#c10000" d="M390.1 319.6L392.4 319.8"/>
<path stroke="#c10a00" d="M376.4 312.8L378.6 313.1M409.6 316.5L411.9 316.8"/>
<path stroke="#b50000" d="M379.1 313.1L381.3 313.4M390.0 314.3L392.3 314.6M395.6 315.0L397.9 315.2M406.8 316.2L409.1 316.5M423.9 318.1L426.2 318.4M429.7 318.8L432.0 319.0M435.5 319.4L437.9 319.7"/>
<path stroke="#c10000" d="M381.8 313.4L384.0 313.7M384.5 313.7L386.8 314.0M387.3 314.0L389.5 314.3M392.8 314.6L395.1 314.9M398.3 315.3L400.6 315.5M403.9 315.9L406.3 316.2M412.4 316.8L414.8 317.1M415.3 317.2L417.6 317.4M418.1 317.5L420.5 317.7M421.0 317.8L423.4 318.1M426.8 318.4L429.1 318.7M432.6 319.1L435.0 319.4"/>
<path stroke="#aa0000" d="M401.1 315.6L403.5 315.8"/>
<path stroke="#aa0000" d="M376.2 307.6L378.4 307.8M378.9 307.9L381.2 308.1M381.6 308.2L383.9 308.4M384.4 308.5L386.7 308.7M403.9 310.6L406.2 310.8M412.4 311.5L414.8 311.8M415.3 311.8L417.6 312.1M418.1 312.1L420.5 312.4M423.9 312.7L426.3 313.0M429.7 313.4L432.1 313.6"/>
<path stroke="#c10000" d="M387.2 308.8L389.4 309.0M395.5 309.7L397.8 309.9M401.1 310.3L403.4 310.5M406.7 310.9L409.1 311.1M409.6 311.2L411.9 311.4M426.8 313.1L429.2 313.3"/>
<path stroke="#b50000" d="M389.9 309.1L392.2 309.3M392.7 309.4L395.0 309.6M398.3 310.0L400.6 310.2M421.0 312.4L423.4 312.7"/>
<path stroke="#c11500" d="M432.6 313.7L435.1 314.0M435.6 314.0L438.0 314.3"/>
<path stroke="#c10000" d="M376.0 302.3L378.3 302.5M378.8 302.6L381.0 302.8M384.3 303.2L386.5 303.4M389.8 303.7L392.1 304.0M392.6 304.0L394.9 304.3M409.5 305.8L411.9 306.1M415.3 306.4L417.7 306.7M424.0 307.3L426.4 307.6M429.8 307.9L432.2 308.2M432.7 308.2L435.2 308.5"/>
<path stroke="#b50000" d="M381.5 302.9L383.8 303.1M395.4 304.3L397.7 304.6M398.2 304.6L400.5 304.9M403.9 305.2L406.2 305.5M435.7 308.6L438.1 308.8"/>
<path stroke="#c10a00" d="M387.0 303.4L389.3 303.7M401.0 304.9L403.4 305.2M406.7 305.5L409.0 305.8M412.4 306.1L414.8 306.4M418.2 306.7L420.5 307.0M421.1 307.0L423.4 307.3"/>
<path stroke="#c11500" d="M426.9 307.6L429.3 307.9"/>
<path stroke="#b50000" d="M375.8 297.0L378.1 297.2M384.1 297.8L386.4 298.0M389.7 298.4L392.0 298.6M421.1 301.6L423.5 301.8M426.9 302.1L429.4 302.4M435.8 303.0L438.2 303.3"/>
<path stroke="#c10000" d="M378.6 297.2L380.9 297.5M381.4 297.5L383.6 297.8M392.5 298.7L394.8 298.9M395.3 298.9L397.6 299.2M398.1 299.2L400.5 299.5M409.5 300.4L411.9 300.6M412.4 300.7L414.8 300.9M415.3 301.0L417.7 301.2M418.2 301.3L420.6 301.5M429.9 302.4L432.3 302.7M432.8 302.7L435.3 303.0"/>
<path stroke="#c10a00" d="M386.9 298.1L389.2 298.3M401.0 299.5L403.3 299.8M403.8 299.8L406.2 300.0M406.7 300.1L409.0 300.3M424.0 301.9L426.4 302.1"/>
<path stroke="#b50000" d="M375.7 291.6L377.9 291.8M378.4 291.9L380.7 292.1M381.2 292.1L383.5 292.4M386.8 292.7L389.1 292.9M395.2 293.5L397.6 293.7M398.1 293.8L400.4 294.0M403.8 294.3L406.1 294.6M418.2 295.8L420.6 296.0M421.1 296.0L423.5 296.3M427.0 296.6L429.4 296.9M429.9 296.9L432.4 297.1M435.9 297.5L438.4 297.7"/>
<path stroke="#c10000" d="M384.0 292.4L386.3 292.6M389.6 293.0L391.9 293.2M406.6 294.6L409.0 294.9M409.5 294.9L411.9 295.1M412.4 295.2L414.8 295.4M424.1 296.3L426.5 296.6"/>
<path stroke="#aa0000" d="M392.4 293.2L394.7 293.5M400.9 294.1L403.3 294.3M415.3 295.5L417.7 295.7M432.9 297.2L435.4 297.4"/>
<path stroke="#b50000" d="M375.5 286.2L377.8 286.4M381.0 286.7L383.4 286.9M383.8 287.0L386.2 287.2M386.7 287.2L389.0 287.4M389.5 287.5L391.8 287.7M409.5 289.4L411.9 289.6M415.3 289.9L417.7 290.1M418.2 290.2L420.6 290.4M421.2 290.5L423.6 290.7M430.0 291.3L432.5 291.5M433.0 291.6L435.5 291.8"/>
<path stroke="#aa0000" d="M378.3 286.4L380.6 286.6M392.3 287.7L394.6 288.0M395.1 288.0L397.5 288.2M398.0 288.3L400.3 288.5M406.6 289.1L409.0 289.3M424.1 290.7L426.5 291.0M427.1 291.0L429.5 291.3M436.0 291.9L438.5 292.1"/>
<path stroke="#c10000" d="M400.8 288.6L403.2 288.8"/>
<path stroke="#9f0000" d="M403.7 288.8L406.1 289.0M412.4 289.6L414.8 289.9"/>
<path stroke="#c10000" stroke-width="3.1" d="M375.3 280.7L377.6 280.9M386.5 281.7L388.9 281.9M392.2 282.2L394.5 282.4M395.0 282.5L397.4 282.7M397.9 282.7L400.3 282.9M412.4 284.0L414.8 284.3M415.3 284.3L417.7 284.5M418.2 284.6L420.7 284.8M424.1 285.1L426.6 285.3M427.1 285.4L429.6 285.6M433.1 285.9L435.6 286.2M436.1 286.2L438.6 286.4"/>
<path stroke="#b50000" stroke-width="3.1" d="M378.1 280.9L380.4 281.1M380.9 281.2L383.2 281.4M383.7 281.4L386.0 281.7M400.8 283.0L403.2 283.2M409.5 283.8L411.9 284.0"/>
<path stroke="#aa0000" stroke-width="3.1" d="M389.4 282.0L391.7 282.2M403.7 283.3L406.0 283.5"/>
<path stroke="#c10a00" stroke-width="3.1" d="M406.6 283.5L408.9 283.7M421.2 284.8L423.6 285.1M430.1 285.7L432.6 285.9"/>
<path stroke="#ba0000" d="M374.1 321.3L376.3 321.6M379.6 322.0L381.8 322.3M382.3 322.3L384.6 322.6M385.1 322.6L387.4 322.9M399.1 324.3L401.4 324.6M407.6 325.3L410.0 325.6M419.1 326.6L421.5 326.9M425.0 327.3L427.4 327.6"/>
<path stroke="#af0000" d="M376.8 321.7L379.1 321.9M387.9 323.0L390.2 323.2M430.8 328.0L433.3 328.3"/>
<path stroke="#c60000" d="M390.7 323.3L393.0 323.6M393.5 323.6L395.8 323.9M396.3 323.9L398.6 324.2M401.9 324.6L404.3 324.9M404.8 324.9L407.1 325.2M410.5 325.6L412.8 325.9M413.4 326.0L415.7 326.2M422.0 327.0L424.4 327.3M427.9 327.7L430.3 328.0M433.8 328.4L436.2 328.6"/>
<path stroke="#a30000" d="M416.2 326.3L418.6 326.6"/>
<path stroke="#c60000" d="M373.9 316.1L376.2 316.3M390.6 318.0L392.9 318.3M393.4 318.3L395.7 318.6M396.2 318.6L398.5 318.9M404.7 319.6L407.1 319.9M407.6 319.9L410.0 320.2M416.3 320.9L418.6 321.2M430.9 322.6L433.3 322.9M433.9 322.9L436.3 323.2"/>
<path stroke="#ba0000" d="M376.6 316.4L378.9 316.7M382.2 317.0L384.5 317.3M385.0 317.4L387.3 317.6M387.8 317.7L390.1 317.9M399.0 319.0L401.4 319.2M413.4 320.6L415.7 320.9M419.2 321.3L421.6 321.5"/>
<path stroke="#c60a00" d="M379.4 316.7L381.7 317.0M401.9 319.3L404.2 319.5M410.5 320.3L412.8 320.5M422.1 321.6L424.5 321.9M425.0 321.9L427.4 322.2M428.0 322.3L430.4 322.5"/>
<path stroke="#c60000" d="M373.7 310.8L376.0 311.0M384.8 312.0L387.1 312.3M393.3 313.0L395.6 313.2M396.1 313.3L398.5 313.5M401.8 313.9L404.2 314.2M407.6 314.5L409.9 314.8M419.2 315.8L421.6 316.1M422.1 316.1L424.5 316.4M425.1 316.5L427.5 316.7M431.0 317.1L433.4 317.4M434.0 317.5L436.4 317.7"/>
<path stroke="#ba0000" d="M376.5 311.1L378.8 311.3M387.6 312.3L389.9 312.6M390.4 312.6L392.8 312.9M399.0 313.6L401.3 313.8M410.4 314.9L412.8 315.1M413.3 315.2L415.7 315.4M416.3 315.5L418.7 315.8M428.0 316.8L430.5 317.1"/>
<path stroke="#af0000" d="M379.2 311.4L381.5 311.7"/>
<path stroke="#c60a00" d="M382.0 311.7L384.3 312.0M404.7 314.2L407.1 314.5"/>
<path stroke="#c60000" d="M373.5 305.4L375.8 305.7M384.7 306.6L387.0 306.9M398.9 308.2L401.2 308.4M401.8 308.5L404.1 308.7M407.5 309.1L409.9 309.3M410.4 309.4L412.8 309.7M413.3 309.7L415.8 310.0M416.3 310.0L418.7 310.3M419.2 310.3L421.6 310.6M428.1 311.3L430.5 311.6"/>
<path stroke="#ba0000" d="M376.3 305.7L378.6 306.0M396.0 307.9L398.4 308.1"/>
<path stroke="#c60a00" d="M379.1 306.0L381.4 306.3M381.9 306.3L384.2 306.6M387.5 306.9L389.8 307.2M390.3 307.2L392.7 307.5M393.2 307.5L395.5 307.8M422.2 310.7L424.6 310.9M425.1 311.0L427.6 311.2"/>
<path stroke="#af0000" d="M404.6 308.8L407.0 309.0"/>
<path stroke="#c61500" d="M431.1 311.6L433.5 311.9M434.1 311.9L436.5 312.2"/>
<path stroke="#af0000" d="M373.3 300.0L375.6 300.3M390.2 301.8L392.6 302.0M401.7 303.0L404.1 303.2M413.3 304.2L415.8 304.4M416.3 304.5L418.7 304.7M431.1 306.0L433.6 306.3M434.2 306.3L436.6 306.6"/>
<path stroke="#ba0000" d="M376.1 300.3L378.4 300.6M378.9 300.6L381.2 300.9M387.4 301.5L389.7 301.7M395.9 302.4L398.3 302.6M398.8 302.7L401.2 302.9M404.6 303.3L407.0 303.5M422.2 305.1L424.6 305.4M425.2 305.4L427.6 305.7"/>
<path stroke="#c60000" d="M381.7 300.9L384.1 301.2M384.6 301.2L386.9 301.4M393.1 302.1L395.4 302.3M407.5 303.6L409.9 303.8M410.4 303.9L412.8 304.1M419.2 304.8L421.7 305.1M428.1 305.7L430.6 306.0"/>
<path stroke="#ba0000" d="M373.1 294.6L375.5 294.8M375.9 294.9L378.3 295.1M381.6 295.4L383.9 295.7M384.4 295.7L386.8 296.0M387.3 296.0L389.6 296.2M401.6 297.4L404.0 297.7M407.5 298.0L409.9 298.3M410.4 298.3L412.8 298.6M428.2 300.1L430.7 300.4M434.2 300.7L436.7 301.0"/>
<path stroke="#c60000" d="M378.8 295.2L381.1 295.4M393.0 296.6L395.3 296.8M395.9 296.9L398.2 297.1M404.5 297.7L407.0 298.0M413.3 298.6L415.8 298.9M419.3 299.2L421.7 299.5M425.2 299.8L427.7 300.1M431.2 300.4L433.7 300.7"/>
<path stroke="#c60a00" d="M390.1 296.3L392.5 296.5M422.2 299.5L424.7 299.8"/>
<path stroke="#af0000" d="M398.7 297.2L401.1 297.4M416.3 298.9L418.7 299.2"/>
<path stroke="#ba0000" d="M373.0 289.1L375.3 289.3M384.3 290.2L386.6 290.4M387.1 290.5L389.5 290.7M404.5 292.1L406.9 292.4M407.4 292.4L409.9 292.7M410.4 292.7L412.8 292.9M413.3 293.0L415.8 293.2M416.3 293.3L418.8 293.5M419.3 293.6L421.7 293.8M425.3 294.1L427.8 294.4"/>
<path stroke="#af0000" d="M375.8 289.4L378.1 289.6M392.9 291.0L395.3 291.2M398.7 291.6L401.1 291.8M422.3 293.9L424.7 294.1M428.3 294.4L430.8 294.7M431.3 294.7L433.8 295.0M434.3 295.0L436.9 295.3"/>
<path stroke="#c60000" d="M378.6 289.6L380.9 289.9M381.4 289.9L383.8 290.1M390.0 290.7L392.4 291.0M395.8 291.3L398.2 291.5M401.6 291.9L404.0 292.1"/>
<path stroke="#c60a00" stroke-width="3.1" d="M372.8 283.5L375.1 283.8M378.4 284.1L380.8 284.3M381.3 284.3L383.6 284.6M384.1 284.6L386.5 284.8M387.0 284.9L389.4 285.1M413.3 287.3L415.8 287.5M416.3 287.6L418.8 287.8M428.4 288.7L430.9 288.9M431.4 289.0L433.9 289.2M434.4 289.3L437.0 289.5"/>
<path stroke="#c60000" stroke-width="3.1" d="M375.6 283.8L377.9 284.0M389.9 285.1L392.3 285.4M392.8 285.4L395.2 285.6M395.7 285.7L398.1 285.9M398.6 285.9L401.0 286.2M404.5 286.5L406.9 286.7M425.3 288.4L427.8 288.7"/>
<path stroke="#ba0000" stroke-width="3.1" d="M401.5 286.2L403.9 286.4M407.4 286.8L409.8 287.0"/>
<path stroke="#af0000" stroke-width="3.1" d="M410.4 287.0L412.8 287.3"/>
<path stroke="#c61500" stroke-width="3.1" d="M419.3 287.9L421.8 288.1M422.3 288.1L424.8 288.4"/>
<path stroke="#cb0000" d="M371.5 324.8L373.8 325.1M374.3 325.1L376.6 325.4M379.9 325.8L382.2 326.1M382.7 326.1L385.0 326.4M385.5 326.5L387.9 326.7M388.4 326.8L390.7 327.1M399.8 328.2L402.2 328.5M405.6 328.9L408.0 329.2M411.4 329.6L413.8 329.9M414.3 329.9L416.7 330.2M423.2 331.0L425.6 331.3M432.1 332.1L434.6 332.4"/>
<path stroke="#cc0a00" d="M377.1 325.5L379.4 325.7"/>
<path stroke="#bf0000" d="M391.2 327.1L393.6 327.4M394.1 327.5L396.4 327.8M396.9 327.8L399.3 328.1M402.7 328.5L405.1 328.8M408.5 329.2L410.9 329.5M417.3 330.3L419.7 330.6M426.1 331.3L428.6 331.6M429.1 331.7L431.6 332.0"/>
<path stroke="#b30000" d="M420.2 330.6L422.6 330.9"/>
<path stroke="#cc0a00" d="M371.3 319.5L373.6 319.7M374.1 319.8L376.4 320.1M379.8 320.4L382.1 320.7M382.6 320.8L384.9 321.0M388.2 321.4L390.6 321.7M394.0 322.1L396.3 322.4M399.7 322.8L402.1 323.1M402.6 323.1L405.0 323.4M405.5 323.5L407.9 323.7M408.4 323.8L410.9 324.1M411.4 324.1L413.8 324.4M426.2 325.9L428.7 326.2"/>
<path stroke="#cc1600" d="M376.9 320.1L379.3 320.4M391.1 321.8L393.5 322.0M396.8 322.4L399.2 322.7"/>
<path stroke="#cb0000" d="M385.4 321.1L387.7 321.4M414.3 324.5L416.7 324.8M417.3 324.8L419.7 325.1M420.2 325.2L422.7 325.5M423.2 325.5L425.7 325.8M429.2 326.2L431.7 326.5M432.2 326.6L434.7 326.9"/>
<path stroke="#bf0000" d="M371.1 314.1L373.5 314.4M374.0 314.4L376.3 314.7M388.1 316.0L390.5 316.3M393.9 316.7L396.2 316.9M396.8 317.0L399.1 317.3M399.7 317.3L402.1 317.6M405.5 318.0L407.9 318.3M417.3 319.3L419.7 319.6M423.3 320.0L425.7 320.3"/>
<path stroke="#b30000" d="M376.8 314.7L379.1 315.0M391.0 316.3L393.4 316.6M420.3 319.7L422.7 319.9M426.3 320.3L428.7 320.6"/>
<path stroke="#cb0000" d="M379.6 315.1L381.9 315.3M382.4 315.4L384.8 315.6M402.6 317.7L405.0 317.9M408.4 318.3L410.8 318.6M411.4 318.6L413.8 318.9M414.3 319.0L416.8 319.3"/>
<path stroke="#cc0a00" d="M385.3 315.7L387.6 316.0M429.3 320.7L431.8 321.0M432.3 321.0L434.8 321.3"/>
<path stroke="#cb0000" d="M370.9 308.7L373.3 308.9M379.4 309.6L381.8 309.9M382.3 309.9L384.6 310.2M385.1 310.2L387.5 310.5M388.0 310.6L390.4 310.8M390.9 310.9L393.3 311.1M399.6 311.8L402.0 312.1M402.5 312.1L404.9 312.4M408.4 312.8L410.8 313.1M414.3 313.4L416.8 313.7M417.3 313.8L419.8 314.0M420.3 314.1L422.8 314.4M423.3 314.4L425.8 314.7M426.3 314.7L428.8 315.0M429.3 315.1L431.8 315.4M432.4 315.4L434.9 315.7"/>
<path stroke="#cc0a00" d="M373.8 309.0L376.1 309.2M376.6 309.3L378.9 309.6M396.7 311.5L399.1 311.8M405.4 312.5L407.9 312.7"/>
<path stroke="#bf0000" d="M393.8 311.2L396.2 311.4M411.4 313.1L413.8 313.4"/>
<path stroke="#bf0000" d="M370.7 303.2L373.1 303.5M385.0 304.7L387.4 305.0M387.9 305.0L390.3 305.3M393.7 305.6L396.1 305.9M396.6 306.0L399.0 306.2M405.4 306.9L407.8 307.1M408.4 307.2L410.8 307.5M426.4 309.1L428.9 309.4"/>
<path stroke="#b30000" d="M373.6 303.5L375.9 303.8M390.8 305.3L393.2 305.6M399.5 306.3L401.9 306.5M402.5 306.6L404.9 306.8M420.3 308.5L422.8 308.7M423.3 308.8L425.8 309.1"/>
<path stroke="#cc0a00" d="M376.4 303.8L378.8 304.1M417.3 308.2L419.8 308.4"/>
<path stroke="#cb0000" d="M379.3 304.1L381.6 304.4M382.1 304.4L384.5 304.7M411.3 307.5L413.8 307.8M414.3 307.8L416.8 308.1"/>
<path stroke="#cc1600" d="M429.4 309.4L431.9 309.7M432.5 309.8L435.0 310.0"/>
<path stroke="#bf0000" d="M370.5 297.7L372.9 297.9M373.4 298.0L375.7 298.2M384.9 299.2L387.2 299.4M396.5 300.4L398.9 300.6M402.4 301.0L404.8 301.2M405.4 301.3L407.8 301.5M423.4 303.1L425.9 303.4M426.4 303.4L428.9 303.7M429.5 303.7L432.0 304.0"/>
<path stroke="#cb0000" d="M376.2 298.3L378.6 298.5M382.0 298.9L384.3 299.1M408.3 301.6L410.8 301.8M417.3 302.5L419.8 302.7M420.4 302.8L422.9 303.0M432.6 304.0L435.1 304.3"/>
<path stroke="#b30000" d="M379.1 298.6L381.5 298.8M387.8 299.5L390.1 299.7M390.7 299.8L393.1 300.0M399.4 300.7L401.9 300.9M411.3 301.9L413.8 302.1"/>
<path stroke="#cc0a00" d="M393.6 300.1L396.0 300.3M414.3 302.2L416.8 302.4"/>
<path stroke="#cb0000" d="M370.3 292.1L372.7 292.4M376.1 292.7L378.4 292.9M381.8 293.3L384.2 293.5M384.7 293.5L387.1 293.8M390.5 294.1L393.0 294.4M396.4 294.7L398.9 294.9M411.3 296.2L413.8 296.4M414.3 296.5L416.8 296.7M417.3 296.8L419.8 297.0M420.4 297.1L422.9 297.3M423.4 297.4L426.0 297.6M426.5 297.7L429.0 297.9M429.6 298.0L432.1 298.2M432.6 298.3L435.2 298.5"/>
<path stroke="#bf0000" d="M373.2 292.4L375.6 292.6M378.9 293.0L381.3 293.2M393.5 294.4L395.9 294.6M408.3 295.9L410.8 296.1"/>
<path stroke="#cc0a00" d="M387.6 293.8L390.0 294.1M399.4 295.0L401.8 295.2"/>
<path stroke="#cc1600" d="M402.3 295.3L404.8 295.5"/>
<path stroke="#b30000" d="M405.3 295.6L407.8 295.8"/>
<path stroke="#cb0000" stroke-width="3.1" d="M370.1 286.5L372.5 286.7M373.0 286.8L375.4 287.0M378.8 287.3L381.2 287.6M381.7 287.6L384.1 287.8M387.5 288.2L389.9 288.4M390.4 288.4L392.9 288.7M402.3 289.6L404.8 289.8M408.3 290.1L410.8 290.4M411.3 290.4L413.8 290.6M414.3 290.7L416.8 290.9M426.6 291.9L429.1 292.1"/>
<path stroke="#bf0000" stroke-width="3.1" d="M375.9 287.0L378.3 287.3M384.6 287.9L387.0 288.1M393.4 288.7L395.8 288.9M396.3 289.0L398.8 289.2M399.3 289.3L401.8 289.5M405.3 289.8L407.8 290.1M417.4 291.0L419.9 291.2M420.4 291.3L422.9 291.5M423.5 291.6L426.0 291.8M429.6 292.2L432.2 292.4M432.7 292.4L435.3 292.7"/>
<path stroke="#bf0000" d="M368.9 328.3L371.3 328.6M371.8 328.7L374.1 329.0M377.4 329.4L379.8 329.7M383.1 330.1L385.5 330.4M391.8 331.1L394.2 331.4M397.6 331.9L400.0 332.2M403.5 332.6L405.9 332.9M409.4 333.3L411.8 333.6M412.3 333.7L414.8 334.0M418.3 334.4L420.8 334.7M424.3 335.1L426.8 335.4M427.4 335.5L429.9 335.8M430.4 335.9L432.9 336.2"/>
<path stroke="#b30000" d="M374.6 329.0L376.9 329.3M386.0 330.4L388.4 330.7M388.9 330.8L391.3 331.1M394.7 331.5L397.1 331.8M400.5 332.2L402.9 332.5M406.4 332.9L408.8 333.2M415.3 334.0L417.8 334.3M421.3 334.8L423.8 335.1"/>
<path stroke="#cb0000" d="M380.3 329.7L382.6 330.0"/>
<path stroke="#cc1600" d="M368.7 323.0L371.1 323.2M380.1 324.3L382.5 324.6M385.9 325.0L388.3 325.3"/>
<path stroke="#cc0a00" d="M371.6 323.3L373.9 323.6M383.0 324.7L385.4 324.9M394.6 326.0L397.0 326.3M400.5 326.7L402.9 327.0M403.4 327.1L405.8 327.4M409.3 327.8L411.8 328.1M412.3 328.2L414.8 328.4M415.3 328.5L417.8 328.8M424.4 329.6L426.9 329.9"/>
<path stroke="#cb0000" d="M374.4 323.6L376.7 323.9M377.2 324.0L379.6 324.3M388.8 325.3L391.2 325.6M391.7 325.7L394.1 326.0M397.5 326.4L399.9 326.7M406.4 327.4L408.8 327.7M418.3 328.9L420.8 329.2M421.3 329.2L423.8 329.5M430.5 330.3L433.0 330.6"/>
<path stroke="#bf0000" d="M427.4 330.0L429.9 330.3"/>
<path stroke="#bf0000" d="M368.5 317.5L370.9 317.8M371.4 317.9L373.7 318.1M374.2 318.2L376.6 318.5M382.8 319.2L385.2 319.5M385.7 319.5L388.1 319.8M388.6 319.8L391.0 320.1M394.5 320.5L396.9 320.8M400.4 321.2L402.8 321.5M412.3 322.6L414.8 322.9M418.3 323.3L420.8 323.6M421.4 323.6L423.9 323.9M424.4 324.0L426.9 324.3M427.5 324.3L430.0 324.6"/>
<path stroke="#cb0000" d="M377.1 318.5L379.4 318.8M379.9 318.8L382.3 319.1M403.4 321.5L405.8 321.8M406.3 321.9L408.8 322.2"/>
<path stroke="#b30000" d="M391.6 320.2L394.0 320.5M397.4 320.9L399.9 321.1M409.3 322.2L411.8 322.5M415.3 322.9L417.8 323.2M430.6 324.7L433.1 325.0"/>
<path stroke="#cb0000" d="M368.3 312.0L370.6 312.3M376.9 313.0L379.3 313.3M379.8 313.3L382.2 313.6M382.7 313.6L385.1 313.9M385.6 314.0L388.0 314.2M391.5 314.6L393.9 314.9M394.4 315.0L396.8 315.2M397.4 315.3L399.8 315.6M403.3 316.0L405.8 316.2M406.3 316.3L408.8 316.6M412.3 317.0L414.8 317.2M415.3 317.3L417.8 317.6M418.4 317.6L420.9 317.9M421.4 318.0L423.9 318.3"/>
<path stroke="#bf0000" d="M371.2 312.4L373.5 312.6M374.0 312.7L376.4 312.9M388.5 314.3L390.9 314.6M400.3 315.6L402.8 315.9M409.3 316.6L411.8 316.9M424.5 318.3L427.0 318.6"/>
<path stroke="#b30000" d="M427.6 318.7L430.1 319.0"/>
<path stroke="#cc0a00" d="M430.6 319.0L433.2 319.3"/>
<path stroke="#cb0000" d="M368.1 306.5L370.4 306.8M370.9 306.8L373.3 307.1M376.7 307.4L379.1 307.7M385.5 308.4L387.9 308.6M391.3 309.0L393.8 309.3M394.3 309.3L396.7 309.6M397.3 309.7L399.7 309.9M403.2 310.3L405.7 310.6M412.3 311.3L414.8 311.6M415.3 311.6L417.9 311.9M424.5 312.6L427.1 312.9M427.6 312.9L430.2 313.2M430.7 313.3L433.3 313.6"/>
<path stroke="#cc0a00" d="M373.8 307.1L376.2 307.4M400.3 310.0L402.7 310.2M406.3 310.6L408.7 310.9M409.3 311.0L411.8 311.2M418.4 311.9L420.9 312.2"/>
<path stroke="#bf0000" d="M379.6 307.7L382.0 308.0M382.5 308.1L384.9 308.3"/>
<path stroke="#cc1600" d="M388.4 308.7L390.8 309.0M421.5 312.3L424.0 312.5"/>
<path stroke="#cb0000" d="M367.9 300.9L370.2 301.2M370.7 301.2L373.1 301.5"/>
<path stroke="#b30000" d="M373.6 301.5L376.0 301.8M379.5 302.1L381.9 302.4M388.3 303.0L390.7 303.3M394.2 303.7L396.7 303.9M403.2 304.6L405.7 304.9M412.3 305.6L414.8 305.8M424.6 306.8L427.1 307.1"/>
<path stroke="#bf0000" d="M376.5 301.8L378.9 302.1M382.4 302.4L384.8 302.7M385.3 302.7L387.7 303.0M391.2 303.3L393.7 303.6M397.2 304.0L399.7 304.2M400.2 304.3L402.7 304.5M406.2 304.9L408.7 305.2M409.2 305.2L411.8 305.5M415.3 305.9L417.9 306.1M418.4 306.2L420.9 306.5M421.5 306.5L424.0 306.8"/>
<path stroke="#cc1600" d="M427.7 307.2L430.3 307.4M430.8 307.5L433.4 307.8"/>
<path stroke="#cb0000" d="M367.6 295.3L370.0 295.5M373.4 295.8L375.8 296.1M376.4 296.1L378.8 296.4M400.1 298.5L402.6 298.8M403.1 298.8L405.6 299.1M412.3 299.8L414.8 300.0M418.4 300.4L421.0 300.6M427.8 301.3L430.3 301.6M430.9 301.6L433.5 301.9"/>
<path stroke="#bf0000" d="M370.5 295.6L372.9 295.8M379.3 296.4L381.7 296.7M388.1 297.3L390.6 297.6M397.1 298.2L399.6 298.5M409.2 299.5L411.7 299.7M415.3 300.1L417.9 300.3"/>
<path stroke="#cc0a00" d="M382.2 296.7L384.7 297.0M385.2 297.0L387.6 297.3M394.1 297.9L396.6 298.2M424.6 301.0L427.2 301.3"/>
<path stroke="#b30000" d="M391.1 297.6L393.6 297.9M421.5 300.7L424.1 301.0"/>
<path stroke="#cc1600" d="M406.2 299.1L408.7 299.4"/>
<path stroke="#a70000" stroke-width="3.1" d="M367.4 289.6L369.8 289.8"/>
<path stroke="#cb0000" stroke-width="3.1" d="M370.3 289.8L372.7 290.1M379.1 290.7L381.5 290.9M385.0 291.3L387.5 291.5M427.8 295.4L430.4 295.7"/>
<path stroke="#bf0000" stroke-width="3.1" d="M373.2 290.1L375.7 290.4M388.0 291.6L390.5 291.8M394.0 292.1L396.5 292.4M406.1 293.3L408.7 293.6M409.2 293.6L411.7 293.9M421.6 294.8L424.1 295.1M431.0 295.7L433.6 296.0"/>
<path stroke="#b30000" stroke-width="3.1" d="M376.2 290.4L378.6 290.6M382.1 291.0L384.5 291.2M391.0 291.8L393.5 292.1M397.0 292.4L399.5 292.7M400.0 292.7L402.5 293.0M403.1 293.0L405.6 293.3M412.3 293.9L414.8 294.2M415.4 294.2L417.9 294.5M418.5 294.5L421.0 294.8M424.7 295.1L427.3 295.4"/>
<path stroke="#940000" d="M366.2 332.0L368.6 332.3M369.1 332.4L371.5 332.7M372.0 332.7L374.3 333.0M383.6 334.2L386.0 334.5M389.4 334.9L391.8 335.2M392.4 335.3L394.8 335.6M395.3 335.7L397.8 336.0M401.3 336.4L403.7 336.7M404.3 336.8L406.7 337.1M407.3 337.2L409.7 337.5M410.3 337.5L412.8 337.8M416.3 338.3L418.9 338.6M422.5 339.1L425.0 339.4M428.6 339.8L431.2 340.2"/>
<path stroke="#9d0000" d="M374.9 333.1L377.2 333.4M380.6 333.8L383.0 334.1M398.3 336.0L400.7 336.3M413.3 337.9L415.8 338.2M419.4 338.7L421.9 339.0M425.5 339.4L428.1 339.8"/>
<path stroke="#9e0800" d="M377.7 333.5L380.1 333.8"/>
<path stroke="#8b0000" d="M386.5 334.6L388.9 334.9"/>
<path stroke="#9d0000" d="M366.0 326.6L368.4 326.8M368.9 326.9L371.3 327.2M392.3 329.8L394.7 330.1M398.2 330.5L400.7 330.8M401.2 330.8L403.7 331.1M407.2 331.6L409.7 331.9M410.3 331.9L412.8 332.3M413.3 332.3L415.8 332.6M422.5 333.4L425.0 333.7M428.7 334.2L431.3 334.5"/>
<path stroke="#940000" d="M371.8 327.3L374.2 327.6M383.4 328.7L385.8 329.0M389.3 329.4L391.7 329.7M404.2 331.2L406.7 331.5M419.4 333.1L422.0 333.4"/>
<path stroke="#9e0800" d="M374.7 327.6L377.1 327.9M380.5 328.3L382.9 328.6M386.3 329.0L388.8 329.3M416.4 332.7L418.9 333.0"/>
<path stroke="#9e1100" d="M377.6 328.0L380.0 328.3M425.6 333.8L428.1 334.1"/>
<path stroke="#8b0000" d="M395.2 330.1L397.7 330.4"/>
<path stroke="#9d0000" d="M365.8 321.1L368.2 321.3M371.6 321.7L374.0 322.0M377.4 322.4L379.8 322.7M380.3 322.8L382.7 323.1M383.3 323.1L385.7 323.4M386.2 323.5L388.7 323.8M392.1 324.2L394.6 324.5M395.1 324.5L397.6 324.8M419.4 327.4L422.0 327.7"/>
<path stroke="#940000" d="M368.7 321.4L371.1 321.7M374.5 322.1L376.9 322.4M389.2 323.8L391.6 324.1M401.1 325.2L403.6 325.5M404.2 325.6L406.7 325.9M407.2 325.9L409.7 326.2M410.2 326.3L412.8 326.6M413.3 326.7L415.8 327.0M422.5 327.8L425.1 328.1M428.8 328.5L431.3 328.8"/>
<path stroke="#9e1100" d="M398.1 324.9L400.6 325.2"/>
<path stroke="#9e0800" d="M416.4 327.0L418.9 327.3M425.6 328.1L428.2 328.4"/>
<path stroke="#9d0000" d="M365.6 315.5L367.9 315.8M377.2 316.8L379.6 317.1M380.2 317.2L382.6 317.4M386.1 317.8L388.5 318.1M389.1 318.2L391.5 318.5M392.0 318.5L394.5 318.8M398.1 319.2L400.5 319.5M401.1 319.6L403.6 319.8M410.2 320.6L412.8 320.9M413.3 321.0L415.8 321.2M419.5 321.7L422.0 322.0M425.7 322.4L428.3 322.7"/>
<path stroke="#9e0800" d="M368.5 315.8L370.8 316.1M371.4 316.2L373.8 316.4M374.3 316.5L376.7 316.8M383.1 317.5L385.6 317.8M416.4 321.3L418.9 321.6"/>
<path stroke="#940000" d="M395.0 318.9L397.5 319.2M404.1 319.9L406.6 320.2M428.8 322.7L431.4 323.0"/>
<path stroke="#9e1100" d="M407.2 320.3L409.7 320.5M422.6 322.0L425.2 322.3"/>
<path stroke="#9e0800" d="M365.3 309.9L367.7 310.1M374.1 310.9L376.5 311.1M401.0 313.8L403.5 314.1M410.2 314.9L412.7 315.1M419.5 315.9L422.1 316.2M428.9 316.9L431.5 317.2"/>
<path stroke="#940000" d="M368.2 310.2L370.6 310.5M371.2 310.5L373.6 310.8M377.0 311.2L379.5 311.4M416.4 315.5L419.0 315.8"/>
<path stroke="#9d0000" d="M380.0 311.5L382.4 311.8M383.0 311.8L385.4 312.1M388.9 312.5L391.4 312.8M391.9 312.8L394.4 313.1M394.9 313.2L397.4 313.4M398.0 313.5L400.5 313.8M404.1 314.2L406.6 314.5M407.1 314.5L409.7 314.8M413.3 315.2L415.8 315.5M422.6 316.2L425.2 316.5M425.8 316.6L428.4 316.9"/>
<path stroke="#9e1100" d="M385.9 312.2L388.4 312.4"/>
<path stroke="#9d0000" d="M365.1 304.2L367.5 304.5M379.8 305.8L382.3 306.1M382.8 306.1L385.3 306.4"/>
<path stroke="#8b0000" d="M368.0 304.5L370.4 304.8M376.8 305.5L379.3 305.7M388.8 306.8L391.3 307.0M394.9 307.4L397.4 307.7M404.0 308.4L406.6 308.6M419.5 310.0L422.1 310.3M425.8 310.7L428.4 311.0M429.0 311.0L431.6 311.3"/>
<path stroke="#940000" d="M370.9 304.8L373.4 305.1M373.9 305.2L376.3 305.4M385.8 306.4L388.3 306.7M391.8 307.1L394.3 307.3M397.9 307.7L400.4 308.0M400.9 308.1L403.5 308.3M407.1 308.7L409.6 309.0M413.3 309.4L415.9 309.6M416.4 309.7L419.0 310.0M422.7 310.4L425.3 310.7"/>
<path stroke="#780000" d="M410.2 309.0L412.7 309.3"/>
<path stroke="#8b0000" d="M364.8 298.5L367.3 298.7M385.7 300.6L388.1 300.9M391.7 301.3L394.2 301.5M397.8 301.9L400.3 302.2M404.0 302.5L406.5 302.8"/>
<path stroke="#9d0000" d="M367.8 298.8L370.2 299.0M376.7 299.7L379.1 300.0M400.9 302.2L403.4 302.5M422.7 304.5L425.3 304.7"/>
<path stroke="#940000" d="M370.7 299.1L373.2 299.3M373.7 299.4L376.1 299.7M379.7 300.0L382.1 300.3M382.6 300.3L385.1 300.6M388.7 300.9L391.2 301.2M394.8 301.6L397.3 301.8M407.1 302.8L409.6 303.1M410.2 303.2L412.7 303.4M413.3 303.5L415.9 303.8M416.4 303.8L419.0 304.1"/>
<path stroke="#810000" d="M419.6 304.1L422.2 304.4"/>
<path stroke="#9e1100" d="M425.9 304.8L428.5 305.1M429.1 305.1L431.7 305.4"/>
<path stroke="#9e1100" stroke-width="3.1" d="M364.6 292.7L367.0 293.0"/>
<path stroke="#9e0800" stroke-width="3.1" d="M367.6 293.0L370.0 293.2M425.9 298.8L428.6 299.1"/>
<path stroke="#9d0000" stroke-width="3.1" d="M370.5 293.3L373.0 293.5M373.5 293.6L376.0 293.8M379.5 294.2L382.0 294.4M382.5 294.5L385.0 294.7M391.6 295.4L394.1 295.6M394.7 295.7L397.2 295.9M397.7 296.0L400.3 296.3M410.1 297.2L412.7 297.5M416.4 297.9L419.0 298.1M422.8 298.5L425.4 298.7M429.1 299.1L431.8 299.4"/>
<path stroke="#940000" stroke-width="3.1" d="M376.5 293.9L379.0 294.1M385.5 294.8L388.0 295.0M388.6 295.1L391.1 295.3M400.8 296.3L403.4 296.6M403.9 296.6L406.5 296.9M407.0 296.9L409.6 297.2M413.3 297.5L415.9 297.8M419.6 298.2L422.2 298.4"/>
<path stroke="#960000" d="M363.5 335.8L365.9 336.1M369.3 336.6L371.7 336.9M390.0 339.2L392.4 339.5M411.2 341.9L413.8 342.3"/>
<path stroke="#870000" d="M366.4 336.2L368.8 336.5M372.2 336.9L374.6 337.2M375.1 337.3L377.6 337.6M378.1 337.7L380.5 338.0M384.0 338.4L386.5 338.8M387.0 338.8L389.4 339.1M399.0 340.4L401.5 340.7M405.1 341.1L407.6 341.5M408.2 341.5L410.7 341.9M417.4 342.7L420.0 343.0M423.7 343.5L426.2 343.8M426.8 343.9L429.4 344.3"/>
<path stroke="#a50000" d="M381.0 338.1L383.5 338.4M393.0 339.6L395.5 339.9M402.0 340.7L404.6 341.1M414.3 342.3L416.9 342.6"/>
<path stroke="#780000" d="M396.0 340.0L398.5 340.3"/>
<path stroke="#b40000" d="M420.5 343.1L423.1 343.4"/>
<path stroke="#ff0d00" d="M363.2 330.3L365.6 330.6M366.1 330.6L368.5 330.9M369.1 331.0L371.5 331.3M372.0 331.4L374.4 331.7M395.9 334.3L398.4 334.7M405.1 335.5L407.6 335.8M423.7 337.8L426.3 338.1M426.9 338.2L429.5 338.5"/>
<path stroke="#ef0000" d="M374.9 331.7L377.4 332.0M380.9 332.5L383.3 332.8M402.0 335.1L404.5 335.4"/>
<path stroke="#fe0000" d="M377.9 332.1L380.3 332.4M383.9 332.8L386.3 333.2M386.8 333.2L389.3 333.5M392.9 334.0L395.4 334.3M398.9 334.7L401.4 335.0M408.1 335.9L410.7 336.2M414.3 336.6L416.9 337.0M417.4 337.0L420.0 337.3M420.6 337.4L423.1 337.7"/>
<path stroke="#ff1b00" d="M389.8 333.6L392.3 333.9M411.2 336.3L413.8 336.6"/>
<path stroke="#ff0d00" d="M363.0 324.7L365.4 325.0M365.9 325.1L368.3 325.3M368.8 325.4L371.3 325.7M377.7 326.5L380.2 326.8M383.7 327.2L386.2 327.5M389.7 327.9L392.2 328.2M401.9 329.4L404.5 329.7M417.5 331.3L420.0 331.6M423.7 332.0L426.4 332.4"/>
<path stroke="#fe0000" d="M371.8 325.8L374.2 326.1M374.7 326.1L377.2 326.4M380.7 326.8L383.2 327.1M392.8 328.3L395.3 328.6M395.8 328.7L398.3 329.0M398.9 329.0L401.4 329.3M405.0 329.8L407.6 330.1M411.2 330.5L413.8 330.8M414.3 330.9L416.9 331.2M426.9 332.4L429.5 332.7"/>
<path stroke="#ef0000" d="M386.7 327.6L389.2 327.9M408.1 330.2L410.7 330.5M420.6 331.7L423.2 332.0"/>
<path stroke="#e00000" d="M362.7 319.1L365.1 319.4M386.6 321.9L389.1 322.2M405.0 324.0L407.5 324.3"/>
<path stroke="#ef0000" d="M365.7 319.4L368.1 319.7M371.6 320.1L374.0 320.4M374.6 320.5L377.0 320.7M380.5 321.2L383.0 321.4M383.5 321.5L386.0 321.8M392.7 322.6L395.2 322.9M408.1 324.4L410.6 324.7M411.2 324.7L413.8 325.0M414.3 325.1L416.9 325.4M420.6 325.8L423.2 326.2M427.0 326.6L429.6 326.9"/>
<path stroke="#fe0000" d="M368.6 319.8L371.1 320.0M389.6 322.2L392.1 322.5M395.7 322.9L398.2 323.2M398.8 323.3L401.3 323.6M401.9 323.6L404.4 323.9M423.8 326.2L426.4 326.5"/>
<path stroke="#ff0d00" d="M377.5 320.8L380.0 321.1M417.5 325.5L420.1 325.8"/>
<path stroke="#ef0000" d="M362.5 313.4L364.9 313.7M377.4 315.1L379.8 315.3M380.4 315.4L382.9 315.7M383.4 315.8L385.9 316.0M386.4 316.1L388.9 316.4M398.7 317.5L401.3 317.8M417.5 319.6L420.1 319.9M423.8 320.3L426.5 320.6M427.0 320.7L429.7 321.0"/>
<path stroke="#e00000" d="M365.4 313.7L367.9 314.0M368.4 314.1L370.8 314.3M371.4 314.4L373.8 314.7M392.5 316.8L395.1 317.1M395.6 317.1L398.2 317.4M401.8 317.8L404.4 318.1M404.9 318.2L407.5 318.5M408.0 318.5L410.6 318.8M411.2 318.9L413.8 319.2M414.3 319.3L416.9 319.5M420.7 320.0L423.3 320.3"/>
<path stroke="#fe0000" d="M374.4 314.7L376.8 315.0M389.5 316.4L392.0 316.7"/>
<path stroke="#ef0000" d="M362.2 307.6L364.7 307.9M383.2 309.9L385.8 310.2M389.4 310.6L391.9 310.9M392.4 310.9L395.0 311.2M398.6 311.6L401.2 311.9M411.2 313.0L413.8 313.3M414.3 313.3L416.9 313.6M420.7 314.0L423.3 314.3M427.1 314.7L429.8 315.0"/>
<path stroke="#fe0000" d="M365.2 308.0L367.6 308.2M368.2 308.3L370.6 308.6M371.2 308.6L373.6 308.9M374.2 308.9L376.6 309.2M377.2 309.3L379.7 309.5M380.2 309.6L382.7 309.9M386.3 310.3L388.8 310.5M395.5 311.3L398.1 311.6M408.0 312.6L410.6 312.9"/>
<path stroke="#ff0d00" d="M401.7 312.0L404.3 312.2M404.9 312.3L407.5 312.6M417.5 313.7L420.1 314.0M423.9 314.4L426.5 314.7"/>
<path stroke="#e00000" d="M362.0 301.8L364.4 302.1M370.9 302.8L373.4 303.0M395.4 305.4L398.0 305.6M417.5 307.7L420.2 308.0M420.7 308.0L423.4 308.3"/>
<path stroke="#ef0000" d="M364.9 302.1L367.4 302.4M367.9 302.5L370.4 302.7M374.0 303.1L376.5 303.4M377.0 303.4L379.5 303.7M386.2 304.4L388.7 304.7M389.2 304.7L391.8 305.0M404.8 306.4L407.4 306.6M408.0 306.7L410.6 307.0M411.1 307.0L413.8 307.3M414.3 307.4L417.0 307.6M423.9 308.4L426.6 308.7M427.2 308.7L429.9 309.0"/>
<path stroke="#fe0000" d="M380.0 303.7L382.5 304.0M383.1 304.1L385.6 304.3M392.3 305.0L394.9 305.3M398.5 305.7L401.1 306.0"/>
<path stroke="#d10000" d="M401.7 306.0L404.3 306.3"/>
<path stroke="#e00000" stroke-width="3.1" d="M361.7 296.0L364.2 296.2M364.7 296.3L367.2 296.5M392.2 299.1L394.8 299.3M395.3 299.4L397.9 299.7M404.8 300.4L407.4 300.6M407.9 300.7L410.6 300.9M411.1 301.0L413.8 301.3"/>
<path stroke="#fe0000" stroke-width="3.1" d="M367.7 296.6L370.2 296.8M417.5 301.7L420.2 301.9"/>
<path stroke="#ef0000" stroke-width="3.1" d="M370.7 296.9L373.2 297.1M373.8 297.2L376.3 297.5M376.8 297.5L379.3 297.8M382.9 298.1L385.5 298.4M389.1 298.8L391.7 299.0M401.6 300.0L404.2 300.3M414.3 301.3L417.0 301.6M420.8 302.0L423.4 302.2"/>
<path stroke="#d10000" stroke-width="3.1" d="M379.9 297.8L382.4 298.1M386.0 298.4L388.6 298.7M398.5 299.7L401.1 300.0"/>
<path stroke="#ff1b00" stroke-width="3.1" d="M424.0 302.3L426.7 302.6M427.3 302.6L429.9 302.9"/>
</g>
<polygon points="409.3,272.5 410.5,316.0 393.0,339.5 393.8,298.5" fill="#6c6c6c" fill-opacity="0.48"/>
<polygon points="503.6,343.2 574.9,351.8 591.2,323.4 593.5,270.4 523.8,267.2 504.0,287.0" fill="#f5f5f5" stroke="#eaeaea" stroke-width="0.5"/>
<polyline points="504.0,287.0 503.6,343.2 574.9,351.8 591.2,323.4" fill="none" stroke="#5a5a5a" stroke-width="0.7"/>
<g stroke-linecap="round" fill="none" stroke-width="2.95">
<path stroke="#680000" d="M529.1 311.6L530.2 311.7M536.8 312.5L537.9 312.6M558.6 315.1L559.8 315.2M566.5 316.0L567.6 316.1M579.1 317.5L580.3 317.6M582.3 317.9L583.4 318.0"/>
<path stroke="#790000" d="M530.6 311.8L531.7 311.9M546.1 313.6L547.2 313.7M553.9 314.5L555.0 314.6M560.2 315.2L561.3 315.4M561.8 315.4L562.9 315.6M569.6 316.4L570.8 316.5M576.0 317.1L577.1 317.2"/>
<path stroke="#820000" d="M532.2 311.9L533.3 312.1M538.4 312.7L539.5 312.8M547.7 313.8L548.8 313.9M563.3 315.6L564.5 315.8M574.4 316.9L575.5 317.1M577.5 317.3L578.7 317.4"/>
<path stroke="#931000" d="M533.7 312.1L534.8 312.3M549.2 314.0L550.4 314.1M552.4 314.3L553.5 314.5"/>
<path stroke="#570000" d="M535.3 312.3L536.4 312.4M557.1 314.9L558.2 315.0"/>
<path stroke="#4e0000" d="M539.9 312.9L541.0 313.0"/>
<path stroke="#710000" d="M541.5 313.0L542.6 313.2M568.1 316.2L569.2 316.3M580.7 317.7L581.8 317.8"/>
<path stroke="#5f0000" d="M543.0 313.2L544.1 313.4M544.6 313.4L545.7 313.5M550.8 314.1L551.9 314.3M555.5 314.7L556.6 314.8M564.9 315.8L566.0 315.9M571.2 316.5L572.3 316.7"/>
<path stroke="#932000" d="M572.8 316.7L573.9 316.9"/>
<path stroke="#935200" d="M583.9 318.0L585.0 318.2"/>
<path stroke="#710000" d="M529.0 306.9L530.1 307.0M530.6 307.0L531.7 307.2M532.1 307.2L533.2 307.4M535.2 307.6L536.3 307.7M538.3 308.0L539.5 308.1M555.6 310.0L556.7 310.1M563.5 310.9L564.6 311.0M573.0 312.0L574.1 312.1M580.9 312.9L582.0 313.1"/>
<path stroke="#790000" d="M533.7 307.4L534.8 307.5M536.8 307.8L537.9 307.9M550.9 309.4L552.0 309.5M557.1 310.2L558.3 310.3M558.7 310.3L559.8 310.5M561.9 310.7L563.0 310.8M565.0 311.1L566.2 311.2M571.4 311.8L572.5 311.9M579.3 312.7L580.4 312.9"/>
<path stroke="#680000" d="M539.9 308.1L541.0 308.3M543.0 308.5L544.1 308.6M547.7 309.1L548.8 309.2M552.4 309.6L553.5 309.7M560.3 310.5L561.4 310.7M566.6 311.3L567.7 311.4M569.8 311.6L570.9 311.8"/>
<path stroke="#820000" d="M541.5 308.3L542.6 308.5M544.6 308.7L545.7 308.8M568.2 311.4L569.3 311.6"/>
<path stroke="#931800" d="M546.2 308.9L547.3 309.0M549.3 309.2L550.4 309.4"/>
<path stroke="#931000" d="M554.0 309.8L555.1 309.9"/>
<path stroke="#8a0000" d="M574.5 312.2L575.7 312.3"/>
<path stroke="#932000" d="M576.1 312.4L577.3 312.5"/>
<path stroke="#5f0000" d="M577.7 312.6L578.9 312.7M582.5 313.1L583.6 313.2M584.1 313.3L585.2 313.4"/>
<path stroke="#790000" d="M529.0 302.1L530.1 302.2M541.5 303.6L542.6 303.7M543.0 303.7L544.2 303.9M558.8 305.6L559.9 305.7M579.5 308.0L580.6 308.1M582.7 308.3L583.8 308.5"/>
<path stroke="#710000" d="M530.5 302.3L531.6 302.4M533.6 302.7L534.8 302.8M535.2 302.8L536.3 303.0M538.3 303.2L539.4 303.3M547.8 304.3L548.9 304.4M550.9 304.6L552.0 304.8M552.5 304.8L553.6 305.0M560.4 305.7L561.5 305.9M563.6 306.1L564.7 306.2M566.7 306.5L567.9 306.6M576.3 307.6L577.4 307.7"/>
<path stroke="#932000" d="M532.1 302.5L533.2 302.6M577.9 307.8L579.0 307.9"/>
<path stroke="#570000" d="M536.8 303.0L537.9 303.1"/>
<path stroke="#8a0000" d="M539.9 303.4L541.0 303.5M573.1 307.2L574.2 307.3"/>
<path stroke="#932900" d="M544.6 303.9L545.7 304.1M557.2 305.4L558.4 305.5"/>
<path stroke="#931000" d="M546.2 304.1L547.3 304.2"/>
<path stroke="#931800" d="M549.3 304.5L550.5 304.6"/>
<path stroke="#930000" d="M554.1 305.0L555.2 305.1"/>
<path stroke="#680000" d="M555.6 305.2L556.8 305.3M562.0 305.9L563.1 306.1M568.3 306.7L569.5 306.8M574.7 307.4L575.8 307.5"/>
<path stroke="#5f0000" d="M565.2 306.3L566.3 306.4M569.9 306.8L571.1 307.0M571.5 307.0L572.7 307.2M584.3 308.5L585.5 308.6"/>
<path stroke="#820000" d="M581.1 308.1L582.2 308.3"/>
<path stroke="#790000" d="M528.9 297.3L530.0 297.4M530.5 297.5L531.6 297.6M538.3 298.4L539.4 298.5M539.9 298.6L541.0 298.7M543.1 298.9L544.2 299.1M558.9 300.7L560.0 300.9M563.7 301.3L564.8 301.4M566.9 301.7L568.0 301.8M584.5 303.7L585.7 303.8"/>
<path stroke="#931000" d="M532.0 297.7L533.2 297.8M568.5 301.8L569.6 302.0"/>
<path stroke="#820000" d="M533.6 297.9L534.7 298.0M551.0 299.8L552.1 300.0M554.1 300.2L555.3 300.3M555.7 300.4L556.9 300.5M562.1 301.1L563.2 301.2M578.1 302.9L579.2 303.1M579.7 303.1L580.8 303.3"/>
<path stroke="#932900" d="M535.2 298.0L536.3 298.2"/>
<path stroke="#710000" d="M536.7 298.2L537.9 298.3M547.8 299.5L548.9 299.6M549.4 299.7L550.5 299.8M557.3 300.6L558.4 300.7M565.3 301.5L566.4 301.6M570.1 302.0L571.2 302.1M574.9 302.6L576.0 302.7M576.5 302.8L577.6 302.9M582.9 303.5L584.1 303.6"/>
<path stroke="#680000" d="M541.5 298.8L542.6 298.9M552.5 300.0L553.7 300.1M573.3 302.4L574.4 302.5"/>
<path stroke="#8a0000" d="M544.6 299.1L545.8 299.2M546.2 299.3L547.3 299.4M560.5 300.9L561.6 301.1M581.3 303.3L582.5 303.4"/>
<path stroke="#930000" d="M571.7 302.2L572.8 302.3"/>
<path stroke="#930000" d="M528.8 292.5L530.0 292.6M546.2 294.4L547.4 294.6"/>
<path stroke="#8a0000" d="M530.4 292.6L531.5 292.8M532.0 292.8L533.1 292.9M543.1 294.1L544.2 294.2M552.6 295.2L553.7 295.3M554.2 295.3L555.3 295.5M557.4 295.7L558.5 295.8M559.0 295.9L560.1 296.0M562.2 296.2L563.3 296.4M563.8 296.4L564.9 296.5M581.5 298.4L582.7 298.6"/>
<path stroke="#710000" d="M533.6 293.0L534.7 293.1M536.7 293.4L537.9 293.5M538.3 293.5L539.4 293.7M539.9 293.7L541.0 293.8M549.4 294.8L550.6 294.9M567.0 296.8L568.1 296.9M571.8 297.3L573.0 297.5M584.7 298.8L585.9 298.9"/>
<path stroke="#931800" d="M535.1 293.2L536.3 293.3M541.5 293.9L542.6 294.0"/>
<path stroke="#932000" d="M544.7 294.3L545.8 294.4M555.8 295.5L556.9 295.6"/>
<path stroke="#820000" d="M547.8 294.6L549.0 294.7M551.0 295.0L552.1 295.1M565.4 296.6L566.5 296.7M568.6 297.0L569.8 297.1M575.0 297.7L576.2 297.8M576.7 297.9L577.8 298.0"/>
<path stroke="#790000" d="M560.6 296.1L561.7 296.2M570.2 297.1L571.4 297.3M573.4 297.5L574.6 297.6M579.9 298.2L581.0 298.4"/>
<path stroke="#680000" d="M578.3 298.1L579.4 298.2"/>
<path stroke="#932900" d="M583.1 298.6L584.3 298.7"/>
<path stroke="#710000" d="M528.8 287.6L529.9 287.7M541.5 289.0L542.6 289.1M547.9 289.7L549.0 289.8M554.3 290.4L555.4 290.5M559.1 291.0L560.2 291.1M565.5 291.7L566.7 291.8M567.1 291.9L568.3 292.0M585.0 293.9L586.1 294.0"/>
<path stroke="#790000" d="M530.4 287.7L531.5 287.9M531.9 287.9L533.1 288.0M539.9 288.8L541.0 288.9M543.1 289.2L544.2 289.3M546.3 289.5L547.4 289.7M549.5 289.9L550.6 290.0M552.7 290.2L553.8 290.4M575.2 292.8L576.4 292.9"/>
<path stroke="#820000" d="M533.5 288.1L534.7 288.2M560.7 291.1L561.8 291.3M573.6 292.6L574.8 292.7M578.5 293.1L579.6 293.3M583.3 293.7L584.5 293.8"/>
<path stroke="#680000" d="M535.1 288.3L536.3 288.4M538.3 288.6L539.4 288.8M568.8 292.0L569.9 292.2M580.1 293.3L581.2 293.4M581.7 293.5L582.9 293.6"/>
<path stroke="#931800" d="M536.7 288.5L537.8 288.6"/>
<path stroke="#5f0000" d="M544.7 289.3L545.8 289.5M557.5 290.8L558.6 290.9"/>
<path stroke="#931000" d="M551.1 290.1L552.2 290.2M570.4 292.2L571.5 292.3"/>
<path stroke="#932000" d="M555.9 290.6L557.0 290.7"/>
<path stroke="#932900" d="M562.3 291.3L563.4 291.4"/>
<path stroke="#8a0000" d="M563.9 291.5L565.1 291.6M576.8 292.9L578.0 293.1"/>
<path stroke="#570000" d="M572.0 292.4L573.1 292.5"/>
<path stroke="#931800" d="M528.7 282.6L529.9 282.7M552.7 285.3L553.9 285.4"/>
<path stroke="#820000" d="M530.3 282.8L531.4 282.9M531.9 283.0L533.0 283.1M533.5 283.2L534.6 283.3M544.7 284.4L545.8 284.5M560.8 286.2L561.9 286.3"/>
<path stroke="#931000" d="M535.1 283.3L536.2 283.5M547.9 284.7L549.0 284.9M567.3 286.9L568.4 287.0M585.2 288.9L586.4 289.0"/>
<path stroke="#710000" d="M536.7 283.5L537.8 283.6M543.1 284.2L544.2 284.3M551.1 285.1L552.3 285.2M564.0 286.5L565.2 286.7M573.8 287.6L574.9 287.7M578.7 288.1L579.8 288.3"/>
<path stroke="#790000" d="M538.3 283.7L539.4 283.8M541.5 284.0L542.6 284.2M555.9 285.6L557.1 285.8M557.6 285.8L558.7 285.9M572.1 287.4L573.3 287.6M575.4 287.8L576.6 287.9"/>
<path stroke="#8a0000" d="M539.9 283.9L541.0 284.0M568.9 287.1L570.0 287.2M570.5 287.2L571.7 287.4M583.6 288.7L584.7 288.8"/>
<path stroke="#680000" d="M546.3 284.6L547.4 284.7M554.3 285.5L555.5 285.6M577.0 288.0L578.2 288.1M580.3 288.3L581.5 288.5M581.9 288.5L583.1 288.6"/>
<path stroke="#930000" d="M549.5 284.9L550.7 285.0"/>
<path stroke="#932000" d="M559.2 286.0L560.3 286.1M565.6 286.7L566.8 286.8"/>
<path stroke="#5f0000" d="M562.4 286.3L563.6 286.5"/>
<path stroke="#931800" stroke-width="3.1" d="M528.7 277.6L529.8 277.8"/>
<path stroke="#710000" stroke-width="3.1" d="M530.3 277.8L531.4 277.9M535.1 278.3L536.2 278.5M538.3 278.7L539.4 278.8M554.4 280.4L555.6 280.6M562.5 281.3L563.7 281.5M572.3 282.4L573.5 282.5M575.6 282.8L576.7 282.9M582.1 283.5L583.3 283.6"/>
<path stroke="#790000" stroke-width="3.1" d="M531.9 278.0L533.0 278.1M536.7 278.5L537.8 278.6M547.9 279.7L549.1 279.9M549.6 279.9L550.7 280.0M551.2 280.1L552.3 280.2M564.1 281.5L565.3 281.6M565.8 281.7L566.9 281.8M570.7 282.2L571.8 282.3M577.2 282.9L578.4 283.1M578.8 283.1L580.0 283.2M583.8 283.7L584.9 283.8M585.4 283.8L586.6 284.0"/>
<path stroke="#680000" stroke-width="3.1" d="M533.5 278.2L534.6 278.3M541.5 279.0L542.6 279.2M560.9 281.2L562.1 281.3"/>
<path stroke="#8a0000" stroke-width="3.1" d="M539.9 278.9L541.0 279.0M544.7 279.4L545.9 279.5M546.3 279.6L547.5 279.7M559.3 281.0L560.4 281.1M573.9 282.6L575.1 282.7"/>
<path stroke="#820000" stroke-width="3.1" d="M543.1 279.2L544.2 279.3M567.4 281.9L568.6 282.0M569.0 282.0L570.2 282.2"/>
<path stroke="#931000" stroke-width="3.1" d="M552.8 280.3L553.9 280.4"/>
<path stroke="#934a00" stroke-width="3.1" d="M556.0 280.6L557.2 280.7"/>
<path stroke="#5f0000" stroke-width="3.1" d="M557.6 280.8L558.8 280.9M580.5 283.3L581.7 283.4"/>
<path stroke="#a10000" d="M526.9 314.5L528.0 314.6M533.2 315.3L534.3 315.4M541.1 316.2L542.2 316.3M577.7 320.5L578.8 320.7"/>
<path stroke="#8c0000" d="M528.5 314.7L529.6 314.8M534.8 315.4L535.9 315.6M537.9 315.8L539.0 316.0M558.5 318.3L559.6 318.4M563.3 318.8L564.4 319.0M566.4 319.2L567.6 319.3M569.6 319.6L570.8 319.7M571.2 319.8L572.4 319.9M572.8 320.0L574.0 320.1"/>
<path stroke="#760000" d="M530.1 314.9L531.2 315.0M549.0 317.1L550.1 317.3M555.3 317.9L556.4 318.0M556.9 318.1L558.0 318.2M561.7 318.6L562.8 318.8M579.3 320.7L580.4 320.9M582.5 321.1L583.6 321.3"/>
<path stroke="#ac0000" d="M531.6 315.1L532.7 315.2"/>
<path stroke="#810000" d="M536.3 315.6L537.5 315.8M539.5 316.0L540.6 316.1M550.5 317.3L551.7 317.5M560.1 318.5L561.2 318.6M580.9 320.9L582.0 321.1"/>
<path stroke="#610000" d="M542.6 316.4L543.8 316.5"/>
<path stroke="#960000" d="M544.2 316.6L545.3 316.7M547.4 316.9L548.5 317.1M553.7 317.7L554.8 317.8M574.4 320.2L575.6 320.3M576.0 320.4L577.2 320.5"/>
<path stroke="#b72800" d="M545.8 316.8L546.9 316.9"/>
<path stroke="#6c0000" d="M552.1 317.5L553.3 317.6"/>
<path stroke="#b71e00" d="M564.8 319.0L566.0 319.2"/>
<path stroke="#b71400" d="M568.0 319.4L569.2 319.5"/>
<path stroke="#8c0000" d="M526.9 309.8L528.0 309.9M537.9 311.1L539.0 311.2M563.4 314.1L564.5 314.2M569.8 314.8L570.9 314.9M571.4 315.0L572.5 315.1"/>
<path stroke="#960000" d="M528.4 309.9L529.6 310.1M530.0 310.1L531.1 310.3M536.3 310.9L537.4 311.0M541.1 311.4L542.2 311.6M552.2 312.7L553.3 312.9M561.8 313.9L562.9 314.0M568.2 314.6L569.3 314.8M574.6 315.4L575.8 315.5"/>
<path stroke="#ac0000" d="M531.6 310.3L532.7 310.4M539.5 311.2L540.6 311.4M549.0 312.4L550.1 312.5M558.6 313.5L559.7 313.6M565.0 314.2L566.1 314.4M579.5 315.9L580.6 316.1M581.1 316.1L582.2 316.3"/>
<path stroke="#a10000" d="M533.2 310.5L534.3 310.6M544.2 311.8L545.4 311.9M555.4 313.1L556.5 313.2M560.2 313.7L561.3 313.8M576.2 315.6L577.4 315.7M577.8 315.8L579.0 315.9"/>
<path stroke="#810000" d="M534.7 310.7L535.9 310.8M542.6 311.6L543.8 311.7"/>
<path stroke="#760000" d="M545.8 312.0L547.0 312.1"/>
<path stroke="#b60000" d="M547.4 312.2L548.5 312.3"/>
<path stroke="#b73300" d="M550.6 312.5L551.7 312.7"/>
<path stroke="#b71400" d="M553.8 312.9L554.9 313.1M557.0 313.3L558.1 313.4"/>
<path stroke="#b72800" d="M566.6 314.4L567.7 314.6M573.0 315.2L574.1 315.3"/>
<path stroke="#b76600" d="M582.7 316.3L583.8 316.5"/>
<path stroke="#960000" d="M526.8 305.0L527.9 305.1M537.9 306.2L539.0 306.4M545.8 307.2L547.0 307.3M553.8 308.1L555.0 308.2M558.7 308.7L559.8 308.8M565.1 309.4L566.2 309.5M566.7 309.6L567.9 309.7M573.2 310.3L574.3 310.5M579.6 311.1L580.8 311.2"/>
<path stroke="#760000" d="M528.4 305.1L529.5 305.3"/>
<path stroke="#8c0000" d="M530.0 305.3L531.1 305.5M536.3 306.1L537.4 306.2M539.5 306.4L540.6 306.6M542.7 306.8L543.8 306.9M547.4 307.4L548.6 307.5M549.0 307.5L550.2 307.7M563.5 309.2L564.6 309.4M569.9 310.0L571.1 310.1M574.8 310.5L575.9 310.7M576.4 310.7L577.6 310.9"/>
<path stroke="#b71e00" d="M531.5 305.5L532.7 305.6"/>
<path stroke="#b70900" d="M533.1 305.7L534.3 305.8"/>
<path stroke="#ac0000" d="M534.7 305.9L535.8 306.0M544.3 307.0L545.4 307.1M561.9 309.0L563.0 309.2M571.5 310.2L572.7 310.3M581.3 311.3L582.4 311.4M582.9 311.5L584.1 311.6"/>
<path stroke="#b73300" d="M541.1 306.6L542.2 306.7"/>
<path stroke="#a10000" d="M550.6 307.7L551.8 307.9M555.4 308.3L556.6 308.4M560.3 308.8L561.4 309.0M568.3 309.8L569.5 309.9M578.0 310.9L579.2 311.0"/>
<path stroke="#810000" d="M552.2 307.9L553.4 308.0M557.1 308.5L558.2 308.6"/>
<path stroke="#b71e00" d="M526.7 300.1L527.9 300.2M547.5 302.5L548.6 302.6"/>
<path stroke="#8c0000" d="M528.3 300.3L529.4 300.4M544.3 302.1L545.4 302.3M545.9 302.3L547.0 302.4M550.7 302.9L551.8 303.0M555.5 303.4L556.7 303.5M560.4 304.0L561.5 304.1M570.1 305.1L571.2 305.2"/>
<path stroke="#810000" d="M529.9 300.5L531.0 300.6M534.7 301.0L535.8 301.1M542.7 301.9L543.8 302.1M557.1 303.6L558.3 303.7M562.0 304.2L563.1 304.3"/>
<path stroke="#ac0000" d="M531.5 300.6L532.6 300.8M541.1 301.8L542.2 301.9M573.3 305.5L574.5 305.6M581.5 306.4L582.6 306.5"/>
<path stroke="#a10000" d="M533.1 300.8L534.2 301.0M537.9 301.4L539.0 301.5M539.5 301.6L540.6 301.7M553.9 303.2L555.1 303.4M563.6 304.3L564.7 304.5M571.7 305.3L572.9 305.4M575.0 305.7L576.1 305.8M578.2 306.0L579.4 306.2"/>
<path stroke="#760000" d="M536.3 301.2L537.4 301.3M565.2 304.5L566.4 304.7"/>
<path stroke="#960000" d="M549.1 302.7L550.2 302.8M568.5 304.9L569.6 305.0M576.6 305.8L577.7 306.0M579.8 306.2L581.0 306.3M583.1 306.6L584.3 306.7"/>
<path stroke="#b73300" d="M552.3 303.0L553.4 303.2"/>
<path stroke="#b71400" d="M558.7 303.8L559.9 303.9"/>
<path stroke="#b72800" d="M566.8 304.7L568.0 304.8"/>
<path stroke="#960000" d="M526.7 295.2L527.8 295.3M528.3 295.4L529.4 295.5M544.3 297.2L545.4 297.3M554.0 298.3L555.1 298.4M555.6 298.5L556.7 298.6M558.8 298.9L560.0 299.0M562.1 299.2L563.2 299.4M563.7 299.4L564.9 299.5M567.0 299.8L568.1 299.9M570.2 300.2L571.4 300.3M578.4 301.1L579.6 301.2"/>
<path stroke="#a10000" d="M529.8 295.6L531.0 295.7M575.1 300.7L576.3 300.8"/>
<path stroke="#ac0000" d="M531.4 295.7L532.6 295.9M547.5 297.6L548.7 297.7M550.7 297.9L551.9 298.1"/>
<path stroke="#8c0000" d="M533.0 295.9L534.2 296.1M534.7 296.1L535.8 296.2M537.9 296.5L539.0 296.6M539.5 296.7L540.6 296.8M541.1 296.8L542.2 297.0M549.1 297.8L550.3 297.9M557.2 298.7L558.4 298.8M581.7 301.5L582.9 301.6M583.3 301.6L584.5 301.8"/>
<path stroke="#b73300" d="M536.3 296.3L537.4 296.4"/>
<path stroke="#810000" d="M542.7 297.0L543.8 297.2M552.4 298.1L553.5 298.3M565.3 299.6L566.5 299.7M568.6 300.0L569.8 300.1"/>
<path stroke="#b60000" d="M545.9 297.4L547.0 297.5"/>
<path stroke="#b71400" d="M560.5 299.0L561.6 299.2"/>
<path stroke="#b72800" d="M571.9 300.3L573.0 300.5"/>
<path stroke="#760000" d="M573.5 300.5L574.7 300.7M580.0 301.3L581.2 301.4"/>
<path stroke="#b71e00" d="M576.8 300.9L577.9 301.0"/>
<path stroke="#a10000" d="M526.6 290.2L527.7 290.4M528.2 290.4L529.3 290.6M545.9 292.4L547.1 292.6M549.2 292.8L550.3 292.9M552.4 293.2L553.6 293.3M558.9 293.9L560.1 294.0M567.1 294.8L568.3 294.9M573.7 295.5L574.8 295.7"/>
<path stroke="#960000" d="M529.8 290.6L530.9 290.7M534.6 291.2L535.8 291.3M544.3 292.2L545.5 292.4M568.7 295.0L569.9 295.1M570.4 295.2L571.5 295.3M576.9 295.9L578.1 296.0"/>
<path stroke="#810000" d="M531.4 290.8L532.5 290.9M547.5 292.6L548.7 292.7M550.8 293.0L551.9 293.1M560.6 294.1L561.7 294.2M572.0 295.4L573.2 295.5M581.9 296.5L583.1 296.6"/>
<path stroke="#8c0000" d="M533.0 291.0L534.2 291.1M536.2 291.3L537.4 291.5M537.8 291.5L539.0 291.6M539.5 291.7L540.6 291.8M541.1 291.9L542.2 292.0M542.7 292.1L543.8 292.2M554.0 293.3L555.2 293.5M557.3 293.7L558.5 293.8M578.6 296.1L579.8 296.2"/>
<path stroke="#760000" d="M555.7 293.5L556.8 293.7M580.2 296.3L581.4 296.4M583.5 296.7L584.7 296.8"/>
<path stroke="#b71e00" d="M562.2 294.3L563.4 294.4M563.8 294.4L565.0 294.6"/>
<path stroke="#ac0000" d="M565.5 294.6L566.6 294.8"/>
<path stroke="#b60000" d="M575.3 295.7L576.5 295.9"/>
<path stroke="#a10000" d="M526.5 285.2L527.7 285.4M528.1 285.4L529.3 285.6M546.0 287.4L547.1 287.5M552.5 288.1L553.6 288.3M555.7 288.5L556.9 288.6M565.6 289.6L566.8 289.7M577.1 290.9L578.3 291.0"/>
<path stroke="#960000" d="M529.7 285.6L530.9 285.7M537.8 286.5L539.0 286.6M539.5 286.7L540.6 286.8M544.3 287.2L545.5 287.4M557.4 288.7L558.6 288.8M567.2 289.8L568.4 289.9"/>
<path stroke="#760000" d="M531.4 285.8L532.5 285.9M554.1 288.3L555.3 288.4"/>
<path stroke="#b71e00" d="M533.0 286.0L534.1 286.1M580.4 291.2L581.6 291.4"/>
<path stroke="#810000" d="M534.6 286.1L535.7 286.3M559.0 288.9L560.2 289.0M573.8 290.5L575.0 290.6M578.8 291.1L580.0 291.2"/>
<path stroke="#8c0000" d="M536.2 286.3L537.4 286.5M562.3 289.2L563.5 289.4M568.9 290.0L570.1 290.1M570.5 290.1L571.7 290.3M572.2 290.3L573.4 290.5M575.5 290.7L576.7 290.8"/>
<path stroke="#ac0000" d="M541.1 286.9L542.2 287.0M547.6 287.6L548.7 287.7M550.8 288.0L552.0 288.1"/>
<path stroke="#b60000" d="M542.7 287.0L543.9 287.2M549.2 287.8L550.4 287.9M563.9 289.4L565.1 289.5M583.8 291.6L584.9 291.8"/>
<path stroke="#b71400" d="M560.7 289.0L561.8 289.2"/>
<path stroke="#b70900" d="M582.1 291.4L583.3 291.6"/>
<path stroke="#a10000" stroke-width="3.1" d="M526.4 280.2L527.6 280.3M532.9 280.9L534.1 281.0M536.2 281.3L537.3 281.4M541.1 281.8L542.2 281.9M544.3 282.2L545.5 282.3M547.6 282.5L548.8 282.7M559.1 283.8L560.3 283.9M560.8 284.0L561.9 284.1M569.0 284.9L570.2 285.0M572.3 285.2L573.5 285.4M575.7 285.6L576.8 285.7M580.6 286.2L581.8 286.3M582.3 286.3L583.5 286.5"/>
<path stroke="#810000" stroke-width="3.1" d="M528.1 280.4L529.2 280.5M542.7 282.0L543.9 282.1M555.8 283.4L557.0 283.6M579.0 286.0L580.2 286.1M584.0 286.5L585.2 286.7"/>
<path stroke="#b73300" stroke-width="3.1" d="M529.7 280.6L530.8 280.7"/>
<path stroke="#960000" stroke-width="3.1" d="M531.3 280.7L532.5 280.9M546.0 282.3L547.1 282.5M564.1 284.3L565.2 284.5M574.0 285.4L575.2 285.6M577.3 285.8L578.5 285.9"/>
<path stroke="#8c0000" stroke-width="3.1" d="M534.6 281.1L535.7 281.2M539.4 281.6L540.6 281.8M565.7 284.5L566.9 284.6"/>
<path stroke="#ac0000" stroke-width="3.1" d="M537.8 281.4L539.0 281.6M549.3 282.7L550.4 282.8M567.4 284.7L568.5 284.8"/>
<path stroke="#b72800" stroke-width="3.1" d="M550.9 282.9L552.1 283.0M552.5 283.1L553.7 283.2M570.7 285.1L571.9 285.2"/>
<path stroke="#b77b00" stroke-width="3.1" d="M554.2 283.2L555.4 283.4"/>
<path stroke="#760000" stroke-width="3.1" d="M557.5 283.6L558.6 283.7"/>
<path stroke="#b71e00" stroke-width="3.1" d="M562.4 284.2L563.6 284.3"/>
<path stroke="#9f0000" d="M524.7 317.5L525.9 317.7M526.3 317.7L527.4 317.9M534.3 318.7L535.4 318.8M537.5 319.1L538.6 319.2M539.1 319.3L540.2 319.4M540.7 319.4L541.8 319.6M550.3 320.6L551.4 320.7M563.2 322.1L564.3 322.3M572.9 323.3L574.0 323.4M574.5 323.5L575.7 323.6"/>
<path stroke="#c13600" d="M527.9 317.9L529.0 318.1M545.5 320.0L546.6 320.2"/>
<path stroke="#b50000" d="M529.5 318.1L530.6 318.2M548.7 320.4L549.8 320.5M579.4 324.1L580.6 324.2"/>
<path stroke="#aa0000" d="M531.1 318.3L532.2 318.4M556.7 321.4L557.9 321.5M558.3 321.6L559.5 321.7M566.4 322.5L567.6 322.7M571.3 323.1L572.4 323.2"/>
<path stroke="#940000" d="M532.7 318.5L533.8 318.6M555.1 321.2L556.2 321.3M559.9 321.8L561.1 321.9M568.0 322.7L569.2 322.9M569.6 322.9L570.8 323.1"/>
<path stroke="#880000" d="M535.9 318.9L537.0 319.0M543.9 319.8L545.0 320.0M577.8 323.9L578.9 324.0M581.0 324.3L582.2 324.4"/>
<path stroke="#7d0000" d="M542.3 319.6L543.4 319.8M576.1 323.7L577.3 323.8"/>
<path stroke="#c10000" d="M547.1 320.2L548.2 320.3"/>
<path stroke="#c11500" d="M551.9 320.8L553.0 320.9M561.5 321.9L562.7 322.1"/>
<path stroke="#c12000" d="M553.5 321.0L554.6 321.1"/>
<path stroke="#720000" d="M564.8 322.3L565.9 322.5"/>
<path stroke="#880000" d="M524.7 312.7L525.8 312.9M532.6 313.7L533.8 313.8M545.5 315.2L546.6 315.3M551.9 316.0L553.1 316.1M553.5 316.2L554.7 316.3M555.2 316.3L556.3 316.5M558.4 316.7L559.6 316.9M566.5 317.7L567.7 317.8M568.2 317.9L569.3 318.0M576.3 318.8L577.5 319.0M578.0 319.0L579.1 319.2"/>
<path stroke="#7d0000" d="M526.2 312.9L527.4 313.1M560.0 316.9L561.2 317.1"/>
<path stroke="#940000" d="M527.8 313.1L529.0 313.2M535.8 314.1L537.0 314.2M537.4 314.2L538.6 314.4M540.7 314.6L541.8 314.8M564.9 317.5L566.1 317.6M573.1 318.5L574.2 318.6M574.7 318.7L575.8 318.8"/>
<path stroke="#9f0000" d="M529.4 313.3L530.6 313.4M534.2 313.9L535.4 314.0M548.7 315.6L549.9 315.7"/>
<path stroke="#aa0000" d="M531.0 313.5L532.2 313.6M543.9 315.0L545.0 315.1M581.2 319.4L582.4 319.6"/>
<path stroke="#c11500" d="M539.0 314.4L540.2 314.6"/>
<path stroke="#720000" d="M542.3 314.8L543.4 315.0M556.8 316.5L557.9 316.7M561.7 317.1L562.8 317.2M569.8 318.1L570.9 318.2M571.4 318.3L572.6 318.4"/>
<path stroke="#c12000" d="M547.1 315.4L548.2 315.5M550.3 315.8L551.5 315.9"/>
<path stroke="#c12b00" d="M563.3 317.3L564.4 317.4"/>
<path stroke="#b50000" d="M579.6 319.2L580.8 319.4"/>
<path stroke="#c12b00" d="M524.6 307.9L525.7 308.0M545.5 310.3L546.7 310.5M558.5 311.8L559.7 312.0"/>
<path stroke="#940000" d="M526.2 308.1L527.3 308.2M527.8 308.2L528.9 308.4M529.4 308.4L530.5 308.6M540.7 309.8L541.8 309.9M550.4 310.9L551.5 311.0M553.6 311.3L554.8 311.4M560.1 312.0L561.3 312.2M565.0 312.6L566.2 312.7M568.3 313.0L569.5 313.1"/>
<path stroke="#880000" d="M531.0 308.6L532.1 308.8M532.6 308.8L533.7 308.9M534.2 309.0L535.4 309.1M561.8 312.2L562.9 312.4M579.8 314.3L581.0 314.5"/>
<path stroke="#aa0000" d="M535.8 309.2L537.0 309.3M569.9 313.2L571.1 313.3M573.2 313.6L574.4 313.7M574.9 313.8L576.0 313.9M576.5 314.0L577.7 314.1M578.1 314.1L579.3 314.3"/>
<path stroke="#7d0000" d="M537.4 309.4L538.6 309.5M547.1 310.5L548.3 310.7"/>
<path stroke="#c11500" d="M539.0 309.6L540.2 309.7"/>
<path stroke="#b50000" d="M542.3 309.9L543.4 310.1M548.7 310.7L549.9 310.8"/>
<path stroke="#9f0000" d="M543.9 310.1L545.0 310.3M555.2 311.5L556.4 311.6M556.9 311.7L558.0 311.8M566.7 312.8L567.8 312.9M571.6 313.4L572.7 313.5"/>
<path stroke="#c10a00" d="M552.0 311.1L553.1 311.2"/>
<path stroke="#c12000" d="M563.4 312.4L564.6 312.6"/>
<path stroke="#c16c00" d="M581.4 314.5L582.6 314.7"/>
<path stroke="#940000" d="M524.5 303.0L525.6 303.1M547.2 305.6L548.3 305.7M552.0 306.2L553.2 306.3M556.9 306.7L558.1 306.9M561.9 307.3L563.0 307.4M568.4 308.1L569.6 308.2M575.0 308.8L576.2 309.0M576.7 309.0L577.9 309.2M578.3 309.2L579.5 309.3"/>
<path stroke="#9f0000" d="M526.1 303.2L527.2 303.3M527.7 303.3L528.9 303.5M530.9 303.7L532.1 303.8M548.8 305.8L549.9 305.9M550.4 306.0L551.6 306.1M573.4 308.6L574.6 308.8M581.6 309.6L582.8 309.7"/>
<path stroke="#aa0000" d="M529.3 303.5L530.5 303.7M555.3 306.5L556.5 306.7M570.1 308.3L571.3 308.4"/>
<path stroke="#7d0000" d="M532.6 303.9L533.7 304.0M537.4 304.5L538.6 304.6"/>
<path stroke="#c13600" d="M534.2 304.1L535.3 304.2"/>
<path stroke="#880000" d="M535.8 304.3L536.9 304.4M540.7 304.8L541.8 305.0M542.3 305.0L543.4 305.2M543.9 305.2L545.1 305.4M545.5 305.4L546.7 305.5M553.7 306.3L554.8 306.5M560.2 307.1L561.4 307.2M565.1 307.7L566.3 307.8M566.8 307.9L568.0 308.0"/>
<path stroke="#c12b00" d="M539.0 304.7L540.2 304.8M580.0 309.4L581.2 309.5"/>
<path stroke="#c11500" d="M558.6 306.9L559.8 307.1M571.7 308.4L572.9 308.6"/>
<path stroke="#c12000" d="M563.5 307.5L564.7 307.6"/>
<path stroke="#880000" d="M524.4 298.0L525.6 298.1M527.6 298.4L528.8 298.5M543.9 300.2L545.1 300.4M545.6 300.4L546.7 300.6M555.4 301.6L556.6 301.7M560.3 302.1L561.5 302.3M562.0 302.3L563.1 302.5M563.6 302.5L564.8 302.6"/>
<path stroke="#940000" d="M526.0 298.2L527.2 298.3M529.3 298.6L530.4 298.7M553.7 301.4L554.9 301.5M568.6 303.1L569.8 303.2M575.2 303.8L576.4 304.0"/>
<path stroke="#9f0000" d="M530.9 298.8L532.0 298.9M532.5 298.9L533.7 299.1M535.8 299.3L536.9 299.4M539.0 299.7L540.2 299.8M552.1 301.2L553.3 301.3M558.7 301.9L559.9 302.1M571.9 303.5L573.1 303.6M578.5 304.2L579.7 304.3"/>
<path stroke="#aa0000" d="M534.1 299.1L535.3 299.3M550.5 301.0L551.6 301.1M557.0 301.7L558.2 301.9M573.5 303.6L574.7 303.8"/>
<path stroke="#c12000" d="M537.4 299.5L538.6 299.6M542.3 300.1L543.4 300.2M548.8 300.8L550.0 300.9"/>
<path stroke="#b50000" d="M540.7 299.9L541.8 300.0M581.9 304.6L583.0 304.7"/>
<path stroke="#7d0000" d="M547.2 300.6L548.4 300.8M566.9 302.9L568.1 303.0M580.2 304.4L581.4 304.5"/>
<path stroke="#c11500" d="M565.3 302.7L566.5 302.8"/>
<path stroke="#c10000" d="M570.2 303.3L571.4 303.4"/>
<path stroke="#c12b00" d="M576.9 304.0L578.1 304.2"/>
<path stroke="#940000" d="M524.3 293.0L525.5 293.1M529.2 293.6L530.4 293.7M535.7 294.3L536.9 294.4M543.9 295.2L545.1 295.4M557.1 296.7L558.3 296.9M570.4 298.2L571.6 298.4M573.7 298.6L574.9 298.7M577.1 299.0L578.2 299.1"/>
<path stroke="#9f0000" d="M526.0 293.2L527.1 293.3M532.5 293.9L533.6 294.1M534.1 294.1L535.3 294.2M537.4 294.5L538.5 294.6M553.8 296.3L555.0 296.5M562.1 297.3L563.3 297.4M563.7 297.5L564.9 297.6M575.4 298.8L576.6 298.9"/>
<path stroke="#aa0000" d="M527.6 293.4L528.7 293.5M540.7 294.9L541.8 295.0M547.2 295.6L548.4 295.7M560.4 297.1L561.6 297.2M582.1 299.5L583.3 299.7"/>
<path stroke="#880000" d="M530.8 293.7L532.0 293.9M539.0 294.7L540.2 294.8M555.5 296.5L556.6 296.7M565.4 297.7L566.6 297.8M578.7 299.2L579.9 299.3M580.4 299.4L581.6 299.5"/>
<path stroke="#c10000" d="M542.3 295.0L543.5 295.2"/>
<path stroke="#b50000" d="M545.6 295.4L546.7 295.5M552.2 296.2L553.3 296.3M567.1 297.8L568.2 298.0"/>
<path stroke="#7d0000" d="M548.9 295.8L550.0 295.9"/>
<path stroke="#c12000" d="M550.5 296.0L551.7 296.1"/>
<path stroke="#c12b00" d="M558.8 296.9L559.9 297.0M568.7 298.0L569.9 298.2M572.1 298.4L573.2 298.5"/>
<path stroke="#aa0000" d="M524.2 287.9L525.4 288.1M548.9 290.7L550.1 290.8M572.2 293.3L573.4 293.5M578.9 294.1L580.1 294.2"/>
<path stroke="#b50000" d="M525.9 288.1L527.0 288.3M542.3 290.0L543.5 290.1"/>
<path stroke="#940000" d="M527.5 288.3L528.7 288.4M529.2 288.5L530.3 288.6M534.1 289.0L535.2 289.2M537.4 289.4L538.5 289.5M550.6 290.9L551.7 291.0M552.2 291.1L553.4 291.2M553.9 291.3L555.1 291.4"/>
<path stroke="#880000" d="M530.8 288.7L532.0 288.8M540.7 289.8L541.8 289.9M545.6 290.3L546.8 290.5"/>
<path stroke="#9f0000" d="M532.4 288.9L533.6 289.0M547.3 290.5L548.4 290.7M565.5 292.6L566.7 292.7M568.9 292.9L570.1 293.1M570.5 293.1L571.7 293.3"/>
<path stroke="#c10000" d="M535.7 289.2L536.9 289.4M539.0 289.6L540.2 289.7M563.9 292.4L565.0 292.5M580.6 294.3L581.8 294.4"/>
<path stroke="#c11500" d="M544.0 290.2L545.1 290.3M558.9 291.8L560.0 292.0M562.2 292.2L563.4 292.3M567.2 292.8L568.4 292.9M573.9 293.5L575.1 293.6M575.6 293.7L576.8 293.8"/>
<path stroke="#c10a00" d="M555.5 291.5L556.7 291.6"/>
<path stroke="#c12000" d="M557.2 291.6L558.4 291.8"/>
<path stroke="#c12b00" d="M560.5 292.0L561.7 292.1M582.3 294.4L583.5 294.6"/>
<path stroke="#c13600" d="M577.2 293.9L578.4 294.0"/>
<path stroke="#aa0000" stroke-width="3.1" d="M524.2 282.8L525.3 283.0M542.3 284.8L543.5 285.0M544.0 285.0L545.2 285.2M564.0 287.2L565.2 287.4M580.8 289.1L582.0 289.2M582.5 289.3L583.7 289.4"/>
<path stroke="#c11500" stroke-width="3.1" d="M525.8 283.0L527.0 283.1M540.7 284.7L541.8 284.8M550.6 285.8L551.8 285.9"/>
<path stroke="#9f0000" stroke-width="3.1" d="M527.4 283.2L528.6 283.3M534.0 283.9L535.2 284.1M555.6 286.3L556.8 286.5M579.1 288.9L580.3 289.1"/>
<path stroke="#940000" stroke-width="3.1" d="M529.1 283.4L530.3 283.5M537.3 284.3L538.5 284.4M549.0 285.6L550.1 285.7M565.7 287.4L566.9 287.6M570.7 288.0L571.9 288.1M572.4 288.2L573.6 288.3"/>
<path stroke="#880000" stroke-width="3.1" d="M530.7 283.6L531.9 283.7M532.4 283.7L533.6 283.9M545.6 285.2L546.8 285.3M559.0 286.7L560.2 286.8M560.6 286.9L561.8 287.0M562.3 287.1L563.5 287.2M574.1 288.4L575.3 288.5M577.4 288.7L578.6 288.9"/>
<path stroke="#c10000" stroke-width="3.1" d="M535.7 284.1L536.9 284.2"/>
<path stroke="#c12b00" stroke-width="3.1" d="M539.0 284.5L540.2 284.6"/>
<path stroke="#c13600" stroke-width="3.1" d="M547.3 285.4L548.5 285.5"/>
<path stroke="#c17700" stroke-width="3.1" d="M552.3 285.9L553.5 286.1"/>
<path stroke="#720000" stroke-width="3.1" d="M554.0 286.1L555.1 286.3"/>
<path stroke="#b50000" stroke-width="3.1" d="M557.3 286.5L558.5 286.6M575.7 288.5L577.0 288.7"/>
<path stroke="#7d0000" stroke-width="3.1" d="M567.3 287.6L568.5 287.7M569.0 287.8L570.2 287.9"/>
<path stroke="#c63700" d="M522.5 320.6L523.6 320.8M558.2 324.9L559.3 325.1M559.8 325.1L561.0 325.3M564.7 325.7L565.9 325.9"/>
<path stroke="#c62000" d="M524.1 320.8L525.2 321.0"/>
<path stroke="#970000" d="M525.7 321.0L526.8 321.2M537.0 322.4L538.1 322.5M541.9 323.0L543.0 323.1M551.6 324.2L552.8 324.3M554.9 324.6L556.0 324.7M571.3 326.5L572.5 326.7"/>
<path stroke="#af0000" d="M527.3 321.2L528.4 321.4M532.1 321.8L533.3 322.0M540.2 322.8L541.4 322.9M568.0 326.1L569.2 326.3M572.9 326.7L574.1 326.9"/>
<path stroke="#a30000" d="M528.9 321.4L530.1 321.6M530.5 321.6L531.7 321.8M546.7 323.6L547.9 323.7M550.0 324.0L551.1 324.1M553.2 324.4L554.4 324.5M569.6 326.3L570.8 326.5"/>
<path stroke="#8c0000" d="M533.8 322.0L534.9 322.1M535.4 322.2L536.5 322.3M538.6 322.6L539.8 322.7M556.5 324.8L557.7 324.9M574.6 326.9L575.8 327.1M576.2 327.1L577.4 327.3M577.9 327.3L579.1 327.5"/>
<path stroke="#800000" d="M543.5 323.2L544.6 323.3M545.1 323.4L546.3 323.5"/>
<path stroke="#ba0000" d="M548.4 323.8L549.5 323.9M563.1 325.5L564.2 325.7M579.5 327.5L580.7 327.7"/>
<path stroke="#c61500" d="M561.4 325.3L562.6 325.5M566.4 325.9L567.5 326.1"/>
<path stroke="#a30000" d="M522.4 315.8L523.5 315.9M524.0 316.0L525.1 316.1M527.2 316.4L528.4 316.5M532.1 316.9L533.3 317.1M535.3 317.3L536.5 317.5M537.0 317.5L538.1 317.7M555.0 319.7L556.1 319.8M561.5 320.5L562.7 320.6M566.5 321.0L567.7 321.2M573.1 321.8L574.3 322.0"/>
<path stroke="#8c0000" d="M525.6 316.2L526.8 316.3M530.5 316.8L531.6 316.9M543.5 318.3L544.7 318.4M546.8 318.7L547.9 318.8M550.0 319.1L551.2 319.2M559.9 320.3L561.1 320.4M564.8 320.8L566.0 321.0M569.8 321.4L571.0 321.6"/>
<path stroke="#af0000" d="M528.9 316.6L530.0 316.7M533.7 317.1L534.9 317.3M548.4 318.9L549.6 319.0M558.2 320.1L559.4 320.2M574.8 322.0L575.9 322.2"/>
<path stroke="#970000" d="M538.6 317.7L539.8 317.9M551.7 319.3L552.8 319.4M563.2 320.7L564.4 320.8M571.4 321.6L572.6 321.8M578.1 322.4L579.3 322.6"/>
<path stroke="#ba0000" d="M540.2 317.9L541.4 318.1M541.9 318.1L543.0 318.2M545.1 318.5L546.3 318.6M553.3 319.5L554.5 319.6M568.1 321.2L569.3 321.4M576.4 322.2L577.6 322.4M579.7 322.6L580.9 322.8"/>
<path stroke="#c62000" d="M556.6 319.9L557.8 320.0"/>
<path stroke="#970000" d="M522.3 310.9L523.4 311.0M530.4 311.8L531.6 312.0M532.1 312.0L533.2 312.2M537.0 312.6L538.1 312.7M550.1 314.2L551.3 314.3M566.6 316.1L567.8 316.2"/>
<path stroke="#c63700" d="M523.9 311.1L525.1 311.2M525.5 311.3L526.7 311.4"/>
<path stroke="#c62000" d="M527.2 311.5L528.3 311.6"/>
<path stroke="#a30000" d="M528.8 311.6L530.0 311.8M563.3 315.7L564.5 315.9M576.6 317.3L577.8 317.4"/>
<path stroke="#800000" d="M533.7 312.2L534.8 312.4M553.4 314.5L554.6 314.7"/>
<path stroke="#af0000" d="M535.3 312.4L536.5 312.6M540.2 313.0L541.4 313.1M555.0 314.7L556.2 314.9M556.7 314.9L557.9 315.1M561.6 315.5L562.8 315.7M565.0 315.9L566.1 316.0M568.3 316.3L569.5 316.4M571.6 316.7L572.8 316.8M574.9 317.1L576.1 317.2M578.3 317.5L579.5 317.6"/>
<path stroke="#ba0000" d="M538.6 312.8L539.8 312.9M545.1 313.6L546.3 313.7M548.4 314.0L549.6 314.1M558.3 315.1L559.5 315.3M569.9 316.5L571.1 316.6"/>
<path stroke="#8c0000" d="M541.9 313.2L543.0 313.3M543.5 313.4L544.7 313.5M551.7 314.3L552.9 314.5"/>
<path stroke="#c61500" d="M546.8 313.8L548.0 313.9M573.3 316.9L574.5 317.0"/>
<path stroke="#c62c00" d="M560.0 315.3L561.2 315.5"/>
<path stroke="#c60000" d="M579.9 317.7L581.1 317.8"/>
<path stroke="#af0000" d="M522.2 305.9L523.4 306.1M543.5 308.4L544.7 308.5M556.8 309.9L557.9 310.1M560.1 310.3L561.3 310.5M561.7 310.5L562.9 310.7M575.1 312.1L576.3 312.2M576.8 312.3L578.0 312.4"/>
<path stroke="#a30000" d="M523.8 306.1L525.0 306.2M533.7 307.3L534.8 307.4M535.3 307.4L536.5 307.6M550.1 309.2L551.3 309.3M553.4 309.6L554.6 309.7M570.1 311.5L571.3 311.6"/>
<path stroke="#970000" d="M525.5 306.3L526.6 306.4M536.9 307.6L538.1 307.8M538.6 307.8L539.8 308.0M545.2 308.6L546.3 308.7M551.8 309.4L553.0 309.5M563.4 310.7L564.6 310.9M566.8 311.1L567.9 311.3"/>
<path stroke="#c63700" d="M527.1 306.5L528.3 306.6"/>
<path stroke="#c61500" d="M528.7 306.7L529.9 306.8"/>
<path stroke="#c60a00" d="M530.4 306.9L531.5 307.0M532.0 307.1L533.2 307.2M548.5 309.0L549.7 309.1"/>
<path stroke="#800000" d="M540.2 308.0L541.4 308.2M565.1 310.9L566.3 311.1"/>
<path stroke="#ba0000" d="M541.9 308.2L543.0 308.3M555.1 309.8L556.3 309.9M558.4 310.1L559.6 310.3M573.4 311.9L574.6 312.0"/>
<path stroke="#8c0000" d="M546.8 308.8L548.0 308.9M568.4 311.3L569.6 311.4"/>
<path stroke="#c62000" d="M571.8 311.7L573.0 311.8"/>
<path stroke="#c62c00" d="M578.5 312.5L579.7 312.6"/>
<path stroke="#c66f00" d="M580.1 312.7L581.3 312.8"/>
<path stroke="#a30000" d="M522.1 300.9L523.3 301.0M528.7 301.7L529.8 301.8M548.5 304.0L549.7 304.1M566.9 306.1L568.1 306.2M580.4 307.6L581.6 307.8"/>
<path stroke="#c63700" d="M523.7 301.1L524.9 301.2"/>
<path stroke="#af0000" d="M525.4 301.3L526.6 301.4M550.2 304.1L551.4 304.3M551.8 304.3L553.0 304.5M556.8 304.9L558.0 305.1M561.9 305.5L563.1 305.6M575.3 307.0L576.5 307.2"/>
<path stroke="#8c0000" d="M527.0 301.5L528.2 301.6M532.0 302.0L533.1 302.2M541.9 303.2L543.1 303.3M543.5 303.4L544.7 303.5M553.5 304.5L554.7 304.7M555.2 304.7L556.4 304.9M570.2 306.5L571.4 306.6M571.9 306.7L573.1 306.8"/>
<path stroke="#970000" d="M530.3 301.9L531.5 302.0M540.2 303.0L541.4 303.1M545.2 303.6L546.4 303.7M546.9 303.8L548.0 303.9M558.5 305.1L559.7 305.2M565.2 305.9L566.4 306.0M573.6 306.8L574.8 307.0M577.0 307.2L578.2 307.4M578.7 307.4L579.9 307.6"/>
<path stroke="#750000" d="M533.6 302.2L534.8 302.4M568.6 306.3L569.8 306.4"/>
<path stroke="#c62c00" d="M535.3 302.4L536.4 302.6"/>
<path stroke="#800000" d="M536.9 302.6L538.1 302.7M563.5 305.7L564.7 305.8"/>
<path stroke="#c61500" d="M538.6 302.8L539.7 302.9M560.2 305.3L561.4 305.4"/>
<path stroke="#750000" d="M522.0 295.8L523.2 296.0M555.3 299.6L556.4 299.8M565.3 300.8L566.5 300.9"/>
<path stroke="#8c0000" d="M523.7 296.0L524.8 296.2M525.3 296.2L526.5 296.3M531.9 297.0L533.1 297.1M558.6 300.0L559.8 300.2M562.0 300.4L563.2 300.5M573.8 301.7L575.0 301.9M575.5 301.9L576.7 302.1"/>
<path stroke="#970000" d="M527.0 296.4L528.1 296.5M528.6 296.6L529.8 296.7M546.9 298.7L548.1 298.8M550.2 299.1L551.4 299.2M563.7 300.6L564.9 300.7"/>
<path stroke="#800000" d="M530.3 296.8L531.4 296.9M535.2 297.3L536.4 297.5M536.9 297.5L538.1 297.7M541.9 298.1L543.1 298.2M548.6 298.9L549.7 299.0M551.9 299.3L553.1 299.4M553.6 299.4L554.8 299.6M578.9 302.3L580.1 302.5"/>
<path stroke="#af0000" d="M533.6 297.2L534.8 297.3M538.6 297.7L539.7 297.9M540.2 297.9L541.4 298.1M570.4 301.4L571.6 301.5M577.2 302.1L578.4 302.3"/>
<path stroke="#c61500" d="M543.6 298.3L544.7 298.4M560.3 300.2L561.5 300.3"/>
<path stroke="#a30000" d="M545.2 298.5L546.4 298.6M572.1 301.6L573.3 301.7M580.6 302.5L581.8 302.7"/>
<path stroke="#690000" d="M556.9 299.8L558.1 300.0M568.7 301.2L569.9 301.3"/>
<path stroke="#c60000" d="M567.0 301.0L568.2 301.1"/>
<path stroke="#970000" d="M521.9 290.7L523.1 290.9M523.6 290.9L524.7 291.0M525.2 291.1L526.4 291.2M526.9 291.3L528.1 291.4M530.2 291.7L531.4 291.8M531.9 291.8L533.1 292.0M552.0 294.1L553.2 294.2M555.3 294.5L556.5 294.6M570.6 296.2L571.8 296.3M579.1 297.2L580.3 297.3"/>
<path stroke="#af0000" d="M528.5 291.5L529.7 291.6M538.5 292.6L539.7 292.7M541.9 293.0L543.1 293.1M550.3 293.9L551.5 294.1M574.0 296.6L575.2 296.7"/>
<path stroke="#a30000" d="M533.5 292.0L534.7 292.2M540.2 292.8L541.4 292.9M543.6 293.2L544.8 293.3M545.2 293.4L546.4 293.5M546.9 293.5L548.1 293.7M560.4 295.1L561.6 295.2M562.1 295.3L563.3 295.4M565.5 295.6L566.7 295.8M575.7 296.8L576.9 296.9M580.8 297.4L582.0 297.5"/>
<path stroke="#8c0000" d="M535.2 292.2L536.4 292.4M563.8 295.4L565.0 295.6"/>
<path stroke="#ba0000" d="M536.9 292.4L538.1 292.5M548.6 293.7L549.8 293.9M568.9 296.0L570.1 296.2M577.4 297.0L578.6 297.1"/>
<path stroke="#c62c00" d="M553.6 294.3L554.8 294.4"/>
<path stroke="#c63700" d="M557.0 294.7L558.2 294.8"/>
<path stroke="#800000" d="M558.7 294.9L559.9 295.0"/>
<path stroke="#c61500" d="M567.2 295.8L568.4 296.0"/>
<path stroke="#750000" d="M572.3 296.4L573.5 296.5"/>
<path stroke="#af0000" stroke-width="3.1" d="M521.8 285.6L523.0 285.7M523.5 285.7L524.7 285.9M536.9 287.2L538.1 287.4M555.4 289.3L556.6 289.4M572.4 291.2L573.6 291.3"/>
<path stroke="#c62c00" stroke-width="3.1" d="M525.1 285.9L526.3 286.1M530.2 286.5L531.3 286.6M560.5 289.9L561.7 290.0M569.0 290.8L570.2 290.9"/>
<path stroke="#a30000" stroke-width="3.1" d="M526.8 286.1L528.0 286.2M528.5 286.3L529.7 286.4M533.5 286.9L534.7 287.0M535.2 287.0L536.4 287.2M541.9 287.8L543.1 287.9M543.6 288.0L544.8 288.1M552.0 288.9L553.2 289.1M562.2 290.1L563.4 290.2M574.1 291.4L575.4 291.5"/>
<path stroke="#c61500" stroke-width="3.1" d="M531.8 286.7L533.0 286.8"/>
<path stroke="#970000" stroke-width="3.1" d="M538.5 287.4L539.7 287.5M545.3 288.2L546.5 288.3M557.1 289.5L558.3 289.6M558.8 289.7L560.0 289.8M563.9 290.2L565.1 290.4M575.8 291.6L577.1 291.7"/>
<path stroke="#750000" stroke-width="3.1" d="M540.2 287.6L541.4 287.7"/>
<path stroke="#8c0000" stroke-width="3.1" d="M547.0 288.4L548.2 288.5M567.3 290.6L568.5 290.8M570.7 291.0L571.9 291.1M577.6 291.8L578.8 291.9M581.0 292.1L582.2 292.3"/>
<path stroke="#c63700" stroke-width="3.1" d="M548.6 288.5L549.8 288.7M565.6 290.4L566.8 290.6"/>
<path stroke="#c68500" stroke-width="3.1" d="M550.3 288.7L551.5 288.9"/>
<path stroke="#ba0000" stroke-width="3.1" d="M553.7 289.1L554.9 289.2M579.3 292.0L580.5 292.1"/>
<path stroke="#9b0000" d="M520.2 323.8L521.3 324.0M521.8 324.0L522.9 324.2M523.4 324.2L524.6 324.4M531.6 325.2L532.8 325.4M548.0 327.2L549.2 327.4M556.3 328.2L557.5 328.4M574.7 330.5L575.9 330.6"/>
<path stroke="#a70000" d="M525.0 324.4L526.2 324.6M526.7 324.6L527.8 324.8M528.3 324.8L529.5 325.0M538.2 326.0L539.3 326.2M539.8 326.2L541.0 326.4M549.7 327.4L550.9 327.6M561.3 328.8L562.5 329.0M564.6 329.2L565.8 329.4M566.3 329.4L567.5 329.6M571.3 330.1L572.5 330.2M578.0 330.9L579.2 331.0"/>
<path stroke="#b30000" d="M529.9 325.0L531.1 325.2M541.4 326.4L542.6 326.6M573.0 330.3L574.2 330.4"/>
<path stroke="#cc2d00" d="M533.2 325.4L534.4 325.6M534.9 325.6L536.0 325.8"/>
<path stroke="#900000" d="M536.5 325.8L537.7 326.0M543.1 326.6L544.3 326.8M546.4 327.0L547.6 327.2M558.0 328.4L559.2 328.6M559.6 328.6L560.8 328.8M569.6 329.9L570.8 330.0"/>
<path stroke="#840000" d="M544.7 326.8L545.9 327.0M554.7 328.0L555.8 328.2"/>
<path stroke="#cc1600" d="M551.3 327.6L552.5 327.8M553.0 327.8L554.2 328.0"/>
<path stroke="#cc3800" d="M563.0 329.0L564.2 329.2M576.3 330.7L577.5 330.8"/>
<path stroke="#780000" d="M568.0 329.7L569.2 329.8"/>
<path stroke="#b30000" d="M520.0 318.9L521.2 319.1M523.3 319.3L524.5 319.5M536.5 320.9L537.7 321.0M538.1 321.1L539.3 321.2M539.8 321.3L541.0 321.4M546.4 322.1L547.6 322.2M561.4 323.9L562.6 324.0M574.8 325.5L576.0 325.7"/>
<path stroke="#9b0000" d="M521.7 319.1L522.9 319.3M528.2 319.9L529.4 320.1M529.9 320.1L531.1 320.3M531.5 320.3L532.7 320.5M548.1 322.3L549.3 322.4M549.7 322.5L550.9 322.6M551.4 322.7L552.6 322.8M556.4 323.3L557.6 323.4M571.5 325.1L572.7 325.3"/>
<path stroke="#cc0a00" d="M525.0 319.5L526.1 319.7"/>
<path stroke="#bf0000" d="M526.6 319.7L527.8 319.9M533.2 320.5L534.4 320.7M569.8 324.9L571.0 325.1M576.5 325.7L577.7 325.9"/>
<path stroke="#900000" d="M534.8 320.7L536.0 320.8"/>
<path stroke="#cb0000" d="M541.4 321.5L542.6 321.6M553.1 322.9L554.3 323.0M563.1 324.1L564.3 324.2M566.4 324.5L567.6 324.6M568.1 324.7L569.3 324.8"/>
<path stroke="#cc1600" d="M543.1 321.7L544.3 321.8"/>
<path stroke="#a70000" d="M544.8 321.9L545.9 322.0M554.7 323.1L555.9 323.2M564.8 324.3L566.0 324.4M573.2 325.3L574.4 325.5"/>
<path stroke="#cc2d00" d="M558.1 323.5L559.3 323.6"/>
<path stroke="#cc3800" d="M559.7 323.7L560.9 323.8M578.2 325.9L579.4 326.1"/>
<path stroke="#a70000" d="M519.9 314.0L521.1 314.1M531.5 315.3L532.7 315.5M534.8 315.7L536.0 315.9M548.1 317.3L549.3 317.5M551.5 317.7L552.7 317.9"/>
<path stroke="#900000" d="M521.6 314.2L522.8 314.3M536.5 315.9L537.6 316.1M543.1 316.7L544.3 316.9M546.5 317.1L547.6 317.3M571.6 320.1L572.8 320.3"/>
<path stroke="#9b0000" d="M523.2 314.4L524.4 314.5M533.2 315.5L534.3 315.7M544.8 316.9L546.0 317.1M549.8 317.5L551.0 317.7M554.8 318.1L556.0 318.3M558.2 318.5L559.4 318.7M564.9 319.3L566.1 319.5M566.6 319.5L567.8 319.7"/>
<path stroke="#cc2d00" d="M524.9 314.6L526.1 314.7M528.2 314.9L529.4 315.1M569.9 319.9L571.1 320.1"/>
<path stroke="#cc3800" d="M526.5 314.7L527.7 314.9"/>
<path stroke="#b30000" d="M529.8 315.1L531.0 315.3M539.8 316.3L541.0 316.5M553.1 317.9L554.3 318.1M556.5 318.3L557.7 318.5M561.5 318.9L562.7 319.1M563.2 319.1L564.4 319.2M578.4 320.9L579.6 321.1"/>
<path stroke="#cb0000" d="M538.1 316.1L539.3 316.3"/>
<path stroke="#bf0000" d="M541.5 316.5L542.6 316.7M573.3 320.3L574.5 320.5M575.0 320.5L576.2 320.7"/>
<path stroke="#840000" d="M559.8 318.7L561.0 318.9M568.3 319.7L569.5 319.9"/>
<path stroke="#cc2100" d="M576.7 320.7L577.9 320.9"/>
<path stroke="#bf0000" d="M519.8 308.9L521.0 309.1M523.1 309.3L524.3 309.5M558.3 313.5L559.5 313.6M561.6 313.9L562.8 314.0M565.0 314.3L566.2 314.4M566.7 314.5L567.9 314.6M571.8 315.1L573.0 315.2"/>
<path stroke="#9b0000" d="M521.5 309.1L522.7 309.3M554.9 313.1L556.1 313.2M563.3 314.1L564.5 314.2"/>
<path stroke="#cb0000" d="M524.8 309.5L526.0 309.7M528.1 309.9L529.3 310.1M539.8 311.3L541.0 311.4M568.4 314.7L569.6 314.8"/>
<path stroke="#a70000" d="M526.5 309.7L527.6 309.9M546.5 312.1L547.7 312.2M548.2 312.3L549.4 312.4M551.5 312.7L552.7 312.8M553.2 312.9L554.4 313.0M559.9 313.7L561.1 313.8M573.5 315.3L574.7 315.4M576.9 315.7L578.1 315.8M578.6 315.9L579.8 316.0"/>
<path stroke="#cc2d00" d="M529.8 310.1L531.0 310.3M533.1 310.5L534.3 310.6"/>
<path stroke="#b30000" d="M531.4 310.3L532.6 310.5M536.4 310.9L537.6 311.0M541.5 311.5L542.6 311.6M543.1 311.7L544.3 311.8M549.8 312.5L551.0 312.6M556.6 313.3L557.8 313.4M575.2 315.5L576.4 315.6"/>
<path stroke="#cc0a00" d="M534.8 310.7L536.0 310.8"/>
<path stroke="#900000" d="M538.1 311.1L539.3 311.2"/>
<path stroke="#cc2100" d="M544.8 311.9L546.0 312.0"/>
<path stroke="#cc1600" d="M570.1 314.9L571.3 315.0"/>
<path stroke="#9b0000" d="M519.7 303.9L520.9 304.0M556.7 308.2L557.9 308.3"/>
<path stroke="#bf0000" d="M521.4 304.1L522.6 304.2M526.4 304.7L527.6 304.8M531.4 305.2L532.6 305.4M538.1 306.0L539.3 306.2M548.2 307.2L549.4 307.3M563.4 309.0L564.7 309.1M568.5 309.6L569.8 309.7"/>
<path stroke="#b30000" d="M523.1 304.3L524.2 304.4M524.7 304.5L525.9 304.6M533.1 305.4L534.3 305.6M541.5 306.4L542.7 306.5M544.8 306.8L546.0 306.9M546.5 307.0L547.7 307.1M551.6 307.6L552.8 307.7M561.7 308.8L563.0 308.9M565.1 309.2L566.4 309.3M570.3 309.8L571.5 309.9M577.1 310.5L578.3 310.7"/>
<path stroke="#900000" d="M528.1 304.8L529.2 305.0M529.7 305.0L530.9 305.2M553.3 307.8L554.5 307.9M555.0 308.0L556.2 308.1M572.0 310.0L573.2 310.1"/>
<path stroke="#cb0000" d="M534.7 305.6L535.9 305.8M536.4 305.8L537.6 306.0M566.8 309.4L568.1 309.5"/>
<path stroke="#a70000" d="M539.8 306.2L541.0 306.3M558.3 308.4L559.6 308.5M560.0 308.6L561.3 308.7M573.7 310.2L574.9 310.3"/>
<path stroke="#cc3800" d="M543.1 306.6L544.3 306.7"/>
<path stroke="#cc2d00" d="M549.9 307.4L551.1 307.5"/>
<path stroke="#cc0a00" d="M575.4 310.3L576.6 310.5"/>
<path stroke="#cc7200" d="M578.8 310.7L580.0 310.9"/>
<path stroke="#cc2100" d="M519.6 298.8L520.8 298.9M539.8 301.1L541.0 301.2M543.2 301.5L544.4 301.6M553.3 302.6L554.5 302.8"/>
<path stroke="#a70000" d="M521.3 298.9L522.5 299.1M524.6 299.3L525.8 299.5M541.5 301.3L542.7 301.4M551.6 302.4L552.8 302.6M560.1 303.4L561.4 303.6M567.0 304.2L568.2 304.3M568.7 304.4L569.9 304.5M573.8 305.0L575.1 305.1"/>
<path stroke="#900000" d="M523.0 299.1L524.2 299.3M528.0 299.7L529.2 299.9M548.2 302.0L549.4 302.2M561.9 303.6L563.1 303.8"/>
<path stroke="#b30000" d="M526.3 299.5L527.5 299.7M534.7 300.5L535.9 300.6M538.1 300.9L539.3 301.0M549.9 302.2L551.1 302.4M555.0 302.8L556.2 303.0M565.3 304.0L566.5 304.1M572.1 304.8L573.3 304.9M575.6 305.2L576.8 305.3M577.3 305.4L578.5 305.5"/>
<path stroke="#cc1600" d="M529.7 299.9L530.9 300.0M544.8 301.7L546.1 301.8"/>
<path stroke="#cc2d00" d="M531.4 300.1L532.5 300.2"/>
<path stroke="#cb0000" d="M533.0 300.3L534.2 300.4"/>
<path stroke="#9b0000" d="M536.4 300.7L537.6 300.8M546.5 301.9L547.7 302.0M563.6 303.8L564.8 303.9M570.4 304.6L571.6 304.7"/>
<path stroke="#840000" d="M556.7 303.0L558.0 303.2M558.4 303.2L559.7 303.4"/>
<path stroke="#bf0000" d="M579.0 305.6L580.2 305.7"/>
<path stroke="#cc2100" d="M519.5 293.6L520.7 293.7M574.0 299.8L575.3 299.9M579.2 300.4L580.4 300.5"/>
<path stroke="#a70000" d="M521.2 293.8L522.4 293.9M526.2 294.3L527.4 294.5M531.3 294.9L532.5 295.1M546.6 296.7L547.8 296.8M558.5 298.0L559.8 298.2M563.7 298.6L564.9 298.7"/>
<path stroke="#cb0000" d="M522.9 294.0L524.1 294.1"/>
<path stroke="#900000" d="M524.6 294.2L525.8 294.3M538.1 295.7L539.3 295.8M541.5 296.1L542.7 296.2M550.0 297.0L551.2 297.2M555.1 297.6L556.3 297.8M560.3 298.2L561.5 298.3M562.0 298.4L563.2 298.5M565.4 298.8L566.6 298.9M567.1 299.0L568.4 299.1"/>
<path stroke="#6c0000" d="M527.9 294.5L529.1 294.7"/>
<path stroke="#9b0000" d="M529.6 294.7L530.8 294.9M536.4 295.5L537.6 295.6M548.3 296.8L549.5 297.0M553.4 297.4L554.6 297.6M568.8 299.2L570.1 299.3"/>
<path stroke="#cc2d00" d="M533.0 295.1L534.2 295.2M577.5 300.2L578.7 300.3"/>
<path stroke="#cc1600" d="M534.7 295.3L535.9 295.4M539.8 295.9L541.0 296.0M544.9 296.5L546.1 296.6"/>
<path stroke="#bf0000" d="M543.2 296.3L544.4 296.4"/>
<path stroke="#b30000" d="M551.7 297.2L552.9 297.4M556.8 297.8L558.0 298.0"/>
<path stroke="#840000" d="M570.6 299.4L571.8 299.5M572.3 299.6L573.5 299.7"/>
<path stroke="#780000" d="M575.8 300.0L577.0 300.1"/>
<path stroke="#840000" stroke-width="3.1" d="M519.4 288.3L520.6 288.5M551.8 292.0L553.0 292.1"/>
<path stroke="#9b0000" stroke-width="3.1" d="M521.1 288.5L522.3 288.7M524.5 288.9L525.7 289.1M526.2 289.1L527.4 289.2M539.8 290.6L541.0 290.8M560.4 292.9L561.6 293.1M567.3 293.7L568.5 293.9M575.9 294.7L577.2 294.8M577.7 294.9L578.9 295.0M579.4 295.1L580.7 295.2"/>
<path stroke="#cc3800" stroke-width="3.1" d="M522.8 288.7L524.0 288.9"/>
<path stroke="#a70000" stroke-width="3.1" d="M527.9 289.3L529.1 289.4M533.0 289.9L534.2 290.0M544.9 291.2L546.1 291.3M550.0 291.8L551.3 291.9M570.7 294.1L572.0 294.3"/>
<path stroke="#900000" stroke-width="3.1" d="M529.6 289.5L530.8 289.6M538.1 290.4L539.3 290.6M555.2 292.4L556.4 292.5M565.5 293.5L566.8 293.7M569.0 293.9L570.2 294.1"/>
<path stroke="#cc2d00" stroke-width="3.1" d="M531.3 289.7L532.5 289.8"/>
<path stroke="#cc2100" stroke-width="3.1" d="M534.7 290.1L535.9 290.2M572.5 294.3L573.7 294.4"/>
<path stroke="#cc1600" stroke-width="3.1" d="M536.4 290.3L537.6 290.4M556.9 292.6L558.1 292.7M574.2 294.5L575.4 294.6"/>
<path stroke="#bf0000" stroke-width="3.1" d="M541.5 290.8L542.7 291.0"/>
<path stroke="#b30000" stroke-width="3.1" d="M543.2 291.0L544.4 291.2M558.6 292.8L559.9 292.9M562.1 293.1L563.3 293.3M563.8 293.3L565.0 293.5"/>
<path stroke="#780000" stroke-width="3.1" d="M546.6 291.4L547.8 291.5M553.5 292.2L554.7 292.3"/>
<path stroke="#cc7d00" stroke-width="3.1" d="M548.3 291.6L549.5 291.7"/>
<path stroke="#840000" d="M517.8 327.1L518.9 327.3M551.1 331.2L552.3 331.4M554.4 331.6L555.6 331.8M562.9 332.7L564.1 332.8M567.9 333.3L569.2 333.4"/>
<path stroke="#a70000" d="M519.4 327.3L520.6 327.5M521.1 327.5L522.2 327.7M522.7 327.7L523.9 327.9M526.0 328.1L527.2 328.3M527.7 328.4L528.9 328.5M529.4 328.6L530.5 328.7M537.7 329.6L538.9 329.7M547.7 330.8L548.9 330.9M561.2 332.4L562.4 332.6M564.6 332.9L565.8 333.0M569.6 333.5L570.8 333.6M573.0 333.9L574.2 334.0M576.4 334.3L577.6 334.5"/>
<path stroke="#bf0000" d="M524.4 327.9L525.6 328.1M534.3 329.2L535.5 329.3M536.0 329.4L537.2 329.5M549.4 331.0L550.6 331.2M559.5 332.2L560.7 332.4"/>
<path stroke="#b30000" d="M531.0 328.8L532.2 328.9M556.1 331.8L557.3 332.0M574.7 334.1L575.9 334.3"/>
<path stroke="#9b0000" d="M532.7 329.0L533.9 329.1M539.4 329.8L540.5 329.9M552.8 331.4L554.0 331.6M557.8 332.0L559.0 332.2M571.3 333.7L572.5 333.8"/>
<path stroke="#900000" d="M541.0 330.0L542.2 330.1M542.7 330.2L543.9 330.3M544.4 330.4L545.6 330.5M546.0 330.6L547.2 330.7"/>
<path stroke="#cc1600" d="M566.3 333.1L567.5 333.2"/>
<path stroke="#900000" d="M517.6 322.2L518.8 322.3M529.3 323.6L530.5 323.7M531.0 323.8L532.2 323.9M541.0 325.0L542.2 325.1M542.7 325.2L543.9 325.3M556.2 326.8L557.4 327.0M559.6 327.2L560.8 327.4M576.6 329.3L577.8 329.5"/>
<path stroke="#9b0000" d="M519.3 322.4L520.5 322.5M521.0 322.6L522.1 322.7M536.0 324.4L537.2 324.5M544.4 325.4L545.6 325.5M557.9 327.0L559.1 327.2M568.1 328.3L569.3 328.4M571.5 328.7L572.7 328.8M574.9 329.1L576.1 329.2"/>
<path stroke="#840000" d="M522.6 322.8L523.8 322.9M526.0 323.2L527.1 323.3M527.6 323.4L528.8 323.5M532.6 324.0L533.8 324.1M537.7 324.6L538.9 324.7M547.8 325.8L549.0 326.0M569.8 328.5L571.0 328.6M573.2 328.9L574.4 329.0"/>
<path stroke="#a70000" d="M524.3 323.0L525.5 323.1M534.3 324.2L535.5 324.3M546.1 325.6L547.3 325.8M552.8 326.4L554.0 326.6M554.5 326.6L555.7 326.8M563.0 327.7L564.2 327.8"/>
<path stroke="#cc2100" d="M539.3 324.8L540.5 324.9M549.4 326.0L550.6 326.2M566.4 328.1L567.6 328.2"/>
<path stroke="#780000" d="M551.1 326.2L552.3 326.4M561.3 327.4L562.5 327.6"/>
<path stroke="#cc3800" d="M564.7 327.9L565.9 328.0"/>
<path stroke="#9b0000" d="M517.5 317.1L518.7 317.3M520.9 317.5L522.1 317.7M522.5 317.7L523.7 317.9M537.7 319.6L538.9 319.7M541.0 320.0L542.2 320.1M549.5 321.0L550.7 321.1M551.2 321.2L552.4 321.3M573.4 323.8L574.6 324.0M576.8 324.2L578.0 324.4"/>
<path stroke="#a70000" d="M519.2 317.3L520.4 317.5M527.6 318.3L528.8 318.5M539.3 319.8L540.5 319.9M563.1 322.6L564.3 322.7M564.8 322.8L566.0 323.0M569.9 323.4L571.2 323.6M571.7 323.6L572.9 323.8"/>
<path stroke="#b30000" d="M524.2 317.9L525.4 318.1M532.6 319.0L533.8 319.1M544.4 320.4L545.6 320.5M547.8 320.8L549.0 320.9M554.6 321.6L555.8 321.7"/>
<path stroke="#840000" d="M525.9 318.1L527.1 318.3M546.1 320.6L547.3 320.7"/>
<path stroke="#bf0000" d="M529.2 318.5L530.4 318.7"/>
<path stroke="#900000" d="M530.9 318.7L532.1 318.9M556.3 321.8L557.5 321.9M561.4 322.4L562.6 322.5M566.5 323.0L567.7 323.2"/>
<path stroke="#cc3800" d="M534.3 319.2L535.5 319.3"/>
<path stroke="#cc2d00" d="M536.0 319.4L537.2 319.5M568.2 323.2L569.5 323.4"/>
<path stroke="#cc1600" d="M542.7 320.2L543.9 320.3M559.7 322.2L560.9 322.3"/>
<path stroke="#780000" d="M552.9 321.4L554.1 321.5"/>
<path stroke="#cc2100" d="M558.0 322.0L559.2 322.1M575.1 324.0L576.3 324.2"/>
<path stroke="#9b0000" d="M517.4 312.1L518.6 312.2M520.8 312.5L522.0 312.6M524.1 312.9L525.3 313.0M529.2 313.5L530.4 313.6M537.6 314.5L538.8 314.6M541.0 314.9L542.2 315.0M559.8 317.1L561.0 317.2M564.9 317.7L566.2 317.8M566.7 317.9L567.9 318.1M573.6 318.7L574.8 318.9"/>
<path stroke="#b30000" d="M519.1 312.3L520.3 312.4M522.4 312.7L523.6 312.8M532.6 313.9L533.8 314.0M547.8 315.7L549.0 315.8M554.7 316.5L555.9 316.6M563.2 317.5L564.4 317.6"/>
<path stroke="#900000" d="M525.8 313.1L527.0 313.2M534.2 314.1L535.5 314.2M556.4 316.7L557.6 316.8M561.5 317.3L562.7 317.4"/>
<path stroke="#cc1600" d="M527.5 313.3L528.7 313.4"/>
<path stroke="#a70000" d="M530.9 313.7L532.1 313.8M535.9 314.3L537.1 314.4M539.3 314.7L540.5 314.8M542.7 315.1L543.9 315.2M558.1 316.9L559.3 317.0M568.4 318.1L569.6 318.3M571.8 318.5L573.1 318.7"/>
<path stroke="#840000" d="M544.4 315.3L545.6 315.4M551.2 316.1L552.5 316.2"/>
<path stroke="#bf0000" d="M546.1 315.5L547.3 315.6M575.3 318.9L576.5 319.1"/>
<path stroke="#cc2d00" d="M549.5 315.9L550.8 316.0M577.0 319.1L578.2 319.3"/>
<path stroke="#cc2100" d="M552.9 316.3L554.2 316.4M570.1 318.3L571.3 318.5"/>
<path stroke="#900000" d="M517.3 306.9L518.5 307.1M532.5 308.7L533.7 308.9M546.2 310.3L547.4 310.5M547.9 310.5L549.1 310.7M549.6 310.7L550.8 310.9"/>
<path stroke="#a70000" d="M519.0 307.1L520.2 307.3M524.0 307.7L525.2 307.9M535.9 309.1L537.1 309.3M537.6 309.3L538.8 309.5M544.4 310.1L545.7 310.3M558.2 311.7L559.4 311.9M572.0 313.4L573.2 313.5M577.2 314.0L578.4 314.1"/>
<path stroke="#cc2d00" d="M520.7 307.3L521.9 307.5M527.4 308.1L528.6 308.3"/>
<path stroke="#9b0000" d="M522.3 307.5L523.5 307.7M530.8 308.5L532.0 308.7M541.0 309.7L542.2 309.9M542.7 309.9L544.0 310.1M554.7 311.3L556.0 311.5M563.3 312.3L564.6 312.5M568.5 312.9L569.8 313.1M570.3 313.1L571.5 313.3M575.5 313.8L576.7 313.9"/>
<path stroke="#b30000" d="M525.7 307.9L526.9 308.1M553.0 311.1L554.2 311.3M556.5 311.5L557.7 311.7M566.8 312.7L568.0 312.9"/>
<path stroke="#cb0000" d="M529.1 308.3L530.3 308.5"/>
<path stroke="#840000" d="M534.2 308.9L535.4 309.1M539.3 309.5L540.5 309.7M561.6 312.1L562.8 312.3"/>
<path stroke="#bf0000" d="M551.3 310.9L552.5 311.1M573.7 313.6L575.0 313.7"/>
<path stroke="#cc3800" d="M559.9 311.9L561.1 312.1M565.1 312.5L566.3 312.7"/>
<path stroke="#cc2d00" d="M517.2 301.8L518.4 301.9M572.2 308.1L573.4 308.3"/>
<path stroke="#840000" d="M518.9 302.0L520.1 302.1M527.4 302.9L528.6 303.1M535.9 303.9L537.1 304.1"/>
<path stroke="#a70000" d="M520.5 302.2L521.8 302.3M522.2 302.4L523.5 302.5M529.1 303.1L530.3 303.3M539.3 304.3L540.5 304.5M542.7 304.7L544.0 304.9M544.5 304.9L545.7 305.1M553.1 305.9L554.3 306.1M554.8 306.1L556.0 306.3M561.7 306.9L563.0 307.1M563.5 307.1L564.7 307.3M570.4 307.9L571.7 308.1M573.9 308.3L575.2 308.5"/>
<path stroke="#9b0000" d="M523.9 302.5L525.2 302.7M525.6 302.7L526.9 302.9M530.8 303.3L532.0 303.5M534.2 303.7L535.4 303.9M537.6 304.1L538.8 304.3M547.9 305.3L549.1 305.5M556.5 306.3L557.8 306.5M565.2 307.3L566.4 307.5"/>
<path stroke="#cc2100" d="M532.5 303.5L533.7 303.7"/>
<path stroke="#bf0000" d="M541.0 304.5L542.3 304.7"/>
<path stroke="#b30000" d="M546.2 305.1L547.4 305.3M558.3 306.5L559.5 306.7"/>
<path stroke="#900000" d="M549.6 305.5L550.9 305.7M551.4 305.7L552.6 305.9M560.0 306.7L561.2 306.9M566.9 307.5L568.2 307.7M575.7 308.5L576.9 308.7"/>
<path stroke="#6c0000" d="M568.7 307.7L569.9 307.9"/>
<path stroke="#cc7200" d="M577.4 308.7L578.6 308.9"/>
<path stroke="#a70000" d="M517.0 296.5L518.2 296.7M534.1 298.5L535.4 298.6M556.6 301.1L557.9 301.2M574.1 303.1L575.3 303.2M577.6 303.5L578.9 303.6"/>
<path stroke="#9b0000" d="M518.7 296.7L519.9 296.9M523.9 297.3L525.1 297.4M529.0 297.9L530.2 298.0M535.9 298.7L537.1 298.8M537.6 298.9L538.8 299.0M541.0 299.3L542.3 299.4M554.9 300.9L556.1 301.0M560.1 301.5L561.3 301.6M568.8 302.5L570.1 302.6M572.3 302.9L573.6 303.0"/>
<path stroke="#900000" d="M520.4 296.9L521.7 297.1M525.6 297.5L526.8 297.6"/>
<path stroke="#840000" d="M522.1 297.1L523.4 297.2M527.3 297.7L528.5 297.8M532.4 298.3L533.7 298.4M544.5 299.7L545.7 299.8M551.4 300.5L552.6 300.6M561.8 301.7L563.1 301.8M563.6 301.9L564.8 302.0"/>
<path stroke="#600000" d="M530.7 298.1L531.9 298.2"/>
<path stroke="#cc2d00" d="M539.3 299.1L540.5 299.2"/>
<path stroke="#cc2100" d="M542.8 299.5L544.0 299.6M546.2 299.9L547.4 300.0M565.3 302.1L566.6 302.2M570.6 302.7L571.8 302.8"/>
<path stroke="#780000" d="M547.9 300.1L549.2 300.2M553.1 300.7L554.4 300.8"/>
<path stroke="#b30000" d="M549.7 300.3L550.9 300.4M575.8 303.3L577.1 303.4"/>
<path stroke="#cb0000" d="M558.4 301.3L559.6 301.4"/>
<path stroke="#bf0000" d="M567.1 302.3L568.3 302.4"/>
<path stroke="#9b0000" stroke-width="3.1" d="M516.9 291.2L518.1 291.4M520.3 291.6L521.6 291.8M525.5 292.2L526.7 292.3M541.0 294.0L542.3 294.1M556.7 295.7L558.0 295.9M560.2 296.1L561.5 296.3M562.0 296.3L563.2 296.5M567.2 296.9L568.5 297.1M572.5 297.5L573.8 297.7M574.3 297.7L575.5 297.9"/>
<path stroke="#b30000" stroke-width="3.1" d="M518.6 291.4L519.8 291.6M522.0 291.8L523.3 291.9M542.8 294.2L544.0 294.3M549.7 294.9L551.0 295.1M553.2 295.3L554.5 295.5"/>
<path stroke="#cc2d00" stroke-width="3.1" d="M523.8 292.0L525.0 292.1M530.7 292.8L531.9 292.9M570.7 297.3L572.0 297.5"/>
<path stroke="#cc2100" stroke-width="3.1" d="M527.2 292.4L528.4 292.5M532.4 293.0L533.6 293.1"/>
<path stroke="#900000" stroke-width="3.1" d="M528.9 292.6L530.2 292.7M535.8 293.4L537.1 293.5M537.6 293.6L538.8 293.7M565.5 296.7L566.7 296.9M569.0 297.1L570.2 297.3"/>
<path stroke="#780000" stroke-width="3.1" d="M534.1 293.2L535.3 293.3M551.5 295.1L552.7 295.3"/>
<path stroke="#cc1600" stroke-width="3.1" d="M539.3 293.8L540.5 293.9"/>
<path stroke="#840000" stroke-width="3.1" d="M544.5 294.4L545.7 294.5M548.0 294.7L549.2 294.9M558.5 295.9L559.7 296.1M576.0 297.9L577.3 298.1"/>
<path stroke="#cc8900" stroke-width="3.1" d="M546.2 294.5L547.5 294.7"/>
<path stroke="#a70000" stroke-width="3.1" d="M555.0 295.5L556.2 295.7M563.7 296.5L565.0 296.7M577.8 298.1L579.1 298.3"/>
<path stroke="#780000" d="M515.3 330.5L516.5 330.7M518.7 330.9L519.8 331.1M520.3 331.1L521.5 331.3M522.0 331.4L523.2 331.5M523.7 331.6L524.9 331.7M527.1 332.0L528.3 332.1M537.2 333.2L538.4 333.4M547.4 334.5L548.6 334.6M550.8 334.9L552.0 335.0M567.9 337.0L569.1 337.2M574.8 337.9L576.0 338.0"/>
<path stroke="#6f0000" d="M517.0 330.7L518.2 330.9M530.4 332.4L531.6 332.5M538.9 333.4L540.1 333.6M540.6 333.6L541.8 333.8M544.0 334.1L545.2 334.2M555.9 335.5L557.1 335.7M562.8 336.4L564.0 336.5M573.1 337.6L574.3 337.8"/>
<path stroke="#9e1100" d="M525.4 331.8L526.6 331.9M532.1 332.6L533.3 332.7"/>
<path stroke="#8b0000" d="M528.7 332.2L529.9 332.3M535.5 333.0L536.7 333.2M554.2 335.3L555.4 335.5M566.2 336.8L567.4 336.9M569.6 337.2L570.9 337.4"/>
<path stroke="#660000" d="M533.8 332.8L535.0 333.0M542.3 333.8L543.5 334.0"/>
<path stroke="#9e2300" d="M545.7 334.3L546.9 334.4M557.6 335.7L558.8 335.9"/>
<path stroke="#810000" d="M549.1 334.7L550.3 334.8M561.1 336.2L562.3 336.3M564.5 336.6L565.7 336.7M571.4 337.4L572.6 337.6"/>
<path stroke="#940000" d="M552.5 335.1L553.7 335.3"/>
<path stroke="#9e1a00" d="M559.3 336.0L560.6 336.1"/>
<path stroke="#9e1a00" d="M515.2 325.5L516.4 325.6M525.3 326.7L526.5 326.9"/>
<path stroke="#6f0000" d="M516.9 325.7L518.1 325.9M523.6 326.5L524.8 326.7M527.0 326.9L528.2 327.1M537.2 328.2L538.4 328.3M542.3 328.8L543.5 329.0M545.7 329.2L546.9 329.4M550.8 329.9L552.1 330.0M564.6 331.5L565.8 331.7"/>
<path stroke="#810000" d="M518.5 325.9L519.7 326.1M528.7 327.1L529.9 327.3M552.6 330.1L553.8 330.2M562.9 331.3L564.1 331.5M571.5 332.4L572.8 332.5"/>
<path stroke="#8b0000" d="M520.2 326.1L521.4 326.3M547.4 329.4L548.6 329.6"/>
<path stroke="#5d0000" d="M521.9 326.3L523.1 326.5M538.9 328.4L540.1 328.5M575.0 332.8L576.2 332.9"/>
<path stroke="#9e1100" d="M530.4 327.4L531.6 327.5"/>
<path stroke="#660000" d="M532.1 327.6L533.3 327.7M544.0 329.0L545.2 329.2M549.1 329.6L550.4 329.8M556.0 330.5L557.2 330.6M557.7 330.7L558.9 330.8"/>
<path stroke="#780000" d="M533.8 327.8L535.0 327.9M535.5 328.0L536.7 328.1M540.6 328.6L541.8 328.7M554.3 330.3L555.5 330.4M561.2 331.1L562.4 331.3M566.3 331.7L567.6 331.9M568.1 332.0L569.3 332.1M569.8 332.2L571.0 332.3"/>
<path stroke="#9e2300" d="M559.4 330.9L560.7 331.0"/>
<path stroke="#9e2c00" d="M573.3 332.6L574.5 332.7"/>
<path stroke="#940000" d="M515.0 320.4L516.2 320.6M528.6 322.1L529.8 322.2M532.0 322.5L533.2 322.6M557.8 325.6L559.0 325.7"/>
<path stroke="#6f0000" d="M516.7 320.6L517.9 320.8M530.3 322.3L531.5 322.4M533.7 322.7L535.0 322.8M537.2 323.1L538.4 323.2M547.5 324.3L548.7 324.5"/>
<path stroke="#810000" d="M518.4 320.8L519.6 321.0M525.2 321.6L526.4 321.8M544.0 323.9L545.2 324.1M545.7 324.1L547.0 324.3M552.6 325.0L553.9 325.1M554.4 325.2L555.6 325.3M561.3 326.0L562.5 326.1M571.7 327.3L572.9 327.4M575.2 327.7L576.4 327.8"/>
<path stroke="#9e2300" d="M520.1 321.0L521.3 321.2M538.9 323.3L540.1 323.4"/>
<path stroke="#8b0000" d="M521.8 321.2L523.0 321.4M526.9 321.9L528.1 322.0M556.1 325.4L557.3 325.5M564.7 326.4L566.0 326.6M566.5 326.6L567.7 326.8"/>
<path stroke="#780000" d="M523.5 321.4L524.7 321.6M540.6 323.5L541.8 323.7M559.5 325.8L560.8 325.9M563.0 326.2L564.2 326.4M568.2 326.8L569.5 327.0M573.4 327.5L574.7 327.6"/>
<path stroke="#9e2c00" d="M535.4 322.9L536.7 323.0"/>
<path stroke="#9e1100" d="M542.3 323.7L543.5 323.9M549.2 324.5L550.4 324.7"/>
<path stroke="#9e1a00" d="M550.9 324.7L552.1 324.9"/>
<path stroke="#660000" d="M570.0 327.0L571.2 327.2"/>
<path stroke="#810000" d="M514.9 315.3L516.1 315.4M520.0 315.9L521.2 316.0M532.0 317.3L533.2 317.5M549.2 319.4L550.5 319.5M551.0 319.6L552.2 319.7M552.7 319.8L553.9 319.9M559.6 320.6L560.9 320.8M561.4 320.8L562.6 321.0"/>
<path stroke="#780000" d="M516.6 315.5L517.8 315.6M518.3 315.7L519.5 315.8M521.7 316.1L522.9 316.2M528.6 316.9L529.8 317.1M540.6 318.4L541.8 318.5M547.5 319.2L548.7 319.3M566.6 321.5L567.9 321.6M568.4 321.7L569.6 321.8M570.1 321.9L571.4 322.0M573.6 322.3L574.9 322.4"/>
<path stroke="#6f0000" d="M523.4 316.3L524.6 316.5M525.1 316.5L526.3 316.7M530.3 317.1L531.5 317.3M533.7 317.5L534.9 317.7M544.0 318.8L545.3 318.9"/>
<path stroke="#5d0000" d="M526.8 316.7L528.1 316.9M557.9 320.4L559.1 320.6"/>
<path stroke="#8b0000" d="M535.4 317.7L536.6 317.9M545.8 319.0L547.0 319.1M554.4 320.0L555.7 320.2M556.2 320.2L557.4 320.4M575.4 322.5L576.6 322.7"/>
<path stroke="#940000" d="M537.1 317.9L538.4 318.1"/>
<path stroke="#9e2300" d="M538.9 318.1L540.1 318.3"/>
<path stroke="#660000" d="M542.3 318.6L543.5 318.7"/>
<path stroke="#9e1a00" d="M563.1 321.0L564.4 321.2"/>
<path stroke="#9e1100" d="M564.9 321.3L566.1 321.4M571.9 322.1L573.1 322.2"/>
<path stroke="#810000" d="M514.8 310.1L516.0 310.2M516.5 310.3L517.7 310.4M518.2 310.5L519.4 310.6M526.8 311.5L528.0 311.7M528.5 311.7L529.7 311.9M537.1 312.7L538.4 312.9M544.1 313.6L545.3 313.7M552.8 314.6L554.0 314.7M561.5 315.6L562.7 315.8M570.3 316.7L571.5 316.8M572.0 316.9L573.3 317.0"/>
<path stroke="#8b0000" d="M519.9 310.7L521.1 310.9M523.3 311.1L524.6 311.3M533.7 312.3L534.9 312.5"/>
<path stroke="#780000" d="M521.6 310.9L522.8 311.1M525.0 311.3L526.3 311.5M530.2 311.9L531.4 312.1M551.0 314.4L552.3 314.5M559.7 315.4L561.0 315.6M568.5 316.4L569.8 316.6M573.8 317.1L575.1 317.2"/>
<path stroke="#9e1100" d="M531.9 312.1L533.2 312.3"/>
<path stroke="#940000" d="M535.4 312.5L536.6 312.7M575.6 317.3L576.8 317.4"/>
<path stroke="#6f0000" d="M538.9 312.9L540.1 313.1M540.6 313.1L541.8 313.3M545.8 313.8L547.0 313.9M563.2 315.8L564.5 316.0M566.8 316.2L568.0 316.4"/>
<path stroke="#660000" d="M542.3 313.4L543.6 313.5M547.5 314.0L548.8 314.1"/>
<path stroke="#9e1a00" d="M549.3 314.2L550.5 314.3M554.5 314.8L555.7 314.9"/>
<path stroke="#9e2300" d="M556.2 315.0L557.5 315.1M558.0 315.2L559.2 315.3M565.0 316.0L566.3 316.2"/>
<path stroke="#9e1100" d="M514.6 304.9L515.8 305.0M528.4 306.5L529.7 306.6M563.4 310.5L564.6 310.7"/>
<path stroke="#9d0000" d="M516.3 305.1L517.6 305.2"/>
<path stroke="#9e2300" d="M518.1 305.3L519.3 305.4M525.0 306.1L526.2 306.2M574.0 311.8L575.2 311.9"/>
<path stroke="#940000" d="M519.8 305.5L521.0 305.6M521.5 305.7L522.7 305.8M533.6 307.1L534.9 307.2M542.3 308.1L543.6 308.2M554.6 309.5L555.8 309.7M558.1 309.9L559.3 310.1M566.9 311.0L568.2 311.1"/>
<path stroke="#9e1a00" d="M523.2 305.9L524.5 306.0M545.8 308.5L547.1 308.6M568.7 311.2L569.9 311.3"/>
<path stroke="#780000" d="M526.7 306.3L527.9 306.4M537.1 307.5L538.3 307.6M540.6 307.9L541.8 308.0M544.1 308.3L545.3 308.4M556.3 309.7L557.6 309.9"/>
<path stroke="#8b0000" d="M530.2 306.7L531.4 306.8M531.9 306.9L533.1 307.0M535.4 307.3L536.6 307.4M549.3 308.9L550.6 309.0M559.8 310.1L561.1 310.3M565.1 310.7L566.4 310.9M570.4 311.4L571.7 311.5M575.8 312.0L577.0 312.1"/>
<path stroke="#810000" d="M538.8 307.7L540.1 307.8M547.6 308.7L548.8 308.8M552.8 309.3L554.1 309.5M561.6 310.3L562.9 310.5"/>
<path stroke="#9e2c00" d="M551.1 309.1L552.3 309.3"/>
<path stroke="#6f0000" d="M572.2 311.6L573.5 311.7"/>
<path stroke="#780000" d="M514.5 299.6L515.7 299.7M521.4 300.4L522.6 300.5M523.1 300.6L524.4 300.7M528.4 301.2L529.6 301.3M538.8 302.4L540.1 302.5M540.6 302.6L541.8 302.7M544.1 303.0L545.3 303.1M547.6 303.4L548.9 303.5"/>
<path stroke="#9e1100" d="M516.2 299.8L517.4 299.9M526.6 301.0L527.9 301.1M545.8 303.2L547.1 303.3"/>
<path stroke="#940000" d="M517.9 300.0L519.2 300.1M530.1 301.4L531.3 301.5"/>
<path stroke="#6f0000" d="M519.7 300.2L520.9 300.3M542.3 302.8L543.6 302.9M551.1 303.8L552.4 303.9M554.7 304.2L555.9 304.3M563.5 305.2L564.8 305.4M568.8 305.8L570.1 306.0"/>
<path stroke="#9e1a00" d="M524.9 300.8L526.1 300.9"/>
<path stroke="#810000" d="M531.8 301.6L533.1 301.7M537.1 302.2L538.3 302.3M549.4 303.6L550.6 303.7M556.4 304.4L557.7 304.5M560.0 304.8L561.2 304.9M561.7 305.0L563.0 305.1M565.3 305.4L566.5 305.6M567.0 305.6L568.3 305.8M570.6 306.0L571.9 306.2M572.4 306.2L573.6 306.4"/>
<path stroke="#660000" d="M533.6 301.8L534.8 301.9"/>
<path stroke="#8b0000" d="M535.3 302.0L536.6 302.1M552.9 304.0L554.1 304.1M558.2 304.6L559.4 304.7"/>
<path stroke="#9d0000" d="M574.2 306.4L575.4 306.6"/>
<path stroke="#9e5800" d="M575.9 306.6L577.2 306.8"/>
<path stroke="#8b0000" stroke-width="3.1" d="M514.3 294.2L515.6 294.3M537.1 296.8L538.3 296.9M549.4 298.2L550.7 298.3M565.4 300.0L566.7 300.2"/>
<path stroke="#810000" stroke-width="3.1" d="M516.1 294.4L517.3 294.5M528.3 295.8L529.5 295.9M530.0 296.0L531.3 296.1M538.8 297.0L540.1 297.1M547.6 298.0L548.9 298.1M551.2 298.4L552.4 298.5M561.8 299.6L563.1 299.8M569.0 300.4L570.3 300.6M576.1 301.2L577.4 301.4"/>
<path stroke="#660000" stroke-width="3.1" d="M517.8 294.6L519.1 294.7M540.6 297.2L541.8 297.3M553.0 298.6L554.2 298.7M556.5 299.0L557.8 299.1"/>
<path stroke="#6f0000" stroke-width="3.1" d="M519.6 294.8L520.8 294.9M535.3 296.6L536.6 296.7M545.9 297.8L547.1 297.9M572.6 300.8L573.8 301.0M574.3 301.0L575.6 301.2"/>
<path stroke="#9d0000" stroke-width="3.1" d="M521.3 295.0L522.5 295.1"/>
<path stroke="#9e2300" stroke-width="3.1" d="M523.0 295.2L524.3 295.3M563.6 299.8L564.9 300.0"/>
<path stroke="#9e1100" stroke-width="3.1" d="M524.8 295.4L526.0 295.5"/>
<path stroke="#5d0000" stroke-width="3.1" d="M526.5 295.6L527.8 295.7M560.1 299.4L561.3 299.6"/>
<path stroke="#940000" stroke-width="3.1" d="M531.8 296.2L533.0 296.3M558.3 299.2L559.5 299.3"/>
<path stroke="#780000" stroke-width="3.1" d="M533.6 296.4L534.8 296.5M554.7 298.8L556.0 298.9M567.2 300.2L568.5 300.4M570.8 300.6L572.0 300.8"/>
<path stroke="#9e2c00" stroke-width="3.1" d="M542.3 297.4L543.6 297.5"/>
<path stroke="#9e6a00" stroke-width="3.1" d="M544.1 297.6L545.4 297.7"/>
<path stroke="#d10000" d="M512.8 334.0L514.0 334.2M516.2 334.4L517.4 334.6M517.9 334.6L519.1 334.8M529.8 336.1L531.0 336.3M536.7 337.0L537.9 337.1M540.1 337.4L541.4 337.6M545.3 338.1L546.5 338.2M564.4 340.4L565.6 340.6M571.4 341.3L572.6 341.4"/>
<path stroke="#b40000" d="M514.5 334.2L515.7 334.4M523.0 335.3L524.2 335.4M533.3 336.6L534.5 336.7M535.0 336.8L536.2 336.9M538.4 337.2L539.6 337.3"/>
<path stroke="#c20000" d="M519.6 334.9L520.8 335.0M550.5 338.7L551.7 338.9M555.7 339.3L556.9 339.5M569.6 341.1L570.9 341.2"/>
<path stroke="#e00000" d="M521.3 335.1L522.5 335.2M524.7 335.5L525.9 335.6M543.6 337.8L544.8 338.0M547.0 338.3L548.3 338.4M560.9 340.0L562.2 340.1M562.7 340.2L563.9 340.4M567.9 340.9L569.1 341.0"/>
<path stroke="#ff3800" d="M526.4 335.7L527.6 335.9"/>
<path stroke="#ef0000" d="M528.1 335.9L529.3 336.1M531.5 336.3L532.8 336.5M566.1 340.6L567.4 340.8M573.1 341.5L574.4 341.7"/>
<path stroke="#ffd600" d="M541.9 337.6L543.1 337.8"/>
<path stroke="#ff1b00" d="M548.8 338.5L550.0 338.6"/>
<path stroke="#ff0d00" d="M552.2 338.9L553.5 339.1"/>
<path stroke="#ff2a00" d="M554.0 339.1L555.2 339.3"/>
<path stroke="#fe0000" d="M557.4 339.6L558.7 339.7M559.2 339.8L560.4 339.9"/>
<path stroke="#d10000" d="M512.6 328.9L513.8 329.1M517.7 329.6L519.0 329.7M519.5 329.8L520.7 329.9M521.2 330.0L522.4 330.1M526.3 330.6L527.6 330.8M529.8 331.0L531.0 331.2M533.2 331.5L534.4 331.6M538.4 332.1L539.6 332.3M540.1 332.3L541.4 332.5M547.1 333.2L548.3 333.3M550.6 333.6L551.8 333.7M571.6 336.2L572.8 336.3"/>
<path stroke="#ef0000" d="M514.3 329.1L515.5 329.3M524.6 330.4L525.8 330.6M548.8 333.4L550.1 333.5M555.8 334.2L557.0 334.4M561.0 334.9L562.3 335.0"/>
<path stroke="#ff2a00" d="M516.0 329.4L517.3 329.5"/>
<path stroke="#e00000" d="M522.9 330.2L524.1 330.3M534.9 331.7L536.2 331.8M543.6 332.7L544.8 332.9M552.3 333.8L553.5 334.0M566.3 335.5L567.5 335.7"/>
<path stroke="#b40000" d="M528.0 330.8L529.3 331.0M531.5 331.3L532.7 331.4M568.0 335.7L569.3 335.9"/>
<path stroke="#ff1b00" d="M536.7 331.9L537.9 332.0"/>
<path stroke="#ff9d00" d="M541.9 332.5L543.1 332.7"/>
<path stroke="#c20000" d="M545.3 333.0L546.6 333.1M554.0 334.0L555.3 334.2M559.3 334.7L560.5 334.8"/>
<path stroke="#fe0000" d="M557.5 334.5L558.8 334.6M569.8 336.0L571.1 336.1M573.3 336.4L574.6 336.5"/>
<path stroke="#ff3800" d="M562.8 335.1L564.0 335.2"/>
<path stroke="#ff4700" d="M564.5 335.3L565.8 335.5"/>
<path stroke="#e00000" d="M512.5 323.8L513.7 323.9M519.3 324.6L520.6 324.8M521.1 324.8L522.3 325.0M522.8 325.0L524.0 325.2M538.4 326.9L539.6 327.1M540.1 327.2L541.4 327.3M548.9 328.2L550.1 328.4M555.9 329.1L557.1 329.2M566.4 330.4L567.7 330.5"/>
<path stroke="#c20000" d="M514.2 324.0L515.4 324.2M526.3 325.5L527.5 325.6M529.7 325.9L530.9 326.0M534.9 326.5L536.2 326.7M550.6 328.4L551.9 328.6M554.1 328.9L555.4 329.0M557.6 329.3L558.9 329.4M559.4 329.5L560.6 329.7M561.1 329.7L562.4 329.9M564.7 330.1L565.9 330.3M568.2 330.6L569.5 330.7M571.7 331.0L573.0 331.2M573.5 331.2L574.8 331.4"/>
<path stroke="#a50000" d="M515.9 324.2L517.1 324.4M543.6 327.6L544.9 327.7M545.4 327.8L546.6 327.9"/>
<path stroke="#b40000" d="M517.6 324.4L518.9 324.6M531.4 326.1L532.7 326.3M533.2 326.3L534.4 326.5M552.4 328.6L553.6 328.8"/>
<path stroke="#d10000" d="M524.5 325.3L525.8 325.4M528.0 325.7L529.2 325.8M536.7 326.7L537.9 326.9M562.9 329.9L564.2 330.1M570.0 330.8L571.2 330.9"/>
<path stroke="#ffd600" d="M541.9 327.4L543.1 327.5"/>
<path stroke="#ef0000" d="M547.1 328.0L548.4 328.2"/>
<path stroke="#d10000" d="M512.3 318.6L513.5 318.7M515.8 319.0L517.0 319.2M564.8 324.9L566.1 325.1"/>
<path stroke="#e00000" d="M514.0 318.8L515.3 319.0M533.1 321.1L534.4 321.3M534.9 321.3L536.1 321.5M550.7 323.2L551.9 323.4"/>
<path stroke="#ff3800" d="M517.5 319.2L518.7 319.4M536.6 321.5L537.9 321.7M538.4 321.7L539.6 321.9M561.3 324.5L562.5 324.6"/>
<path stroke="#c20000" d="M519.2 319.4L520.5 319.6M552.4 323.4L553.7 323.6M556.0 323.8L557.2 324.0M557.7 324.1L559.0 324.2M559.5 324.3L560.7 324.4M568.3 325.3L569.6 325.5M570.1 325.6L571.4 325.7"/>
<path stroke="#ef0000" d="M521.0 319.6L522.2 319.8M547.1 322.8L548.4 322.9"/>
<path stroke="#ff4700" d="M522.7 319.9L523.9 320.0M545.4 322.6L546.6 322.7"/>
<path stroke="#ff2a00" d="M524.4 320.1L525.7 320.2"/>
<path stroke="#a50000" d="M526.2 320.3L527.4 320.4M527.9 320.5L529.2 320.6M529.7 320.7L530.9 320.8"/>
<path stroke="#b40000" d="M531.4 320.9L532.6 321.0M543.6 322.4L544.9 322.5M548.9 323.0L550.2 323.2M563.0 324.7L564.3 324.9M566.6 325.1L567.8 325.3M573.7 326.0L574.9 326.1"/>
<path stroke="#960000" d="M540.1 321.9L541.4 322.1M571.9 325.8L573.2 325.9"/>
<path stroke="#ffab00" d="M541.9 322.2L543.1 322.3"/>
<path stroke="#ff1b00" d="M554.2 323.6L555.4 323.8"/>
<path stroke="#c20000" d="M512.2 313.4L513.4 313.5M519.1 314.2L520.4 314.3M524.3 314.8L525.6 314.9M529.6 315.4L530.8 315.6M550.7 317.9L552.0 318.1M552.5 318.1L553.8 318.3M556.0 318.6L557.3 318.7M570.3 320.3L571.6 320.4"/>
<path stroke="#b40000" d="M513.9 313.6L515.1 313.7M531.3 315.6L532.6 315.8M534.9 316.1L536.1 316.2M536.6 316.3L537.9 316.4M545.4 317.3L546.7 317.5M561.4 319.2L562.6 319.4M564.9 319.6L566.2 319.8"/>
<path stroke="#ff1b00" d="M515.6 313.8L516.9 313.9M517.4 314.0L518.6 314.1M557.8 318.8L559.1 318.9"/>
<path stroke="#a50000" d="M520.9 314.4L522.1 314.5M522.6 314.6L523.8 314.7M543.7 317.1L544.9 317.2M547.2 317.5L548.4 317.7M563.1 319.4L564.4 319.6"/>
<path stroke="#d10000" d="M526.1 315.0L527.3 315.2M533.1 315.8L534.3 316.0M538.4 316.5L539.6 316.6M540.1 316.7L541.4 316.8M548.9 317.7L550.2 317.9M559.6 319.0L560.9 319.1M566.7 319.8L568.0 320.0M568.5 320.1L569.8 320.2"/>
<path stroke="#ff4700" d="M527.8 315.2L529.1 315.4M554.3 318.4L555.5 318.5"/>
<path stroke="#ffd600" d="M541.9 316.9L543.1 317.0"/>
<path stroke="#960000" d="M572.1 320.5L573.3 320.6"/>
<path stroke="#fe0000" d="M573.9 320.7L575.1 320.8"/>
<path stroke="#e00000" d="M512.0 308.0L513.2 308.2M513.8 308.3L515.0 308.4M517.2 308.7L518.5 308.8M520.7 309.1L522.0 309.2M552.6 312.8L553.8 313.0M556.1 313.2L557.4 313.4M557.9 313.4L559.2 313.6M574.0 315.3L575.3 315.5"/>
<path stroke="#ef0000" d="M515.5 308.5L516.7 308.6M524.3 309.5L525.5 309.6M529.5 310.1L530.8 310.3M540.1 311.4L541.4 311.5M550.8 312.6L552.0 312.8M561.5 313.9L562.8 314.0M570.4 314.9L571.7 315.1"/>
<path stroke="#c20000" d="M519.0 308.9L520.2 309.0M545.4 312.0L546.7 312.1M549.0 312.4L550.3 312.5"/>
<path stroke="#fe0000" d="M522.5 309.3L523.8 309.4M536.6 310.9L537.8 311.1"/>
<path stroke="#d10000" d="M526.0 309.7L527.3 309.8M531.3 310.3L532.5 310.5M534.8 310.7L536.1 310.9M543.7 311.8L544.9 311.9M566.9 314.5L568.1 314.6"/>
<path stroke="#b40000" d="M527.8 309.9L529.0 310.0M563.3 314.1L564.5 314.2M565.1 314.3L566.3 314.4"/>
<path stroke="#ff2a00" d="M533.1 310.5L534.3 310.7M554.3 313.0L555.6 313.2"/>
<path stroke="#ff1b00" d="M538.4 311.1L539.6 311.3M559.7 313.7L561.0 313.8"/>
<path stroke="#ffd600" d="M541.9 311.6L543.2 311.7"/>
<path stroke="#ff4700" d="M547.2 312.2L548.5 312.3"/>
<path stroke="#ff3800" d="M568.7 314.7L569.9 314.9"/>
<path stroke="#a50000" d="M572.2 315.1L573.5 315.3"/>
<path stroke="#ff2a00" d="M511.8 302.7L513.1 302.8M554.4 307.6L555.7 307.8"/>
<path stroke="#c20000" d="M513.6 302.9L514.9 303.0M518.9 303.5L520.1 303.6M520.6 303.7L521.9 303.8M525.9 304.3L527.2 304.5M531.2 304.9L532.5 305.1M550.8 307.2L552.1 307.4M552.6 307.4L553.9 307.6M559.8 308.3L561.1 308.4"/>
<path stroke="#e00000" d="M515.4 303.1L516.6 303.2M533.0 305.1L534.3 305.3M540.1 306.0L541.4 306.1M545.5 306.6L546.7 306.7M567.0 309.1L568.3 309.2"/>
<path stroke="#ef0000" d="M517.1 303.3L518.4 303.4M547.3 306.8L548.5 306.9M572.4 309.7L573.7 309.9"/>
<path stroke="#ff1b00" d="M522.4 303.9L523.7 304.1M543.7 306.4L545.0 306.5"/>
<path stroke="#d10000" d="M524.2 304.1L525.4 304.3M538.3 305.8L539.6 305.9M556.2 307.8L557.5 308.0M558.0 308.0L559.3 308.2M565.2 308.9L566.5 309.0M574.2 309.9L575.5 310.1"/>
<path stroke="#ff3800" d="M527.7 304.5L529.0 304.7M534.8 305.3L536.1 305.5M561.6 308.5L562.9 308.6"/>
<path stroke="#a50000" d="M529.5 304.7L530.7 304.9"/>
<path stroke="#b40000" d="M536.6 305.6L537.8 305.7M549.0 307.0L550.3 307.2M563.4 308.7L564.7 308.8M568.8 309.3L570.1 309.4"/>
<path stroke="#ffd600" d="M541.9 306.2L543.2 306.3"/>
<path stroke="#ff0d00" d="M570.6 309.5L571.9 309.7"/>
<path stroke="#ff6300" stroke-width="3.1" d="M511.7 297.3L512.9 297.4M543.7 300.9L545.0 301.1"/>
<path stroke="#ff9d00" stroke-width="3.1" d="M513.5 297.5L514.7 297.6M520.5 298.3L521.8 298.4M527.6 299.1L528.9 299.2M531.2 299.5L532.5 299.6M569.0 303.8L570.3 304.0M570.8 304.0L572.1 304.2"/>
<path stroke="#ffba00" stroke-width="3.1" d="M515.2 297.7L516.5 297.8M540.1 300.5L541.4 300.7M558.1 302.6L559.4 302.7"/>
<path stroke="#ffab00" stroke-width="3.1" d="M517.0 297.9L518.2 298.0M559.9 302.8L561.2 302.9"/>
<path stroke="#ffc800" stroke-width="3.1" d="M518.8 298.1L520.0 298.2M533.0 299.7L534.2 299.8M538.3 300.3L539.6 300.5M541.9 300.7L543.2 300.9"/>
<path stroke="#ff8000" stroke-width="3.1" d="M522.3 298.5L523.6 298.6M529.4 299.3L530.7 299.4M536.5 300.1L537.8 300.3M550.9 301.8L552.2 301.9M554.5 302.2L555.8 302.3M567.2 303.6L568.4 303.8"/>
<path stroke="#ff7200" stroke-width="3.1" d="M524.1 298.7L525.3 298.8M572.6 304.3L573.9 304.4"/>
<path stroke="#ff4700" stroke-width="3.1" d="M525.9 298.9L527.1 299.0M545.5 301.1L546.8 301.3M547.3 301.3L548.6 301.5"/>
<path stroke="#ff5500" stroke-width="3.1" d="M534.8 299.9L536.0 300.1"/>
<path stroke="#ffd600" stroke-width="3.1" d="M549.1 301.6L550.4 301.7M552.7 302.0L554.0 302.1"/>
<path stroke="#ff8e00" stroke-width="3.1" d="M556.3 302.4L557.6 302.5M574.4 304.5L575.7 304.6"/>
<path stroke="#ffff04" stroke-width="3.1" d="M561.7 303.0L563.0 303.1"/>
<path stroke="#fff300" stroke-width="3.1" d="M563.5 303.2L564.8 303.4M565.3 303.4L566.6 303.6"/>
</g>
<polygon points="556.6,275.4 557.7,313.5 541.5,339.5 543.9,293.0" fill="#6c6c6c" fill-opacity="0.35"/>
<text x="41.2" y="352.4" font-family="Liberation Sans" font-size="6.2" text-anchor="middle" dominant-baseline="central" transform="rotate(-27 41.2 352.4)" textLength="13" stroke="#000" stroke-width="0.1" lengthAdjust="spacingAndGlyphs">1925</text>
<text x="52.0" y="353.6" font-family="Liberation Sans" font-size="6.2" text-anchor="middle" dominant-baseline="central" transform="rotate(-27 52.0 353.6)" textLength="13" stroke="#000" stroke-width="0.1" lengthAdjust="spacingAndGlyphs">1950</text>
<text x="63.8" y="355.7" font-family="Liberation Sans" font-size="6.2" text-anchor="middle" dominant-baseline="central" transform="rotate(-27 63.8 355.7)" textLength="13" stroke="#000" stroke-width="0.1" lengthAdjust="spacingAndGlyphs">1975</text>
<text x="74.7" y="357.4" font-family="Liberation Sans" font-size="6.2" text-anchor="middle" dominant-baseline="central" transform="rotate(-27 74.7 357.4)" textLength="13" stroke="#000" stroke-width="0.1" lengthAdjust="spacingAndGlyphs">2000</text>
<text x="86.3" y="359.0" font-family="Liberation Sans" font-size="6.2" text-anchor="middle" dominant-baseline="central" transform="rotate(-27 86.3 359.0)" textLength="13" stroke="#000" stroke-width="0.1" lengthAdjust="spacingAndGlyphs">2025</text>
<text x="97.8" y="360.9" font-family="Liberation Sans" font-size="6.2" text-anchor="middle" dominant-baseline="central" transform="rotate(-27 97.8 360.9)" textLength="13" stroke="#000" stroke-width="0.1" lengthAdjust="spacingAndGlyphs">2050</text>
<text x="109.0" y="362.4" font-family="Liberation Sans" font-size="6.2" text-anchor="middle" dominant-baseline="central" transform="rotate(-27 109.0 362.4)" textLength="13" stroke="#000" stroke-width="0.1" lengthAdjust="spacingAndGlyphs">2075</text>
<text x="72.5" y="365.2" font-family="Liberation Sans" font-size="8.6" text-anchor="middle" dominant-baseline="central" transform="rotate(9.7 72.5 365.2)" textLength="54.0" lengthAdjust="spacingAndGlyphs" stroke="#000" stroke-width="0.12">Sequence step</text>
<text x="30.4" y="320.3" font-family="Liberation Sans" font-size="8.2" text-anchor="middle" dominant-baseline="central" transform="rotate(90.0 30.4 320.3)" textLength="39.0" lengthAdjust="spacingAndGlyphs" stroke="#000" stroke-width="0.12">Cov. y-axis</text>
<text x="128.4" y="341.5" font-family="Liberation Sans" font-size="8.2" text-anchor="middle" dominant-baseline="central" transform="rotate(-61.0 128.4 341.5)" textLength="40.0" lengthAdjust="spacingAndGlyphs" stroke="#000" stroke-width="0.12">Cov. x-axis</text>
<text x="199.2" y="352.4" font-family="Liberation Sans" font-size="6.2" text-anchor="middle" dominant-baseline="central" transform="rotate(-27 199.2 352.4)" textLength="13" stroke="#000" stroke-width="0.1" lengthAdjust="spacingAndGlyphs">1925</text>
<text x="210.0" y="353.6" font-family="Liberation Sans" font-size="6.2" text-anchor="middle" dominant-baseline="central" transform="rotate(-27 210.0 353.6)" textLength="13" stroke="#000" stroke-width="0.1" lengthAdjust="spacingAndGlyphs">1950</text>
<text x="221.8" y="355.7" font-family="Liberation Sans" font-size="6.2" text-anchor="middle" dominant-baseline="central" transform="rotate(-27 221.8 355.7)" textLength="13" stroke="#000" stroke-width="0.1" lengthAdjust="spacingAndGlyphs">1975</text>
<text x="232.7" y="357.4" font-family="Liberation Sans" font-size="6.2" text-anchor="middle" dominant-baseline="central" transform="rotate(-27 232.7 357.4)" textLength="13" stroke="#000" stroke-width="0.1" lengthAdjust="spacingAndGlyphs">2000</text>
<text x="244.3" y="359.0" font-family="Liberation Sans" font-size="6.2" text-anchor="middle" dominant-baseline="central" transform="rotate(-27 244.3 359.0)" textLength="13" stroke="#000" stroke-width="0.1" lengthAdjust="spacingAndGlyphs">2025</text>
<text x="255.8" y="360.9" font-family="Liberation Sans" font-size="6.2" text-anchor="middle" dominant-baseline="central" transform="rotate(-27 255.8 360.9)" textLength="13" stroke="#000" stroke-width="0.1" lengthAdjust="spacingAndGlyphs">2050</text>
<text x="267.0" y="362.4" font-family="Liberation Sans" font-size="6.2" text-anchor="middle" dominant-baseline="central" transform="rotate(-27 267.0 362.4)" textLength="13" stroke="#000" stroke-width="0.1" lengthAdjust="spacingAndGlyphs">2075</text>
<text x="230.5" y="365.2" font-family="Liberation Sans" font-size="8.6" text-anchor="middle" dominant-baseline="central" transform="rotate(9.7 230.5 365.2)" textLength="54.0" lengthAdjust="spacingAndGlyphs" stroke="#000" stroke-width="0.12">Sequence step</text>
<text x="188.4" y="320.3" font-family="Liberation Sans" font-size="8.2" text-anchor="middle" dominant-baseline="central" transform="rotate(90.0 188.4 320.3)" textLength="39.0" lengthAdjust="spacingAndGlyphs" stroke="#000" stroke-width="0.12">Cov. y-axis</text>
<text x="286.4" y="341.5" font-family="Liberation Sans" font-size="8.2" text-anchor="middle" dominant-baseline="central" transform="rotate(-61.0 286.4 341.5)" textLength="40.0" lengthAdjust="spacingAndGlyphs" stroke="#000" stroke-width="0.12">Cov. x-axis</text>
<text x="356.7" y="352.4" font-family="Liberation Sans" font-size="6.2" text-anchor="middle" dominant-baseline="central" transform="rotate(-27 356.7 352.4)" textLength="13" stroke="#000" stroke-width="0.1" lengthAdjust="spacingAndGlyphs">1925</text>
<text x="367.5" y="353.6" font-family="Liberation Sans" font-size="6.2" text-anchor="middle" dominant-baseline="central" transform="rotate(-27 367.5 353.6)" textLength="13" stroke="#000" stroke-width="0.1" lengthAdjust="spacingAndGlyphs">1950</text>
<text x="379.3" y="355.7" font-family="Liberation Sans" font-size="6.2" text-anchor="middle" dominant-baseline="central" transform="rotate(-27 379.3 355.7)" textLength="13" stroke="#000" stroke-width="0.1" lengthAdjust="spacingAndGlyphs">1975</text>
<text x="390.2" y="357.4" font-family="Liberation Sans" font-size="6.2" text-anchor="middle" dominant-baseline="central" transform="rotate(-27 390.2 357.4)" textLength="13" stroke="#000" stroke-width="0.1" lengthAdjust="spacingAndGlyphs">2000</text>
<text x="401.8" y="359.0" font-family="Liberation Sans" font-size="6.2" text-anchor="middle" dominant-baseline="central" transform="rotate(-27 401.8 359.0)" textLength="13" stroke="#000" stroke-width="0.1" lengthAdjust="spacingAndGlyphs">2025</text>
<text x="413.3" y="360.9" font-family="Liberation Sans" font-size="6.2" text-anchor="middle" dominant-baseline="central" transform="rotate(-27 413.3 360.9)" textLength="13" stroke="#000" stroke-width="0.1" lengthAdjust="spacingAndGlyphs">2050</text>
<text x="424.5" y="362.4" font-family="Liberation Sans" font-size="6.2" text-anchor="middle" dominant-baseline="central" transform="rotate(-27 424.5 362.4)" textLength="13" stroke="#000" stroke-width="0.1" lengthAdjust="spacingAndGlyphs">2075</text>
<text x="388.0" y="365.2" font-family="Liberation Sans" font-size="8.6" text-anchor="middle" dominant-baseline="central" transform="rotate(9.7 388.0 365.2)" textLength="54.0" lengthAdjust="spacingAndGlyphs" stroke="#000" stroke-width="0.12">Sequence step</text>
<text x="345.9" y="320.3" font-family="Liberation Sans" font-size="8.2" text-anchor="middle" dominant-baseline="central" transform="rotate(90.0 345.9 320.3)" textLength="39.0" lengthAdjust="spacingAndGlyphs" stroke="#000" stroke-width="0.12">Cov. y-axis</text>
<text x="443.9" y="341.5" font-family="Liberation Sans" font-size="8.2" text-anchor="middle" dominant-baseline="central" transform="rotate(-61.0 443.9 341.5)" textLength="40.0" lengthAdjust="spacingAndGlyphs" stroke="#000" stroke-width="0.12">Cov. x-axis</text>
<text x="507.0" y="350.6" font-family="Liberation Sans" font-size="6.2" text-anchor="middle" dominant-baseline="central" transform="rotate(-27 507.0 350.6)" textLength="13" stroke="#000" stroke-width="0.1" lengthAdjust="spacingAndGlyphs">1925</text>
<text x="517.5" y="352.0" font-family="Liberation Sans" font-size="6.2" text-anchor="middle" dominant-baseline="central" transform="rotate(-27 517.5 352.0)" textLength="13" stroke="#000" stroke-width="0.1" lengthAdjust="spacingAndGlyphs">1950</text>
<text x="528.0" y="353.5" font-family="Liberation Sans" font-size="6.2" text-anchor="middle" dominant-baseline="central" transform="rotate(-27 528.0 353.5)" textLength="13" stroke="#000" stroke-width="0.1" lengthAdjust="spacingAndGlyphs">1975</text>
<text x="538.5" y="354.5" font-family="Liberation Sans" font-size="6.2" text-anchor="middle" dominant-baseline="central" transform="rotate(-27 538.5 354.5)" textLength="13" stroke="#000" stroke-width="0.1" lengthAdjust="spacingAndGlyphs">2000</text>
<text x="549.0" y="355.5" font-family="Liberation Sans" font-size="6.2" text-anchor="middle" dominant-baseline="central" transform="rotate(-27 549.0 355.5)" textLength="13" stroke="#000" stroke-width="0.1" lengthAdjust="spacingAndGlyphs">2025</text>
<text x="559.5" y="356.2" font-family="Liberation Sans" font-size="6.2" text-anchor="middle" dominant-baseline="central" transform="rotate(-27 559.5 356.2)" textLength="13" stroke="#000" stroke-width="0.1" lengthAdjust="spacingAndGlyphs">2050</text>
<text x="569.7" y="357.0" font-family="Liberation Sans" font-size="6.2" text-anchor="middle" dominant-baseline="central" transform="rotate(-27 569.7 357.0)" textLength="13" stroke="#000" stroke-width="0.1" lengthAdjust="spacingAndGlyphs">2075</text>
<text x="535.8" y="362.5" font-family="Liberation Sans" font-size="8.6" text-anchor="middle" dominant-baseline="central" transform="rotate(8.5 535.8 362.5)" textLength="52.0" lengthAdjust="spacingAndGlyphs" stroke="#000" stroke-width="0.12">Sequence step</text>
<text x="497.0" y="318.0" font-family="Liberation Sans" font-size="8.2" text-anchor="middle" dominant-baseline="central" transform="rotate(90.0 497.0 318.0)" textLength="39.0" lengthAdjust="spacingAndGlyphs" stroke="#000" stroke-width="0.12">Cov. y-axis</text>
<text x="588.7" y="340.5" font-family="Liberation Sans" font-size="8.2" text-anchor="middle" dominant-baseline="central" transform="rotate(-60.0 588.7 340.5)" textLength="40.0" lengthAdjust="spacingAndGlyphs" stroke="#000" stroke-width="0.12">Cov. x-axis</text>
<defs><linearGradient id="hotg" x1="0" y1="1" x2="0" y2="0">
<stop offset="0.00" stop-color="#000000"/>
<stop offset="0.05" stop-color="#220000"/>
<stop offset="0.10" stop-color="#450000"/>
<stop offset="0.15" stop-color="#680000"/>
<stop offset="0.20" stop-color="#8b0000"/>
<stop offset="0.25" stop-color="#ae0000"/>
<stop offset="0.30" stop-color="#d10000"/>
<stop offset="0.35" stop-color="#f40000"/>
<stop offset="0.40" stop-color="#ff1700"/>
<stop offset="0.45" stop-color="#ff3900"/>
<stop offset="0.50" stop-color="#ff5b00"/>
<stop offset="0.55" stop-color="#ff7d00"/>
<stop offset="0.60" stop-color="#ff9f00"/>
<stop offset="0.65" stop-color="#ffc100"/>
<stop offset="0.70" stop-color="#ffe300"/>
<stop offset="0.75" stop-color="#ffff08"/>
<stop offset="0.80" stop-color="#ffff3a"/>
<stop offset="0.85" stop-color="#ffff6b"/>
<stop offset="0.90" stop-color="#ffff9c"/>
<stop offset="0.95" stop-color="#ffffcd"/>
<stop offset="1.00" stop-color="#ffffff"/>
</linearGradient></defs>
<rect x="606.9" y="278.1" width="6.5" height="61.4" fill="url(#hotg)" stroke="#444" stroke-width="0.5"/>
<line x1="613.4" y1="278.1" x2="615" y2="278.1" stroke="#333" stroke-width="0.5"/>
<text x="615.6" y="278.1" font-family="Liberation Sans" font-size="6" dominant-baseline="central" textLength="7.2" lengthAdjust="spacingAndGlyphs">1.0</text>
<line x1="613.4" y1="291.2" x2="615" y2="291.2" stroke="#333" stroke-width="0.5"/>
<text x="615.6" y="291.2" font-family="Liberation Sans" font-size="6" dominant-baseline="central" textLength="7.2" lengthAdjust="spacingAndGlyphs">0.8</text>
<line x1="613.4" y1="304.1" x2="615" y2="304.1" stroke="#333" stroke-width="0.5"/>
<text x="615.6" y="304.1" font-family="Liberation Sans" font-size="6" dominant-baseline="central" textLength="7.2" lengthAdjust="spacingAndGlyphs">0.6</text>
<line x1="613.4" y1="317.0" x2="615" y2="317.0" stroke="#333" stroke-width="0.5"/>
<text x="615.6" y="317.0" font-family="Liberation Sans" font-size="6" dominant-baseline="central" textLength="7.2" lengthAdjust="spacingAndGlyphs">0.4</text>
<line x1="613.4" y1="329.8" x2="615" y2="329.8" stroke="#333" stroke-width="0.5"/>
<text x="615.6" y="329.8" font-family="Liberation Sans" font-size="6" dominant-baseline="central" textLength="7.2" lengthAdjust="spacingAndGlyphs">0.2</text>
</svg></body></html>
